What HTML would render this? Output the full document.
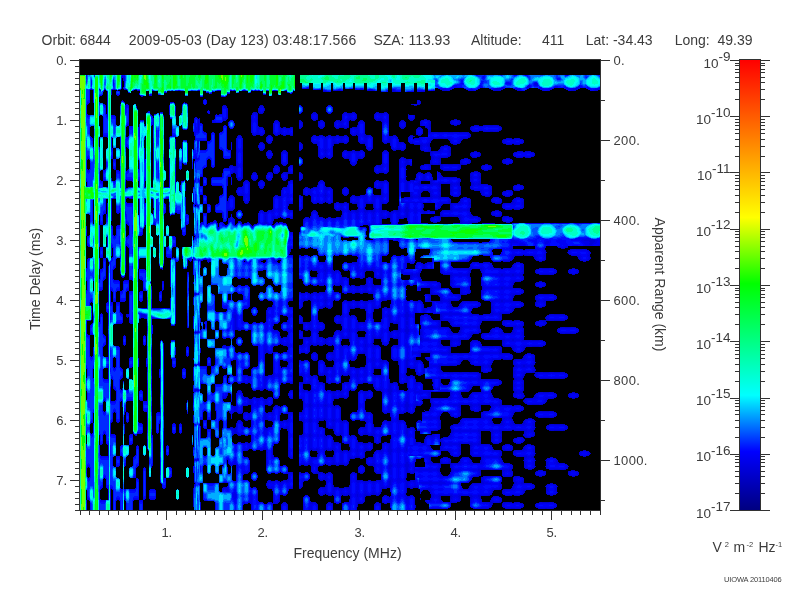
<!DOCTYPE html><html><head><meta charset="utf-8"><style>html,body{margin:0;padding:0;background:#fff;width:800px;height:600px;overflow:hidden}svg{display:block;will-change:transform}text{font-family:"Liberation Sans",sans-serif;fill:#3c3c3c}</style></head><body>
<svg width="800" height="600" viewBox="0 0 800 600">
<defs><linearGradient id="cb" x1="0" y1="0" x2="0" y2="1"><stop offset="0" stop-color="#ff0000"/><stop offset="0.35" stop-color="#ffff00"/><stop offset="0.497" stop-color="#00ff00"/><stop offset="0.745" stop-color="#00ffff"/><stop offset="0.87" stop-color="#0000ff"/><stop offset="1" stop-color="#000080"/></linearGradient></defs>
<text x="41.6" y="44.6" font-size="14" xml:space="preserve">Orbit: 6844</text>
<text x="128.7" y="44.6" font-size="14" xml:space="preserve" textLength="227.6" lengthAdjust="spacing">2009-05-03 (Day 123) 03:48:17.566</text>
<text x="373.4" y="44.6" font-size="14" xml:space="preserve">SZA: 113.93</text>
<text x="471.0" y="44.6" font-size="14" xml:space="preserve">Altitude:</text>
<text x="542.0" y="44.6" font-size="14" xml:space="preserve">411</text>
<text x="585.7" y="44.6" font-size="14" xml:space="preserve">Lat: -34.43</text>
<text x="674.7" y="44.6" font-size="14" xml:space="preserve">Long:  49.39</text>
<rect x="80" y="60" width="520" height="450" fill="#000"/>
<g id="data"><path fill="#0000c9" fill-rule="evenodd" d="M539 502v1h-3v1h-1v3h1v1h2v1h16v-1h2v-1h1v-3h-1v-1h-2v-1zM503 502v1h-1v4h1v1h2v1h16v-1h2v-1h1v-3h-1v-1h-3v-1h-6v1h-2v-1zM376 502v1h-1v1h-1v6h7v-7h-2v-1zM328 502v1h-1v1h-1v6h7v-7h-2v-1zM283 502v1h-1v1h-1v6h7v-6h-1v-1h-1v-1zM420 498v2h1v-2zM305 495v1h-1v1h-1v13h15v-6h-1v-1h-1v-1h-5v-1h-1v-4h-1v-1h-1v-1zM177 489v1h-1v9h1v1h1v-1h1v-9h-1v-1zM150 489v1h-1v9h1v1h5v-1h1v-9h-1v-1zM550 483v1h-3v1h-1v1h-1v1h1v7h1v1h3v1h3v-1h3v-1h1v-1h1v-1h-1v-5h1v-1h-1v-1h-1v-1h-3v-1zM514 476v1h-1v5h1v2h-1v2h-1v2h-1v1h-8v1h-1v4h1v1h2v1h7v-1h2v1h6v-1h3v-1h1v-1h1v-2h1v-1h6v-1h2v-1h1v-3h-1v-1h-2v-1h-8v-5h-1v-1h-3v-1zM299 472v17h2v-1h1v-1h1v-5h1v-1h4v-1h1v-1h1v-5h-1v-1h-1v-1h-3v1h-4v-1zM253 472v1h-1v1h-1v5h1v1h1v1h3v-1h1v-2h1v-3h-1v-2h-1v-1zM571 470v1h-3v4h1v1h3v1h3v-1h3v-1h1v-3h-1v-1h-3v-1zM538 470v1h-2v1h-1v3h1v1h3v1h3v-1h3v-1h1v-4h-3v-1zM187 467v1h-1v9h1v1h1v-1h1v-9h-1v-1zM360 465v1h-1v1h-1v6h2v1h3v-1h1v-1h1v-5h-1v-1h-1v-1zM550 457v1h-3v1h-1v1h-1v1h1v5h-1v1h1v2h3v1h17v-1h2v-2h1v-1h-1v-1h-1v-1h-2v-1h-6v-1h-1v-2h-1v-1h-1v-1h-3v-1zM583 450v1h-3v1h-1v3h1v1h3v1h3v-1h3v-1h1v-1h1v-1h-1v-1h-1v-1h-3v-1zM167 445v1h-1v9h1v1h1v-1h1v-9h-1v-1zM144 445v1h-1v9h1v1h1v-1h1v-9h-1v-1zM527 444v1h-2v1h-1v1h-1v2h-1v1h-8v1h-1v4h1v1h2v1h8v3h-1v1h1v7h1v1h3v1h4v-1h2v-1h1v-1h1v-1h-1v-5h1v-1h-1v-2h-1v-2h1v-2h1v-1h-1v-7h-1v-1h-3v-1zM505 444v1h-2v1h-1v4h1v1h9v-1h1v-4h-1v-1h-2v-1zM517 437v1h-3v1h-1v3h1v1h2v1h5v-1h2v-1h1v-1h1v-2h-1v-1h-1v-1zM192 435v10h1v-10zM549 424v1h-2v1h-1v3h1v1h2v1h16v-1h2v-1h1v-3h-1v-1h-2v-1zM180 423v1h-1v9h1v1h1v-1h1v-9h-1v-1zM173 423v1h-1v9h1v1h2v-1h1v-9h-1v-1zM538 411v1h-2v1h-1v3h1v1h2v1h16v-1h2v-1h1v-3h-1v-1h-2v-1zM187 400v3h-1v7h1v4h1v-14zM572 392v1h-3v1h-1v3h1v1h3v1h3v-1h3v-1h1v-3h-1v-1h-3v-1zM538 392v1h-2v1h-1v1h-1v2h-1v1h-8v1h-1v1h-1v2h1v1h1v1h2v1h16v-1h2v-1h1v-1h1v-2h1v-1h6v-1h2v-1h1v-3h-1v-1h-2v-1zM290 390v1h-1v2h-1v3h1v2h1v1h3v-9zM183 368v1h-1v9h1v1h2v-1h1v-9h-1v-1zM527 353v1h-2v1h-1v1h-1v2h-1v1h-8v1h-1v5h1v2h-1v11h1v2h-1v11h1v2h-1v4h1v1h3v1h6v-1h1v-1h1v-2h-1v-2h-1v-2h1v-11h-1v-2h1v-2h1v-2h1v-1h9v1h-1v2h1v1h1v1h3v1h26v-1h2v-1h1v-3h-1v-1h-2v-1h-30v-1h1v-2h-1v-2h-1v-2h1v-2h1v-1h-1v-7h-1v-1h-3v-1zM313 352v1h-1v1h-1v5h1v1h1v1h4v-1h1v-6h-1v-1h-1v-1zM187 346v1h-1v9h1v1h1v-1h1v-9h-1v-1zM171 340v3h-1v12h1v4h1v8h1v1h2v-1h1v-9h-1v-3h1v-8h-1v-7zM161 340v1h-1v28h-1v9h1v34h-3v1h-1v20h1v1h1v-1h1v-9h1v59h1v1h1v4h1v1h2v-1h1v-10h5v-1h1v-9h-1v-1h-4v1h-1v10h-2v-135h-1v-2h-1v-1zM238 337v1h-1v1h-1v5h1v1h1v1h3v-1h1v-2h1v-3h-1v-2h-1v-1zM144 335v1h-1v9h1v1h1v-1h1v-9h-1v-1zM124 335v1h-1v9h1v1h1v-1h1v-9h-1v-1zM560 327v1h-2v1h-1v3h1v1h2v1h16v-1h2v-1h1v-3h-1v-1h-2v-1zM503 320v1h-1v4h1v1h2v1h8v3h-1v2h-1v1h-7v-1h-1v-2h-1v-1h-1v-1h-2v-1h-4v1h-3v1h-1v1h-1v2h-1v1h-7v1h-1v4h1v1h2v1h18v6h1v1h8v1h1v2h1v1h1v1h2v1h5v-1h2v-1h1v-1h1v-2h1v-1h17v-1h2v-1h1v-3h-1v-1h-2v-1h-19v-3h1v-1h-1v-8h-1v-2h1v-4h-1v-1h-3v-1h-6v1h-2v-1zM549 314v1h-2v1h-1v1h-1v2h1v1h-7v1h-3v1h-1v3h1v1h3v1h3v-1h3v-1h1v-1h1v-2h-1v-1h19v-1h2v-1h1v-3h-1v-1h-2v-1zM253 307v1h-1v1h-1v4h1v2h1v1h3v-1h1v-2h1v-3h-1v-2h-1v-1zM538 294v1h-2v1h-1v4h1v2h-1v4h1v1h3v1h3v-1h3v-1h1v-5h8v-1h2v-1h1v-3h-1v-1h-2v-1zM539 281v1h-3v1h-1v3h1v1h3v1h3v-1h3v-1h1v-3h-1v-1h-3v-1zM162 281v10h-2v1h-1v9h1v1h1v-1h1v-10h1v-1h1v-9zM187 272v56h2v-56zM572 268v1h-3v1h-1v3h1v1h3v1h3v-1h3v-1h1v-3h-1v-1h-3v-1zM539 268v1h-3v1h-1v3h1v1h3v1h15v-1h2v-1h1v-3h-1v-1h-2v-1zM570 249v1h-2v2h-1v1h1v1h1v1h2v1h6v1h1v2h1v1h1v1h3v1h3v-1h3v-1h1v-1h1v-2h-1v-3h1v-2h-1v-1h-1v-1h-2v-1zM503 216v1h-1v4h1v1h3v1h4v-1h2v-1h1v-3h-1v-1h-3v-1zM495 210v1h-3v1h-1v3h1v1h3v1h6v-1h1v-4h-1v-1h-2v-1zM238 210v1h-1v1h-1v5h1v1h1v1h3v-1h1v-2h1v-3h-1v-2h-1v-1zM516 197v1h-2v1h-1v1h-1v2h-1v1h-8v1h-1v4h1v1h2v1h7v-1h2v1h6v-1h3v-1h1v-9h-1v-1h-3v-1zM493 197v1h-1v1h-1v3h1v1h3v1h6v-1h1v-4h-1v-1h-2v-1zM299 195v16h2v-1h1v-1h1v-13h-2v-1zM506 190v1h-3v1h-1v3h1v1h2v1h5v-1h2v-1h1v-4h-1v-1zM344 187v1h-1v1h-1v5h1v1h1v1h3v-1h1v-1h1v-5h-1v-1h-1v-1zM517 184v1h-3v1h-1v4h1v1h6v-1h3v-1h1v-3h-1v-1h-3v-1zM320 180v1h-1v1h-1v3h-1v2h-4v1h-2v1h-1v-1h-2v-1h-3v1h-1v1h-1v6h2v1h3v-1h2v1h1v6h1v1h1v1h4v-1h2v1h4v-1h2v-1h1v1h2v1h3v-1h2v-14h-1v-1h-1v-1h-5v-1h-1v-4h-1v-1h-1v-1zM260 180v1h-1v1h-1v4h1v2h1v1h3v-1h1v-2h1v-4h-1v-1h-1v-1zM245 180v1h-1v1h-1v4h-1v1h-4v1h-1v2h-1v3h1v2h1v1h5v5h1v2h1v1h3v-1h1v-2h1v-19h-1v-1h-1v-1zM299 172v9h2v-1h1v-1h1v-5h-1v-1h-1v-1zM253 172v1h-1v2h-1v4h1v1h1v1h3v-1h1v-1h1v-4h-1v-2h-1v-1zM474 171v1h-3v1h-1v9h1v4h-1v3h1v1h3v1h6v2h1v2h1v1h3v1h5v-1h1v-1h1v-9h-1v-1h-3v-1h-7v-11h-1v-1h-2v-1zM187 170v1h-1v9h1v1h1v-1h1v-9h-1v-1zM290 165v1h-1v1h-1v5h-5v1h-1v1h-1v4h1v2h1v1h3v-1h1v-1h1v-5h5v-9zM275 165v1h-1v2h-1v5h-1v-1h-4v1h-1v2h-1v4h1v1h1v1h3v-1h1v-2h1v-5h1v1h4v-1h1v-1h1v-5h-1v-1h-1v-1zM485 164v1h-3v1h-1v3h1v1h2v1h4v-1h3v-1h1v-3h-1v-1h-3v-1zM506 158v1h-3v1h-1v3h1v1h3v1h3v-1h3v-1h1v-3h-1v-1h-2v-1zM401 157v1h-1v1h-1v47h-1v4h-5v1h-2v1h-2v-1h-2v-1h-5v-6h5v-1h1v-1h1v-20h-1v-1h-1v-1h-3v1h-5v-1h-3v1h-1v1h-1v6h2v1h5v6h-7v-1h-1v-6h-2v-1h-3v1h-1v1h-1v5h-1v1h-5v1h-5v-1h-3v1h-1v1h-1v6h2v1h5v3h1v2h-1v1h-6v1h-1v-1h-1v-7h-2v-1h-3v1h-5v-1h-3v1h-2v6h1v1h1v1h4v-1h1v1h1v4h-1v2h-5v1h-5v-1h-3v1h-2v1h-1v-1h-2v-1h-4v-2h-1v-3h-1v-1h-1v-1h-3v1h-1v1h-1v4h-1v2h-1v-1h-4v1h-1v1h-1v7h-2v1h-1v5h-1v17h2v-1h4v1h3v-1h2v-1h1v1h2v1h4v2h1v4h1v1h5v-1h1v1h1v4h-1v2h-6v-2h-1v-4h-1v-1h-4v1h-2v1h-1v-1h-2v-1h-4v1h-3v-1h-2v24h3v2h1v3h1v1h1v1h3v-1h2v-1h1v1h2v1h4v-1h2v1h5v-1h1v1h1v4h-1v2h-6v1h-2v-1h-4v1h-2v1h-1v-1h-2v-1h-3v1h-4v-1h-2v17h2v-1h1v-1h1v-5h1v-1h4v-1h2v1h1v20h-1v1h-7v-5h-1v-1h-1v-1h-2v9h4v6h2v1h3v-1h2v1h1v5h-1v1h-7v-6h-2v-1h-2v9h4v5h-1v1h-3v9h2v-1h4v1h3v-1h1v-1h1v-6h1v-1h2v1h4v-1h2v1h4v-1h2v-1h1v1h2v1h4v-1h1v1h1v4h-1v2h-5v1h-1v1h-1v5h1v1h1v1h4v-1h1v1h1v4h-1v2h-7v-2h-1v-3h-1v-1h-1v-1h-4v1h-1v14h1v1h5v-1h1v1h1v7h2v1h3v-1h5v1h3v-1h2v-7h1v-1h1v1h5v-1h1v1h1v3h-1v3h-5v1h-2v7h-1v1h-1v-1h-4v1h-5v-1h-4v1h-1v-1h-1v-7h-2v-1h-4v-2h-1v-4h-1v-1h-4v1h-2v-1h-1v-13h-1v-1h-1v-1h-4v1h-3v-1h-2v16h3v1h1v5h-4v17h3v2h1v9h-1v2h-3v9h3v1h1v12h-1v1h-3v31h2v-1h3v1h4v-1h2v1h1v6h1v1h1v1h5v5h1v1h1v1h3v-1h2v1h1v4h-1v2h-5v1h-1v1h-1v5h1v1h1v1h3v-1h2v-1h1v1h2v1h4v-1h1v1h1v7h2v1h3v-1h2v-7h1v-1h1v1h5v-1h1v1h1v3h-1v3h-5v1h-2v7h15v-3h1v-3h5v-1h1v-1h1v-5h1v-1h5v-1h5v1h3v-1h1v-1h1v-2h1v-3h5v-1h3v4h1v4h-1v1h-1v-1h-2v-1h-3v1h-1v1h-1v6h2v1h3v-1h3v5h1v2h24v-2h1v-3h-1v-8h-1v-1h-1v-1h-3v1h-3v-1h-1v-2h1v-5h3v1h3v-1h5v1h2v5h1v-2h1v-1h1v-1h5v1h1v1h1v2h1v4h-1v2h-5v2h1v1h1v1h2v5h19v-1h2v-1h1v-4h6v-1h3v-1h1v-5h8v1h1v10h1v1h2v1h16v-1h2v-1h1v-2h1v-2h8v-1h1v-4h-1v-1h-2v-1h-6v1h-1v1h-1v2h-1v2h-8v-3h-1v-3h9v-1h2v-2h1v-2h1v-1h7v-1h1v-5h-1v-2h1v-5h-1v-1h-18v1h-2v6h-9v1h-1v1h-1v1h-1v2h-1v1h-5v-1h-1v-2h-1v-3h8v-1h1v-1h1v-1h1v-2h1v-1h6v-1h2v-6h21v6h1v1h9v-1h1v-5h-1v-2h1v-4h-1v-1h-2v-1h-6v-1h-1v-2h-1v-2h-1v-2h1v-5h-1v-1h-7v-1h-1v-2h-1v-2h-2v-1h-9v-13h9v1h1v10h1v1h1v1h6v-1h2v-1h1v-11h10v-1h2v1h10v3h-1v2h1v1h1v1h6v-1h3v-1h1v-4h-1v-2h1v-2h1v-1h-1v-5h1v-1h-1v-1h-1v-1h-2v-1h-4v1h-3v1h-1v1h-1v2h-1v1h-7v-1h-1v-2h-1v-2h-1v-2h1v-2h1v-2h1v-1h6v-1h2v-1h1v-3h-1v-1h-2v-1h-7v1h-2v-1h-10v-5h-1v-1h-2v-1h-5v-1h-1v-2h-1v-2h-1v-3h1v-1h1v-2h1v-1h5v-1h2v-1h1v-3h-1v-1h-2v-1h-18v-6h-2v-1h-36v-1h-1v-1h-1v-4h16v-1h3v-1h1v-2h1v-1h1v-1h5v1h1v1h1v2h1v1h3v1h7v6h2v1h5v-1h3v-1h1v-3h-1v-3h1v-2h1v-2h1v-1h7v-1h2v1h9v-1h1v-4h-1v-1h-2v-1h-8v-6h-1v-1h-19v-2h-1v-2h-1v-1h-2v-1h-6v1h-1v1h-1v10h-1v1h-18v-6h6v-1h3v-1h1v-5h8v-1h1v-1h1v-1h1v-2h1v-1h6v-1h2v-4h-1v-4h1v-2h1v-2h19v-1h1v-6h8v-1h2v-1h1v-1h1v-2h1v-1h6v-1h2v-1h1v-3h-1v-1h-2v-1h-8v-3h1v-2h1v-1h6v-1h2v-1h1v-3h-1v-1h-2v-1h-8v-3h1v-2h1v-1h6v-1h2v-1h1v-4h-1v-2h1v-10h-1v-1h-3v-1h-4v1h-2v1h-1v1h-1v2h-1v1h-8v1h-2v-1h-7v-1h-1v-2h-1v-2h-2v-1h-7v1h-4v-1h-7v1h-1v1h-1v3h-1v1h-16v-1h-1v-1h-1v-4h18v-1h1v-1h1v-1h1v-2h1v-1h6v-1h4v1h7v2h1v2h1v1h1v1h8v-1h2v1h7v-1h2v-1h1v-1h1v-2h1v-1h8v-1h1v1h9v1h1v2h1v1h1v1h3v1h3v-1h3v-1h1v-7h1v-1h-1v-2h-1v-2h1v-2h11v1h1v1h3v1h4v-1h3v-2h32v-23h-88v1h-17v-1h-13v1h-10v-1h6v-1h2v-1h1v-3h-1v-1h-2v-1h-5v-1h-1v-1h-1v-2h-1v-4h1v-9h-1v-1h-3v-1h-4v1h-2v1h-1v2h-1v1h-1v1h-7v-4h-1v-1h-1v-1h-8v-13h9v11h1v1h2v1h6v-1h1v-1h1v-9h-1v-4h1v-3h-1v-1h-3v-1h-14v-1h-1v-1h-1v-2h-1v-1h-2v-1h-1v9h-4v-3h-1v-3h-1v-1h-1v-1h-3v1h-2v1h-2v-1h-2v-1h-3v1h-1v1h-1v4h-1v2h-5v1h-3v-1h-1v-3h1v-1h-1v-6h1v-1h-1v-3h1v-1h3v1h2v-7h-6v-1h-2v-1zM441 496h9v6h-7v-1h-1v-1h-1zM407 473h3v1h4v-1h1v7h-5v1h-3v-1h-1v-2h1zM441 464h9v4h1v4h-1v2h-1v1h-1v1h-5v-1h-1v-1h-1v-2h-1v-4h1zM421 458h3v4h1v5h-10v-5h1v-3h5zM326 450h1v1h5v-1h1v1h1v4h-1v2h-7v-2h-1v-4h1zM311 450h1v1h5v2h1v1h-1v3h-6v-1h-1v-5h1zM461 444h8v1h1v10h1v1h1v1h9v3h-1v3h-7v-1h-1v-2h-1v-1h-1v-1h-1v-1h-7v1h-1v1h-1v2h-1v1h-1v1h-7v-4h-1v-1h-2v-1h-5v1h-2v1h-1v4h-7v-1h-1v-1h-1v-4h7v-1h2v-1h1v-4h7v1h1v1h1v2h1v1h2v1h6v-1h1v-1h1zM440 442h1v4h-1v4h-7v-1h-1v-1h-1v-2h-1v-1h10zM324 420h1v1h1v7h2v1h5v2h1v3h1v1h1v1h4v-1h1v1h1v7h2v1h5v3h1v3h-1v1h-1v-1h-5v1h-1v-1h-1v-7h-2v-1h-5v-2h-1v-3h-1v-1h-1v-1h-4v1h-1v-1h-1v-7h-2v-1h-4v-3h-1v-1h1v-2h5zM493 418h9v3h-1v2h-1v1h-6v-1h-1v-2h-1v-2h1zM423 399h7v4h1v4h-1v2h-1v2h-4v-1h-1v1h1v1h-3v9h-1v-1h-3v1h-1v1h-1v6h1v3h3v3h11v-3h7v-1h2v-1h1v-9h-1v-4h1v-2h1v-1h1v-1h5v1h1v1h1v2h1v1h3v1h4v-1h2v-1h1v-11h8v1h1v4h1v1h3v1h5v-1h2v-6h9v1h1v2h-1v2h-1v1h-6v1h-2v6h-19v1h-1v1h-1v2h-1v1h-1v1h-5v1h-2v1h-1v3h1v4h-1v2h-1v1h-1v1h-5v1h-2v1h-1v-5h-8v1h-5v1h-1v1h-1v2h-1v4h-3v-1h-5v-3h-1v-8h1v-1h-1v-2h-1v-1h-4v1h-3v-3h-1v-3h-1v-1h-1v-1h-5v-6h5v-1h2v-1h2v1h2v1h3v-1h1v-1h1v-4h1v-2h5v-1h1v-1h1v-3h-1v-1h1zM431 392h19v4h-1v1h-1v1h-17zM473 386h7v3h1v3h-9v1h-1v1h-1v1h-1v2h-1v1h-5v-1h-1v-2h-1v-3h8v-1h1v-1h1v-1h1v-2h1zM303 384h7v1h1v5h-1v1h-2v-1h-4v-1h-1zM363 383h5v1h5v3h1v2h1v1h1v1h5v1h1v20h1v1h1v1h3v-1h3v4h1v4h-4v-1h-3v1h-1v1h-1v3h-1v2h-7v-3h-1v-10h-1v-1h-1v-1h-5v-2h-1v-9h1v-2h5v-1h1v-1h1v-5h-1v-1h-1v-1h-3v1h-5v-1h-3v1h-1v1h-1v18h-1v2h-5v1h-1v1h-1v5h1v1h1v1h3v-1h5v1h5v1h1v2h-1v3h-5v1h-1v1h-1v5h1v1h1v1h3v-1h5v1h5v1h1v6h2v1h3v-1h2v-6h1v-1h5v-1h4v4h-1v4h-3v-1h-3v1h-2v6h-1v1h-5v1h-1v1h-1v2h-1v3h-5v1h-2v6h1v1h1v1h5v1h1v5h1v1h1v1h5v6h-5v1h-5v-1h-3v1h-5v-1h-6v-7h-2v-1h-3v1h-1v1h-1v11h-1v2h-5v1h-5v-1h-5v-2h-1v-11h-1v-1h-1v-1h-3v1h-2v1h-1v-1h-2v-1h-4v-1h-1v-4h1v-1h4v-1h2v-1h1v1h2v1h3v-1h5v1h3v-1h5v1h3v-1h1v-1h1v-3h1v-2h5v-1h5v1h3v-1h2v-6h1v-1h5v-1h1v-1h1v-6h-2v-1h-3v1h-5v-1h-5v-2h-1v-3h-1v-1h-1v-1h-4v1h-1v-1h-1v-13h-1v-1h-1v-1h-4v1h-1v-1h-1v-13h-1v-1h-1v-1h-4v1h-1v-1h-1v-4h1v-2h5v-1h5v1h3v-1h1v-1h1v-6h1v-1h1v1h4v-1h1v-1h1v-3h1v-2h5zM441 379h9v3h-1v2h-1v1h-5v-1h-1v-1h-1zM374 369h7v6h-7v-1h-1v-1h1zM407 368h3v1h5v3h1v3h2v1h3v-1h2v-1h2v5h7v3h1v2h-1v2h1v3h1v1h-11v-6h-1v-1h-1v-1h-5v-3h-1v-3h-2v-1h-3v1h-3v-1h-1v-2h1zM358 354h7v2h1v9h-1v2h-5v1h-5v-1h-5v-3h-1v-3h1v-1h1v1h4v-1h1v-1h1v-3h1zM421 353h9v4h-5v2h1v1h1v1h2v6h-2v1h-3v-4h-1v-2h-1v-1h-1v-1h-5v-3h5zM441 340h9v6h-7v-1h-1v-1h-1zM342 339h7v3h1v3h-1v1h-1v-1h-5v1h-1v-1h-1v-4h1zM390 338h3v1h5v6h-5v1h-1v1h-1v12h1v1h1v1h5v4h1v18h1v1h4v-1h3v5h1v2h-1v1h-3v-1h-5v-4h-1v-3h-1v-1h-4v1h-3v-4h-1v-17h-1v-1h-1v-1h-5v-1h-1v-12h-1v-1h-1v-1h-5v-1h-1v-1h1v-4h7v3h1v3h2v1h3v-1h1v-1h1v-3h1zM358 331h7v1h1v2h-1v3h-7v-3h-1v-2h1zM390 323h3v1h5v6h-5v1h-2v1h-1v-1h-1v-4h1zM441 321h7v1h1v1h1v2h1v1h1v1h8v3h-1v2h-1v1h-5v-1h-1v-1h-1v-2h-1v-1h-1v-1h-8zM415 313h18v1h7v6h-7v-1h-1v-1h-1v-2h-1v-1h-2v-1h-4v1h-3v1h-1v9h1v4h-1v6h-1v-11h-4zM355 308h5v1h5v2h1v9h-1v2h-7v-2h-1v-3h-1v-1h-1v-1h-4v1h-1v-1h-1v-3h1v-3h5zM387 300h4v4h-1v4h-3v-1h-3v1h-2v11h-1v3h-7v-3h-1v-7h1v-3h5v-1h2v-6h1v-1h5zM431 295h7v1h1v1h1v4h-9zM407 285h3v1h3v-1h4v6h4v-3h9v6h-5v1h-1v1h1v6h7v4h-1v1h-4v1h-3v-4h-1v-2h-1v-1h-1v-1h-3v1h-5v-1h-3v1h-3v-1h-1v-3h1v-1h-1v-6h1v-1h-1v-3h1zM334 285h1v1h5v-1h1v1h1v7h2v1h3v-1h5v1h3v-1h5v1h3v-1h5v1h5v4h1v1h-1v1h-5v1h-5v-1h-3v1h-5v-1h-3v1h-5v-1h-3v1h-1v1h-1v13h-1v1h-1v-1h-4v1h-1v1h-1v5h1v1h1v1h5v2h1v4h-1v1h-1v-1h-4v1h-1v1h-1v3h-1v2h-5v1h-2v1h-1v-1h-2v-1h-4v-3h-1v-1h1v-2h4v-1h1v-1h1v-5h-1v-1h-1v-1h-4v-2h-1v-9h1v-2h4v-1h2v-1h1v1h2v1h3v-1h1v-1h1v-6h1v-1h1v1h4v-1h1v-1h1v-6h-2v-1h-5v-2h-1v-4h1zM401 274h2v1h7v4h-1v1h-7v-1h-1zM311 270h1v1h5v2h1v1h-1v3h-6v-1h-1v-5h1zM472 269h8v2h1v2h1v4h-1v9h1v4h-1v9h1v1h2v1h6v1h1v11h-1v1h-7v1h-4v-1h-7v-1h-1v-2h1v-2h1v-1h5v-1h2v-1h1v-3h-1v-1h-2v-1h-16v1h-1v1h-1v1h-1v2h-1v1h-5v-1h-1v-2h-1v-3h8v-1h1v-1h1v-4h6v-1h3v-1h1v-3h-1v-4h1v-9h-1v-4h1v-3h1zM434 262h6v11h1v1h2v1h7v11h1v1h1v1h8v6h-7v-1h-1v-1h-1v-2h-1v-1h-1v-1h-8v-5h-1v-1h-3v-1h-15v-2h-1v-2h-1v-4h1v-2h1v-2h12zM334 255h1v1h4v-1h5v1h3v-1h5v1h5v1h1v2h-1v3h-5v1h-5v-1h-3v1h-1v1h-1v5h1v1h1v1h4v-1h1v1h1v7h2v1h3v-1h5v1h3v-1h2v-6h1v-1h7v1h1v6h2v1h5v6h-7v-1h-1v-6h-2v-1h-3v1h-2v6h-1v1h-5v1h-5v-1h-4v1h-1v-1h-1v-7h-2v-1h-5v-2h-1v-3h-1v-1h-1v-1h-4v1h-1v-1h-1v-14h1zM493 249h9v3h-1v2h-1v1h-7v-3h-1v-2h1zM416 249h14v4h-1v2h-6v1h-2v1h-1v1h12v4h-5v1h-2v1h-2v-1h-2v-1h-4v1h-1v2h-1v4h-9v-1h1v-5h3v1h4v-1h1v-2h1v-1h-1v-8h1zM513 246h22v3h-10v1h-2v-1h-10zM389 240h4v1h5v1h1v5h1v1h1v1h3v-1h3v5h1v2h-1v1h-3v-1h-3v1h-5v-1h-3v1h-1v1h-1v3h-1v3h-3v-1h-5v-6h5v-1h1v-1h1zM451 239h39v2h-1v1h-7v1h-3v-1h-26v-1h-1v-1h-1zM416 239h2v1h-2zM341 237h2v1h6v-1h5v1h4v2h-6v1h-5v-1h-4v1h-1v-1h-1zM363 225h5v1h1v12h1v1h3v1h-7v-1h-1v-1h1v-1h1v-2h-1v-4h1v-3h-1v-1h-6v-1h3zM404 218h3v3h1v3h-10v-2h1v-3h5zM387 218h3v4h1v2h-9v-5h5zM366 204h7v4h1v1h-1v1h-7v-1h-1v-2h1zM423 203h12v7h3v-1h2v-1h1v-2h1v-1h1v-1h7v6h-8v1h-1v1h-1v4h-6v1h-3v1h-1v3h1v1h2v1h4v-1h3v-1h1v-4h17v1h1v2h1v3h-7v1h-25v-1h-7v-9h14v-3h-5v-1h-3v1h-3v-1h-1v-2h1v-4h-1zM401 192h9v5h-6v1h-3zM423 191h5v1h1v1h1v4h-9v-4h1v-1h1zM421 181h9v3h-9zM299 157v9h2v-1h1v-1h1v-5h-1v-1h-1v-1zM517 151v1h-3v1h-1v3h1v1h2v1h7v-1h2v1h6v-1h3v-1h1v-3h-1v-1h-3v-1h-6v1h-2v-1zM474 151v1h-3v1h-1v3h1v1h1v1h5v-1h3v-1h1v-3h-1v-1h-3v-1zM384 150v1h-1v1h-1v12h-1v1h-5v1h-1v1h-1v5h1v1h1v1h3v-1h5v1h3v-1h1v-1h1v-20h-1v-1h-1v-1zM344 150v1h-1v1h-1v5h1v1h1v1h5v2h1v3h1v1h1v1h3v-1h1v-1h1v-3h1v-2h5v-1h1v-1h1v-5h-1v-1h-1v-1h-3v1h-5v-1h-3v1h-5v-1zM283 150v1h-1v1h-1v12h1v1h1v1h3v-1h1v-1h1v-12h-1v-1h-1v-1zM268 150v1h-1v1h-1v4h1v2h1v1h3v-1h1v-2h1v-3h-1v-2h-1v-1zM299 142v9h2v-1h1v-1h1v-5h-1v-1h-1v-1zM260 142v1h-1v2h-1v3h1v2h1v1h3v-1h1v-1h1v-5h-1v-1h-1v-1zM183 140v2h-1v7h-1v-1h-1v1h-1v20h1v1h1v-1h1v-6h1v1h1v1h3v-3h1v-19h-1v-3zM506 138v1h-3v1h-1v3h1v1h3v1h6v-1h2v1h6v-1h3v-1h1v-3h-1v-1h-3v-1h-6v1h-2v-1zM313 135v1h-1v1h-1v5h1v1h1v1h4v2h1v11h1v1h1v1h3v-1h2v-1h1v1h2v1h3v-1h1v-1h1v-11h1v-2h5v-1h5v1h3v-1h1v-1h1v-5h-1v-1h-1v-1h-3v1h-5v-1h-3v1h-5v-1h-3v1h-2v1h-1v-1h-2v-1h-4v1h-3v-1zM268 135v1h-1v1h-1v5h1v1h1v1h3v-1h1v-2h1v-4h-1v-1h-1v-1zM418 127v1h-1v1h-1v6h2v1h3v-1h1v-1h1v-5h-1v-1h-1v-1zM474 125v1h-3v1h-1v3h1v1h1v1h7v-1h4v1h16v-1h2v-1h1v-3h-1v-1h-2v-1h-16v1h-4v-1zM224 125v1h-1v5h-1v1h-2v1h-1v16h1v1h2v1h1v7h1v1h6v-1h1v-8h1v-8h-1v8h-3v-1h-1v-23h-1v-1zM401 120v1h-1v1h-1v5h1v1h1v1h3v-1h1v-1h1v-5h-1v-1h-1v-1zM360 120v1h-1v1h-1v3h-1v2h-5v1h-2v6h1v1h1v1h4v-1h1v1h1v6h1v1h1v1h5v2h1v3h1v1h1v1h3v-1h1v-1h1v-12h-1v-1h-1v-1h-5v-1h-1v-12h-1v-1h-1v-1zM320 120v1h-2v6h1v1h1v1h3v-1h1v-1h1v-5h-1v-1h-1v-1zM299 120v9h2v-1h1v-1h1v-5h-1v-1h-1v-1zM275 120v1h-1v2h-1v11h1v1h1v1h3v-1h2v-1h1v1h2v1h3v-1h4v1h3v-9h-3v1h-4v-1h-3v1h-2v-1h-1v-5h-1v-1h-1v-1zM230 120v1h-1v1h-1v4h1v2h1v1h3v-1h1v-2h1v-3h-1v-2h-1v-1zM454 119v1h-3v1h-1v3h1v1h3v1h3v-1h3v-1h1v-3h-1v-1h-3v-1zM424 119v1h-3v1h-1v5h5v2h2v1h1v8h-9v1h-5v1h-1v-2h2v-1h-2v-1h-3v1h-1v1h-1v5h1v1h1v1h4v1h6v5h1v1h3v1h6v4h1v4h-1v4h-6v1h-3v1h-1v3h1v1h10v-5h9v4h1v1h2v1h14v-1h3v-1h1v-4h6v-1h3v-1h1v-3h-1v-1h-2v-1h-4v1h-3v1h-1v4h-19v-6h7v-1h2v-1h1v-9h-1v-1h-2v-1h-4v1h-3v1h-1v2h-1v1h-1v1h-7v-4h-1v-4h1v-2h1v-1h1v-1h15v1h1v1h1v2h1v1h2v1h4v-1h3v-1h1v-2h1v-1h1v-1h5v-1h2v-1h1v-3h-1v-1h-1v-1h-38v-11h-1v-1h-3v-1zM195 117v1h-1v5h-1v9h1v4h1v4h-1v10h-1v-1h-1v20h1v-10h2v2h-1v26h-1v6h-1v9h1v1h1v1h-1v9h1v23h1v1h-1v3h-1v-4h-1v10h-1v1h-9v12h1v10h4v-3h1v-6h1v1h1v1h1v-1h1v-2h1v16h1v7h-1v2h1v13h-1v8h1v11h-1v13h1v29h-1v2h1v7h-1v14h1v4h-1v7h1v1h-1v18h1v4h-1v8h1v24h-1v9h1v10h-1v7h1v10h1v1h-1v4h-1v19h1v3h7v-8h-1v-19h3v17h1v1h10v1h1v8h28v-5h1v-1h4v-1h2v1h1v6h22v-6h5v-1h1v-1h1v-7h3v1h3v-1h1v-1h1v-3h1v-2h4v-17h-5v-5h-1v-1h-1v-1h-3v1h-3v-6h-1v-2h-1v-1h-4v-2h-1v-9h1v-2h4v-1h1v-2h1v-11h1v-2h2v1h4v2h1v26h1v1h1v1h3v-47h-5v-5h-1v-1h-1v-1h-3v1h-2v1h-1v-1h-2v-1h-3v1h-1v1h-1v3h-1v2h-4v1h-2v-1h-1v-7h3v1h3v-1h1v-1h1v-6h1v1h4v-1h1v-2h1v-11h1v-2h2v1h3v-1h4v1h3v-77h-4v-2h-1v-3h1v-1h4v-46h-4v-1h1v-2h1v-3h2v-17h-3v-1h-1v-2h-1v-3h-1v-2h-1v-1h-3v-1h-4v1h-1v-1h-2v1h-1v1h-1v1h-2v-1h1v-3h1v-2h4v-1h2v-1h1v1h2v1h3v-1h4v1h3v-9h-4v-1h-1v-3h1v-2h4v-24h-3v1h-2v4h-1v2h-4v1h-1v2h-1v6h-3v-1h-3v1h-1v1h-1v12h-1v1h-4v1h-1v1h-3v-1h-1v-1h-3v1h-1v2h-1v10h-1v1h-3v1h-1v1h-1v-1h-1v-1h-1v-1h-1v-1h-2v1h-3v1h-2v-2h-1v-1h-3v2h-1v1h-1v1h-1v-6h-1v-1h-1v-1h-1v-3h-1v3h-1v1h-2v-7h5v-1h1v-1h1v-12h-1v-1h-1v-1h-3v1h-1v2h-1v3h-1v-15h1v-9h3v8h1v-8h-1v-3h2v-1h2v1h1v4h1v2h1v1h3v-1h1v-1h1v-41h-1v-2h-1v-1h-3v1h-1v2h-1v28h-3v-1h-3v1h-1v2h-5v1h-1v4h-1v4h-10v1h-1v7h1v1h10v2h1v6h-1v1h-2v1h-1v7h-1v1h-2v1h-1v7h1v1h6v5h1v4h-3v1h-1v4h-1v-4h-1v-2h-1v-1h-2v1h-1v1h-3v1h-2v1h-1v-11h3v-1h1v-7h-1v-1h-3v-8h-1v-1h-3v-9h3v-1h1v-7h-1v-1h-3v-8h1v-1h2v-1h1v-7h1v-1h2v1h1v7h1v1h2v-1h1v-34h-1v-1h-2v1h-1v7h-1v1h-3v-8h-1v-1h-2v-1h-1v-7h-1v-1h-2v-5h-1v1h-1v-1h-1v-1zM219 483h9v3h-1v1h-4v1h-1v4h-2v-1h-1zM233 465h3v16h-3v-1h-1v-14h1zM220 465h3v1h-1v8h-3v-8h1zM204 465h2v1h1v7h1v1h2v-1h1v-7h1v-1h2v1h1v7h1v1h3v9h-16v-17h1zM227 460h1v4h1v1h1v1h1v7h-1v1h-2v-7h-1zM249 449h3v1h1v1h3v-1h4v1h3v-1h3v21h1v2h1v1h3v-1h4v1h3v-1h2v-1h1v1h2v1h5v5h-1v1h-4v1h-2v1h-1v-1h-2v-1h-3v1h-4v-1h-3v1h-1v2h-1v3h1v2h1v1h4v2h1v12h-1v-1h-4v1h-1v1h-3v-1h-1v-1h-4v-1h-1v-11h-1v-2h-1v-1h-3v1h-2v-1h-1v-5h-1v-1h-1v-1h-5v-5h1v-1h4v-1h1v-1h1v-12h-1v-2h-1v-1h-4v-1h-1v-5h5v-1h1zM204 447h2v1h1v7h-1v1h-2v-1h-1v-7h1zM234 434h3v1h1v1h3v-1h4v1h3v-1h3v7h-1v1h-2v-1h-3v1h-4v-1h-3v1h-1v1h-3v-1h-1v-1h-1v-6h1v-1h1zM211 429h3v1h1v7h1v1h3v8h-1v1h-2v1h-1v7h-1v1h-2v-1h-1zM265 420h3v1h4v1h1v3h-1v2h-4v1h-2v-1h-1zM220 420h2v1h1v7h-1v9h-1v1h-2v-17h1zM207 420h4v9h-4zM200 420h3v8h1v1h3v8h-1v1h-5v-12h-1zM281 413h2v1h5v5h-1v1h-4v1h-3v-6h1zM228 411h1v2h1v1h1v5h1v-5h1v-1h1v-1h3v1h1v1h4v-1h1v6h1v1h1v1h3v-1h3v7h-1v1h-2v-1h-4v-1h-1v-4h-1v-1h-1v-1h-3v1h-1v2h-1v4h-1v1h-2v-1h-3v1h-3v-16h1zM204 411h2v1h1v8h-4v-8h1zM248 405h3v7h-1v1h-2v-1h-4v1h-1v-7h5zM212 402h2v1h1v8h1v8h-1v1h-4v-17h1zM228 393h2v1h1v8h-7v-1h-1v-2h3v-1h1v-2h1zM212 384h3v8h-1v1h-2v-1h-1v-7h1zM201 384h5v1h1v16h-1v1h-2v-1h-1v-7h-1v-1h-2v-4h1zM228 383h2v1h-2zM234 382h3v1h1v1h3v-1h4v1h3v-1h2v1h1v4h1v2h1v1h3v-1h4v1h3v-1h1v-1h2v1h2v1h4v1h1v6h-1v-1h-4v1h-1v1h-3v-1h-1v-1h-3v1h-4v-1h-3v1h-1v1h-3v-1h-1v-1h-4v-1h-1v-3h-1v-2h-1v-1h-3v1h-1v2h-1v13h-3v-1h-2v-3h1v-18h1v-1h1zM227 375h3v1h-1v2h-1v5h-1zM220 366h2v2h1v1h3v-1h1v7h-3v1h-1v7h-1v1h-7v-8h1v-1h2v-1h1v-7h1zM207 366h4v8h-1v1h-2v-1h-1zM280 360h3v1h4v1h1v3h-1v2h-5v1h-1v-2h-1zM233 360h3v16h-3v-1h-1v-10h-1v-4h2zM266 353h2v1h4v-1h1v21h-1v1h-4v1h-3v-22h1zM280 344h1v1h2v1h4v1h1v3h-1v2h-4v1h-2v1h-1v-1h-2v-1h-5v-5h1v-1h4v-1h2zM200 339h7v8h1v1h7v17h-1v1h-3v-8h-1v-1h-2v1h-1v8h-7v-13h1v-5h-1zM235 330h3v1h3v-1h4v1h3v-1h3v13h1v2h1v1h5v20h-1v1h-4v1h-1v1h-1v7h-3v-1h-5v-5h1v-1h4v-1h1v-1h1v-12h-1v-2h-1v-1h-3v1h-4v-1h-3v1h-2v-1h-1v-5h-1v-1h-1v-1h-1v-6h1v-1h1v-1h1zM219 330h3v8h1v1h3v-1h4v1h1v6h-1v1h-4v-1h-3v1h-1v2h-7v-9h3v-1h1zM200 323h1v3h1v3h-1v1h-1zM216 321h2v1h1v8h-4v-8h1zM207 321h3v1h1v7h1v1h3v9h-8zM280 315h3v1h4v1h1v3h-1v2h-4v1h-1v1h-1v5h1v1h1v1h4v1h1v3h-1v2h-4v1h-2v-2h-1v-4h-1v-1h-1v-1h-4v-1h-1v-3h1v-2h4v-1h1v-1h1zM228 294h3v6h-3zM234 292h3v1h1v1h4v1h1v5h-5v1h-1v1h-3v-1h-1v-1h-1v-6h1v-1h1zM211 285h6v1h1v8h4v14h1v1h4v2h-1v1h-10v-1h-1v-16h-1v-1h-2v-1h-1zM263 270h3v7h1v1h1v1h4v2h1v3h1v1h1v1h3v-1h3v6h-1v2h-2v-1h-4v-2h-1v-3h-1v-1h-1v-1h-3v1h-1v1h-1v5h-1v1h-2v-1h-3v1h-1v2h-1v3h1v2h1v1h3v-1h1v-1h3v1h1v1h4v1h1v3h-1v2h-4v1h-1v2h-1v12h-1v1h-2v-1h-3v1h-4v-1h-3v1h-1v1h-3v-1h-1v-1h-4v-1h-1v-11h1v-1h4v-1h1v-1h1v-20h-1v-1h-1v-1h-3v1h-4v-1h-3v1h-1v1h-3v-1h-1v-1h-1v-6h1v-1h1v-1h3v1h1v1h3v-1h4v1h3v-1h2v1h1v5h1v1h1v1h3v-1h4v1h3v-1h1v-1h1v-5h-1v-1h-1v-1h-4v-2h-1v-4h5zM244 261h1v1h-1zM278 260h3v1h-1v2h-2v-1h-1v-1h1zM263 260h3v2h-1v1h-2v-1h-2v-1h2zM219 260h3v3h1v1h4v1h1v3h-1v7h-1v1h-6v-1h-1zM203 260h4v2h1v1h1v-1h2v23h-3v1h-1v35h-2v1h-1v2h1v5h-2v-7h-2v-4h-1v-10h1v-5h1v-1h1v-26h3v-1h1v-7h-1v-1h-2v1h-1v8h-2v-1h-1v-7h1v-7h2zM227 218h1v6h-1v1h-2v-1h-1v-1h-1v-1h3v-1h1zM200 213h3v9h-2v1h-1zM195 205h1v1h-1zM203 204h4v9h-4zM200 195h3v9h-3zM200 177h3v9h-3zM200 141h7v8h-1v1h-6zM408 114v5h1v1h1v1h3v-1h1v-1h1v-4h-6v-1zM376 112v1h-1v1h-1v5h1v1h1v1h5v1h1v20h1v1h1v1h3v-1h3v3h1v3h1v1h1v1h3v-1h5v1h3v-1h1v-1h1v-5h-1v-1h-1v-1h-5v-3h-1v-2h-1v-1h-1v-1h-3v1h-4v-22h-1v-1h-1v-1h-3v1h-5v-1zM344 112v1h-1v1h-1v6h-1v1h-1v-1h-4v1h-1v1h-1v5h1v1h1v1h3v-1h5v1h3v-1h2v-7h1v-1h1v1h4v-1h1v-1h1v-5h-1v-1h-1v-1h-3v1h-5v-1zM313 112v1h-1v1h-1v5h1v1h1v1h3v-1h2v-6h-1v-1h-1v-1zM208 110v1h-1v2h1v1h2v-3h-1v-1zM328 105v1h-1v1h-1v5h1v1h1v1h3v-1h1v-1h1v-5h-1v-1h-1v-1zM299 105v9h2v-1h1v-1h1v-5h-1v-1h-1v-1zM260 105v1h-1v2h-1v5h-1v-1h-4v1h-1v2h-1v18h1v2h1v1h3v-1h4v1h3v-1h1v-1h1v-4h-1v-2h-1v-1h-4v-1h-1v-13h1v1h4v-1h1v-2h1v-3h-1v-2h-1v-1zM223 105v1h-1v8h-3v1h-2v-1h-1v1h-1v4h-1v1h-2v3h10v-1h1v-1h3v-1h1v-1h1v-11h-1v-2h-1v-1zM417 100v4h-6v1h3v1h3v-1h3v-1h1v-3h-1v-1zM204 99v1h-1v4h1v1h2v-1h1v-4h-1v-1zM300 75v8h2v6h7v-6h4v7h8v-7h2v9h8v-9h2v8h10v-8h2v6h8v-6h2v7h9v-7h3v8h10v-8h4v9h7v-9h4v9h9v-9h4v9h9v-9h3v9h8v-9h3v8h7v-3h3v1h2v1h2v1h8v-1h2v-1h2v-1h10v1h2v1h2v1h8v-1h2v-1h2v-1h9v1h2v1h2v1h8v-1h2v-1h2v-1h8v1h2v1h2v1h8v-1h2v-1h2v-1h9v1h2v1h2v1h8v-1h2v-1h2v-1h10v1h2v1h2v1h8v-1h2v-1h2v-1h6v1h2v1h2v1h8v-1h2v-15zM80 75v435h7v-10h2v1h1v9h21v-21h1v1h1v20h3v-9h1v-1h2v1h1v9h4v-10h1v1h1v9h7v-9h1v-1h5v10h4v-10h2v-1h1v-31h-1v-1h-1v1h-1v32h-4v-21h-1v-1h-2v-10h1v-1h1v-1h1v-20h-1v-1h-1v1h-1v9h-1v1h-1v1h-1v9h-1v1h-2v1h-1v9h1v1h6v10h-1v1h-11v-22h1v-1h1v-9h1v-1h1v-1h1v-10h3v-1h1v-10h1v1h1v1h2v-2h5v-1h1v-9h-1v-1h-3v-1h-1v-55h1v-9h-1v-35h1v-4h2v-1h3v1h3v39h-1v9h1v34h-4v-10h-1v-1h-2v1h-1v9h1v1h3v10h1v1h3v37h1v2h1v26h2v-9h1v-2h1v-31h-1v-101h1v-9h-1v-6h18v4h1v3h4v-2h1v-62h2v-1h1v-13h-1v-1h-2v-10h-1v-1h-6v-10h-1v-1h-1v1h-1v10h-2v-22h1v-1h1v-9h-1v-1h-1v-4h5v14h1v3h1v-1h4v-2h2v1h3v5h1v11h1v5h1v1h2v-1h1v-10h2v-1h1v-9h-1v-1h-2v-17h-1v-6h1v-8h-1v-3h-1v1h-3v4h-1v6h-1v-9h-1v-1h-1v1h-1v-43h-1v-2h3v-1h1v-10h2v-1h1v4h1v1h4v-1h1v-25h-1v-1h-2v-1h-1v1h-1v1h-1v9h-1v2h-1v1h-1v10h-2v-1h-1v-19h-1v-3h-1v-1h-4v3h-1v10h1v4h2v17h-2v1h-1v50h-5v-6h1v-1h1v-9h-1v-1h-1v-55h-1v-3h-3v3h-1v-2h-2v1h-3v4h-1v-2h-1v-1h-1v-1h-1v-3h-2v1h-1v1h-1v13h-1v-2h-1v-4h-4v4h-1v3h-1v-18h-1v-3h-1v-2h-2v1h-1v21h-4v-21h-1v-1h-2v1h-1v-3h-1v-1h-1v-1h-1v1h-1v3h-1v21h-1v1h-2v-1h-1v-9h-1v-1h-4v-20h1v-5h5v1h-1v4h1v1h2v-1h1v-4h-2v-1h3v-1h1v-11h1v3h1v6h-1v2h1v1h3v1h1v2h3v-2h3v-1h3v1h3v2h-1v2h1v1h1v1h2v-1h3v-5h3v5h3v-5h6v4h6v-2h3v-2h18v5h3v-5h12v6h3v-6h3v2h3v1h3v-2h3v-1h6v6h5v-1h1v-2h3v-3h6v2h3v-2h9v2h3v-2h12v4h3v-4h3v5h3v-5h6v4h3v-4h6v2h3v1h2v-1h1v-2h2v-16zM86 490h1v10h-1zM104 478h1v1h1v9h1v1h1v11h-7v-1h-1v-9h1v-1h1v-1h1v-9h1zM88 467h1v1h1v9h-1v1h-1v-1h-1v-9h1zM120 456h2v1h1v32h-2v-1h-1v-9h-1v-1h-2v-1h-1v-10h3v-1h1zM114 456h2v11h-2v-1h-1v-9h1zM99 435h1v10h-1zM86 435h1v9h-1zM104 434h1v1h1v9h1v1h1v11h-7v-1h-1v-10h2v-1h1v-9h1zM91 423h2v10h-1v1h-1v-1h-1v-9h1zM93 413h1v10h-1zM127 401h6v33h-3v1h-1v10h-5v-11h1v-10h-1v-9h1v-3h1v10h1v1h1v-1h1v-9h-1v-1h-2v-10h1zM121 401h1v6h1v38h-2v1h-1v10h-4v-21h-1v-1h-4v-11h1v-1h1v-9h1v-1h1v1h1v9h1v1h2v-1h1v-20h1zM104 401h1v1h1v9h-1v1h-1v-1h-1v-9h1zM86 391h1v9h-1zM111 379h1v1h1v9h1v1h1v1h1v9h-1v1h-4zM93 369h1v9h-1zM86 369h1v9h-1zM104 368h4v11h-4v-1h-1v-9h1zM132 367h1v13h-1v-1h-3v-11h3zM114 357h1v1h1v9h-1v1h-1v-1h-1v-9h1zM90 335h4v12h-1v9h-1v1h-1v-1h-1zM113 302h3v10h-1v1h-1v-1h-1zM91 302h1v1h1v20h-1v1h-1v1h-1v10h-2v-1h-1v-13h4v-1h1v-14h-1v-1h-1v-2h1zM127 291h2v23h-3v3h1v1h1v-1h1v6h1v1h3v33h-3v1h-1v10h-2v1h-1v9h1v1h2v10h-1v1h-3v-1h-1v-8h-1v7h-1v2h-1v-1h-1v-9h1v-1h1v-1h1v-9h-1v-1h-1v-1h-1v-20h-1v-1h-5v-1h-1v-20h1v-1h8v-1h1v-9h-1v-1h-1v-1h-1v-10h5v-1h1v-9h1zM117 291h3v11h-4v-10h1zM111 291h1v1h1v10h-2zM93 281h1v10h-1zM86 281h1v9h-1zM129 280h3v1h1v10h-4zM138 269h1v10h1v1h2v1h1v10h-3v1h-1v9h1v1h2v-1h1v-10h4v17h-9zM99 269h1v10h-1zM140 258h6v12h-1v-1h-6v-10h1zM106 258h1v1h1v3h1v4h-1v36h-1v1h-1v9h1v1h1v44h-4v-1h-1v-9h1v-1h1v-1h1v-9h-1v-1h-1v-1h-1v-20h-1v-1h-1v1h-1v8h-1v-31h3v-1h1v-9h1v-1h1v-1h1zM100 258h3v10h-1v1h-2zM112 248h1v9h-1v1h-1v-2h1zM173 247h3v11h-2v-1h-1v1h-1v-10h1zM103 247h3v11h-3zM99 247h1v11h-1zM126 246h1v1h1v1h1v32h-5v1h-1v9h-1v1h-2v-10h-1v-1h-5v-1h-1v-9h1v-1h1v-1h1v-9h1v-1h3v16h1v3h1v1h2v-1h1v-4h1zM106 237h1v10h-1zM166 236h3v10h-1v1h-2zM86 236h1v10h1v1h4v1h1v9h-1v1h-4v1h-1v9h-1zM151 225h4v1h1v9h1v1h1v-1h1v31h1v3h2v1h1v-4h1v-19h2v10h1v1h4v2h-1v27h1v11h-1v10h-18v-22h-1v-39h2v10h1v1h1v-1h1v-9h-1v-1h-2v-10h-1v-1h-1zM145 225h1v22h-8v-11h4v-1h1v-6h1v-2h1zM100 225h3v22h-3zM126 224h1v1h1v1h1v9h-1v1h-1v1h-1zM99 215h1v10h-1zM104 214h2v10h-1v1h-2v-10h1zM86 214h3v1h1v20h-1v1h-2v-10h-1zM93 200h1v24h-1zM151 199h2v9h1v2h-1v4h-1v-1h-1zM145 199h1v4h-1zM138 199h1v16h-1zM112 199h4v14h1v1h2v-1h1v12h-3v1h-1v9h-1v1h-1v-1h-1v-9h-1v-1h-1v-4h1zM106 199h2v4h-1v11h-1zM127 198h2v1h4v4h-6v-1h-1v-3h1zM180 191h1v1h-1zM86 182h1v4h-1zM145 181h1v6h-1zM138 181h1v6h-1zM103 181h5v6h-5zM126 180h1v1h5v1h1v5h-5v1h-2zM101 170h2v11h-2v-1h-1v-9h1zM138 160h1v9h-1zM111 159h2v10h1v1h2v10h-1v1h-3v-3h-1zM88 159h1v1h1v9h-1v1h-1v-1h-1v-9h1zM119 158h1v13h-1v-1h-3v-11h3zM113 148h3v11h-3zM126 147h1v1h1v1h1v20h-1v1h-1v1h-1zM112 138h1v10h-1zM117 137h3v12h-1v-1h-3v-10h1zM103 137h4v1h1v10h-1v1h-1v20h-1v1h-2zM99 137h1v10h-1zM145 136h1v23h-1v-11h-1v-8h1zM127 126h2v10h-1v1h-2v-10h1zM91 126h3v21h-1v-9h-1v-1h-1v-1h-1v-9h1zM152 125h1v62h-2v-61h1zM100 115h2v1h1v21h-3v-11h-1v-10h1zM104 90h2v1h1v23h-1v-9h-1v-1h-2v-1h-3v-1h-1v-5h1v-1h2v-1h1v-3h1zM90 90h3v13h1v12h-6v-1h-1v-9h1v-1h1v-1h1z"/>
<path fill="#0000d8" fill-rule="evenodd" d="M282 503v2h-1v5h7v-5h-1v-2zM540 502v1h-3v1h-2v3h1v1h3v1h6v-1h2v1h6v-1h3v-1h1v-3h-1v-1h-4v-1h-3v1h-7v-1zM506 502v1h-3v1h-1v3h2v1h2v1h5v-1h4v1h5v-1h3v-1h1v-3h-2v-1h-3v-1h-2v1h-8v-1zM377 502v1h-2v2h-1v5h7v-6h-1v-1h-2v-1zM329 502v1h-2v2h-1v5h7v-6h-1v-1h-2v-1zM420 498v2h1v-2zM495 496v1h-3v1h-1v4h2v1h6v-1h2v-1h1v-3h-1v-1h-3v-1zM305 495v1h-1v1h-1v13h15v-5h-1v-2h-2v-1h-2v1h-1v-1h-1v-1h-1v-4h-1v-1h-1v-1zM177 489v1h-1v9h1v1h1v-1h1v-9h-1v-1zM150 489v1h-1v9h1v1h5v-1h1v-9h-1v-1zM547 484v1h-1v9h1v1h9v-1h1v-9h-1v-1zM517 476v1h-3v1h-1v3h1v1h1v2h-1v1h-1v3h-1v1h-7v1h-2v1h-1v3h1v1h3v1h3v-1h8v1h2v-1h3v-1h2v-3h1v-1h5v-1h3v-1h2v-3h-2v-1h-3v-1h-7v-2h1v-3h-2v-1h-3v-1zM299 472v16h3v-2h1v-4h1v-1h4v-1h1v-1h1v-5h-1v-1h-1v-1h-3v1h-4v-1zM253 472v1h-1v1h-1v5h1v1h1v1h3v-1h1v-2h1v-3h-1v-2h-1v-1zM569 471v1h-1v3h1v1h9v-1h1v-3h-1v-1zM539 470v1h-3v1h-1v3h2v1h7v-1h2v-3h-1v-1h-3v-1zM187 467v1h-1v9h1v1h1v-1h1v-9h-1v-1zM359 466v2h-1v4h1v1h5v-2h1v-4h-1v-1zM547 458v1h-1v9h1v1h3v1h4v-1h6v1h4v-1h3v-1h1v-3h-1v-1h-3v-1h-6v-2h-1v-2h-1v-1zM443 457v1h-2v1h-1v3h1v1h2v1h5v-1h2v-1h1v-3h-1v-1h-3v-1zM580 451v1h-1v3h1v1h9v-1h1v-3h-1v-1zM525 445v1h-1v3h-1v1h-7v1h-2v1h-1v3h2v1h3v1h7v1h-1v10h2v1h8v-1h1v-9h-1v-1h-1v-2h1v-1h1v-9h-2v-1zM167 445v1h-1v9h1v1h1v-1h1v-9h-1v-1zM144 445v1h-1v9h1v1h1v-1h1v-9h-1v-1zM507 444v1h-4v1h-1v3h1v1h3v1h3v-1h3v-1h1v-3h-1v-1h-4v-1zM518 437v1h-3v1h-2v3h1v1h4v1h1v-1h4v-1h1v-3h-1v-1h-3v-1zM192 435v10h1v-10zM551 424v1h-4v1h-1v3h1v1h4v1h3v-1h6v1h3v-1h4v-1h1v-3h-1v-1h-4v-1h-3v1h-6v-1zM180 423v1h-1v9h1v1h1v-1h1v-9h-1v-1zM173 423v1h-1v9h1v1h2v-1h1v-9h-1v-1zM540 411v1h-3v1h-2v3h1v1h3v1h4v-1h6v1h3v-1h4v-1h1v-3h-1v-1h-4v-1h-3v1h-7v-1zM187 400v3h-1v7h1v4h1v-14zM569 393v1h-1v3h1v1h9v-1h1v-3h-1v-1zM540 392v1h-4v1h-1v3h-1v1h-7v1h-2v1h-1v3h1v1h3v1h4v-1h7v1h2v-1h4v-1h1v-2h1v-2h5v-1h4v-1h1v-3h-1v-1h-4v-1h-3v1h-6v-1zM289 391v2h-1v3h1v2h4v-7zM538 372v1h-2v1h-1v3h2v1h3v1h2v-1h7v1h5v-1h6v1h3v-1h4v-1h1v-3h-1v-1h-4v-1h-3v1h-6v-1h-5v1h-6v-1zM183 368v1h-1v9h1v1h2v-1h1v-9h-1v-1zM525 354v1h-1v3h-1v1h-7v1h-2v1h-1v3h1v1h1v2h-1v1h-1v9h1v1h1v2h-1v1h-1v9h1v1h1v2h-1v1h-1v3h2v1h3v1h2v-1h3v-1h1v-3h-1v-1h-1v-2h1v-1h1v-9h-1v-1h-1v-2h1v-1h1v-3h1v-1h7v-1h2v-1h1v-3h-1v-1h-1v-2h1v-1h1v-9h-2v-1zM312 353v1h-1v5h1v1h2v1h1v-1h2v-1h1v-4h-1v-2zM187 346v1h-1v9h1v1h1v-1h1v-9h-1v-1zM171 340v3h-1v12h1v4h1v8h1v1h2v-1h1v-9h-1v-3h1v-8h-1v-7zM161 340v1h-1v28h-1v9h1v34h-3v1h-1v20h1v1h1v-1h1v-9h1v59h1v1h1v4h1v1h2v-1h1v-10h5v-1h1v-9h-1v-1h-4v1h-1v10h-2v-135h-1v-2h-1v-1zM238 337v1h-1v1h-1v5h1v1h1v1h3v-1h1v-2h1v-3h-1v-2h-1v-1zM144 335v1h-1v9h1v1h1v-1h1v-9h-1v-1zM124 335v1h-1v9h1v1h1v-1h1v-9h-1v-1zM562 327v1h-4v1h-1v3h1v1h4v1h3v-1h6v1h3v-1h4v-1h1v-3h-1v-1h-4v-1h-3v1h-6v-1zM540 320v1h-3v1h-2v3h2v1h7v-1h2v-4h-4v-1zM506 320v1h-3v1h-1v3h1v1h3v1h8v2h-1v3h-1v1h-9v-1h-1v-3h-1v-1h-8v1h-2v3h-1v1h-6v1h-2v1h-1v3h1v1h3v1h5v-1h3v1h10v2h-1v3h1v1h2v1h7v1h1v3h1v1h4v1h1v-1h4v-1h1v-3h1v-1h7v-1h7v1h2v-1h4v-1h1v-3h-1v-1h-4v-1h-2v1h-7v-1h-9v-1h1v-10h-1v-1h-1v-2h1v-1h1v-3h-2v-1h-3v-1h-2v1h-8v-1zM551 314v1h-4v1h-1v4h3v1h5v-1h6v1h3v-1h4v-1h1v-3h-1v-1h-4v-1h-3v1h-6v-1zM253 307v1h-1v1h-1v4h1v2h1v1h3v-1h1v-2h1v-3h-1v-2h-1v-1zM540 294v1h-3v1h-2v3h1v1h1v2h-1v1h-1v3h2v1h7v-1h2v-5h6v-1h4v-1h1v-3h-1v-1h-4v-1h-3v1h-6v-1zM537 282v1h-2v3h2v1h7v-1h2v-3h-2v-1zM162 281v10h-2v1h-1v9h1v1h1v-1h1v-10h1v-1h1v-9zM187 272v56h2v-56zM569 269v1h-1v3h1v1h9v-1h1v-3h-1v-1zM540 268v1h-3v1h-2v3h2v1h3v1h2v-1h7v1h3v-1h4v-1h1v-3h-1v-1h-4v-1h-3v1h-7v-1zM572 249v1h-3v1h-1v3h1v1h3v1h6v2h1v2h1v1h9v-1h1v-9h-1v-1h-4v-1h-3v1h-6v-1zM506 216v1h-3v1h-1v3h2v1h8v-1h1v-3h-2v-1h-3v-1zM435 216v1h-3v1h-1v1h-1v1h1v2h8v-1h1v-1h1v-2h-1v-1h-2v-1zM493 211v1h-1v1h-1v1h1v1h1v1h3v1h2v-1h3v-1h1v-3h-1v-1zM238 210v1h-1v1h-1v5h1v1h1v1h3v-1h1v-2h1v-3h-1v-2h-1v-1zM514 198v1h-1v3h-1v1h-7v1h-2v1h-1v3h1v1h3v1h3v-1h8v1h2v-1h3v-1h2v-9h-2v-1zM495 197v1h-3v1h-1v2h1v1h1v1h3v1h2v-1h3v-1h1v-3h-1v-1h-3v-1zM299 195v15h3v-2h1v-11h-1v-1h-2v-1zM507 190v1h-3v1h-1v1h-1v2h1v1h4v1h1v-1h4v-1h1v-3h-1v-1h-3v-1zM343 188v2h-1v3h1v2h5v-2h1v-3h-1v-2zM515 185v1h-2v3h1v1h3v1h2v-1h3v-1h2v-3h-2v-1zM319 181v2h-1v3h-1v1h-3v1h-2v1h-3v-1h-5v2h-1v4h1v1h2v1h1v-1h4v6h1v2h2v1h1v-1h6v1h1v-1h2v-1h3v1h2v1h1v-1h2v-1h1v-12h-1v-2h-2v-1h-1v1h-3v-1h-1v-4h-1v-2zM261 180v1h-2v2h-1v3h1v1h1v1h3v-1h1v-1h1v-3h-1v-2h-2v-1zM246 180v1h-2v2h-1v4h-4v1h-1v1h-1v2h-1v1h1v3h2v1h2v-1h1v1h1v5h1v1h1v1h3v-1h1v-1h1v-4h-1v-3h1v-11h-1v-2h-2v-1zM299 173v7h3v-2h1v-3h-1v-2zM253 173v1h-1v2h-1v2h1v2h5v-2h1v-3h-1v-1h-1v-1zM472 172v1h-1v1h-1v3h1v1h-1v4h1v1h1v2h-1v1h-1v2h1v1h1v1h3v1h5v1h1v3h2v1h3v1h2v-1h3v-1h1v-4h-1v-1h1v-4h-2v-1h-3v-1h-7v-2h1v-4h-1v-1h1v-4h-1v-1zM284 172v1h-2v2h-1v3h1v2h2v1h1v-1h2v-1h1v-5h-1v-1h-1v-1zM269 172v1h-1v1h-1v1h-1v3h1v2h5v-2h1v-4h-1v-1h-2v-1zM187 170v1h-1v9h1v1h1v-1h1v-9h-1v-1zM274 166v2h-1v4h1v1h2v1h1v-1h2v-2h1v-3h-1v-2zM483 165v1h-1v1h-1v2h1v1h8v-1h1v-1h1v-1h-1v-1h-1v-1zM291 165v1h-2v1h-1v5h1v1h1v1h2v-1h1v-7h-1v-1zM443 164v1h-2v1h-1v3h1v1h3v1h4v-1h5v1h3v-1h3v-1h1v-1h1v-3h-2v-1h-6v1h-5v-1zM425 164v1h-3v1h-1v1h-1v1h1v2h9v-1h1v-3h-1v-1h-2v-1zM504 159v1h-1v1h-1v1h1v1h1v1h7v-1h2v-3h-1v-1zM465 158v1h-3v1h-1v1h-1v2h1v1h2v1h3v-1h3v-1h1v-1h1v-2h-1v-1h-4v-1zM400 158v2h-1v50h-1v1h-2v-1h-2v1h-2v1h-1v1h-2v-1h-1v-1h-2v-1h-1v1h-3v-1h-1v-5h1v-2h2v1h2v-1h2v-2h1v-18h-1v-2h-6v1h-1v-1h-6v2h-1v5h2v1h3v-1h2v2h1v5h-1v1h-2v-1h-5v-1h-1v-6h-2v-1h-3v1h-1v1h-1v5h-1v1h-4v1h-3v1h-2v-1h-5v1h-1v5h1v1h2v1h2v-1h2v2h1v6h-3v-1h-3v1h-3v-7h-1v-1h-2v-1h-1v1h-2v1h-3v-1h-2v-1h-1v1h-2v1h-1v4h1v2h2v1h1v-1h4v6h-1v2h-2v-1h-2v1h-3v1h-1v-1h-3v-1h-1v1h-2v1h-3v-1h-2v-1h-3v-1h-1v-3h-1v-2h-5v2h-1v4h-1v1h-3v-1h-1v1h-2v2h-1v6h-2v1h-1v5h-1v17h2v-1h4v1h3v-1h2v-1h1v1h2v1h4v2h1v4h1v1h5v-1h1v1h1v4h-1v2h-6v-2h-1v-4h-1v-1h-4v1h-2v1h-1v-1h-2v-1h-4v1h-3v-1h-2v24h3v2h1v3h1v1h1v1h3v-1h2v-1h1v1h2v1h4v-1h2v1h5v-1h1v1h1v4h-1v2h-5v1h-5v-1h-1v1h-2v1h-3v-1h-2v-1h-2v1h-4v-1h-2v17h1v-1h2v-2h1v-5h4v-1h4v22h-1v1h-3v-1h-2v1h-2v-5h-1v-2h-2v-1h-1v9h2v-1h2v6h1v1h2v1h1v-1h4v7h-1v1h-3v-1h-2v1h-2v-6h-1v-1h-2v-1h-1v9h2v-1h2v7h-4v9h1v-1h6v1h1v-1h2v-1h1v-7h4v1h1v-1h6v1h1v-1h2v-1h3v1h2v1h2v-1h2v1h1v6h-1v1h-3v-1h-1v1h-2v2h-1v3h1v2h2v1h1v-1h4v7h-1v1h-2v-1h-3v1h-2v-1h-1v-5h-1v-1h-2v-1h-1v1h-2v1h-1v12h1v1h2v1h1v-1h4v7h1v1h2v1h1v-1h6v1h3v-1h2v-7h1v-1h2v1h3v-1h3v5h-1v2h-5v1h-2v8h-4v-1h-1v1h-2v1h-3v-1h-2v-1h-2v1h-2v-1h-1v-6h-1v-1h-2v-1h-3v-1h-1v-4h-1v-1h-2v-1h-1v1h-4v-14h-1v-1h-1v-1h-4v1h-3v-1h-2v16h4v7h-2v-1h-2v17h3v1h1v11h-1v1h-3v9h4v14h-4v31h1v-1h5v1h2v-1h4v7h1v1h2v1h2v-1h2v5h1v2h7v7h-1v1h-3v-1h-1v1h-2v2h-1v3h1v2h5v-1h3v1h2v1h2v-1h2v1h1v7h2v1h3v-1h2v-7h1v-1h2v1h2v-1h4v5h-1v2h-5v1h-2v7h15v-5h1v-2h2v1h2v-1h2v-2h1v-6h4v1h1v-1h3v-1h1v1h3v1h1v-1h2v-1h1v-4h1v-2h2v1h2v-1h4v4h1v4h-1v1h-1v-1h-3v-1h-1v1h-2v1h-1v5h1v1h2v1h1v-1h4v5h1v2h24v-13h-1v-1h-5v1h-2v-1h-1v-7h1v-2h1v1h3v1h1v-1h7v1h1v5h1v-3h2v-1h6v1h1v3h1v1h1v2h-1v1h-1v2h-5v2h1v1h3v6h19v-1h2v-1h1v-4h6v-1h2v-1h1v-1h1v-2h-1v-1h1v-1h9v1h1v1h-1v9h1v1h2v1h15v-1h2v-1h2v-4h-2v-1h-8v-1h-1v-3h-1v-2h8v-1h3v-1h1v-3h1v-1h6v-1h2v-1h1v-4h-1v-2h1v-5h-1v-1h-17v1h-2v1h-1v3h1v2h-9v1h-2v1h-1v3h-1v1h-6v-1h-1v-2h-1v-3h8v-1h1v-1h1v-1h1v-2h1v-1h5v-1h2v-1h1v-3h-1v-2h22v6h1v1h7v-1h2v-1h1v-3h-1v-1h-1v-2h1v-1h1v-3h-2v-1h-2v-1h-5v-1h-1v-1h-1v-2h-1v-1h-1v-2h1v-1h1v-3h-1v-1h-2v-1h-6v-1h-1v-3h-1v-1h-3v-1h-8v-2h1v-4h-1v-1h1v-4h-1v-2h11v6h1v1h-1v4h1v1h3v1h3v-1h3v-1h1v-4h-1v-1h1v-4h-1v-2h9v-1h6v1h9v1h-1v4h1v1h3v1h2v-1h3v-1h2v-3h-1v-1h-1v-2h1v-1h1v-9h-1v-1h-8v1h-2v3h-1v1h-9v-1h-1v-3h-1v-1h-1v-2h1v-1h1v-3h1v-1h5v-1h3v-1h2v-3h-1v-1h-3v-1h-3v1h-7v-1h-9v-2h1v-3h-2v-1h-2v-1h-5v-1h-1v-3h-1v-4h1v-1h1v-2h1v-1h4v-1h2v-1h1v-1h1v-1h-1v-1h-1v-1h-3v-1h-4v1h-3v-1h-10v-2h1v-3h-1v-1h-3v-1h-5v1h-3v-1h-7v1h-3v-1h-6v1h-4v-1h-7v-1h-1v-3h-1v-2h9v-1h4v1h3v-1h3v-1h1v-1h1v-2h1v-1h7v1h1v3h2v1h3v1h7v2h-1v3h1v1h3v1h2v-1h3v-1h1v-1h1v-2h-1v-1h-1v-2h1v-1h1v-3h1v-1h6v-1h7v1h3v-1h3v-1h1v-3h-1v-1h-3v-1h-8v-2h1v-3h-1v-1h-2v-1h-6v1h-3v-1h-8v-2h-1v-2h-1v-1h-3v-1h-3v1h-3v1h-1v10h-1v1h-7v1h-3v-1h-9v-2h1v-3h-1v-1h-1v-1h-7v-1h-1v-5h10v2h-1v3h1v1h2v1h3v-1h3v-1h1v-1h1v-2h-1v-1h1v-1h6v-1h3v-1h1v-3h1v-1h6v-1h2v-1h1v-3h-1v-1h-1v-2h1v-1h1v-3h1v-1h8v-1h3v1h6v-1h2v-1h1v-3h-1v-2h7v-1h3v-1h2v-3h1v-1h5v-1h3v-1h2v-3h-2v-1h-3v-1h-7v-2h1v-3h1v-1h5v-1h3v-1h2v-3h-2v-1h-3v-1h-7v-2h1v-3h1v-1h5v-1h3v-1h2v-3h-1v-1h-1v-2h1v-1h1v-9h-2v-1h-8v1h-1v3h-1v1h-7v1h-6v-1h-6v-3h-1v-2h-2v-1h-7v1h-4v-1h-7v1h-1v1h-1v4h-9v1h-1v-1h-7v-1h-1v-1h-1v-4h18v-1h1v-1h1v-1h1v-2h1v-1h6v-1h4v1h7v2h1v2h1v1h1v1h8v-1h2v1h7v-1h2v-1h1v-2h1v-2h7v-1h6v1h7v1h1v3h2v1h7v-1h2v-9h-1v-3h1v-2h11v1h1v1h9v-1h1v-1h32v-23h-88v1h-17v-1h-13v1h-11v-1h5v-1h3v-1h1v-1h1v-1h-1v-1h-1v-1h-2v-1h-5v-1h-1v-3h-1v-1h-1v-2h1v-1h1v-4h-1v-1h1v-3h-1v-1h-1v-1h-3v-1h-1v1h-4v1h-1v3h-1v1h-7v1h-1v1h-1v3h1v2h-7v1h-3v1h-1v3h1v1h2v1h5v-1h4v1h7v1h1v3h1v1h-1v1h-5v1h-28v-1h-6v-9h14v-3h-6v-1h-1v1h-3v1h-1v-1h-1v-8h12v7h1v-1h4v-1h1v-3h1v-1h7v-1h1v-1h1v-3h-1v-1h-3v-1h-7v-2h1v-3h-1v-3h1v-3h-1v-2h11v2h-1v3h1v3h-1v3h1v1h3v1h3v-1h3v-1h1v-3h-1v-2h1v-4h-1v-1h-1v-2h1v-1h1v-2h-1v-1h-1v-1h-3v-1h-3v1h-4v-1h-7v-1h-1v-3h-1v-1h-3v8h-2v1h-2v-1h-1v-6h-1v-1h-5v1h-4v-1h-5v1h-1v6h-1v1h-2v-1h-2v1h-2v1h-2v-1h-1v-16h1v-1h2v1h3v-6h-4v1h-2v-1h-1v-1zM440 496h11v2h-1v4h-7v-1h-1v-1h-1v-2h-1zM407 472h1v1h3v1h3v-1h1v7h-4v1h-2v1h-2v-1h-1v-7h1zM421 458h3v3h1v6h-10v-5h1v-3h5zM325 450h4v1h1v-1h4v7h-1v1h-2v-1h-3v1h-1v-1h-1v-2h-1zM311 450h2v1h5v4h-1v2h-6v-1h-1v-5h1zM461 444h9v1h1v1h-1v4h1v1h-1v4h1v1h3v1h8v2h-1v3h-1v1h-8v-1h-1v-3h-1v-1h-3v-1h-3v1h-3v1h-1v3h-1v1h-7v1h-1v1h-1v3h1v1h1v2h-1v1h-1v2h-1v1h-1v1h-6v-1h-1v-3h-1v-1h-1v-2h1v-1h1v-3h-1v-1h-2v-1h-6v-1h-1v-5h7v-1h2v-1h1v-4h8v1h1v3h1v1h3v1h3v-1h3v-1h1v-4h-1v-1h1v-4h-1v-1h1zM440 441h1v2h1v2h-1v1h-1v4h-7v-1h-1v-1h-1v-2h-1v-1h10zM323 420h3v7h1v1h2v1h1v-1h3v1h1v5h1v1h2v1h2v-1h2v1h1v7h2v1h5v2h1v5h-3v-1h-2v1h-4v-7h-1v-1h-2v-1h-2v1h-2v-1h-1v-5h-1v-1h-2v-1h-1v1h-4v-7h-1v-1h-2v-1h-3v-1h-1v-5h5zM493 418h9v5h-1v1h-8v-1h-1v-4h1zM431 392h19v5h-1v1h-7v1h-4v-1h-5v1h-2v1h-1v2h1v2h1v2h-1v1h-1v3h-1v1h-4v1h-3v9h-5v2h-1v4h1v4h3v3h11v-3h6v-1h2v-1h1v-1h1v-2h-1v-3h1v-3h-1v-1h-1v-2h1v-1h1v-2h1v-1h1v-1h5v1h1v1h1v1h1v1h1v1h3v1h1v-1h4v-1h1v-4h-1v-1h1v-4h-1v-1h1v-1h9v1h1v1h-1v2h1v1h1v1h3v1h2v-1h3v-1h1v-3h-1v-2h11v4h-1v1h-1v1h-5v1h-2v1h-1v3h1v2h-10v1h-3v-1h-5v1h-3v1h-1v3h-1v1h-5v1h-2v1h-1v1h-1v2h1v1h1v2h-1v1h-1v3h-1v1h-5v1h-2v1h-1v1h-1v-6h-7v1h-1v1h-2v-1h-2v1h-2v1h-1v4h-1v2h-4v-1h-4v-2h-1v-11h-1v-1h-2v-1h-1v1h-3v1h-1v-2h-1v-5h-1v-1h-2v-1h-2v1h-2v-1h-1v-3h1v-3h4v-1h2v-1h4v1h5v-1h1v-6h1v-1h2v1h2v-1h2v-1h1v-3h-1v-1h1v-1h5v-1h2v-1h1zM439 389h1v1h-1zM472 386h8v3h1v3h-7v1h-3v1h-1v3h-1v1h-7v-1h-1v-5h7v-1h2v-1h1v-3h1zM362 383h6v1h5v2h1v3h1v1h2v1h2v-1h2v1h1v20h1v2h7v3h1v6h-3v-1h-5v1h-1v3h-1v2h-5v1h-2v-2h-1v-11h-1v-2h-2v-1h-4v-2h-1v-10h1v-2h2v1h2v-1h2v-2h1v-4h-1v-1h-2v-1h-1v1h-3v1h-1v-1h-3v-1h-1v1h-2v1h-1v18h-1v2h-5v1h-1v1h-1v5h1v1h1v1h3v-1h5v1h5v1h1v4h-1v2h-2v-1h-2v1h-2v2h-1v4h1v1h2v1h1v-1h3v-1h1v1h3v1h2v-1h2v1h1v6h1v1h2v1h1v-1h2v-1h1v-5h1v-1h5v-1h4v7h-1v2h-2v-1h-2v-1h-1v1h-2v1h-1v6h-1v1h-2v-1h-2v1h-2v1h-1v4h-1v2h-2v-1h-2v1h-2v1h-1v5h1v1h2v1h1v-1h3v1h1v5h1v2h2v1h4v6h-4v1h-3v1h-1v-1h-3v-1h-1v1h-3v1h-1v-1h-3v-1h-1v1h-4v-7h-1v-1h-5v2h-1v11h-1v2h-3v-1h-1v1h-2v1h-3v-1h-2v-1h-1v1h-3v-1h-1v-12h-1v-2h-5v1h-3v-1h-2v-1h-2v1h-2v-6h1v-1h4v-1h2v-1h1v1h3v1h1v-1h2v-1h3v1h2v1h1v-1h2v-1h3v1h5v-2h1v-4h1v-1h2v1h2v-1h2v-1h3v1h2v1h1v-1h2v-1h1v-7h4v1h1v-1h2v-1h1v-5h-1v-1h-2v-1h-1v1h-3v1h-1v-1h-3v-1h-2v1h-2v-2h-1v-4h-1v-1h-2v-1h-2v1h-2v-1h-1v-13h-1v-1h-2v-1h-1v1h-4v-13h-1v-2h-2v-1h-1v1h-4v-7h1v-1h3v1h1v-1h2v-1h3v1h5v-2h1v-5h1v-1h1v1h4v-1h1v-1h1v-3h1v-2h4zM303 383h2v1h2v-1h3v1h1v7h-4v-1h-4zM440 379h10v3h-1v2h-1v1h-5v-1h-1v-1h-1v-2h-1zM374 368h2v1h5v6h-5v1h-1v-1h-1v-1h-1v-4h1zM407 367h1v1h3v1h4v2h1v3h1v1h2v1h1v-1h2v-1h3v5h8v10h1v1h-11v-6h-1v-1h-2v-1h-4v-2h-1v-3h-1v-1h-2v-1h-1v1h-2v1h-2v-1h-1v-7h1zM420 353h10v4h-5v2h1v1h2v1h1v6h-1v1h-4v-2h-1v-4h-1v-1h-2v-1h-2v1h-2v-1h-1v-3h6v-2h-1zM363 353h2v2h1v11h-1v2h-2v-1h-2v1h-2v1h-3v-1h-2v-1h-4v-3h-1v-3h1v-1h1v1h3v-1h2v-2h1v-2h1v-2h5zM420 338h1v2h-1zM347 338h2v2h1v5h-1v1h-2v-1h-3v1h-2v-1h-1v-4h1v-2h5zM390 337h2v1h2v1h2v-1h1v1h1v2h1v3h-1v1h-4v1h-2v1h-1v12h1v1h2v1h4v1h1v20h1v1h2v1h1v-1h3v-1h1v3h1v5h-1v1h-3v-1h-5v-1h-1v-5h-1v-1h-2v-1h-1v1h-2v1h-2v-2h-1v-20h-1v-1h-2v-1h-2v1h-2v-1h-1v-13h-1v-1h-2v-1h-2v1h-2v-1h-1v-5h1v-2h2v1h3v-1h2v2h1v4h1v1h5v-1h1v-5h1zM357 330h3v1h3v-1h1v1h1v1h1v4h-1v2h-2v-1h-3v1h-2v-2h-1zM390 322h1v1h3v1h2v-1h1v1h1v2h1v4h-1v1h-2v-1h-2v1h-2v1h-3v-8h1zM415 313h18v1h7v5h1v1h1v1h7v1h1v3h1v1h3v1h6v1h1v1h-1v3h-1v1h-7v-1h-1v-3h-1v-1h-3v-1h-7v-2h1v-3h-1v-1h-1v-1h-7v-1h-1v-3h-1v-1h-3v-1h-2v1h-3v1h-1v1h-1v8h1v4h-1v3h1v3h-2v-11h-4zM356 307h3v1h2v1h2v-1h2v2h1v10h-1v2h-5v1h-2v-2h-1v-3h-1v-2h-2v-1h-1v1h-4v-6h1v-2h2v1h2v-1h2zM386 300h5v5h-1v3h-4v-1h-1v1h-2v1h-1v11h-1v2h-7v-2h-1v-10h1v-2h2v1h2v-1h2v-1h1v-5h1v-1h4zM407 285h3v1h3v-1h4v6h4v-3h10v2h-1v3h1v1h2v1h5v1h1v1h1v2h1v2h-11v-2h1v-3h-1v-1h-2v-1h-3v1h-1v1h1v6h7v5h-4v1h-4v-2h-1v-4h-1v-1h-2v-1h-1v1h-6v-1h-3v1h-3v-1h-1v-3h1v-1h-1v-6h1v-1h-1v-3h1zM334 285h1v1h4v-1h2v1h1v7h2v1h3v-1h6v1h1v-1h2v-1h3v1h2v1h1v-1h3v-1h1v1h3v1h4v4h1v1h-1v1h-4v1h-3v1h-1v-1h-3v-1h-1v1h-2v1h-3v-1h-2v-1h-1v1h-2v1h-3v-1h-2v-1h-1v1h-2v1h-1v14h-7v2h-1v3h1v2h2v1h1v-1h3v1h1v7h-4v-1h-1v1h-2v2h-1v3h-1v1h-1v1h-1v-1h-2v1h-2v1h-3v-1h-2v-1h-3v-1h-1v-5h4v-1h2v-2h1v-3h-1v-2h-2v-1h-3v-1h-1v-10h1v-2h3v-1h2v-1h3v1h5v-2h1v-5h1v-1h1v1h4v-1h1v-1h1v-6h-2v-1h-5v-2h-1v-4h1zM401 274h2v1h8v2h-1v2h-1v1h-7v-1h-1zM311 270h2v1h5v4h-1v2h-6v-1h-1v-5h1zM470 268h1v1h-1zM434 262h6v10h1v1h1v1h3v1h6v2h-1v3h1v3h-1v3h1v1h1v1h8v6h3v1h3v-1h3v-1h1v-1h1v-2h-1v-4h1v-9h-1v-1h-1v-2h1v-1h1v-4h9v1h1v3h1v4h-1v9h1v1h1v2h-1v1h-1v9h1v1h2v1h6v1h1v5h1v1h-1v6h-7v1h-6v-1h-6v-1h-1v-2h1v-2h1v-1h4v-1h2v-1h1v-1h1v-2h-1v-1h-3v-1h-5v1h-3v-1h-5v1h-3v1h-1v2h-1v1h-1v1h-6v-1h-1v-3h-1v-2h7v-1h3v-1h1v-4h-2v-1h-6v-1h-1v-1h-1v-2h-1v-1h-1v-1h-8v-4h-1v-1h-1v-1h-3v-1h-3v1h-5v-1h-6v-1h-1v-3h-1v-1h-1v-2h1v-1h1v-2h1v-2h12zM334 255h1v1h4v-1h5v1h3v-1h5v1h5v1h1v2h-1v3h-5v1h-5v-1h-3v1h-1v1h-1v5h1v1h1v1h4v-1h1v1h1v7h2v1h3v-1h6v1h1v-1h2v-1h1v-6h1v-1h2v1h3v-1h2v1h1v6h1v1h2v1h4v6h-5v1h-2v-1h-1v-6h-1v-1h-2v-1h-1v1h-2v1h-1v7h-4v-1h-1v1h-2v1h-3v-1h-2v-1h-2v1h-2v-1h-1v-7h-2v-1h-3v1h-2v-1h-1v-5h-1v-1h-2v-1h-1v1h-4v-15h1zM493 249h9v3h-1v2h-1v1h-7v-3h-1v-2h1zM416 249h14v4h-1v2h-6v1h-2v1h-1v1h12v4h-5v1h-2v1h-2v-1h-2v-1h-4v1h-1v2h-1v4h-9v-1h1v-5h3v1h4v-1h1v-2h1v-1h-1v-8h1zM513 246h22v3h-8v1h-6v-1h-8zM389 240h4v1h5v1h1v5h1v1h1v1h3v-1h3v5h1v2h-1v1h-3v-1h-3v1h-5v-1h-3v1h-1v1h-1v3h-1v3h-3v-1h-5v-6h5v-1h1v-1h1zM451 239h39v2h-1v1h-7v1h-3v-1h-26v-1h-1v-1h-1zM416 239h2v1h-2zM341 237h2v1h6v-1h5v1h4v2h-6v1h-5v-1h-4v1h-1v-1h-1zM363 225h5v1h1v12h1v1h3v1h-7v-1h-1v-1h1v-1h1v-2h-1v-4h1v-3h-1v-1h-6v-1h3zM406 217h1v2h1v5h-10v-4h1v-1h1v-1h1v1h2v-1h3zM388 217h2v2h1v5h-10v-4h1v-2h2v1h2v-1h2zM366 203h2v1h3v-1h2v2h1v5h-1v1h-2v-1h-3v1h-2v-1h-1v-5h1zM401 202h1v1h-1zM401 192h9v3h1v2h-6v1h-3v1h-1zM422 191h7v1h1v3h1v2h-11v-2h1v-3h1zM421 181h9v1h1v2h-11v-2h1zM299 157v9h2v-1h1v-1h1v-5h-1v-1h-1v-1zM472 152v1h-1v1h-1v2h1v1h4v1h1v-1h3v-1h1v-1h1v-1h-1v-1h-1v-1zM518 151v1h-3v1h-2v3h1v1h3v1h3v-1h8v1h2v-1h3v-1h2v-3h-2v-1h-3v-1h-2v1h-8v-1zM383 151v2h-1v12h-1v1h-3v-1h-1v1h-2v2h-1v3h1v2h6v-1h1v1h6v-2h1v-19h-1v-1zM282 151v2h-1v10h1v2h2v1h1v-1h2v-1h1v-11h-1v-2zM267 151v2h-1v3h1v1h1v1h3v-1h1v-1h1v-3h-1v-1h-1v-1zM353 150v1h-2v1h-3v-1h-5v2h-1v3h1v2h2v1h1v-1h3v1h1v4h1v2h5v-2h1v-3h1v-2h3v1h1v-1h2v-2h1v-4h-1v-1h-2v-1h-1v1h-2v1h-3v-1h-2v-1zM445 145v1h-3v1h-1v1h-1v2h-1v1h-6v1h-2v1h-1v2h1v2h1v2h-1v2h-1v2h1v1h2v1h5v-1h2v-1h1v-3h-1v-2h6v-1h3v-1h1v-1h1v-2h-1v-3h1v-3h-1v-1h-4v-1zM299 143v7h3v-2h1v-3h-1v-2zM260 143v1h-1v2h-1v1h1v2h1v1h4v-2h1v-3h-1v-2zM183 140v2h-1v7h-1v-1h-1v1h-1v20h1v1h1v-1h1v-6h1v1h1v1h3v-3h1v-19h-1v-3zM507 138v1h-3v1h-1v1h-1v1h1v1h1v1h3v1h2v-1h8v1h2v-1h3v-1h2v-3h-2v-1h-3v-1h-2v1h-8v-1zM314 135v1h-2v2h-1v3h1v2h2v1h3v1h1v11h1v2h5v-1h3v1h5v-2h1v-12h1v-1h3v1h1v-1h2v-1h3v1h5v-2h1v-3h-1v-2h-2v-1h-1v1h-2v1h-3v-1h-2v-1h-1v1h-2v1h-3v-1h-2v-1h-1v1h-2v1h-3v-1h-2v-1h-1v1h-6v-1zM269 135v1h-2v2h-1v3h1v2h5v-2h1v-3h-1v-2h-2v-1zM417 128v2h-1v4h1v1h5v-1h1v-5h-1v-1zM475 125v1h-3v1h-1v1h-1v2h1v1h3v1h3v-1h8v1h5v-1h3v1h4v-1h3v-1h1v-1h1v-1h-1v-1h-1v-1h-3v-1h-4v1h-3v-1h-5v1h-8v-1zM224 125v1h-1v5h-1v1h-2v1h-1v16h1v1h2v1h1v7h1v1h6v-1h1v-8h1v-8h-1v8h-3v-1h-1v-23h-1v-1zM400 121v2h-1v3h1v2h5v-2h1v-4h-1v-1zM359 121v1h-1v4h-1v2h-2v-1h-2v1h-2v1h-1v5h1v1h2v1h1v-1h4v6h1v2h2v1h2v-1h2v2h1v4h1v1h5v-2h1v-10h-1v-2h-2v-1h-1v1h-4v-13h-1v-2zM299 121v7h3v-2h1v-3h-1v-2zM274 121v2h-1v10h1v2h2v1h1v-1h2v-1h3v1h2v1h1v-1h8v-7h-1v-1h-1v1h-6v-1h-1v1h-4v-5h-1v-2zM452 120v1h-1v1h-1v1h1v1h1v1h7v-1h1v-1h1v-1h-1v-1h-1v-1zM422 120v1h-1v1h-1v2h1v2h4v1h1v1h2v9h-9v1h-4v1h-2v-2h1v-1h-5v2h-1v4h1v1h2v1h1v-1h1v1h2v1h6v2h-1v2h1v1h1v1h3v1h3v-1h2v-1h1v-2h-1v-2h-1v-2h1v-1h1v-3h1v-1h6v-1h5v1h6v1h1v3h1v1h4v1h1v-1h3v-1h1v-1h1v-2h1v-1h5v-1h2v-1h1v-1h1v-2h-1v-1h-3v-1h-5v1h-3v-1h-6v1h-5v-1h-5v1h-5v-1h-8v-2h1v-3h-1v-3h1v-2h-1v-1h-1v-1zM321 120v1h-2v1h-1v4h1v2h5v-2h1v-3h-1v-2h-2v-1zM230 120v1h-1v1h-1v4h1v2h1v1h3v-1h1v-2h1v-3h-1v-2h-1v-1zM195 117v1h-1v5h-1v9h1v4h1v4h-1v10h-1v-1h-1v20h1v-10h2v2h-1v26h-1v6h-1v9h1v1h1v1h-1v9h1v23h1v1h-1v3h-1v-4h-1v10h-1v1h-9v12h1v10h4v-3h1v-6h1v1h1v1h1v-1h1v-2h1v16h1v7h-1v2h1v13h-1v8h1v11h-1v13h1v29h-1v2h1v7h-1v14h1v4h-1v7h1v1h-1v18h1v4h-1v8h1v24h-1v9h1v10h-1v7h1v10h1v1h-1v4h-1v19h1v3h7v-8h-1v-19h3v17h1v1h10v1h1v8h28v-5h1v-1h4v-1h2v1h1v6h22v-6h4v-1h2v-2h1v-6h3v1h3v-1h1v-1h1v-3h1v-2h3v-1h1v-15h-1v-1h-4v-5h-1v-1h-1v-1h-3v1h-3v-6h-1v-2h-1v-1h-4v-2h-1v-9h1v-2h4v-1h1v-2h1v-11h1v-2h2v1h4v1h1v5h1v1h-1v14h1v1h-1v5h1v2h4v-45h-1v-1h-4v-5h-1v-1h-1v-1h-3v1h-2v1h-1v-1h-3v-1h-1v1h-2v1h-1v4h-1v1h-4v1h-2v-1h-1v-7h4v1h1v-1h2v-2h1v-5h1v1h4v-1h1v-2h1v-11h1v-2h2v1h3v-1h4v1h2v-1h1v-76h-4v-2h-1v-3h1v-1h4v-46h-4v-1h1v-2h1v-3h2v-17h-3v-1h-1v-2h-1v-3h-1v-2h-1v-1h-3v-1h-4v1h-1v-1h-2v1h-1v1h-1v1h-2v-1h1v-4h1v-1h3v-1h3v-1h1v1h2v1h3v-1h4v1h2v-1h1v-7h-1v-1h-3v-1h-1v-4h1v-1h4v-23h-1v-1h-1v1h-2v1h-1v4h-1v1h-3v1h-2v2h-1v6h-1v1h-1v-1h-5v2h-1v12h-4v1h-2v1h-3v-1h-5v2h-1v10h-1v1h-3v1h-1v1h-1v-1h-1v-1h-1v-1h-1v-1h-2v1h-3v1h-2v-2h-1v-1h-3v2h-1v1h-1v1h-1v-6h-1v-1h-2v-4h-1v4h-2v1h-1v5h-1v1h-2v-1h-1v-1h-1v-1h3v-1h1v-4h1v-7h2v1h2v-1h2v-2h1v-10h-1v-2h-4v1h-1v1h-1v4h-1v-17h1v-3h-1v-3h1v-2h3v8h1v-8h-1v-3h1v-1h2v-1h1v1h1v5h1v1h1v1h1v1h1v-1h2v-2h1v-11h-1v-3h1v-12h-1v-3h1v-11h-1v-1h-1v-1h-3v1h-1v1h-1v11h1v3h-1v15h-2v-1h-4v1h-1v1h-5v1h-1v5h-1v3h-10v1h-1v7h1v1h10v2h1v6h-1v1h-2v1h-1v7h-1v1h-2v1h-1v7h1v1h6v5h1v4h-3v1h-1v4h-1v-4h-1v-2h-1v-1h-2v1h-1v1h-3v1h-2v1h-1v-11h3v-1h1v-7h-1v-1h-3v-8h-1v-1h-3v-9h3v-1h1v-7h-1v-1h-3v-8h1v-1h2v-1h1v-7h1v-1h2v1h1v7h1v1h2v-1h1v-34h-1v-1h-2v1h-1v7h-1v1h-3v-8h-1v-1h-2v-1h-1v-7h-1v-1h-2v-5h-1v1h-1v-1h-1v-1zM219 483h9v3h-1v1h-3v1h-2v4h-2v-1h-1zM232 465h4v16h-3v-1h-1zM220 465h3v1h-1v8h-3v-8h1zM204 465h2v1h1v7h1v1h2v-1h1v-7h1v-1h2v1h1v7h1v1h3v9h-16v-17h1zM227 460h1v4h1v1h1v1h1v7h-1v1h-2v-7h-1zM249 449h3v1h1v1h3v-1h4v1h2v-1h4v21h1v2h1v1h3v-1h4v1h3v-1h2v-1h1v1h2v1h5v6h-4v1h-2v1h-3v-1h-2v-1h-1v1h-6v-1h-1v1h-2v3h-1v2h1v2h2v1h3v2h1v12h-1v-1h-4v1h-1v1h-3v-1h-1v-1h-4v-1h-1v-11h-1v-2h-1v-1h-3v1h-2v-1h-1v-5h-1v-1h-1v-1h-5v-5h1v-1h3v-1h2v-1h1v-12h-1v-2h-1v-1h-4v-1h-1v-5h4v-1h2zM204 447h2v1h1v7h-1v1h-2v-1h-1v-7h1zM235 433h1v1h1v1h2v1h2v-1h4v1h3v-1h3v7h-1v1h-3v-1h-2v1h-4v-1h-3v1h-1v1h-3v-1h-1v-1h-1v-7h2v-1h1zM211 429h3v1h1v7h1v1h3v8h-1v1h-2v1h-1v7h-1v1h-2v-1h-1zM265 420h4v1h3v1h1v3h-1v2h-4v1h-2v-1h-1zM220 420h2v1h1v7h-1v9h-1v1h-2v-17h1zM207 420h4v9h-4zM200 420h3v8h1v1h3v8h-1v1h-5v-12h-1zM281 413h2v1h5v6h-5v1h-3v-6h1zM204 411h2v1h1v8h-4v-8h1zM249 404h2v8h-1v1h-3v-1h-1v1h-2v1h-1v4h1v2h2v1h1v-1h4v7h-1v1h-2v-1h-4v-1h-1v-3h-1v-2h-2v-1h-1v1h-1v1h-1v1h-1v5h-1v1h-1v-1h-2v-1h-1v1h-4v-16h1v-1h1v1h1v1h1v6h1v-6h2v-1h1v-1h1v1h1v1h2v1h1v-1h2v-1h1v-6h4v-1h2zM212 402h2v1h1v8h1v8h-1v1h-4v-17h1zM228 393h2v1h1v8h-7v-1h-1v-3h3v-1h1v-2h1zM212 384h3v8h-1v1h-2v-1h-1v-7h1zM201 384h5v1h1v16h-1v1h-2v-1h-1v-7h-1v-1h-2v-4h1zM228 383h2v1h-2zM234 382h3v1h1v1h3v-1h5v1h1v-1h3v1h1v4h1v2h1v1h3v-1h4v1h2v-1h2v-1h2v1h2v1h4v1h1v6h-1v-1h-3v1h-2v1h-3v-1h-2v-1h-1v1h-6v-1h-1v1h-2v1h-1v1h-1v-1h-1v-1h-2v-1h-3v-1h-1v-3h-1v-2h-5v2h-1v13h-1v1h-1v-1h-3v-4h1v-18h1v-1h1zM227 375h3v1h-1v2h-1v5h-1zM220 366h2v2h1v1h3v-1h1v7h-3v1h-1v7h-1v1h-7v-8h1v-1h2v-1h1v-7h1zM207 366h4v8h-1v1h-2v-1h-1zM280 360h3v1h4v1h1v3h-1v2h-5v1h-1v-2h-1zM233 360h3v16h-3v-1h-1v-10h-1v-4h2zM265 353h4v1h3v-1h1v22h-4v1h-4zM280 344h1v1h3v1h4v4h-1v2h-4v1h-2v1h-1v-1h-2v-1h-5v-5h1v-1h4v-1h2zM200 339h7v8h1v1h7v17h-1v1h-3v-8h-1v-1h-2v1h-1v8h-7v-13h1v-5h-1zM235 330h4v1h2v-1h4v1h3v-1h3v13h1v2h1v1h5v20h-1v1h-4v1h-1v1h-1v7h-4v-1h-4v-5h1v-1h4v-1h1v-1h1v-12h-1v-2h-1v-1h-3v1h-4v-1h-3v1h-2v-1h-1v-5h-1v-1h-1v-1h-1v-6h1v-1h1v-1h1zM219 330h3v8h1v1h3v-1h4v1h1v6h-1v1h-4v-1h-2v1h-2v2h-7v-9h3v-1h1zM200 323h1v3h1v3h-1v1h-1zM216 321h2v1h1v8h-4v-8h1zM207 321h3v1h1v7h1v1h3v9h-8zM280 315h3v1h4v1h1v3h-1v2h-4v1h-1v1h-1v5h1v1h1v1h4v1h1v4h-1v1h-4v1h-2v-2h-1v-4h-1v-1h-2v-1h-3v-1h-1v-3h1v-2h4v-1h1v-1h1zM228 294h3v6h-3zM234 292h3v1h1v1h4v1h1v5h-5v1h-1v1h-3v-1h-1v-1h-1v-6h1v-1h1zM211 285h6v1h1v8h4v14h1v1h4v2h-1v1h-10v-1h-1v-16h-1v-1h-2v-1h-1zM263 270h3v7h1v1h1v1h4v2h1v3h1v1h1v1h3v-1h3v6h-1v2h-2v-1h-4v-2h-1v-3h-1v-1h-1v-1h-3v1h-1v1h-1v5h-1v1h-2v-1h-3v1h-1v2h-1v3h1v2h1v1h3v-1h1v-1h3v1h1v1h4v1h1v3h-1v2h-4v1h-1v2h-1v5h1v1h-1v6h-1v1h-2v-1h-3v1h-4v-1h-3v1h-1v1h-3v-1h-1v-1h-4v-1h-1v-11h1v-1h4v-1h1v-1h1v-20h-1v-1h-1v-1h-3v1h-4v-1h-3v1h-1v1h-3v-1h-1v-1h-1v-6h1v-1h1v-1h3v1h1v1h3v-1h4v1h3v-1h2v1h1v5h1v1h1v1h3v-1h4v1h3v-1h1v-1h1v-5h-1v-1h-1v-1h-4v-2h-1v-4h5zM244 261h1v1h-1zM278 260h3v1h-1v2h-2v-1h-1v-1h1zM263 260h3v2h-1v1h-2v-1h-2v-1h2zM219 260h3v3h1v1h4v1h1v3h-1v7h-1v1h-6v-1h-1zM203 260h4v2h1v1h1v-1h2v23h-3v1h-1v35h-2v1h-1v2h1v5h-2v-7h-2v-4h-1v-10h1v-5h1v-1h1v-26h3v-1h1v-7h-1v-1h-2v1h-1v8h-2v-1h-1v-7h1v-7h2zM200 213h3v9h-2v1h-1zM195 205h1v1h-1zM203 204h4v9h-4zM200 195h3v9h-3zM200 177h3v9h-3zM200 141h7v8h-1v1h-6zM408 115v4h1v1h5v-2h1v-3zM375 113v2h-1v3h1v2h2v1h1v-1h3v1h1v20h1v2h5v-1h2v2h1v5h1v1h6v-1h1v1h6v-2h1v-4h-1v-1h-2v-1h-2v1h-1v-1h-1v-1h-1v-4h-1v-1h-6v1h-1v-1h-1v-21h-1v-2h-6v1h-1v-1zM343 113v2h-1v6h-7v2h-1v3h1v2h5v-1h3v1h2v1h1v-1h2v-1h1v-7h4v1h1v-1h2v-1h1v-4h-1v-2h-5v1h-3v-1zM312 113v2h-1v3h1v2h2v1h1v-1h2v-1h1v-4h-1v-2zM254 112v1h-1v1h-1v1h-1v4h1v3h-1v11h1v2h9v1h1v-1h2v-2h1v-3h-1v-2h-2v-1h-4v-5h-1v-3h1v-5h-1v-1h-2v-1zM208 110v1h-1v2h1v1h2v-3h-1v-1zM260 106v1h-1v1h-1v4h1v1h2v1h1v-1h1v-1h1v-2h1v-1h-1v-2h-1v-1zM223 106v1h-1v7h-3v1h-2v-1h-1v1h-1v4h-1v1h-2v3h10v-1h1v-2h1v1h2v-1h1v-1h1v-11h-1v-1h-1v-1zM328 105v1h-1v1h-1v5h1v1h1v1h3v-1h1v-1h1v-5h-1v-1h-1v-1zM299 105v9h2v-1h1v-1h1v-5h-1v-1h-1v-1zM417 100v4h-5v1h7v-1h1v-1h1v-1h-1v-1h-1v-1zM204 99v1h-1v4h1v1h2v-1h1v-4h-1v-1zM300 75v8h2v6h7v-6h4v7h8v-7h2v9h8v-9h2v8h10v-8h2v6h8v-6h2v7h9v-7h3v8h10v-8h4v9h7v-9h4v9h9v-9h4v9h9v-9h3v9h8v-9h3v8h7v-3h3v1h2v1h2v1h8v-1h2v-1h2v-1h10v1h2v1h2v1h8v-1h2v-1h2v-1h9v1h2v1h2v1h8v-1h2v-1h2v-1h8v1h2v1h2v1h8v-1h2v-1h2v-1h9v1h2v1h2v1h8v-1h2v-1h2v-1h10v1h2v1h2v1h8v-1h2v-1h2v-1h6v1h2v1h2v1h8v-1h2v-15zM80 75v435h7v-10h2v1h1v9h21v-21h1v1h1v20h3v-9h1v-1h2v1h1v9h4v-10h1v1h1v9h7v-9h1v-1h5v10h4v-10h2v-1h1v-31h-1v-1h-1v1h-1v32h-4v-21h-1v-1h-2v-10h1v-1h1v-1h1v-20h-1v-1h-1v1h-1v9h-1v1h-1v1h-1v9h-1v1h-2v1h-1v9h1v1h6v10h-1v1h-11v-22h1v-1h1v-9h1v-1h1v-1h1v-10h3v-1h1v-10h1v1h1v1h2v-2h5v-1h1v-9h-1v-1h-3v-1h-1v-55h1v-9h-1v-35h1v-4h2v-1h3v1h3v39h-1v9h1v34h-4v-10h-1v-1h-2v1h-1v9h1v1h3v10h1v1h3v37h1v2h1v26h2v-9h1v-2h1v-31h-1v-101h1v-9h-1v-6h18v4h1v3h4v-2h1v-62h2v-1h1v-13h-1v-1h-2v-10h-1v-1h-6v-10h-1v-1h-1v1h-1v10h-2v-22h1v-1h1v-9h-1v-1h-1v-4h5v14h1v3h1v-1h4v-2h2v1h3v5h1v11h1v5h1v1h2v-1h1v-10h2v-1h1v-9h-1v-1h-2v-17h-1v-6h1v-8h-1v-3h-1v1h-3v4h-1v6h-1v-9h-1v-1h-1v1h-1v-43h-1v-2h3v-1h1v-10h2v-1h1v4h1v1h4v-1h1v-25h-1v-1h-2v-1h-1v1h-1v1h-1v9h-1v2h-1v1h-1v10h-2v-1h-1v-19h-1v-3h-1v-1h-4v3h-1v10h1v4h2v17h-2v1h-1v50h-5v-6h1v-1h1v-9h-1v-1h-1v-55h-1v-3h-3v3h-1v-2h-2v1h-3v4h-1v-2h-1v-1h-1v-1h-1v-3h-2v1h-1v1h-1v13h-1v-2h-1v-4h-4v4h-1v3h-1v-18h-1v-3h-1v-2h-2v1h-1v21h-4v-21h-1v-1h-2v1h-1v-3h-1v-1h-1v-1h-1v1h-1v3h-1v21h-1v1h-2v-1h-1v-9h-1v-1h-4v-20h1v-5h5v1h-1v4h1v1h2v-1h1v-4h-2v-1h3v-1h1v-11h1v3h1v6h-1v2h1v1h3v1h1v2h3v-2h3v-1h3v1h3v2h-1v2h1v1h1v1h2v-1h3v-5h3v5h3v-5h6v4h6v-2h3v-2h18v5h3v-5h12v6h3v-6h3v2h3v1h3v-2h3v-1h6v6h5v-1h1v-2h3v-3h6v2h3v-2h9v2h3v-2h12v4h3v-4h3v5h3v-5h6v4h3v-4h6v2h3v1h2v-1h1v-2h2v-16zM86 490h1v10h-1zM104 478h1v1h1v9h1v1h1v11h-7v-1h-1v-9h1v-1h1v-1h1v-9h1zM88 467h1v1h1v9h-1v1h-1v-1h-1v-9h1zM120 456h2v1h1v32h-2v-1h-1v-9h-1v-1h-2v-1h-1v-10h3v-1h1zM114 456h2v11h-2v-1h-1v-9h1zM99 435h1v10h-1zM86 435h1v9h-1zM104 434h1v1h1v9h1v1h1v11h-7v-1h-1v-10h2v-1h1v-9h1zM91 423h2v10h-1v1h-1v-1h-1v-9h1zM93 413h1v10h-1zM127 401h6v33h-3v1h-1v10h-5v-11h1v-10h-1v-9h1v-3h1v10h1v1h1v-1h1v-9h-1v-1h-2v-10h1zM121 401h1v6h1v38h-2v1h-1v10h-4v-21h-1v-1h-4v-11h1v-1h1v-9h1v-1h1v1h1v9h1v1h2v-1h1v-20h1zM104 401h1v1h1v9h-1v1h-1v-1h-1v-9h1zM86 391h1v9h-1zM111 379h1v1h1v9h1v1h1v1h1v9h-1v1h-4zM93 369h1v9h-1zM86 369h1v9h-1zM104 368h4v11h-4v-1h-1v-9h1zM132 367h1v13h-1v-1h-3v-11h3zM114 357h1v1h1v9h-1v1h-1v-1h-1v-9h1zM90 335h4v12h-1v9h-1v1h-1v-1h-1zM113 302h3v10h-1v1h-1v-1h-1zM91 302h1v1h1v20h-1v1h-1v1h-1v10h-2v-1h-1v-13h4v-1h1v-14h-1v-1h-1v-2h1zM127 291h2v23h-3v3h1v1h1v-1h1v6h1v1h3v33h-3v1h-1v10h-2v1h-1v9h1v1h2v10h-1v1h-3v-1h-1v-8h-1v7h-1v2h-1v-1h-1v-9h1v-1h1v-1h1v-9h-1v-1h-1v-1h-1v-20h-1v-1h-5v-1h-1v-20h1v-1h8v-1h1v-9h-1v-1h-1v-1h-1v-10h5v-1h1v-9h1zM117 291h3v11h-4v-10h1zM111 291h1v1h1v10h-2zM93 281h1v10h-1zM86 281h1v9h-1zM129 280h3v1h1v10h-4zM138 269h1v10h1v1h2v1h1v10h-3v1h-1v9h1v1h2v-1h1v-10h4v17h-9zM99 269h1v10h-1zM140 258h6v12h-1v-1h-6v-10h1zM106 258h1v1h1v3h1v4h-1v36h-1v1h-1v9h1v1h1v44h-4v-1h-1v-9h1v-1h1v-1h1v-9h-1v-1h-1v-1h-1v-20h-1v-1h-1v1h-1v8h-1v-31h3v-1h1v-9h1v-1h1v-1h1zM100 258h3v10h-1v1h-2zM112 248h1v9h-1v1h-1v-2h1zM173 247h3v11h-2v-1h-1v1h-1v-10h1zM103 247h3v11h-3zM99 247h1v11h-1zM126 246h1v1h1v1h1v32h-5v1h-1v9h-1v1h-2v-10h-1v-1h-5v-1h-1v-9h1v-1h1v-1h1v-9h1v-1h3v16h1v3h1v1h2v-1h1v-4h1zM106 237h1v10h-1zM166 236h3v10h-1v1h-2zM86 236h1v10h1v1h4v1h1v9h-1v1h-4v1h-1v9h-1zM151 225h4v1h1v9h1v1h1v-1h1v31h1v3h2v1h1v-4h1v-19h2v10h1v1h4v2h-1v27h1v11h-1v10h-18v-22h-1v-39h2v10h1v1h1v-1h1v-9h-1v-1h-2v-10h-1v-1h-1zM145 225h1v22h-8v-11h4v-1h1v-6h1v-2h1zM100 225h3v22h-3zM126 224h1v1h1v1h1v9h-1v1h-1v1h-1zM99 215h1v10h-1zM104 214h2v10h-1v1h-2v-10h1zM86 214h3v1h1v20h-1v1h-2v-10h-1zM93 200h1v24h-1zM151 199h2v9h1v2h-1v4h-1v-1h-1zM145 199h1v4h-1zM138 199h1v16h-1zM112 199h4v14h1v1h2v-1h1v12h-3v1h-1v9h-1v1h-1v-1h-1v-9h-1v-1h-1v-4h1zM106 199h2v4h-1v11h-1zM127 198h2v1h4v4h-6v-1h-1v-3h1zM180 191h1v1h-1zM86 182h1v4h-1zM145 181h1v6h-1zM138 181h1v6h-1zM103 181h5v6h-5zM126 180h1v1h5v1h1v5h-5v1h-2zM101 170h2v11h-2v-1h-1v-9h1zM138 160h1v9h-1zM111 159h2v10h1v1h2v10h-1v1h-3v-3h-1zM88 159h1v1h1v9h-1v1h-1v-1h-1v-9h1zM119 158h1v13h-1v-1h-3v-11h3zM113 148h3v11h-3zM126 147h1v1h1v1h1v20h-1v1h-1v1h-1zM112 138h1v10h-1zM117 137h3v12h-1v-1h-3v-10h1zM103 137h4v1h1v10h-1v1h-1v20h-1v1h-2zM99 137h1v10h-1zM145 136h1v23h-1v-11h-1v-8h1zM127 126h2v10h-1v1h-2v-10h1zM91 126h3v21h-1v-9h-1v-1h-1v-1h-1v-9h1zM152 125h1v62h-2v-61h1zM100 115h2v1h1v21h-3v-11h-1v-10h1zM104 90h2v1h1v23h-1v-9h-1v-1h-2v-1h-3v-1h-1v-5h1v-1h2v-1h1v-3h1zM90 90h3v13h1v12h-6v-1h-1v-9h1v-1h1v-1h1z"/>
<path fill="#0000e7" fill-rule="evenodd" d="M539 503v1h-2v1h-1v1h1v1h1v1h16v-1h1v-1h1v-1h-1v-1h-1v-1zM505 503v1h-1v1h-1v1h1v1h1v1h16v-1h1v-1h1v-1h-1v-1h-2v-1h-6v1h-2v-1zM377 503v1h-1v1h-1v5h5v-6h-2v-1zM329 503v1h-1v1h-1v5h5v-6h-2v-1zM284 503v1h-1v1h-1v5h5v-5h-1v-1h-1v-1zM494 497v1h-1v1h-1v1h1v1h1v1h5v-1h1v-1h1v-1h-1v-1h-1v-1zM385 496v1h-2v5h2v1h1v-1h2v-1h1v-2h-1v-2h-2v-1zM305 495v1h-1v1h-1v9h1v4h13v-5h-1v-1h-1v-1h-2v1h-3v-7h-1v-1h-1v-1zM177 489v1h-1v9h1v1h1v-1h1v-9h-1v-1zM150 489v1h-1v9h1v1h5v-1h1v-9h-1v-1zM550 484v1h-2v1h-1v2h1v3h-1v2h1v1h2v1h3v-1h2v-1h1v-2h-1v-3h1v-2h-1v-1h-2v-1zM516 477v1h-1v1h-1v1h1v1h1v1h1v2h-2v2h-1v3h-1v1h-8v1h-1v1h-1v1h1v1h1v1h7v-1h2v1h7v-1h1v-1h1v-3h1v-1h8v-1h1v-1h1v-1h-1v-1h-2v-1h-10v-2h1v-2h1v-1h-1v-1h-2v-1zM290 473v1h-1v7h-1v1h-2v-1h-2v1h-2v1h-1v1h-1v-1h-1v-1h-2v-1h-2v1h-5v-1h-1v1h-1v1h-1v3h1v1h1v1h3v1h1v6h1v7h1v1h2v-1h1v-1h1v-4h1v-2h3v1h3v-1h1v-1h1v-5h1v-1h3v-1h1v-13h-1v-1zM305 472v1h-3v1h-1v-1h-2v15h1v-1h1v-1h1v-5h6v-1h1v-1h1v-5h-1v-1h-1v-1zM253 472v1h-1v1h-1v5h1v1h1v1h3v-1h1v-2h1v-3h-1v-2h-1v-1zM571 471v1h-1v1h-1v1h1v1h2v1h3v-1h2v-1h1v-1h-1v-1h-2v-1zM538 471v1h-1v1h-1v1h1v1h2v1h3v-1h2v-1h1v-1h-1v-1h-1v-1zM187 467v1h-1v9h1v1h1v-1h1v-9h-1v-1zM361 466v1h-1v1h-1v4h2v1h1v-1h1v-1h1v-3h-1v-1h-1v-1zM550 458v1h-2v1h-1v2h1v3h-1v2h1v1h1v1h16v-1h1v-1h1v-1h-1v-1h-1v-1h-8v-1h-1v-3h-1v-1h-2v-1zM443 458v1h-1v1h-1v1h1v1h1v1h5v-1h1v-1h1v-1h-1v-1h-1v-1zM583 451v1h-2v1h-1v1h1v1h2v1h3v-1h2v-1h1v-1h-1v-1h-2v-1zM527 445v1h-1v1h-1v3h-1v1h-8v1h-1v1h-1v1h1v1h2v1h10v2h-1v1h-1v3h1v3h-1v2h1v1h2v1h4v-1h1v-1h1v-2h-1v-3h1v-2h-1v-2h-2v-2h2v-2h1v-2h-1v-3h1v-2h-1v-1h-2v-1zM505 445v1h-1v1h-1v1h1v1h1v1h5v-1h1v-1h1v-1h-1v-1h-1v-1zM167 445v1h-1v9h1v1h1v-1h1v-9h-1v-1zM144 445v1h-1v9h1v1h1v-1h1v-9h-1v-1zM517 438v1h-2v1h-1v1h1v1h1v1h5v-1h1v-1h1v-1h-1v-1h-1v-1zM192 435v10h1v-10zM550 425v1h-2v1h-1v1h1v1h2v1h15v-1h1v-1h1v-1h-1v-1h-1v-1zM180 423v1h-1v9h1v1h1v-1h1v-9h-1v-1zM173 423v1h-1v9h1v1h2v-1h1v-9h-1v-1zM539 412v1h-2v1h-1v1h1v1h1v1h16v-1h1v-1h1v-1h-1v-1h-1v-1zM187 401v12h1v-12zM269 398v1h-2v2h-1v1h1v2h2v1h1v-1h1v-1h1v-4h-1v-1zM572 393v1h-2v1h-1v1h1v1h2v1h3v-1h2v-1h1v-1h-1v-1h-2v-1zM538 393v1h-1v1h-1v3h-1v1h-8v1h-1v1h-1v1h1v1h1v1h16v-1h1v-1h1v-3h1v-1h8v-1h1v-1h1v-1h-1v-1h-1v-1zM291 391v1h-1v1h-1v3h1v1h1v1h1v-1h1v-5h-1v-1zM239 391v1h-1v1h-1v3h-1v14h1v2h2v1h1v-1h1v-1h1v-4h1v-2h4v-1h2v-5h-2v-1h-4v-3h-1v-2h-1v-1h-1v-1zM538 373v1h-1v1h-1v1h1v1h2v1h26v-1h1v-1h1v-1h-1v-1h-1v-1zM183 368v1h-1v9h1v1h2v-1h1v-9h-1v-1zM527 354v1h-1v1h-1v3h-1v1h-8v1h-1v1h-1v1h1v2h2v2h-2v2h-1v2h1v3h-1v2h1v2h2v2h-2v2h-1v2h1v3h-1v2h1v2h2v2h-1v1h-1v1h-1v1h1v1h2v1h4v-1h1v-1h1v-1h-1v-1h-1v-1h-1v-2h2v-2h1v-2h-1v-3h1v-2h-1v-2h-2v-2h2v-2h1v-3h1v-1h8v-1h1v-1h1v-1h-1v-2h-2v-2h2v-2h1v-2h-1v-3h1v-2h-1v-1h-2v-1zM523 365h2v2h-2zM314 353v1h-1v1h-1v3h1v1h1v1h1v-1h1v-1h1v-3h-1v-1h-1v-1zM187 346v1h-1v9h1v1h1v-1h1v-9h-1v-1zM171 341v18h1v8h1v1h2v-1h1v-9h-1v-17zM161 340v2h-1v13h1v10h-1v4h-1v9h1v34h-3v1h-1v20h1v1h1v-1h1v-9h1v58h1v2h1v4h1v1h2v-1h1v-10h5v-1h1v-9h-1v-1h-4v1h-1v10h-2v-4h-1v-7h1v-119h-1v-7h-1v-1zM160 423h1v1h-1zM238 337v1h-1v1h-1v5h1v1h1v1h3v-1h1v-2h1v-3h-1v-2h-1v-1zM144 335v1h-1v9h1v1h1v-1h1v-9h-1v-1zM124 335v1h-1v9h1v1h1v-1h1v-9h-1v-1zM299 331v7h1v-1h2v-4h-1v-1h-1v-1zM560 328v1h-1v1h-1v1h1v1h1v1h16v-1h1v-1h1v-1h-1v-1h-1v-1zM539 321v1h-2v1h-1v1h1v1h2v1h3v-1h2v-1h1v-1h-1v-1h-1v-1zM505 321v1h-1v1h-1v1h1v1h1v1h11v2h-1v1h-1v4h-1v1h-12v-4h-1v-1h-1v-1h-4v1h-2v1h-1v3h-1v1h-7v1h-1v1h-1v1h1v1h1v1h21v2h-1v2h-1v1h1v1h1v1h8v1h1v3h1v1h1v1h5v-1h1v-1h1v-3h1v-1h18v-1h2v-1h1v-1h-1v-1h-2v-1h-20v-1h-1v-1h1v-1h1v-3h-1v-3h1v-2h-1v-2h-2v-2h2v-2h1v-1h-1v-1h-2v-1h-6v1h-2v-1zM512 339h2v2h-2zM299 316v7h1v-1h2v-4h-1v-1h-1v-1zM549 315v1h-1v1h-1v1h1v1h1v1h16v-1h1v-1h1v-1h-1v-1h-1v-1zM253 307v1h-1v1h-1v4h1v2h1v1h3v-1h1v-2h1v-3h-1v-2h-1v-1zM539 295v1h-2v1h-1v1h1v2h2v2h-2v2h-1v1h1v1h2v1h3v-1h2v-1h1v-2h-1v-1h-1v-1h1v-1h10v-1h1v-1h1v-1h-1v-1h-1v-1zM425 295v7h4v-1h-1v-1h1v-2h1v-1h-1v-1h-1v-1zM299 293v15h1v-1h1v-1h1v-6h1v-1h2v1h2v-1h2v-1h1v-3h-1v-1h-2v-1h-2v1h-4v-1zM539 282v1h-2v1h-1v1h1v1h2v1h3v-1h2v-1h1v-1h-1v-1h-2v-1zM162 281v10h-2v1h-1v9h1v1h1v-1h1v-10h1v-1h1v-9zM187 273v52h1v3h1v-55zM572 269v1h-2v1h-1v1h1v1h2v1h3v-1h2v-1h1v-1h-1v-1h-2v-1zM539 269v1h-2v1h-1v1h1v1h2v1h15v-1h1v-1h1v-1h-1v-1h-1v-1zM571 250v1h-1v1h-1v1h1v1h1v1h8v1h1v3h1v1h2v1h3v-1h2v-1h1v-3h-1v-1h1v-3h-1v-1h-1v-1zM505 217v1h-1v1h-1v1h1v1h2v1h3v-1h2v-1h1v-1h-1v-1h-2v-1zM434 217v1h-2v3h2v1h3v-1h2v-3h-1v-1zM495 211v1h-2v3h2v1h4v-1h1v-1h1v-1h-1v-1h-2v-1zM428 211v1h-2v1h-1v1h10v-2h-2v1h-1v-1h-3v-1zM238 210v1h-1v1h-1v5h1v1h1v1h3v-1h1v-2h1v-3h-1v-2h-1v-1zM516 198v1h-1v1h-1v3h-1v1h-8v1h-1v1h-1v1h1v1h1v1h7v-1h2v1h6v-1h2v-1h1v-2h-1v-3h1v-2h-1v-1h-2v-1zM494 198v1h-1v1h-1v1h1v1h2v1h4v-1h1v-1h1v-1h-1v-1h-1v-1zM299 196v14h1v-1h1v-1h1v-11h-2v-1zM506 191v1h-2v1h-1v1h1v1h1v1h5v-1h1v-1h1v-1h-1v-1h-1v-1zM344 189v1h-1v3h1v1h1v1h1v-1h1v-1h1v-3h-1v-1zM306 188v1h-1v1h-1v3h1v1h1v1h1v-1h2v-1h1v-3h-1v-1h-2v-1zM517 185v1h-2v1h-1v1h1v1h1v1h4v-1h2v-1h1v-1h-1v-1h-2v-1zM321 181v1h-1v1h-1v3h-1v2h-4v1h-2v1h-1v4h1v7h1v1h1v1h2v-1h4v1h2v-1h2v-1h1v-1h1v1h1v1h2v1h1v-1h2v-12h-1v-1h-1v-1h-1v1h-2v1h-2v-3h-1v-4h-1v-1h-1v-1zM325 193h1v2h1v1h-1v2h-1v-2h-1v-1h1zM261 181v1h-1v1h-1v3h1v1h3v-1h1v-3h-1v-1h-1v-1zM246 181v1h-1v1h-1v4h-1v2h-2v-1h-2v1h-1v1h-1v3h1v1h1v1h2v-1h3v7h1v1h3v-1h1v-18h-1v-1h-1v-1zM253 174v1h-1v3h1v1h1v1h1v-1h1v-1h1v-3h-1v-1zM428 173v1h-2v1h-1v4h1v2h5v-7h-2v-1zM299 173v6h2v-1h1v-3h-1v-1h-1v-1zM284 173v1h-1v1h-1v3h1v1h1v1h1v-1h1v-1h1v-4h-2v-1zM269 173v1h-1v1h-1v3h1v1h3v-1h1v-3h-1v-1h-1v-1zM474 172v1h-2v1h-1v2h1v3h-1v2h1v1h1v1h1v2h-1v1h-1v1h-1v1h1v1h2v1h8v4h1v1h2v1h4v-1h1v-1h1v-2h-1v-3h1v-2h-1v-1h-2v-1h-10v-2h1v-2h1v-2h-1v-3h1v-2h-1v-1h-2v-1zM187 170v1h-1v9h1v1h1v-1h1v-9h-1v-1zM275 167v1h-1v3h1v1h1v1h1v-1h1v-1h1v-3h-1v-1zM291 166v1h-1v1h-1v4h2v1h1v-1h1v-5h-1v-1zM485 165v1h-2v3h2v1h3v-1h2v-3h-2v-1zM443 165v1h-1v1h-1v1h1v1h1v1h14v-1h2v-1h1v-1h-1v-1h-1v-1zM424 165v1h-2v3h1v1h6v-2h1v-1h-1v-1h-1v-1zM506 159v1h-2v1h-1v1h1v1h2v1h3v-1h2v-1h1v-1h-1v-1h-2v-1zM464 159v1h-2v1h-1v1h1v1h1v1h4v-1h2v-3h-1v-1zM409 159v2h-1v1h1v2h2v1h1v-6zM402 158v1h-1v1h-1v30h-1v18h1v3h-1v1h-3v-1h-2v1h-2v1h-1v8h1v3h-8v1h-4v-3h1v-5h3v1h2v-1h2v-2h1v-1h-1v-2h-2v-1h-1v1h-3v1h-1v-2h-1v-4h1v-5h3v1h2v-1h1v-1h1v-18h-1v-1h-1v-1h-1v1h-2v1h-3v-1h-2v-1h-1v1h-1v1h-1v4h2v1h2v-1h3v5h1v5h-1v1h-1v-1h-2v-1h-3v1h-3v-9h-2v-1h-3v1h-1v1h-1v8h-3v-1h-2v1h-2v1h-3v-1h-2v-1h-1v1h-1v1h-1v4h2v1h1v-1h4v4h1v6h-1v1h-2v-1h-1v-1h-3v1h-1v1h-2v-1h-1v-8h-2v-1h-1v1h-2v1h-1v1h-1v-1h-1v-1h-2v-1h-1v1h-1v1h-1v3h1v1h1v1h1v-1h2v-1h2v1h1v7h-1v3h-3v-1h-3v1h-1v1h-3v-1h-2v-1h-1v1h-2v1h-3v-1h-1v-1h-5v-2h-1v-3h-1v-1h-1v-1h-1v1h-1v1h-1v4h-1v2h-3v-1h-2v1h-2v2h-1v5h-1v1h-2v3h1v2h-2v17h2v-1h4v1h3v-1h2v-1h1v1h2v1h4v2h1v4h1v1h5v-1h1v1h1v4h-1v2h-1v1h-2v-1h-3v-2h-1v-4h-1v-1h-4v1h-2v1h-1v-1h-2v-1h-4v1h-3v-1h-2v23h1v1h2v2h1v3h1v1h1v1h3v-1h2v-1h1v1h2v1h4v-1h8v1h1v4h-1v4h-2v-1h-3v1h-4v-1h-2v1h-2v1h-1v4h1v6h-1v12h1v5h-1v3h-2v-1h-2v-1h-1v1h-2v4h1v1h1v1h1v-1h2v-1h1v-1h1v2h1v9h-1v2h-2v-1h-2v-1h-1v1h-2v7h-1v1h-2v-1h-2v7h2v-1h4v1h2v-1h1v-1h1v-7h1v-2h1v1h1v1h2v1h2v-1h4v1h2v-1h2v-1h1v-3h-1v-1h-2v-1h-4v-3h-1v-5h1v-1h2v1h2v-1h1v-1h1v-3h-1v-1h-1v-1h-4v-3h-1v-3h1v-6h1v-3h3v-1h2v-1h1v-1h1v1h1v1h2v1h1v-1h1v-1h1v-6h4v1h3v-1h1v-1h1v-6h-2v-1h-5v-2h-1v-4h1v-1h5v-1h1v-1h2v10h2v1h3v-1h2v-1h4v1h1v-1h2v-1h1v-1h1v1h1v1h2v1h1v-1h2v-1h3v1h2v1h2v-1h2v6h1v4h-3v-1h-2v1h-2v1h-3v-1h-2v-1h-1v1h-2v1h-1v1h-1v-1h-1v-1h-2v-1h-1v1h-2v1h-3v-1h-2v-1h-1v1h-2v15h-1v1h-2v-1h-2v-1h-1v1h-1v1h-1v3h1v1h1v1h1v-1h2v-1h2v4h1v7h-1v1h-2v-1h-2v-1h-1v1h-1v1h-1v2h-1v3h-1v1h-2v-1h-2v1h-2v1h-1v3h1v1h2v1h2v-1h2v1h1v2h1v4h-1v4h-2v-1h-2v-1h-1v1h-1v1h-1v3h1v1h1v1h1v-1h2v-1h2v1h1v7h-1v4h-2v-1h-2v-1h-1v1h-2v1h-2v-3h-1v-4h-1v-1h-1v-1h-1v1h-2v12h2v1h1v-1h2v-1h2v1h1v8h2v1h1v-1h4v1h2v1h3v-1h2v-9h3v1h3v-1h1v-1h2v1h1v5h-1v4h-1v1h-2v-1h-2v1h-2v8h-1v1h-2v-1h-2v-1h-1v1h-2v1h-1v1h-1v-1h-1v-1h-2v-1h-2v1h-2v-1h-1v-2h-1v-5h-2v-1h-4v-2h-1v-4h-2v-1h-1v1h-2v1h-1v1h-1v-2h-1v-7h1v-8h-1v-1h-1v-1h-3v1h-6v14h2v-1h2v1h1v7h2v1h1v-1h2v-1h2v3h1v8h-1v1h-2v-1h-2v-1h-2v1h-2v-1h-1v-7h-2v-1h-1v15h4v2h1v11h-1v2h-4v7h2v-1h2v1h1v16h-1v1h-2v-1h-2v29h2v-1h4v1h3v-1h1v-1h2v1h1v8h2v1h1v-1h2v-5h1v-1h5v-1h2v-1h4v1h1v-1h2v-1h1v-1h1v1h1v1h2v1h1v-1h2v-1h3v1h2v1h1v-1h1v-1h1v-3h1v-3h3v1h2v-1h2v-1h3v1h2v1h1v-1h2v-8h1v-1h2v1h2v1h1v-1h1v-1h1v-4h-2v-1h-1v1h-2v1h-3v-1h-2v-1h-2v1h-3v-3h-1v-4h-2v-1h-2v1h-3v-2h-1v-13h-2v-1h-1v1h-2v1h-2v-1h-1v-14h-1v-1h-1v-1h-1v1h-2v1h-2v-1h-1v-8h1v-3h2v1h2v1h1v-1h2v-1h1v-1h1v1h1v1h2v1h1v-1h1v-1h1v-6h3v1h4v-1h1v-1h1v-3h1v-4h2v1h3v-1h3v1h2v1h4v-1h2v3h1v3h2v1h2v-1h3v1h1v4h-1v13h1v4h1v1h1v1h1v-1h2v-1h2v2h1v4h1v5h-1v3h-2v-2h-1v-1h-2v-1h-1v1h-2v2h-1v3h-1v1h-5v1h-3v-4h-1v-10h-1v-1h-1v-1h-2v1h-1v-1h-1v-1h-1v-3h-1v-8h1v-4h4v1h1v-1h1v-1h1v-3h-1v-1h-1v-1h-1v1h-2v1h-3v-1h-2v-1h-1v1h-2v17h-1v3h-6v1h-1v1h-1v5h1v1h1v1h3v-1h5v1h4v-1h2v1h1v3h-1v5h-4v-1h-1v1h-1v1h-1v3h1v1h1v1h1v-1h2v-1h3v1h2v1h2v-1h2v-1h1v1h1v8h2v1h1v-1h2v-6h1v-1h1v1h5v-1h3v-1h1v1h1v4h-1v10h1v3h-1v3h-1v-1h-1v-2h-1v-3h1v-4h-1v-1h-2v-1h-1v1h-2v7h-1v1h-3v-1h-2v1h-2v3h-1v4h-3v-1h-2v1h-2v4h1v1h1v1h1v-1h2v-1h2v1h1v7h1v1h1v1h4v7h1v1h-1v1h-2v-1h-2v1h-2v1h-3v-1h-2v-1h-1v1h-2v1h-3v-1h-2v-1h-2v1h-1v1h-2v-1h-1v-8h-2v-1h-1v1h-1v1h-1v11h-1v3h-1v1h-1v-1h-2v-1h-1v1h-2v1h-1v1h-1v-1h-1v-1h-2v-1h-1v1h-2v1h-2v-3h-1v-12h-1v-1h-1v-1h-1v1h-2v1h-1v1h-1v-1h-1v-1h-2v-1h-1v1h-2v4h1v1h1v1h1v-1h2v-1h1v-1h1v2h1v8h-1v3h-2v-1h-2v-1h-1v1h-1v1h-1v3h1v1h1v1h1v-1h2v-1h1v-1h1v1h1v1h2v1h2v-1h1v-1h2v9h1v1h1v1h3v-1h2v-10h2v1h2v1h1v-1h2v-1h2v1h1v6h-1v3h-2v-1h-4v1h-2v7h14v-3h1v-5h4v1h1v-1h1v-1h1v-7h1v-1h1v1h2v1h2v-1h2v-1h3v1h2v1h1v-1h2v-3h1v-4h3v1h2v-1h2v-1h1v-5h1v-1h1v5h-1v7h1v8h-1v8h1v2h23v-2h1v-3h-1v-8h-2v-1h-1v1h-2v1h-1v1h-2v-2h-1v-5h1v-10h-1v-5h1v-10h-1v-3h1v-2h2v2h1v3h-1v4h1v1h2v1h2v-1h1v-9h1v-3h1v-1h5v-1h4v9h-10v15h-2v-1h-2v1h-2v1h-1v3h1v1h2v1h1v-1h2v-1h2v1h3v2h1v2h1v-1h2v-1h7v1h1v3h1v1h1v1h1v2h-1v1h-1v1h-1v2h-1v1h-1v-2h-3v1h1v1h1v1h1v6h3v-1h8v1h8v-1h2v-1h1v-4h-1v-1h-9v-1h-1v-2h-1v-2h-1v-1h1v-1h13v1h1v1h-1v2h-1v2h1v1h5v-1h2v-1h1v-1h-1v-2h-1v-1h1v-1h13v1h1v1h-1v2h-1v4h-1v4h1v1h2v1h7v-1h9v-1h1v-1h1v-1h-1v-1h-1v-1h-7v-1h-1v-1h-1v-2h-1v-2h-1v-2h11v-1h1v-1h1v-3h1v-1h7v-1h1v-1h1v-2h-1v-2h1v-1h1v-5h-1v-1h-10v1h-7v1h-1v1h-1v1h1v2h1v2h-11v1h-1v1h-1v3h-1v1h-7v-1h-1v-3h-1v-3h8v-1h1v-1h1v-1h1v-3h2v-1h4v-1h1v-1h1v-1h-1v-2h-1v-2h13v1h14v1h-1v1h-1v3h2v1h5v-1h1v-1h1v-1h-1v-1h-1v-1h-1v-2h2v-2h1v-1h-1v-1h-1v-1h-6v-1h-2v-1h-1v-3h-1v-1h-1v-2h1v-2h1v-1h-1v-1h-1v-1h-7v-1h-1v-3h-1v-1h-1v-1h-11v-2h1v-2h1v-2h-1v-3h1v-2h-1v-2h-1v-2h15v1h1v1h-1v2h-1v2h1v3h-1v2h1v1h1v1h5v-1h1v-1h1v-2h-1v-3h1v-2h-1v-2h-1v-2h13v-1h2v1h13v2h-1v2h-1v1h1v1h1v1h4v-1h2v-1h1v-1h-1v-2h-2v-2h2v-2h1v-2h-1v-3h1v-2h-1v-1h-1v-1h-4v1h-2v1h-1v3h-1v1h-11v-1h-1v-3h-1v-2h-2v-2h2v-2h1v-3h1v-1h7v-1h2v-1h1v-1h-1v-1h-1v-1h-7v1h-2v-1h-13v-2h1v-2h1v-1h-1v-1h-1v-1h-7v-1h-1v-4h-1v-2h1v-2h1v-1h1v-3h1v-1h5v-1h1v-1h1v-1h-1v-1h-1v-1h-21v-2h1v-2h1v-1h-1v-1h-1v-1h-37v-1h-1v-3h-1v-2h-1v-1h1v-1h18v-1h2v-1h1v-3h1v-1h9v1h1v3h1v1h2v1h10v2h-1v2h-1v1h1v1h1v1h4v-1h2v-1h1v-1h-1v-1h-1v-1h-1v-2h2v-2h1v-3h1v-1h9v-1h2v1h7v-1h1v-1h1v-1h-1v-1h-1v-1h-11v-2h1v-2h1v-1h-1v-1h-1v-1h-17v-1h-1v-1h-1v-2h-1v-1h-1v-1h-5v1h-1v1h-1v3h-1v8h-21v-1h-1v-1h1v-2h1v-1h-1v-1h-1v-1h-7v-1h-1v-4h-1v-1h1v-1h2v-1h10v1h1v1h-1v2h-1v1h1v1h1v1h4v-1h2v-1h1v-1h-1v-2h-1v-1h1v-1h9v-1h1v-1h1v-3h1v-1h7v-1h1v-1h1v-1h-1v-1h-1v-1h-1v-2h2v-2h1v-4h19v-1h1v-1h1v-1h-1v-2h-1v-2h11v-1h1v-1h1v-3h1v-1h7v-1h2v-1h1v-1h-1v-1h-2v-1h-10v-2h1v-1h1v-4h1v-1h7v-1h2v-1h1v-1h-1v-1h-2v-1h-10v-2h1v-1h1v-4h1v-1h8v-1h1v-1h1v-1h-1v-2h-2v-2h2v-2h1v-2h-1v-3h1v-2h-1v-1h-2v-1h-4v1h-1v1h-1v3h-1v1h-10v1h-2v-1h-8v-1h-2v-4h-1v-1h-18v1h-1v3h2v1h9v5h1v2h-1v2h-1v5h1v3h1v2h1v2h-1v2h-1v3h-1v5h1v1h2v1h9v2h-1v3h1v3h-1v3h1v1h1v1h-1v1h-10v1h-4v-1h-8v-1h-1v-1h1v-2h1v-3h1v-1h5v-1h1v-1h1v-1h-1v-1h-1v-1h-15v1h-1v1h-1v2h-1v1h-2v1h-7v-1h-1v-3h-1v-2h-1v-1h1v-1h9v-1h1v-1h1v-1h-1v-1h-1v-1h-5v-1h-1v-2h-1v-2h-1v-1h-1v-1h-10v-3h1v-1h-1v-1h-2v-1h-14v-1h-2v-1h-1v-2h-1v-1h-1v-1h-1v-2h1v-1h1v-1h1v-1h1v-1h1v-1h1v-4h-1v-1h-1v-1h-4v3h-1v2h1v1h-11v-6h1v-1h2v1h5v-1h1v-10h1v-3h14v4h-1v2h-6v1h-2v1h-1v1h12v4h-1v1h-4v1h-1v1h-1v3h1v1h8v-7h6v7h1v3h1v1h1v1h9v1h1v1h-1v2h-1v2h1v3h-1v2h1v1h1v1h7v1h2v2h-1v2h1v1h1v1h4v-1h2v-1h1v-1h-1v-4h1v-1h1v-4h-1v-4h-1v-2h-2v-2h1v-1h1v-1h1v-1h-1v-1h-1v-1h-14v-1h-2v-2h-1v-4h16v-1h3v-1h1v-1h1v-2h1v-1h6v-1h4v1h7v2h1v2h1v1h1v1h8v-1h9v-1h2v-4h1v-1h10v-1h2v1h10v1h1v3h1v1h2v1h3v-1h2v-1h1v-2h-1v-3h1v-3h-1v-3h1v-1h1v-1h13v1h2v1h4v-1h1v-1h34v-23h-18v1h-6v-1h-64v1h-44v-1h1v-1h9v-1h1v-3h-1v-1h-7v-1h-1v-3h-1v-2h-2v-2h1v-1h1v-1h1v-2h-1v-3h1v-2h-1v-1h-2v-1h-4v1h-1v1h-1v3h-1v1h-7v1h-1v1h-1v1h1v2h1v1h-1v1h-9v1h-1v1h-1v1h1v1h1v1h17v1h1v3h1v2h1v1h-1v1h-40v-1h-1v-9h2v-2h-1v-5h1v-2h-1v-2h13v6h3v-1h1v-1h1v-3h1v-1h7v-1h1v-1h1v-1h-1v-1h-1v-1h-9v-1h-1v-1h1v-2h1v-2h-1v-3h1v-2h-1v-2h-1v-1h1v-1h13v1h1v1h-1v2h-1v2h1v3h-1v2h1v1h1v1h5v-1h1v-1h1v-2h-1v-3h1v-2h-1v-1h-1v-1h-1v-2h1v-1h1v-1h1v-1h-1v-1h-2v-1h-16v-1h-1v-3h-1v-1h-1v-1h-1v9h-5v2h1v1h-1v1h-13v-1h-1v-1h1v-2h3v-2h1v-4h-1v-1h-2v-1h-1v1h-1v1h-1v6h-3v1h-1v-1h-2v1h-2v1h-1v7h-2v-8h-1v-19h1v-2h-1v-2h-2v-1zM357 494h1v3h-1zM390 464h1v1h1v2h-1v2h-2v-4h1zM357 449h1v3h-1zM406 448h1v3h-1zM325 448h2v1h2v1h1v-1h2v-1h2v1h1v8h-1v3h-2v-1h-2v-1h-2v1h-2v-1h-1v-4h-1v-5h1zM310 448h2v1h1v1h3v-1h2v1h1v4h-1v3h-1v1h-4v1h-2v-3h-1zM310 433h1v2h1v1h-1v2h-1v-1h-1v-3h1zM333 419h1v1h1v1h-1v1h-1v-1h-1v-1h1zM324 418h2v1h1v8h2v1h1v-1h2v-1h2v3h1v5h2v1h2v-1h1v-1h2v9h1v1h1v1h3v-1h3v3h1v6h-1v1h-2v-1h-1v-1h-3v1h-1v1h-2v-1h-1v-8h-2v-1h-1v1h-2v1h-2v-3h-1v-5h-2v-1h-1v1h-2v1h-2v-1h-1v-8h-2v-1h-4v-3h-1v-5h1v-1h1v1h4v-1h1zM310 418h1v1h1v3h-1v1h-1v-1h-1v-3h1zM502 417h1v1h2v1h-1v1h-1v5h-11v-1h-1v-4h-1v-2h12zM325 404h1v1h1v1h-1v1h-1v-1h-1v-1h1zM310 403h1v2h1v1h-1v2h-1v-1h-1v-3h1zM440 391h8v1h3v1h1v1h-1v4h-1v1h-17v1h-1v1h-1v1h1v1h1v1h1v2h-1v1h-1v1h-1v3h-1v1h-6v1h-2v4h1v1h-1v4h-2v-1h-1v1h-1v1h-1v8h3v3h11v-4h6v-1h2v-1h1v-2h-1v-3h1v-2h-1v-1h-1v-1h-1v-2h1v-1h1v-1h1v-2h1v-1h9v1h1v2h1v1h2v1h4v-1h1v-1h1v-2h-1v-3h1v-2h-1v-2h-1v-1h1v-1h13v1h1v1h-1v2h-1v1h1v1h2v1h4v-1h1v-1h1v-1h-1v-2h-1v-2h15v1h1v1h-1v1h-1v3h-1v1h-2v1h-5v1h-1v1h-1v1h1v2h1v2h-21v1h-1v1h-1v3h-1v1h-6v1h-2v3h1v1h1v2h-1v1h-1v1h-1v3h-1v1h-6v1h-2v3h1v1h1v2h-1v1h-1v1h-1v2h1v1h8v1h1v3h1v1h1v1h5v-1h1v-1h1v-2h-1v-3h1v-2h-1v-2h-1v-1h1v-1h13v1h1v1h-1v2h-1v2h1v3h-1v2h1v1h1v1h11v2h-1v2h-1v4h-11v-1h-1v-3h-1v-1h-1v-1h-5v1h-1v1h-1v3h-1v1h-7v1h-1v1h-1v1h1v1h1v1h1v1h-1v1h-1v2h-1v2h-1v1h-2v1h-7v-1h-1v-3h-1v-1h-1v-1h-1v-2h1v-1h1v-1h1v-1h-1v-1h-1v-1h-7v-1h-1v-3h-1v-3h9v-1h2v-1h1v-4h-1v-1h-9v-1h-1v-2h-1v-1h-1v-1h12v-9h-1v-1h1v-1h-6v2h-1v1h-3v-1h-2v1h-2v3h-1v5h-3v-1h-2v-1h-2v1h-3v-5h-1v-10h-2v-1h-1v1h-2v1h-1v6h-1v-2h-1v-9h-1v-3h-2v-1h-2v1h-3v-1h-1v-3h1v-4h1v-1h4v-1h2v-1h1v-4h-1v-3h1v-2h2v2h1v3h-1v4h1v1h2v1h1v-1h1v-1h1v-6h1v-1h3v1h2v-1h2v-3h-1v-2h1v-1h6v-1h1v-1h1v-1h-1v-2h-1v-1h12zM439 388h1v2h-3v-1h2zM471 385h9v4h1v2h1v2h-9v1h-1v1h-1v3h-1v1h-9v-1h-1v-4h-1v-1h1v-1h3v-1h5v-1h1v-1h1v-3h1zM439 378h11v4h-1v2h-1v1h-2v1h-3v-1h-2v-1h-1v-5h-1zM357 374h1v3h-1zM373 367h3v1h3v-1h1v1h1v6h1v2h-1v1h-2v-1h-3v1h-2v-1h-1v-2h-1v-1h1zM373 360h1v1h-1zM359 352h1v1h3v-1h3v4h1v9h-1v4h-3v-1h-2v1h-2v1h-3v-1h-2v-1h-2v1h-2v-5h-1v-5h3v1h2v-1h2v-2h1v-3h1v-1h1zM365 344h1v3h-1zM342 337h2v1h3v-1h3v9h-1v1h-2v-1h-3v1h-2v1h-1v-9h1zM349 329h1v3h-1zM357 328h2v1h2v1h2v-1h2v1h1v2h1v2h-1v5h-3v-1h-3v1h-3v-4h-1v-6h1zM406 326h1v1h1v2h1v3h-1v2h-2v-2h-1v-3h1zM406 321h2v4h-2zM389 314h1v1h1v6h1v1h2v1h2v-1h3v5h1v4h-1v1h-3v-1h-2v1h-2v2h-1v1h1v2h2v1h2v-1h3v9h-1v1h-2v-1h-2v1h-2v12h2v1h2v-1h2v1h1v6h1v16h2v1h1v-1h2v-1h1v-4h-1v-5h1v-12h1v-1h1v1h1v1h-1v5h1v1h2v1h2v-1h3v5h1v2h2v1h1v-1h2v-1h1v-8h-1v-3h-2v-1h-2v1h-3v-1h-1v-4h6v-1h-1v-2h-1v-1h1v-1h12v2h-1v3h-4v2h2v1h1v8h-4v11h8v3h1v3h-1v1h1v3h2v1h-14v-6h-2v-1h-2v1h-3v-4h-1v-3h-2v-1h-1v1h-2v1h-1v9h1v5h-3v-1h-2v-1h-4v1h-2v-1h-1v-6h-2v-1h-1v1h-2v1h-1v4h1v3h-1v3h-1v-1h-1v-2h-1v-3h1v-25h-1v-2h-2v-1h-2v1h-4v-15h-2v-1h-2v1h-2v1h-1v-1h-1v-6h1v-4h3v1h3v-1h3v4h1v3h2v1h1v-1h2v-4h1v-7h-1v-7h1v-9h-1v-2h1zM406 312h2v2h1v3h-1v3h-2v-3h-1v-3h1zM357 305h1v1h1v1h2v1h2v-1h3v4h1v8h-1v4h-1v1h-2v-1h-3v1h-3v-3h-1v-3h-1v-1h-1v-1h-1v1h-2v1h-2v-1h-1v-7h1v-4h2v1h2v1h1v-1h2v-1h1zM501 300h2v2h-2zM325 299h1v1h1v1h-1v2h-1v-2h-1v-1h1zM388 298h2v1h1v9h-1v1h-1v1h-1v-1h-2v-1h-1v1h-2v10h-1v3h-9v-3h-1v-8h1v-4h3v1h2v-1h2v-4h1v-3h1v-1h2v1h3v-1h1zM501 287h2v2h-2zM406 284h2v1h2v1h3v-1h2v-1h2v7h3v-1h-1v-1h1v-1h2v-1h10v1h1v1h-1v2h-1v1h1v1h1v1h5v1h2v1h1v2h1v2h1v1h-1v1h-9v6h-1v1h-2v-1h-2v1h-2v1h-1v3h8v1h9v3h-1v1h1v1h1v1h7v1h1v3h1v1h1v1h9v1h1v1h-1v2h-1v3h-1v1h-9v-1h-1v-3h-1v-1h-1v-1h-9v-1h-1v-1h1v-2h1v-1h-1v-1h-1v-1h-6v-1h-1v-1h-1v-2h-1v-1h-1v-1h-4v1h-2v1h-1v4h-1v4h1v1h1v4h-1v1h1v4h-1v2h1v2h1v1h-1v1h-2v-6h-1v-11h-4v-6h-1v-3h1v-2h8v-8h-1v-3h-2v-1h-2v1h-3v-1h-2v-1h-3v1h-2v1h-2v-5h1v-1h-1v-6h1v-1h-1zM512 274h2v2h-2zM501 274h2v2h-2zM401 272h1v1h1v1h10v2h-1v2h-1v2h-9v-1h-1zM325 269h1v3h-1v-1h-1v-1h1zM310 269h3v1h6v4h-1v3h-7v-1h-1zM334 255h1v1h4v-1h5v1h3v-1h5v1h5v1h1v2h-1v4h-10v-1h-3v1h-1v1h-1v5h1v1h1v1h4v-1h1v1h1v7h2v1h3v-1h2v-1h3v1h2v-1h2v-8h4v1h3v-1h3v1h1v7h2v1h2v-1h2v9h-5v1h-2v1h-1v-1h-1v-8h-2v-1h-1v1h-2v8h-1v1h-2v-1h-2v-1h-1v1h-2v1h-1v1h-1v-1h-1v-1h-2v-1h-2v1h-3v-2h-1v-6h-2v-1h-2v1h-1v1h-2v-4h-1v-4h-2v-1h-1v1h-2v1h-2v-1h-1v-5h1v-11h1zM493 249h9v3h-1v2h-1v1h-7v-3h-1v-2h1zM512 246h23v2h1v2h-11v1h-2v-1h-11v-1h-1v-1h1zM584 240h11v2h-1v1h-1v1h-1v1h-3v-2h1v-1h-1v-1h-5zM389 240h4v1h5v1h1v5h1v1h1v1h3v-1h3v5h1v2h-1v1h-3v-1h-3v1h-5v-1h-3v1h-1v1h-1v3h-1v3h-3v-1h-5v-6h5v-1h1v-1h1zM451 239h39v2h-1v1h-7v1h-3v-1h-26v-1h-1v-1h-1zM416 239h2v1h-2zM341 237h17v3h-6v1h-5v-1h-4v1h-1v-1h-1zM363 225h7v1h-1v4h1v1h-1v7h2v1h2v1h-7v-1h-1v-2h1v-9h-1v-1h-2v1h-2v-1h-3v-1h5zM371 224h3v1h-3zM406 207h2v2h1v3h-1v9h1v3h-12v-2h1v-5h3v1h2v-1h2v-1h1v-4h-1v-3h1zM365 202h3v1h3v-1h3v4h1v6h-1v1h-1v-1h-2v-1h-3v1h-2v1h-1v-1h-1v-6h1zM401 192h11v1h-1v1h1v2h1v2h-9v1h-2v3h2v1h-3zM421 190h9v1h1v3h1v2h1v1h-1v1h-13v-1h-1v-1h1v-2h1v-3h1zM299 157v9h2v-1h1v-1h1v-5h-1v-1h-1v-1zM517 152v1h-2v1h-1v1h1v1h1v1h7v-1h2v1h6v-1h2v-1h1v-1h-1v-1h-2v-1h-6v1h-2v-1zM474 152v1h-2v3h1v1h4v-1h2v-3h-2v-1zM268 152v1h-1v3h1v1h3v-1h1v-3h-1v-1zM385 151v1h-1v1h-1v14h-1v1h-2v-1h-2v-1h-1v1h-1v1h-1v3h1v1h1v1h1v-1h2v-1h3v1h2v1h1v-1h1v-1h1v-19h-2v-1zM345 151v1h-1v1h-1v3h1v1h1v1h1v-1h2v-1h2v4h1v3h1v1h1v1h1v-1h1v-1h1v-3h1v-3h4v1h1v-1h1v-1h1v-3h-1v-1h-1v-1h-1v1h-2v1h-3v-1h-2v-1h-1v1h-2v1h-3v-1h-2v-1zM284 151v1h-1v1h-1v10h1v1h1v1h1v-1h1v-1h1v-10h-1v-1h-1v-1zM444 146v1h-2v1h-1v3h-1v1h-7v1h-1v1h-1v1h1v1h1v1h1v2h-1v1h-1v3h1v1h5v-1h1v-1h1v-1h-1v-2h-1v-1h1v-1h8v-1h2v-1h1v-2h-1v-3h1v-2h-1v-1h-1v-1zM299 144v5h2v-1h1v-3h-1v-1zM261 143v1h-1v1h-1v3h1v1h3v-1h1v-3h-1v-1h-1v-1zM183 141v3h-1v5h-1v-1h-1v1h-1v20h1v1h1v-1h1v-8h1v3h4v-4h1v-2h-1v-7h1v-5h-1v-5zM182 154h1v1h-1zM506 139v1h-2v1h-1v1h1v1h2v1h6v-1h2v1h6v-1h2v-1h1v-1h-1v-1h-2v-1h-6v1h-2v-1zM394 136v1h-2v1h-1v7h1v4h2v1h1v-1h2v-1h3v1h2v1h1v-1h1v-1h1v-4h-2v-1h-2v1h-3v-4h-1v-3h-2v-1zM314 136v1h-1v1h-1v3h1v1h1v1h4v3h1v10h1v1h1v1h1v-1h2v-1h1v-1h1v1h1v1h2v1h1v-1h1v-1h1v-12h1v-3h2v1h2v1h1v-1h2v-1h1v-1h1v1h1v1h2v1h1v-1h1v-1h1v-3h-1v-1h-1v-1h-1v1h-2v1h-1v1h-1v-1h-1v-1h-2v-1h-1v1h-2v1h-1v1h-1v-1h-1v-1h-2v-1h-1v1h-2v1h-1v1h-1v-1h-1v-1h-2v-1h-2v1h-4v-1zM325 149h1v1h1v1h-1v2h-1v-2h-1v-1h1zM269 136v1h-1v1h-1v3h1v1h1v1h1v-1h1v-1h1v-3h-1v-1h-1v-1zM239 136v1h-1v1h-1v30h-1v4h1v6h1v1h1v1h1v-1h1v-1h1v-40h-1v-1h-1v-1zM428 132v5h-7v1h-1v1h-6v1h-1v-3h-1v-1h-1v1h-1v1h-1v4h2v1h1v-1h1v1h1v1h8v1h1v1h-1v4h2v1h4v-1h1v-3h-1v-1h-1v-2h1v-1h1v-1h1v-3h1v-1h19v1h1v3h1v1h1v1h4v-1h2v-1h1v-3h1v-1h7v-1h1v-3h-1v-1h-39v-1zM418 129v1h-1v4h2v1h1v-1h1v-1h1v-4zM284 128v1h-2v1h-1v2h1v2h2v1h1v-1h6v1h1v-1h1v-5h-1v-1h-1v1h-6v-1zM474 126v1h-2v3h1v1h6v-1h4v1h16v-1h1v-1h1v-1h-1v-1h-1v-1h-16v1h-4v-1zM224 125v1h-1v5h-1v1h-2v1h-1v16h1v1h2v1h1v7h1v1h6v-1h1v-8h1v-8h-1v8h-3v-1h-1v-23h-1v-1zM401 122v1h-1v3h1v1h3v-1h1v-3h-1v-1zM299 122v6h1v-1h1v-1h1v-3h-1v-1zM361 121v1h-2v4h-1v3h-4v-1h-1v1h-2v4h1v1h1v1h1v-1h2v-1h2v1h1v7h1v1h1v1h2v-1h3v3h1v4h2v1h1v-1h1v-1h1v-10h-1v-1h-1v-1h-1v1h-2v1h-2v-1h-1v-14h-1v-1h-1v-1zM321 121v1h-1v1h-1v3h1v1h3v-1h1v-3h-1v-1h-1v-1zM276 121v1h-1v1h-1v10h1v1h1v1h1v-1h2v-2h1v-4h-1v-5h-1v-1h-1v-1zM454 120v1h-2v3h2v1h3v-1h2v-3h-2v-1zM424 120v1h-2v5h4v1h2v4h1v-2h1v-1h-1v-5h1v-1h-1v-1h-2v-1zM230 120v1h-1v1h-1v4h1v2h1v1h3v-1h1v-2h1v-3h-1v-2h-1v-1zM195 118v2h-1v3h-1v9h1v2h1v7h-1v9h-1v-1h-1v20h1v-10h2v3h-1v19h1v1h-1v5h-1v6h-1v9h1v-8h1v10h-1v9h1v22h1v2h-1v3h-1v-4h-1v10h-1v1h-9v10h1v11h1v1h3v-8h1v-2h1v2h1v1h1v-1h1v-2h1v16h1v18h2v2h-2v27h-1v7h1v56h-1v7h1v10h-1v9h1v13h1v1h-1v22h-1v9h1v4h1v1h-1v5h-1v7h1v9h1v3h-1v8h-1v7h1v10h6v-25h-1v-1h1v-1h3v17h1v1h10v1h1v8h28v-5h1v-1h4v-1h1v-1h2v1h1v7h21v-6h-1v-1h-1v-1h-3v1h-1v1h-3v-1h-1v-1h-5v-2h-1v-5h1v-5h-1v-2h-1v-1h-3v1h-2v-1h-1v-5h-1v-1h-1v-1h-5v-7h4v-1h1v-1h1v-6h1v-5h-1v-2h-1v-1h-4v-1h-1v-5h1v-1h3v-1h2v-1h1v1h2v1h1v1h3v-1h7v-1h1v-1h1v1h1v1h1v15h-1v6h1v2h1v1h3v-1h4v1h3v-1h2v-1h1v1h2v1h4v-1h1v-6h-1v-1h-1v-1h-3v1h-3v-6h-1v-2h-1v-1h-5v-2h-1v-5h1v-4h1v-2h4v-1h1v-2h1v-11h1v-3h2v1h3v-1h1v1h1v2h1v26h1v1h1v1h1v-1h1v-43h-1v-1h-2v1h-1v7h-1v1h-2v-1h-3v1h-2v-1h-1v-2h-1v-4h1v-2h3v1h5v-7h-1v-1h-1v-1h-3v1h-2v1h-4v-1h-1v1h-1v1h-1v4h-1v2h-2v-1h-2v1h-2v1h-1v2h1v2h2v1h4v5h-1v2h-1v1h-3v1h-1v1h-2v-29h-1v-2h-2v-1h-1v1h-2v1h-2v-1h-2v-1h-1v1h-2v2h-1v1h1v8h-1v3h-1v1h-3v-1h-1v1h-1v1h-1v3h1v1h1v1h1v-1h4v3h1v3h-1v3h-3v-1h-5v-1h-1v-3h-1v-1h-1v-1h-1v1h-1v1h-1v7h-1v2h1v2h2v1h2v-1h1v1h3v1h3v-1h3v1h1v4h-1v4h-4v-1h-2v1h-2v-1h-2v-1h-3v1h-1v1h-3v-1h-1v-1h-1v-8h1v-1h1v-4h-2v-1h-1v1h-3v-1h-1v-16h1v-1h2v1h1v7h1v-7h1v-1h1v-4h-2v-1h-1v-4h1v-18h1v-1h1v-1h3v1h1v1h3v-1h2v-1h2v1h2v-1h3v1h1v5h1v2h1v1h3v-1h2v-1h2v1h2v-1h2v-1h2v1h1v1h1v1h4v1h1v6h1v1h4v-1h1v-2h1v-11h1v-2h2v1h3v-1h6v-1h1v-74h-4v-1h-1v-6h2v-1h3v-44h-2v-1h-2v-6h1v-1h3v-15h-3v-1h-1v-3h-1v-2h-1v-2h-1v-1h-4v-1h-3v1h-1v-1h-1v1h-2v2h-3v-1h-1v-2h1v-4h1v-2h2v1h2v-1h2v-1h1v1h1v1h2v1h3v-1h6v-1h1v-5h-1v-1h-4v-2h-1v-4h1v-2h4v-1h1v-20h-1v-1h-1v1h-2v4h-1v2h-4v1h-1v1h-1v8h-1v1h-1v-1h-1v-1h-2v-1h-1v1h-1v1h-1v13h-1v1h-2v-1h-2v1h-2v2h-1v1h-1v-1h-1v-2h-2v-1h-1v1h-1v1h-1v10h-1v1h-2v1h-2v1h-1v1h-2v-2h-1v-1h-6v1h-2v-1h-1v-1h-1v-1h-2v2h-1v1h-1v1h-1v-1h-1v-5h-1v-1h-1v-5h-1v5h-1v1h-1v3h-1v2h-1v1h-2v-1h-2v-3h3v-1h1v-12h3v1h2v-1h1v-1h1v-10h-1v-1h-1v-1h-1v1h-1v1h-1v5h-1v1h-1v-26h1v-1h3v8h1v-8h-1v-4h1v-1h2v-5h-2v-1h-1v1h-1v1h-6v1h-1v6h-1v2h-10v1h-1v7h1v1h10v1h1v7h-1v1h-2v1h-1v7h-1v1h-2v1h-1v7h1v1h6v3h1v6h-3v1h-1v6h-1v-1h-1v-5h-1v-1h-3v1h-3v1h-1v1h-2v-12h3v-1h1v-7h-1v-1h-3v-8h-1v-1h-3v-9h3v-1h1v-7h-1v-1h-3v-8h1v-1h2v-1h1v-7h1v-1h2v1h1v7h1v1h2v-1h1v-34h-1v-1h-2v1h-1v7h-1v1h-3v-8h-1v-1h-2v-1h-1v-7h-1v-1h-2v-3h-1v11h-1v-12h-1v-1zM219 483h9v3h-1v2h-3v1h-2v3h-2v-1h-1zM220 465h3v1h-1v8h-3v-8h1zM204 465h2v1h1v7h1v1h2v-1h1v-7h1v-1h2v1h1v7h1v1h3v9h-16v-17h1zM196 460h1v1h-1zM227 459h1v2h1v3h2v1h1v-1h2v-1h2v2h1v7h-1v9h-3v-1h-1v-14h-1v7h-1v1h-2v-7h-1zM197 459h2v1h-2zM195 459h1v1h-1zM204 447h2v1h1v7h-1v1h-2v-1h-1v-7h1zM198 431h1v2h-1zM211 429h3v1h1v7h1v1h3v8h-1v1h-2v1h-1v7h-1v1h-2v-1h-1zM220 420h2v1h1v8h-1v8h-1v1h-2v-17h1zM207 420h4v9h-4zM200 420h3v8h1v1h3v8h-1v1h-6v-13h-1v-1h1zM204 411h2v1h1v8h-4v-8h1zM212 402h2v1h1v8h1v8h-1v1h-4v-17h1zM227 393h3v1h1v8h-7v-1h-1v-4h1v1h1v-1h1v-1h1zM195 389h3v1h1v1h-4zM212 384h3v8h-1v1h-2v-1h-1v-7h1zM200 384h6v1h1v16h-1v1h-2v-1h-1v-7h-1v-1h-2zM228 383h2v1h-2zM227 375h3v1h-1v2h-1v5h-1zM220 366h2v2h1v1h3v-1h1v7h-3v1h-1v7h-1v1h-7v-8h1v-1h2v-1h1v-7h1zM207 366h4v8h-1v1h-2v-1h-1zM195 365h2v1h-2zM280 360h3v1h6v4h-1v2h-6v1h-2v-2h-1v-4h1zM233 360h3v1h1v6h-1v9h-3v-1h-1v-10h-1v-4h2zM281 343h1v1h2v1h2v-1h2v1h1v5h-1v2h-5v1h-2v1h-1v-1h-2v-1h-4v1h-1v7h1v16h-1v1h-2v-1h-2v1h-2v1h-1v1h-1v-18h-1v-9h1v-3h1v2h1v1h2v1h2v-1h1v-4h1v-2h5v-1h1v-1h2zM200 339h7v8h1v1h7v17h-1v1h-3v-8h-1v-1h-2v1h-1v8h-7v-1h-2v-1h2zM198 331h1v2h-4v-1h3zM219 330h3v8h1v1h3v-1h4v1h1v6h-1v1h-2v1h-2v-1h-2v1h-2v1h-7v-9h3v-1h1zM216 321h2v1h1v8h-4v-8h1zM207 321h3v1h1v7h1v1h3v9h-8zM280 315h3v1h5v1h1v3h-1v2h-5v1h-1v1h-1v5h1v1h1v1h4v-1h1v1h1v5h-1v2h-5v1h-3v-4h-1v-3h-2v-1h-4v-2h-1v-3h1v-2h5v-1h1v-1h1zM234 315h2v12h1v2h2v1h2v-1h2v1h2v1h3v-1h3v13h1v2h1v1h5v1h1v14h-1v5h-1v1h-4v1h-1v1h-1v8h-1v1h-1v-1h-2v-1h-4v-6h1v-1h4v-1h1v-1h1v-12h-1v-2h-1v-1h-3v1h-4v-1h-3v1h-2v-1h-1v-5h-1v-1h-1v-1h-1v-6h1v-1h1v-1h1v-19h-1zM228 294h3v6h-3zM234 292h3v1h1v1h4v1h1v5h-5v1h-1v1h-3v-1h-1v-1h-1v-6h1v-1h1zM211 285h6v1h1v8h4v13h1v1h4v3h-1v1h-10v-1h-1v-16h-1v-1h-2v-1h-1zM263 270h3v7h1v1h1v1h4v2h1v3h1v1h1v1h3v-1h3v6h-1v2h-2v-1h-4v-2h-1v-3h-1v-1h-1v-1h-3v1h-1v1h-1v5h-1v1h-2v-1h-3v1h-1v2h-1v3h1v2h1v1h3v-1h1v-1h3v1h1v1h4v1h1v6h-5v1h-1v13h-1v1h-3v-1h-3v1h-4v-1h-3v1h-1v1h-3v-1h-1v-1h-5v-2h-1v-5h1v-5h1v-1h1v-1h3v-1h1v-2h1v-18h-1v-1h-1v-1h-3v1h-4v-1h-3v1h-1v1h-3v-1h-1v-1h-1v-6h1v-1h1v-1h3v1h1v1h3v-1h4v1h3v-1h2v1h1v5h1v1h1v1h3v-1h4v1h3v-1h1v-1h1v-5h-1v-1h-1v-1h-4v-2h-1v-4h5zM249 262h1v1h-1zM250 261h1v1h-1zM244 260h1v1h1v1h-2zM278 259h3v2h-1v2h-2v-1h-4v-2h1v1h2v-1h1zM273 259h1v1h-1zM264 259h2v3h-1v1h-2v-1h-4v-1h1v-1h4zM219 259h1v1h2v3h1v1h4v1h1v3h-1v7h-1v1h-6v-1h-1zM203 259h4v1h1v1h1v-1h2v25h-3v1h-1v35h-2v1h-1v2h1v5h-2v-7h-2v4h1v3h-1v1h-1v-27h2v-1h1v-26h3v-1h1v-7h-1v-1h-2v1h-1v8h-3v-15h1v-1h2zM265 221h1v1h1v2h-3v-2h1zM265 216h1v4h-1zM200 213h3v10h-1v1h-1v1h-1zM280 208h1v3h-1zM203 204h4v9h-4zM195 204h2v1h1v1h1v1h-2v-1h-1v1h-1zM200 195h3v9h-3zM200 177h3v9h-3v-4h-1v-2h1zM195 158h2v1h-2zM197 146h1v2h-1zM200 141h7v8h-1v1h-6zM409 115v3h1v1h3v-1h1v-3zM313 114v1h-1v3h1v1h1v1h1v-1h1v-1h1v-3h-1v-1zM377 113v1h-1v1h-1v3h1v1h1v1h1v-1h2v-1h2v1h1v5h-1v12h1v5h1v1h1v1h1v-1h2v-1h1v-17h-1v-9h-1v-1h-1v-1h-1v1h-2v1h-3v-1h-2v-1zM345 113v1h-1v1h-1v7h-1v1h-2v-1h-2v-1h-1v1h-1v1h-1v3h1v1h1v1h1v-1h2v-1h1v-1h1v1h1v1h2v1h1v-1h2v-8h1v-1h2v1h2v1h1v-1h1v-1h1v-3h-1v-1h-1v-1h-1v1h-2v1h-1v1h-1v-1h-1v-1h-2v-1zM254 113v1h-1v1h-1v18h1v1h1v1h1v-1h2v-1h2v1h2v1h1v-1h1v-1h1v-3h-1v-1h-1v-1h-2v1h-2v-2h-1v-12h-1v-1h-1v-1zM208 110v1h-1v2h1v1h2v-3h-1v-1zM260 107v1h-1v3h1v1h1v1h1v-1h1v-1h1v-3h-1v-1zM224 106v1h-1v1h-1v6h-3v1h-2v-1h-1v1h-1v4h-1v1h-2v3h10v-1h1v-3h1v1h1v-1h2v-11h-1v-1h-1v-1zM328 105v1h-1v1h-1v5h1v1h1v1h3v-1h1v-1h1v-5h-1v-1h-1v-1zM299 105v9h2v-1h1v-1h1v-5h-1v-1h-1v-1zM417 101v3h-3v1h3v-1h2v-3zM204 99v1h-1v4h1v1h2v-1h1v-4h-1v-1zM300 75v8h2v6h5v-1h2v-5h4v7h8v-7h2v8h3v1h5v-9h2v8h4v-1h3v1h3v-8h2v6h8v-6h2v6h3v1h1v-1h5v-6h3v7h6v1h4v-8h4v9h7v-9h4v7h2v1h2v1h5v-9h4v9h9v-9h3v9h4v-1h4v-8h3v8h7v-3h3v1h6v1h3v1h2v-1h3v-1h2v-1h10v1h2v1h2v1h8v-1h2v-1h2v-1h9v1h2v1h3v-1h2v-1h7v1h2v-1h8v1h5v1h2v1h5v-1h2v-1h2v-1h9v1h2v1h3v1h6v-1h3v-1h2v-1h10v1h2v1h2v1h3v-1h2v-1h2v-1h2v1h3v-1h6v1h2v1h2v1h5v-1h2v-1h2v-1h1v-13zM527 86h3v1h-3zM535 83h2v2h-2zM80 75v435h7v-10h2v1h1v9h20v-7h1v-7h-1v-7h2v1h1v20h3v-9h1v-1h2v1h1v9h4v-10h1v1h1v9h7v-9h1v-1h5v10h4v-10h2v-1h1v-31h-1v-1h-1v1h-1v32h-4v-21h-1v-1h-2v-10h1v-1h1v-1h1v-20h-1v-1h-1v1h-1v9h-1v1h-1v1h-1v9h-1v1h-2v1h-1v9h1v1h6v10h-1v1h-11v-22h1v-1h1v-9h1v-1h1v-1h1v-10h3v-1h1v-10h1v1h3v-1h5v-1h1v-9h-1v-1h-3v-1h-1v-55h1v-9h-1v-35h1v-5h2v-3h4v1h1v1h-1v1h2v40h-1v9h1v34h-4v-10h-1v-1h-2v1h-1v9h1v1h3v10h1v1h3v36h1v2h1v27h2v-9h1v-2h1v-31h-1v-101h1v-9h-1v-7h5v1h14v6h2v1h1v-1h1v-50h1v-4h-1v-9h3v-1h1v-13h-1v-1h-2v-10h-1v-1h-6v-10h-1v-1h-1v1h-1v10h-2v-22h1v-1h1v-9h-1v-1h-1v-4h3v-1h2v14h1v3h2v-1h1v1h1v-1h1v-2h1v1h1v1h4v15h1v6h1v1h2v-1h1v-10h2v-1h1v-9h-1v-1h-2v-10h-1v-24h-1v1h-2v1h-1v10h-1v-1h-1v-9h-1v-1h-1v1h-1v-41h-1v-4h3v-1h1v-10h2v-1h1v3h1v1h2v1h2v-1h1v-24h-1v-2h-4v2h-1v10h-2v1h-1v10h-2v-1h-1v-9h-1v-13h-1v-1h-2v1h-2v3h-1v6h1v6h2v18h-2v2h-1v10h1v1h-1v9h1v21h-1v8h-4v1h-1v-7h1v-1h1v-9h-1v-1h-1v-55h-1v-2h-3v3h-1v-3h-2v1h-3v10h-1v-8h-1v-1h-2v-3h-2v1h-2v13h-2v-5h-4v15h-1v-9h-1v-18h-1v-2h-1v-3h-2v1h-1v21h-4v-21h-1v-1h-2v2h-1v-3h-1v-1h-1v-1h-1v1h-1v2h-1v21h-1v1h-2v-1h-1v-9h-1v-1h-4v-25h3v-1h1v1h2v1h-1v4h1v1h2v-1h1v-4h-2v-1h3v-2h1v-1h-1v-7h1v-4h1v2h1v12h1v-1h1v1h2v3h3v-2h2v-1h7v3h-1v2h1v1h6v-5h3v4h3v-5h1v1h5v4h6v-3h2v1h1v-2h18v5h3v-5h12v6h3v-6h3v2h3v1h2v-1h1v-2h1v1h2v-1h6v6h4v-1h2v-3h2v1h1v-3h6v2h3v-2h4v-1h2v1h3v2h3v-3h1v1h3v-1h1v1h7v3h1v1h2v-4h3v5h3v-5h6v4h3v-4h6v2h3v1h1v-1h2v-2h2v-16zM86 490h1v10h-1zM104 478h1v1h1v9h1v1h1v10h1v1h-8v-1h-1v-9h1v-1h1v-1h1v-9h1zM88 467h1v1h1v9h-1v1h-1v-1h-1v-9h1zM120 456h2v1h1v32h-2v-1h-1v-9h-1v-1h-2v-1h-1v-10h3v-1h1zM114 456h2v11h-2v-1h-1v-9h1zM99 435h1v10h-1zM86 435h1v9h-1zM104 434h1v1h1v9h1v1h1v2h1v9h-8v-1h-1v-10h2v-1h1v-9h1zM91 423h2v10h-1v1h-1v-1h-1v-9h1zM93 413h1v10h-1zM127 401h6v33h-3v1h-1v10h-5v-33h2v10h1v1h1v-1h1v-9h-1v-1h-2v-10h1zM121 401h1v1h1v43h-2v1h-1v10h-4v-21h-1v-1h-4v-1h-1v-7h1v-3h1v-1h1v-9h1v-1h1v1h1v9h1v1h2v-1h1v-20h1zM104 401h1v1h1v9h-1v1h-1v-1h-1v-9h1zM86 391h1v9h-1zM111 379h1v1h1v9h1v1h1v1h1v9h-1v1h-4v-1h-1v-9h1zM93 369h1v9h-1zM86 369h1v9h-1zM104 368h5v4h-1v2h1v5h-5v-1h-1v-9h1zM132 367h1v13h-1v-1h-3v-11h3zM114 357h1v1h1v9h-1v1h-1v-1h-1v-9h1zM90 335h4v12h-1v9h-1v1h-1v-1h-1zM113 302h3v10h-1v1h-1v-1h-1zM91 302h1v1h1v20h-1v1h-1v1h-1v10h-2v-1h-1v-13h4v-2h1v-12h-1v-1h-1v-3h1zM127 291h2v32h1v1h3v33h-3v1h-1v10h-2v1h-1v9h1v1h2v10h-1v1h-4v-9h-1v9h-2v-1h-1v-9h1v-1h1v-1h1v-9h-1v-1h-1v-1h-1v-20h-1v-1h-5v-1h-1v-20h1v-1h8v-1h1v-9h-1v-1h-1v-1h-1v-10h5v-1h1v-9h1zM117 291h3v11h-4v-10h1zM111 291h1v1h1v10h-2zM93 281h1v10h-1zM86 281h1v9h-1zM129 280h3v1h1v10h-4zM138 269h1v10h1v1h2v1h1v10h-3v1h-1v9h1v1h2v-1h1v-10h4v17h-9zM99 269h1v10h-1zM140 258h6v12h-1v-1h-6v-10h1zM106 258h2v3h1v1h1v1h-1v39h-2v1h-1v9h1v1h1v42h1v2h-5v-1h-1v-9h1v-1h1v-1h1v-9h-1v-1h-1v-1h-1v-20h-1v-1h-1v1h-1v8h-1v-31h3v-1h1v-9h1v-1h1v-1h1zM100 258h3v10h-1v1h-2zM173 247h3v11h-4v-10h1zM111 247h1v1h1v9h-1v1h-1zM103 247h3v11h-3zM99 247h1v11h-1zM126 246h1v1h1v1h1v32h-5v1h-1v9h-1v1h-2v-10h-1v-1h-5v-1h-1v-9h1v-1h1v-1h1v-9h1v-1h3v15h1v3h1v1h2v-1h1v-4h1zM166 236h3v10h-1v1h-2zM107 236h1v11h-2v-10h1zM86 236h1v10h1v1h4v1h1v9h-1v1h-4v1h-1v9h-1zM151 225h4v1h1v9h1v1h1v-1h1v30h1v4h1v-1h1v1h1v-4h1v-18h2v10h1v1h4v9h-1v12h1v23h-1v7h-3v-1h-6v1h-9v-22h-1v-40h2v10h1v1h1v-1h1v-9h-1v-1h-2v-10h-1v-1h-1zM144 225h2v22h-8v-11h4v-1h1v-6h1zM100 225h3v22h-3zM126 224h1v1h1v1h1v9h-1v1h-1v1h-1zM185 222h1v3h-1zM99 215h1v10h-1zM104 214h2v10h-1v1h-2v-10h1zM86 214h3v1h1v20h-1v1h-2v-10h-1zM93 200h1v24h-1zM138 199h1v3h1v9h-1v4h-1zM111 199h5v14h1v1h2v-1h1v12h-3v1h-1v9h-1v1h-1v-1h-1v-9h-1v-1h-1v-11h1v-5h-1zM106 199h2v15h-2zM151 198h1v1h1v3h1v12h-2v-1h-1zM144 198h1v1h1v4h-2zM126 198h7v5h-6v-1h-1zM86 182h1v4h-1zM145 181h1v7h-2v-6h1zM138 181h1v6h-1zM103 181h5v6h-5zM126 180h1v1h5v1h1v5h-1v1h-6zM101 170h2v11h-2v-1h-1v-9h1zM138 160h1v9h-1zM111 159h2v10h1v1h2v10h-1v1h-4zM88 159h1v1h1v9h-1v1h-1v-1h-1v-9h1zM119 158h1v13h-1v-1h-3v-11h3zM113 148h3v11h-3zM126 147h1v1h1v1h1v20h-1v1h-1v1h-1zM112 138h1v10h-2v-3h1zM117 137h3v12h-1v-1h-3v-10h1zM103 137h5v11h-1v1h-1v20h-1v1h-2zM99 137h1v10h-1zM145 136h1v23h-2v-22h1zM127 126h2v10h-1v1h-2v-10h1zM91 126h3v21h-1v-9h-1v-1h-1v-1h-1v-9h1zM152 125h1v30h1v16h-1v16h-2v-61h1zM100 115h2v1h1v21h-3v-11h-1v-10h1zM100 90h1v1h-1zM104 89h1v1h1v1h2v24h-1v-1h-1v-9h-1v-1h-2v-1h-3v-1h-1v-5h1v-1h2v-1h1v-4h1zM99 89h1v1h-1zM90 89h2v1h1v13h1v12h-6v-1h-1v-9h1v-1h1v-1h1z"/>
<path fill="#0000f5" fill-rule="evenodd" d="M538 504v3h16v-3zM505 504v3h16v-3zM377 504v1h-1v1h-1v4h5v-4h-1v-1h-1v-1zM329 504v1h-1v2h-1v3h5v-4h-1v-1h-1v-1zM313 504v1h-1v5h4v-1h1v-2h-1v-2h-1v-1zM284 504v1h-1v2h-1v1h1v2h3v-2h1v-1h-1v-2h-1v-1zM139 501v9h4v-9zM494 498v3h5v-3zM475 497v1h-2v1h-1v4h-1v2h-1v1h1v1h1v1h3v1h1v-1h5v-1h8v-3h-7v-1h-2v-1h-1v-3h-1v-1h-2v-1zM455 497v1h-2v3h5v-3h-2v-1zM435 497v1h-2v1h-1v3h-3v-2h-2v1h1v1h1v6h13v1h6v-1h2v-1h1v-3h-1v-1h-2v-1h-9v-3h-1v-1h-2v-1zM385 497v1h-1v3h1v1h1v-1h1v-3h-1v-1zM305 496v1h-1v1h-1v4h1v8h5v-4h1v-8h-1v-1h-1v-1zM150 490v1h-1v7h1v1h5v-1h1v-7h-1v-1zM345 489v1h-1v1h-1v1h1v1h1v1h1v-1h1v-1h1v-1h-1v-1h-1v-1zM337 489v1h-2v8h-1v2h1v2h1v1h3v-1h1v-1h1v-3h-1v-7h-1v-1h-1v-1zM321 489v1h-1v3h1v1h1v-1h1v-1h1v-1h-1v-1h-1v-1zM177 489v1h-1v9h1v1h1v-1h1v-9h-1v-1zM549 485v1h-1v1h1v5h-1v1h1v1h5v-1h1v-1h-1v-5h1v-1h-1v-1zM518 484v1h-2v1h-1v2h1v2h-1v1h-10v3h16v-1h1v-2h-1v-2h2v-1h9v-3h-11v-1zM411 482v1h-1v1h-1v1h1v1h1v1h1v-1h2v-3h-1v-1zM376 482v1h-1v2h-1v2h1v2h-1v2h1v2h2v1h1v-1h1v-1h1v-9h-1v-1zM368 482v1h-1v2h-1v1h1v4h-1v1h1v2h1v1h3v-1h1v-2h1v-2h-1v-2h1v-2h-1v-2h-1v-1zM360 482v1h-1v7h-1v2h1v2h1v3h-1v4h2v1h1v-1h1v-7h1v-3h1v-1h-1v-7h-1v-1zM516 478v3h2v1h1v-1h2v-3zM353 474v1h-1v8h-1v11h1v4h-1v6h-3v-1h-5v2h-1v5h14v-13h-1v-3h1v-3h1v-1h-1v-4h1v-1h-1v-3h-1v-7h-1v-1zM329 474v1h-1v1h-1v2h1v5h-1v10h2v1h2v-1h1v-9h-1v-9h-1v-1zM321 474v1h-1v3h1v1h1v-1h1v-1h1v-1h-1v-1h-1v-1zM291 474v1h-1v7h-1v1h-3v-1h-3v1h-1v3h-1v1h-1v-1h-1v-3h-2v-1h-2v1h-1v1h-2v-1h-2v-1h-1v1h-1v3h1v1h2v-1h2v7h1v4h1v4h1v1h1v-1h1v-2h1v-4h1v-1h2v1h4v-1h1v-1h1v-7h2v1h2v-1h1v-11h-1v-1zM304 473v1h-5v13h1v-1h1v-6h1v-1h2v1h4v-1h1v-2h1v-1h-1v-2h-1v-1zM571 472v3h5v-3zM538 472v3h5v-3zM253 472v1h-1v2h-1v4h1v1h1v1h2v-1h2v-2h1v-3h-1v-2h-2v-1zM507 471v1h-2v3h5v-3h-2v-1zM144 468v1h-1v30h2v-1h1v-29h-1v-1zM361 467v1h-1v3h1v1h1v-1h1v-3h-1v-1zM187 467v1h-1v9h1v1h1v-1h1v-9h-1v-1zM549 459v1h-1v1h1v4h-1v2h1v1h16v-3h-9v-1h-2v-2h1v-2h-1v-1zM443 459v3h5v-3zM369 459v1h-1v3h1v1h1v-1h2v-3h-2v-1zM529 458v1h-2v1h-1v1h1v2h1v1h-1v4h5v-1h1v-1h-1v-2h-1v-1h1v-2h1v-1h-1v-1h-2v-1zM485 458v1h-1v1h-1v2h1v2h-1v1h-12v-1h-2v-1h-1v-1h1v-2h-1v-1h-5v2h-1v1h1v1h-1v1h-1v1h-8v3h1v1h7v1h-2v1h-5v1h-1v1h-1v2h-1v1h-1v1h-6v1h-4v-1h-2v-2h1v-2h-1v-1h-1v-1h-5v1h-3v-1h-7v1h-3v-1h-4v7h1v7h1v1h1v1h1v2h1v1h1v-1h5v-1h5v1h2v2h-1v2h1v1h2v1h3v-1h15v1h5v-1h14v1h6v-1h11v-1h1v-2h-1v-1h1v-1h2v-1h7v-1h1v-1h-1v-3h1v-1h1v-1h1v-3h-1v-1h-2v-1h-5v1h-7v1h-3v3h1v1h3v1h3v1h-7v1h-11v1h-1v2h1v1h-1v1h-2v1h-3v-1h-6v-5h-1v-1h1v-1h5v-1h3v-1h1v-1h1v-3h1v-1h4v-1h2v-3h-1v-1h-4v-1h-3v-1h8v-1h8v1h8v1h6v-1h9v-1h1v-3h-4v-1h-4v-1h-1v-1h-1v-2h-1v-1h-1v-1zM480 489h2v1h-2zM429 481h3v1h7v-1h3v1h3v1h1v1h-4v1h-3v-1h-7v1h-3v-1h-8v-1h-2v-1h10zM425 458v9h-10v2h4v-1h3v1h7v-1h3v1h4v-1h2v-3h-8v-1h-2v-2h1v-2h-1v-1h-1v-1zM116 457v9h3v-1h1v-8zM582 452v3h5v-3zM344 452v1h-1v10h2v1h1v-1h1v-1h1v-9h-1v-1zM527 446v1h-1v2h1v2h-2v1h-9v3h11v1h3v-1h2v-1h1v-2h-1v-4h1v-1h-1v-1zM505 446v3h5v-3zM167 446v1h-1v7h1v1h1v-1h1v-7h-1v-1zM137 446v1h-1v9h-1v1h-1v1h-1v8h-1v1h-2v1h-1v9h1v1h4v-1h2v-10h1v-1h1v-1h1v-18h-1v-1zM474 445v1h-1v1h-1v1h1v7h11v1h14v-1h1v-3h-7v-1h-2v-1h-1v-1h1v-2h-1v-1h-12v-1zM480 450h2v1h-2zM445 445v1h-2v3h8v1h2v2h-1v1h1v2h5v-7h1v-1h-1v-1h-1v-1h-5v1h-3v-1zM144 445v1h-1v9h1v1h1v-1h1v-9h-1v-1zM369 444v1h-1v1h-1v1h1v1h1v1h1v-1h1v-3h-1v-1zM361 444v1h-2v4h1v3h-1v4h2v1h1v-1h1v-7h1v-4h-2v-1zM337 444v1h-2v3h1v5h-1v10h2v1h1v-1h2v-11h-1v-7h-1v-1zM516 439v3h5v-3zM329 437v1h-2v10h2v1h1v-1h2v-9h-1v-1h-1v-1zM192 435v10h1v-10zM529 432v1h-2v3h5v-3h-2v-1zM496 432v1h-2v1h-1v1h1v2h1v1h-1v4h5v-4h-1v-1h1v-2h1v-1h-1v-1h-2v-1zM454 432v1h-1v1h-1v2h1v1h-1v1h-1v1h-8v3h2v1h4v-1h3v1h6v-1h15v1h4v-1h1v-1h1v-1h-1v-5h1v-1h-1v-1h-1v-1h-6v1h-1v-1h-9v1h-2v-1zM361 429v1h-1v3h1v1h1v-1h1v-1h1v-2h-2v-1zM549 426v3h16v-3zM180 424v1h-1v7h1v1h1v-1h1v-7h-1v-1zM173 424v1h-1v7h1v1h2v-1h1v-7h-1v-1zM345 422v1h-2v15h-1v2h1v2h1v1h4v-1h1v-1h1v1h1v6h1v4h-1v4h2v1h1v-1h2v-4h-1v-3h1v-10h-1v-1h-1v-1h-2v1h-1v1h-1v-1h-1v-1h-1v-13h-1v-1h-1v-1zM203 421v6h1v1h3v-7zM485 419v1h-22v1h-1v2h1v1h-1v1h-1v1h-8v3h1v1h5v-1h2v1h9v-1h1v1h7v-1h15v1h6v-1h28v1h3v-1h2v-1h1v-2h-1v-4h1v-1h-1v-1h-5v1h-1v2h1v2h-2v1h-14v-1h-1v-2h1v-2h-1v-1h-2v-1h-1v1h-2v1h-1v2h1v2h-1v1h-12v-1h-2v-1h-1v-1h1v-2h-1v-1h-1v-1zM480 424h2v1h-2zM422 419v4h-2v-1h-1v1h-2v7h5v2h-1v1h-1v1h11v-1h-1v-1h-1v-1h-1v-1h2v-1h8v-9h-1v-1h-5v1h-3v-1zM246 414v1h-1v3h1v1h1v-1h1v-1h1v-1h-1v-1h-1v-1zM538 413v3h16v-3zM126 413v8h1v1h1v-1h1v-7h-1v-1zM337 407v1h-2v11h1v3h-1v10h1v1h1v1h2v-1h1v-11h-1v-4h1v-8h-1v-2h-1v-1zM495 406v1h-1v1h-1v3h-2v1h-4v1h-3v3h1v1h24v-1h1v-1h1v-2h-1v-2h1v-1h10v-3h-22v-1zM475 406v1h-2v2h1v1h4v-3h-2v-1zM187 401v11h1v-11zM269 399v1h-1v3h1v1h1v-1h1v-3h-1v-1zM254 399v1h-1v8h-1v5h-1v2h-1v3h1v2h1v8h-1v1h-2v-1h-1v-1h-3v1h-3v-3h-1v-2h-1v-1h-1v1h-1v5h-1v4h1v1h1v1h5v1h1v1h3v-1h1v-1h2v1h1v8h-1v6h1v1h2v1h1v-1h2v-1h6v-1h1v-1h2v2h1v3h1v1h-1v4h1v2h-1v8h-1v4h1v2h1v1h3v-1h4v1h2v-1h2v-1h3v1h2v1h2v-1h1v-1h1v-4h-1v-2h-2v-1h-2v1h-3v-6h-1v-2h-1v-1h-3v1h-3v-5h-1v-2h1v-3h1v-4h4v-1h2v-2h1v-14h1v-2h1v1h1v1h3v-1h3v6h1v7h-1v3h1v2h-1v3h1v9h1v1h1v-1h1v-41h-1v-1h-1v1h-1v7h-1v1h-1v1h-1v-1h-1v-1h-2v1h-2v1h-1v-1h-1v-2h-1v-10h2v1h1v1h1v1h3v-1h1v-1h1v-4h-1v-2h-1v-1h-3v1h-1v1h-1v1h-1v1h-1v-1h-1v-1h-2v1h-1v2h-1v5h-1v1h-1v-1h-1v-1h-2v1h-1v3h1v1h2v-1h1v-1h1v2h1v2h-1v6h-1v2h-4v2h-1v4h-1v1h-1v-1h-1v-7h1v-5h-1v-10h1v-5h-1v-7h-1v-1h-1v-1h-2v1h-1v1h-1v1h-1v-2h-2v-1zM257 403h1v3h-1zM571 394v3h5v-3zM538 394v1h-1v2h1v2h-2v1h-9v3h16v-1h1v-2h-1v-2h2v-1h9v-3zM516 394v3h5v-3zM369 392v1h-1v1h-1v2h2v1h1v-1h1v-3h-1v-1zM361 392v1h-1v1h-1v9h1v5h-1v3h-1v2h-3v-1h-2v1h-2v2h-1v4h1v1h2v1h2v-1h2v-1h1v1h3v1h1v-1h2v-1h2v-1h1v1h1v4h-1v10h1v1h3v-1h1v-10h-1v-8h-1v-1h-2v1h-2v-1h-1v-2h-1v-4h-1v-5h1v-10h-2v-1zM337 392v1h-1v1h-1v1h1v1h1v1h1v-1h1v-1h1v-1h-1v-1h-1v-1zM291 392v1h-1v3h1v1h1v-1h1v-3h-1v-1zM239 392v1h-1v1h-1v5h-1v5h1v6h1v1h1v1h1v-1h1v-2h1v-4h1v-1h4v-1h1v-3h-1v-1h-4v-2h-1v-3h-1v-1h-1v-1zM140 391v1h-1v7h1v1h3v-8h-1v-1zM418 384v1h-1v1h-1v1h1v3h-1v1h3v-1h2v-5h-1v-1zM394 384v1h-1v1h-1v2h1v4h-1v8h-1v3h1v3h-1v3h-1v1h1v3h1v5h1v5h-1v7h-2v-2h-1v-3h-1v-2h-2v-1h-1v1h-1v1h-1v2h-1v2h-1v1h-5v1h-1v4h1v7h1v1h1v-1h1v-6h1v-1h2v1h2v1h3v-1h1v-1h1v-1h1v-1h2v2h1v4h-1v11h1v3h-1v8h-1v2h1v2h1v3h-1v8h-2v-2h-1v-3h-1v-5h1v-2h1v-4h-1v-4h-1v-3h-1v-4h1v-2h-1v-1h-1v-1h-1v1h-1v7h-1v2h-1v1h-1v-1h-1v-1h-1v-1h-2v1h-1v1h-1v10h1v7h1v1h2v-1h1v-7h1v1h1v16h1v5h1v1h2v-1h1v-1h1v-4h1v-2h1v-2h2v2h1v3h-1v4h-1v9h1v6h-1v9h23v-11h-1v-1h-1v-1h-1v1h-2v6h-1v1h-1v-2h-1v-3h-1v-3h-1v-4h1v-11h-1v-4h1v-11h-1v-3h1v-7h1v-1h1v2h1v3h1v3h1v4h-1v2h1v1h1v1h1v-1h1v-1h1v-1h-1v-6h1v-3h1v-1h6v-1h1v-1h2v-1h8v1h5v-1h3v-1h1v-3h-1v-1h-2v-1h-9v-3h-1v-1h-1v-1h13v-6h-1v-2h-1v-3h-3v3h-1v1h-1v1h-2v-1h-1v-1h-2v1h-1v1h-1v6h-3v1h-4v-1h1v-1h-2v1h-4v-7h-1v-8h-1v-1h-1v1h-1v1h-1v3h1v3h-1v1h-2v-1h-1v-2h-1v-11h-1v-1h-1v-1h-2v1h-1v1h-1v6h-1v-6h-1v-2h-1v-4h1v-4h1v-2h1v-1h2v1h2v-1h1v-1h1v-2h-1v-4h1v-3h1v-4h1v-3h-1v-2h-1v-1h-5v1h-3v-1h-1v-6h-1v-1zM398 495h2v3h-2zM419 455h3v1h-3zM408 455h5v1h-5zM398 447h1v1h1v2h1v1h-1v2h-1v10h1v2h1v1h-1v2h-1v10h1v2h1v1h-1v2h-1v1h-1v-1h-1v-2h-1v-1h1v-2h1v-10h-1v-2h-1v-1h1v-2h1v-10h-1v-2h-1v-1h1v-2h1zM407 441h1v1h1v3h4v1h-5v6h-1v1h-2v-1h-1v-3h1v-3h1v-3h1zM398 432h1v3h-1v1h-1v-3h1zM398 402h1v1h1v4h-2zM299 384v13h2v-1h2v1h1v5h1v7h-1v5h-1v1h-2v-1h-2v5h2v-1h1v-1h1v1h1v1h1v5h-1v3h1v2h-1v3h1v5h-1v1h-3v-1h-2v27h2v-1h4v1h3v-1h1v-3h1v-9h-1v-14h-1v-3h1v-12h-1v-3h1v-12h-1v-3h1v-11h-1v-1h-3v1h-3v-1h-1v-7h-1v-1zM516 381v1h-1v1h1v2h1v1h-1v2h-1v1h1v1h5v-1h1v-1h-1v-2h-1v-1h1v-2h1v-1h-1v-1zM434 379v8h1v1h1v1h1v-1h2v-9zM411 377v1h-1v1h-1v9h1v4h-1v3h-1v1h1v8h1v4h-1v2h1v1h1v1h1v-1h1v-7h1v-1h1v-2h1v1h1v1h1v1h2v-1h1v-1h1v-1h-2v-3h1v-1h7v-3h-1v-1h-4v1h-4v-1h-3v1h-1v-1h-1v-2h-1v-1h1v-2h1v-3h-1v-6h-1v-1h-1v-1zM415 397h1v3h-1zM314 377v1h-1v1h-1v9h1v4h-1v12h1v3h-1v12h1v3h-1v12h1v3h-1v11h1v1h3v-1h3v1h1v4h-1v4h-1v1h-1v1h-4v1h-1v3h1v8h1v1h1v-1h1v-5h1v-1h3v1h3v-1h1v-1h1v-1h1v-1h1v1h2v1h1v-1h1v-1h1v-1h-1v-1h-1v-1h-2v1h-2v-1h-1v-2h-1v-4h-1v-4h1v-12h-1v-7h-1v-1h-2v1h-2v-1h-1v-6h-1v-4h1v-1h3v1h3v-1h1v-11h-1v-3h1v-2h1v-4h1v1h1v5h1v3h-1v12h1v7h1v1h1v-1h2v-4h-1v-3h1v-12h-1v-4h1v-10h-2v-1h-2v1h-3v-2h-1v-4h-1v-2h-1v-1h-2v1h-2v-1h-1v-5h-1v-1h-1v-1zM317 434h2v3h-2zM317 404h2v3h-2zM538 374v3h27v-3zM352 369v1h-1v4h1v4h-1v4h-1v2h-1v1h-2v-1h-2v1h-1v8h-1v2h1v1h1v1h1v-1h1v-7h1v-1h2v1h1v1h5v-2h1v-9h-1v-2h-1v-3h1v-4h-2v-1zM183 369v1h-1v7h1v1h2v-1h1v-7h-1v-1zM484 368v3h5v-3zM518 367v1h-2v1h-1v1h1v5h-1v1h1v1h5v-1h1v-2h-1v-2h2v-1h9v-3h-2v-1h-3v1h-6v-1zM432 367v1h-7v10h13v-1h13v1h1v2h-1v1h-1v4h-1v1h-9v4h-18v1h12v1h2v-1h15v1h2v3h-1v2h1v1h-1v1h-1v1h-18v3h1v1h7v1h-2v1h-5v1h-1v1h-1v2h1v2h-2v1h-8v3h1v1h5v-1h3v1h5v-1h1v-1h1v-3h13v3h1v1h5v-7h1v-1h-1v-1h-1v-1h-4v-1h-3v-1h8v-1h14v1h6v-1h15v1h5v-1h1v-3h-7v-1h-2v-1h-1v-1h1v-2h-1v-3h1v-1h1v-1h1v-5h3v-1h4v-3h-21v-1h-7v1h-1v-1h-5v-1h-5v-1h10v-1h1v1h6v-1h1v-3h-38v-1h-1v-1h-1v-1h1v-2h-1v-1h-1v-1zM480 398h2v1h-2zM471 384h10v6h1v1h1v1h1v1h-1v1h-10v1h-1v2h1v1h-1v1h-2v1h-4v-1h-1v1h-5v-1h-1v-1h-1v-1h1v-2h-1v-3h2v-1h5v-1h3v-1h1v-4h2zM418 362v1h-1v1h-1v2h1v6h1v1h1v1h1v-1h1v-1h1v-8h-1v-1h-1v-1zM384 362v1h-1v1h-1v12h1v2h-1v9h1v2h1v4h-1v4h-1v8h1v5h1v1h1v1h1v-1h2v-5h1v-2h1v-5h-1v-4h-1v-3h-1v-3h1v-14h1v-8h-1v-3h-1v-1h-1v-1zM321 362v1h-1v2h-1v2h1v2h-1v2h1v2h1v1h1v-1h2v-9h-1v-1h-1v-1zM304 361v1h-5v12h2v-1h3v1h1v7h1v1h1v-1h1v-1h1v-2h-1v-5h1v-6h1v-3h-1v-2h-1v-1zM208 358v1h-1v6h4v-6h-1v-1zM427 357v1h1v1h1v-2zM527 355v1h-1v2h1v2h-2v1h-9v3h2v1h3v-1h6v1h3v-1h2v-1h1v-2h-1v-4h1v-1h-1v-1zM329 354v1h-1v3h1v1h1v-1h1v-1h1v-1h-1v-1h-1v-1zM314 354v1h-1v3h1v1h1v-1h1v-3h-1v-1zM376 347v1h-1v2h-1v2h1v2h-1v3h1v2h1v3h-1v4h1v1h3v-1h1v-4h-1v-4h1v-9h-1v-1h-1v-1zM187 347v1h-1v7h1v1h1v-1h1v-7h-1v-1zM506 341v1h-1v3h10v1h1v2h-1v2h1v1h5v-1h1v-2h-1v-2h2v-1h20v-3h-22v-1h-5v1h-6v-1zM455 341v1h-2v3h4v-1h1v-2h-2v-1zM171 341v18h1v7h1v1h2v-1h1v-7h-1v-18zM161 340v2h-1v12h1v13h-1v3h-1v7h1v3h1v10h-1v21h1v2h-4v1h-1v18h1v1h1v-1h1v-9h1v-1h1v3h-1v39h1v2h-1v16h1v2h1v3h1v1h2v-1h1v-9h4v-1h1v-1h1v-7h-1v-1h-1v-1h-3v1h-1v10h-1v1h-1v-3h-1v-11h1v-115h-1v-9h-1v-1zM306 339v1h-1v7h-1v1h-1v1h-1v-1h-1v-1h-2v5h2v-1h1v-1h2v1h1v1h2v-1h1v-8h1v-2h-1v-1h-1v-1zM239 337v1h-2v2h-1v3h1v2h2v1h1v-1h2v-2h1v-3h-1v-2h-2v-1zM144 336v1h-1v7h1v1h1v-1h1v-7h-1v-1zM124 336v1h-1v7h1v1h1v-1h1v-7h-1v-1zM394 332v1h-1v3h1v1h1v-1h2v-3h-2v-1zM299 332v5h1v-1h1v-3h-1v-1zM560 329v3h16v-3zM518 328v1h-2v1h-1v2h1v2h-1v1h-15v-1h-1v-2h1v-2h-1v-1h-5v1h-1v2h1v1h-1v1h-2v1h-7v3h21v1h5v-1h6v1h4v-1h1v-1h1v-1h-1v-5h1v-1h-1v-1h-2v-1zM306 324v1h-1v3h1v1h1v-1h1v-1h1v-1h-1v-1h-1v-1zM538 322v3h5v-3zM505 322v3h12v1h2v-1h2v-3zM353 317v1h-2v11h1v3h-1v14h-1v1h-1v1h-2v-1h-3v1h-1v8h-1v1h1v2h-1v2h-1v1h-1v-1h-1v-2h1v-15h1v-9h-1v-2h-1v-1h-2v1h-1v1h-1v4h-1v2h-1v1h-1v-1h-1v-1h-2v1h-1v1h-1v1h1v1h1v1h1v-1h2v-1h1v1h1v2h1v14h1v4h-1v13h-1v1h-1v1h-1v-1h-1v-3h1v-4h-2v-1h-1v1h-1v1h-1v2h1v8h1v1h1v-1h2v-1h1v1h1v1h1v1h5v-2h1v-4h-1v-5h1v-2h1v2h1v1h1v1h3v-1h1v-2h1v-10h-1v-4h1v-2h1v2h1v1h1v1h2v-1h1v-1h1v-3h1v-2h1v-1h2v1h3v-1h1v-4h-1v-3h1v-4h-1v-1h-3v1h-1v5h1v1h-1v1h-1v-1h-1v-2h-1v-2h1v-1h-1v-8h-1v-4h1v-10h-1v-1h-1v-1zM337 317v1h-1v3h1v1h1v-1h1v-1h1v-1h-1v-1h-1v-1zM299 317v5h1v-1h1v-3h-1v-1zM549 316v3h16v-3zM428 309v1h-1v1h-1v2h6v-2h-1v-1h-1v-1zM254 307v1h-2v2h-1v2h1v2h1v1h3v-1h1v-2h1v-2h-1v-2h-2v-1zM540 302v1h-2v3h5v-3h-2v-1zM495 302v1h-1v1h-1v1h1v5h-1v1h1v1h1v1h3v-1h12v-1h1v-2h-1v-2h1v-1h10v-3h-11v-1h-5v1h-6v-1zM501 307h2v1h-2zM434 302v7h-1v4h16v-1h3v1h8v1h2v1h-10v1h-3v-1h-5v1h-1v3h8v1h1v1h1v1h-1v2h1v1h9v1h8v-1h1v1h6v-1h1v-1h1v-2h-1v-2h1v-1h20v-3h-1v-1h-5v1h-11v1h-2v-1h-10v-1h-2v-1h1v-1h1v-2h1v-4h2v-1h5v-3h-15v1h-1v3h-2v1h-6v1h-4v-1h-1v-1h-1v-1h1v-2h-1v-1h-1v-1h-4v1h-7v-1zM368 302v1h-1v10h1v5h-1v4h-1v3h-3v-1h-2v1h-2v3h2v1h2v-1h1v-1h1v1h1v2h1v14h1v3h-1v11h1v5h-1v8h-1v1h1v4h-1v1h-1v1h-1v-2h-1v-2h1v-4h-1v-1h-2v1h-2v4h1v3h-1v4h1v1h3v-1h1v-1h1v1h1v1h1v1h5v-1h3v5h1v1h1v1h2v-1h1v-2h1v-2h-1v-1h1v-4h-1v-1h-1v-1h-3v1h-3v-2h-1v-14h-1v-3h1v-2h1v-3h-1v-2h1v-3h-1v-2h-1v-4h1v-8h1v-4h1v3h1v2h1v1h3v-1h1v-2h1v-4h1v-1h1v5h-1v2h1v6h1v1h1v1h1v-1h1v-1h1v-9h-1v-5h1v-11h-1v-3h1v-4h-2v-1h-1v1h-1v8h-1v5h-1v1h-1v-1h-2v-1h-3v1h-3v-1h-1v-4h-1v-5h1v-10h-1v-1zM361 302v1h-1v1h-1v1h1v1h1v1h1v-1h2v-2h-1v-1h-1v-1zM353 302v1h-1v1h-1v1h1v1h1v1h1v-1h1v-1h1v-1h-1v-1h-1v-1zM345 302v1h-1v1h-1v9h1v4h-1v11h1v4h-1v4h1v1h2v-1h2v-4h-1v-3h1v-12h-1v-4h1v-10h-2v-1zM538 296v3h2v1h3v-1h11v-3zM425 296v4h2v-1h1v-3zM314 294v1h-1v1h-1v2h1v5h-1v5h-1v7h1v13h1v6h-1v9h2v1h2v-1h1v-1h2v1h1v1h2v-1h1v-1h1v-1h-1v-1h-1v-1h-2v1h-2v-1h-1v-6h-1v-4h1v-1h3v1h2v-1h1v-3h-1v-1h-2v1h-2v-1h-1v-9h1v-7h1v-1h3v-1h1v-1h1v-3h-1v-3h1v-4h-1v-1h-3v1h-1v1h-2v-1h-1v-1zM317 299h2v3h-2zM299 294v13h1v-1h1v-7h1v-1h3v1h2v-1h1v-1h1v-1h-1v-1h-1v-1h-2v1h-1v1h-2v-1h-1v-1zM160 292v1h-1v7h1v1h1v-1h1v-8zM140 292v1h-1v7h1v1h2v-1h1v-8zM485 289v1h-1v1h-1v3h-1v2h-1v3h1v1h3v1h5v-1h9v-1h6v1h4v-1h1v-1h1v-2h-1v-2h1v-1h10v-3h-11v-1h-5v1h-6v-1zM501 294h2v1h-2zM442 288v1h-8v1h-1v3h3v1h4v1h1v1h1v2h1v1h1v1h4v-1h10v-3h-4v-1h-3v-5h-1v-1h-3v-1zM361 287v1h-1v1h-1v1h1v1h1v1h1v-1h1v-1h1v-1h-1v-1h-1v-1zM538 283v3h5v-3zM162 282v8h1v-1h1v-7zM124 281v1h-1v9h-1v1h-2v9h5v-1h1v-9h1v-1h2v-9zM369 279v1h-1v7h-1v4h2v1h2v-1h1v-4h-1v-7h-1v-1zM345 279v1h-2v8h-1v3h1v1h1v1h3v-1h2v-2h2v1h2v1h1v-1h1v-1h1v-1h-1v-1h-1v-1h-2v1h-1v1h-1v-1h-1v-1h-1v-6h-1v-1h-1v-1zM454 276v1h-1v1h-1v1h1v5h-1v1h1v1h3v1h6v1h2v2h-1v3h5v-3h-1v-2h1v-1h1v-1h1v-4h-1v-4h-1v-1h-1v-1h-5v1h-3v-1zM188 273v1h-1v45h1v8h1v-54zM571 270v3h5v-3zM538 270v3h16v-3zM475 263v1h-2v1h-1v1h1v1h10v1h1v2h-1v2h1v3h-1v1h-1v1h-1v3h1v2h1v3h1v1h1v1h14v-1h6v1h4v-1h1v-1h1v-2h-1v-2h1v-1h10v-3h-2v-1h-3v1h-6v-1h-5v1h-6v-1h-3v-1h-4v-1h7v-1h6v1h5v-1h6v1h3v-1h2v-1h1v-1h-1v-7h-5v1h-1v2h1v2h-1v1h-22v-1h-3v-4h-1v-1h-2v-1h-2v1h-8v-1zM501 281h2v1h-2zM571 251v3h9v1h1v1h1v1h-1v2h1v1h5v-1h1v-2h-1v-3h1v-2h-1v-1zM505 218v2h1v1h4v-2h-1v-1zM434 218v1h-1v1h1v1h3v-1h1v-2zM434 213v1h1v-1zM495 212v1h-1v1h1v1h4v-3zM428 212v1h-2v1h5v-1h-1v-1zM385 212v1h-2v3h2v1h1v-1h1v-3h-1v-1zM453 211v1h-10v3h18v1h1v1h1v1h-1v2h1v1h1v1h4v-1h10v-3h-7v-1h-2v-1h-1v-1h1v-2h-1v-1h-1v-1h-5v1h-3v-1zM238 210v1h-1v2h-1v3h1v2h1v1h3v-1h1v-2h1v-3h-1v-2h-1v-1zM207 205v7h3v-1h1v-5h-1v-1zM337 204v1h-1v3h1v1h1v-1h1v-1h1v-1h-1v-1h-1v-1zM516 199v1h-1v2h1v2h-1v1h-10v3h16v-1h1v-1h-1v-7zM494 199v2h1v1h4v-3zM463 199v2h-1v1h1v2h-2v1h-8v3h1v1h5v-1h3v1h5v-1h1v-1h1v-1h-1v-7zM413 198v1h-9v1h-1v1h1v1h27v1h4v5h3v-5h2v-1h8v-3h-10v-1h-5v1h-15v-1zM361 197v1h-2v10h1v4h-1v3h-1v1h1v3h-1v1h-1v-1h-1v-6h-1v-1h-3v1h-1v6h-1v1h-1v-1h-1v-7h-1v-7h-1v-1h-1v1h-1v1h-1v2h1v5h-1v7h-1v1h-2v-1h-1v-1h-3v1h-1v1h-1v1h-1v-1h-1v-1h-1v-1h-3v1h-1v1h-1v1h-1v-1h-1v-1h-1v-1h-6v-5h-1v-1h-1v-1h-1v1h-1v2h-1v5h-1v2h-1v-1h-1v-1h-1v-1h-2v1h-1v1h-1v4h-1v1h-1v1h-1v1h-1v2h1v2h-2v17h2v-1h4v1h3v-1h2v-1h1v1h2v1h4v2h1v4h1v1h5v-1h1v1h1v4h-1v3h1v4h1v2h1v3h-1v2h-1v3h-1v-2h-1v-3h-1v-3h1v-4h-1v-1h-2v-1h-2v-3h-1v-4h-1v-1h-4v1h-2v1h-1v-1h-2v-1h-3v1h-6v21h1v1h2v2h1v4h1v1h1v1h3v-1h2v-1h1v1h2v1h3v-1h2v-1h5v-1h2v2h1v12h1v2h1v3h-1v3h1v1h1v1h1v-1h1v-7h1v-1h2v1h1v1h5v-2h1v-3h-1v-2h-6v-1h-1v-7h1v-2h2v1h3v-1h1v-9h-1v-1h-1v-1h-1v1h-2v2h-1v1h-1v-2h-1v-2h-1v-4h1v-4h1v-8h1v-1h1v1h4v-1h5v1h3v-1h5v1h5v1h1v5h1v2h-1v3h1v3h1v1h-1v1h-2v-2h-1v-2h1v-2h-1v-1h-1v-1h-4v1h-1v-1h-1v-1h-2v-1h-3v1h-1v1h-1v5h1v1h2v1h2v-1h2v-1h1v8h1v1h2v1h1v-1h2v-1h1v-1h3v1h2v-1h1v-7h1v-2h1v-1h1v1h1v1h1v1h3v-1h1v-1h3v2h1v7h1v1h2v-1h1v-7h1v1h1v16h-1v1h-5v1h-1v1h-1v11h1v6h1v1h2v-1h1v-1h1v-5h1v-1h1v-1h2v1h3v-1h1v-1h1v-1h1v2h1v2h1v7h-1v3h-1v3h1v2h1v5h1v1h1v1h2v-1h1v-1h1v-5h2v3h-1v3h1v7h1v4h-1v2h-1v2h1v10h-1v1h-1v1h-2v-1h-2v1h-1v1h-1v8h1v1h1v1h2v-1h2v1h1v1h1v13h1v8h1v1h1v-1h1v-1h1v-2h-1v-5h1v-13h1v-2h1v-10h-1v-2h-1v-3h1v-1h1v2h1v2h1v2h-1v4h1v3h-1v2h1v2h1v3h-1v3h1v1h1v1h2v-1h1v-4h-1v-4h1v-1h5v-1h-1v-1h-1v-1h-4v1h-1v-4h1v1h5v-1h14v1h1v1h-1v1h-1v2h-1v2h1v2h-2v4h3v1h6v-1h20v-1h1v-2h-1v-1h1v-1h1v-1h5v1h1v-1h4v1h2v1h1v1h-1v2h1v1h12v1h2v-1h2v-1h1v-2h-1v-1h1v-1h2v-1h9v-1h2v1h7v-3h-11v-1h-15v1h-5v-2h1v-1h18v-1h1v-3h-15v-1h-3v-1h-2v-3h-1v-1h-5v1h-1v3h-1v2h-1v3h1v1h1v2h-1v1h-23v-1h-7v-1h-2v-1h8v-1h1v-3h-8v-1h-2v-2h1v-2h-1v-3h2v-1h6v-1h7v1h5v-1h10v-1h1v-2h-1v-1h1v-1h2v-1h7v-3h-1v-1h-6v1h-1v-1h-6v1h-1v1h-1v2h1v1h-1v1h-1v1h-11v-1h-1v-1h-1v-1h1v-2h-1v-1h-10v-1h-10v-1h2v-1h7v-1h1v-3h-3v-1h-5v-1h-1v-3h-1v-1h-5v2h-1v3h-1v4h1v1h1v1h1v2h-1v7h-1v1h1v1h1v1h5v1h2v1h-8v1h-3v-7h-1v-11h-4v-1h-1v-5h-1v-4h1v-1h1v-1h2v1h5v-9h-1v-1h-1v-1h-2v1h-3v-1h-1v-1h-5v1h-1v2h-1v2h1v4h1v4h1v3h-1v12h1v3h-1v3h-1v3h-1v3h-1v-2h-1v-7h-1v-3h1v-12h-1v-3h1v-9h1v-1h-1v-4h1v-14h-1v-3h1v-1h1v1h1v1h1v1h5v-1h1v-1h2v8h1v-3h1v-1h7v-1h7v1h4v-1h1v-3h-12v-1h-6v-1h-1v-3h-1v-1h-2v-1h-1v1h-2v1h-1v2h-11v-11h2v4h10v1h3v-1h2v-1h1v-2h1v-1h2v-4h-1v-1h-3v1h-1v3h1v1h-13v-7h1v-1h1v-1h1v1h1v1h5v-2h1v-8h1v-3h14v4h-1v2h-6v1h-2v1h-1v1h13v4h-1v2h-5v1h-1v2h1v1h1v1h2v-1h2v1h2v-7h6v5h1v2h1v3h1v1h10v1h6v-1h3v1h5v-1h1v-3h-12v-1h-5v-7h8v-1h9v-1h2v-1h1v-1h1v-1h1v-1h6v-1h4v1h7v2h1v2h1v1h2v1h5v-1h9v-1h2v-1h1v-4h1v-1h24v1h2v2h-1v2h1v1h5v-1h1v-1h-1v-4h1v-2h-1v-1h-1v-2h1v-1h1v-1h1v-1h15v1h5v-1h20v-2h-1v-1h-1v-1h-1v-1h-1v-1h1v-1h4v-1h3v1h5v1h4v1h-1v2h-1v1h-2v1h-1v1h5v-1h2v-22h-10v1h-1v-1h-5v1h-9v-1h-7v1h-10v-1h-6v1h-1v-1h-8v1h-14v-1h-17v1h-92v-1h1v-9h1v-2h-1v-4h1v-5h-6v1h-1v-1h-6v6h1v3h-1v10h1v1h1v1h-15v-1h1v-7h1v-1h-1v-2h-1v-1h-2v1h-1v1h-1v9h1v1h-7v1h-7v-2h1v-11h-1v-4h1v-10h-1v-1h-3v1h-1v10h1v4h-1v2h-1v3h1v2h-1v3h1v2h1v1h-6v1h-1v3h1v3h-1v6h2v1h2v1h-7v-1h-1v-2h1v-9h-6v-1h-2v-1h5v-1h1v-1h1v-1h2v1h4v-1h1v-2h1v-2h-1v-2h1v-2h-1v-2h-1v-1h-3v1h-1v2h-1v1h1v3h-1v2h-1v-3h-1v-1h1v-2h-1v-3h-1v-4h1v-10h-1v-1zM480 359h2v1h-2zM412 346h1v1h-1zM414 330h2v3h-1v-1h-1zM389 270h1v3h-1zM310 265h1v2h1v1h1v1h3v-1h3v1h1v4h-1v4h-1v1h-2v-1h-3v1h-2v-2h-1v-5h-1v-4h1zM493 249h9v3h-1v2h-1v1h-7v-3h-1v-2h1zM546 241h3v2h-1v1h-3v-2h1zM511 239h1v1h3v1h2v1h1v1h-6v3h7v-3h4v1h2v2h11v2h2v1h1v1h-2v1h-26v-1h-1v-1h-1v-1h1v-1h1v-4h-1v-1h1zM451 239h40v1h-1v1h-1v1h-7v1h-3v-1h-26v-1h-1v-1h-1zM416 239h2v1h-2zM390 239h1v1h2v1h5v1h1v5h1v1h1v1h3v-1h3v5h1v2h-1v1h-3v-1h-3v1h-5v-1h-3v1h-1v1h-1v5h-1v1h-3v-1h-4v1h-2v-6h1v-1h5v-1h1v-1h1v-14h1zM341 236h1v1h16v3h-6v1h-5v-1h-4v1h-1v-1h-1zM415 221h1v1h1v1h1v1h-5v-1h1v-1h1zM415 217h1v3h-1zM415 207h1v1h1v2h1v1h-1v2h-1v1h-1v-1h-1v-2h-1v-1h1v-2h1zM353 197v1h-1v3h1v1h1v-1h1v-1h1v-1h-1v-1h-1v-1zM299 197v12h1v-1h1v-2h1v-2h-1v-2h1v-2h-1v-2h-1v-1zM276 197v1h-1v6h-1v3h1v5h-1v2h-2v-1h-1v-1h-2v1h-1v1h-1v8h1v1h1v1h1v-1h1v-2h1v-5h1v-1h1v1h1v1h2v-1h2v-4h-1v-4h1v-9h-1v-1h-1v-1zM231 197v1h-1v2h-1v8h1v1h2v-1h1v-10h-1v-1zM506 192v1h-1v2h5v-3zM344 190v3h3v-3zM329 189v1h-1v1h-1v3h1v3h-1v3h1v1h1v1h1v-1h1v-11h-1v-1zM306 189v1h-1v3h1v1h1v-1h1v-3h-1v-1zM239 189v1h-1v3h1v1h1v-1h2v-3h-2v-1zM369 187v1h-2v1h-1v6h1v6h1v1h3v-1h1v-6h1v-6h-1v-1h-1v-1zM516 186v3h5v-2h-1v-1zM475 185v1h-2v3h10v1h1v5h5v-4h-1v-1h1v-4h-7v1h-1v-1h-4v-1zM455 185v1h-2v4h1v1h-1v4h5v-4h-1v-1h1v-4h-2v-1zM385 182v1h-2v10h1v4h-1v4h1v1h2v-1h1v-8h1v-9h-1v-1h-1v-1zM377 182v1h-1v3h1v1h1v-1h2v-3h-2v-1zM321 182v1h-1v1h-1v5h-1v1h-2v-1h-2v1h-1v1h-1v2h1v8h1v1h2v-1h1v-1h2v1h1v1h2v-1h1v-1h1v-3h-1v-3h1v-9h-1v-2h-1v-1zM317 194h2v3h-2zM291 182v1h-1v1h-1v6h-3v-1h-2v1h-1v8h-1v13h-1v2h-1v2h1v2h1v1h5v-1h5v-1h1v-3h-1v-1h-4v-1h-1v-10h3v1h2v-1h1v-18h-1v-1zM287 193h2v2h1v1h-1v2h-2v-2h-1v-1h1zM261 182v1h-1v3h3v-3h-1v-1zM246 182v1h-1v2h-1v6h-1v1h1v2h1v7h1v1h1v-1h1v-10h1v-1h-1v-7h-1v-1zM231 178v6h1v-6zM203 178v7h3v-1h1v-5h-1v-1zM253 175v3h1v1h1v-1h1v-3zM428 174v1h-1v1h-1v3h1v2h3v-3h1v-1h-1v-2h-1v-1zM419 174v1h-1v6h-4v2h-1v-1h-2v1h-2v9h4v3h2v1h1v-1h2v-5h2v-1h11v1h2v3h-1v1h1v1h2v1h1v-1h2v-4h-1v-1h1v-2h1v-1h-1v-1h-1v-1h-4v1h-15v-1h-4v-2h3v-1h1v-1h3v-3h1v-2h-1v-1h-1v-1zM299 174v4h2v-3h-1v-1zM284 174v1h-1v3h1v1h1v-1h1v-3h-1v-1zM269 174v1h-1v3h3v-3h-1v-1zM473 173v4h1v1h-1v4h2v1h1v-1h2v-1h1v-1h-1v-2h-1v-1h1v-4zM437 173v8h-4v1h1v1h4v-1h15v1h3v-1h2v-3h-18v-1h-2v-2h1v-1h-1v-2zM187 170v1h-1v9h1v1h1v-1h1v-9h-1v-1zM275 168v3h1v1h1v-1h1v-3zM377 167v1h-1v3h1v1h1v-1h1v-1h1v-2h-2v-1zM291 167v1h-1v3h1v1h1v-1h1v-3h-1v-1zM231 167v1h-1v1h-6v1h-1v7h-1v1h-10v1h-1v5h1v1h10v1h1v9h-1v1h-2v1h-1v7h-1v1h-2v1h-1v5h1v1h6v1h1v8h3v-1h1v-43h1v-1h3v-4h1v-1h1v-3h-1v-1zM485 166v1h-1v2h4v-1h1v-1h-1v-1zM443 166v3h15v-3zM424 166v1h-1v2h2v1h1v-1h2v-3zM506 160v1h-1v1h1v1h3v-1h1v-2zM464 160v1h-1v2h4v-1h1v-2zM435 159v1h-2v3h5v-3h-2v-1zM411 159v1h-1v1h-1v1h1v1h1v1h1v-5zM402 159v1h-1v8h-1v10h1v5h-1v13h-1v8h1v4h1v4h-1v4h1v1h2v-1h1v-1h1v-2h-1v-4h1v-3h1v-3h-5v-11h4v-9h-1v-5h1v-10h-1v-5h1v-2h-1v-1h-1v-1zM299 157v9h2v-1h1v-1h1v-5h-1v-1h-1v-1zM516 153v3h16v-3zM474 153v1h-1v2h4v-1h1v-1h-1v-1zM268 153v3h3v-3zM385 152v1h-1v1h-1v9h1v4h-1v4h2v1h1v-1h1v-8h1v-9h-1v-1h-1v-1zM361 152v1h-1v1h-1v2h2v1h1v-1h1v-3h-1v-1zM353 152v1h-2v9h1v1h1v1h1v-1h1v-1h1v-9h-2v-1zM345 152v1h-1v3h1v1h1v-1h1v-1h1v-1h-1v-1h-1v-1zM284 152v1h-1v2h-1v1h1v4h-1v1h1v2h1v1h1v-1h1v-2h1v-1h-1v-4h1v-1h-1v-2h-1v-1zM180 148v1h-1v19h1v1h1v-1h1v-19h-1v-1zM443 147v5h-2v1h-8v3h2v1h3v-1h10v-4h-1v-1h1v-4zM425 146v1h-2v2h1v1h4v-3h-2v-1zM299 145v3h2v-3zM260 145v3h3v-3zM402 144v1h-2v3h2v1h1v-1h1v-3h-1v-1zM231 143v6h1v-6zM183 141v23h4v-23zM505 140v3h16v-3zM394 137v1h-1v1h-1v8h1v1h1v1h2v-1h1v-9h-1v-1h-1v-1zM368 137v1h-1v9h1v1h1v1h1v-1h1v-1h1v-8h-1v-1h-1v-1zM345 137v1h-1v1h-1v1h1v1h1v1h1v-1h1v-3h-1v-1zM337 137v1h-1v1h-1v1h1v1h1v1h1v-1h1v-1h1v-1h-1v-1h-1v-1zM329 137v1h-2v11h1v3h-1v3h1v1h1v1h1v-1h1v-9h1v-9h-2v-1zM314 137v1h-1v3h1v1h2v-1h2v1h1v5h1v9h1v1h1v-1h1v-1h1v-3h-1v-3h1v-11h-2v-1h-2v1h-1v1h-2v-1h-1v-1zM269 137v1h-1v3h1v1h1v-1h1v-3h-1v-1zM239 137v1h-1v22h-1v1h1v7h-1v5h1v5h1v1h1v-1h1v-7h1v-1h-1v-9h1v-1h-1v-4h1v-1h-1v-9h1v-1h-1v-7h-1v-1zM428 134v3h-5v2h-2v1h-8v-2h-1v-1h-1v1h-1v3h1v1h1v-1h1v2h10v1h3v-1h2v-1h1v-2h-1v-2h2v-1h21v1h2v2h-1v1h1v2h5v-2h1v-1h-1v-1h1v-1h1v-1h8v-3zM418 130v3h1v1h1v-1h1v-3zM353 129v1h-1v3h1v1h1v-1h1v-1h1v-2h-2v-1zM291 129v1h-2v3h2v1h1v-1h1v-3h-1v-1zM284 129v1h-1v3h1v1h1v-1h2v-3h-2v-1zM260 129v1h-1v3h2v1h1v-1h1v-3h-1v-1zM473 127v3h7v-1h2v1h17v-3h-17v1h-2v-1zM224 126v1h-1v5h-1v1h-2v1h-1v14h1v1h2v1h1v7h1v1h6v-1h1v-6h-3v-1h-1v-23h-1v-1zM401 123v3h3v-3zM299 123v4h1v-1h1v-3zM361 122v1h-1v1h-1v10h1v7h1v1h1v-1h2v-4h-1v-4h1v-9h-1v-1h-1v-1zM337 122v1h-1v3h1v1h1v-1h1v-1h1v-1h-1v-1h-1v-1zM321 122v1h-1v3h3v-3h-1v-1zM276 122v1h-1v7h-1v1h1v2h1v1h1v-1h1v-1h1v-7h-1v-2h-1v-1zM454 121v1h-1v1h1v1h3v-1h1v-1h-1v-1zM423 121v4h1v1h3v-1h1v-4zM230 120v1h-1v1h-1v4h1v2h1v1h3v-1h1v-2h1v-3h-1v-2h-1v-1zM195 119v2h-1v2h-1v9h1v1h1v6h1v1h-1v1h-1v10h-1v-2h-1v19h1v-10h2v-1h2v2h1v1h-3v2h-1v18h1v3h-1v4h-1v6h-1v9h1v-8h1v10h-1v9h1v22h1v3h-1v2h-1v-4h-1v10h-1v1h-9v10h1v11h1v1h1v-1h2v-9h2v1h1v1h2v-2h1v16h1v18h2v1h1v1h-3v28h-1v5h1v4h4v-2h1v3h-5v53h-1v5h1v12h-1v7h1v14h1v1h-1v23h-1v7h1v4h5v1h-2v1h-3v6h-1v5h1v10h1v4h-1v8h-1v5h1v11h6v-25h-1v-1h1v-1h3v16h1v1h2v1h8v1h1v8h28v-6h1v-1h4v-1h1v-1h1v-6h2v14h1v1h20v-4h-1v-2h-1v-1h-3v1h-2v1h-1v-1h-1v-1h-2v-1h-2v1h-3v-5h-1v-2h1v-7h-1v-1h-4v1h-1v-1h-1v-6h-1v-1h-1v-1h-5v-9h2v1h2v-1h1v-4h1v-4h1v-2h-1v-2h-1v-1h-2v-1h-1v1h-1v-1h-1v-8h1v-1h1v1h2v-1h1v-1h1v-1h-1v-1h-1v-1h-2v1h-2v-1h-1v-1h-4v1h-2v1h-1v-1h-1v-1h-2v-10h1v-3h-1v-1h-4v-1h-1v-16h1v-1h3v7h1v-7h1v-3h-1v-1h-1v-5h1v-19h2v-1h1v-1h1v1h2v1h4v-1h1v-1h2v1h2v-1h1v-1h1v-1h-1v-1h-1v-1h-2v1h-1v-1h-1v-9h5v-1h1v-2h1v-2h-1v-4h1v-4h-1v-2h-2v-1h-1v1h-6v-1h-1v1h-2v1h-1v-1h-1v-6h-1v-1h-1v-1h-1v-6h1v-1h1v-1h1v-5h-1v-14h-1v-4h1v-2h2v2h1v13h1v1h1v1h2v-1h1v1h2v1h2v1h1v-1h2v-1h2v14h1v2h1v1h3v-1h2v1h1v5h1v4h-1v7h-1v5h-3v1h-3v2h-1v4h1v3h-1v10h1v2h1v1h4v-1h1v-1h2v1h2v-1h2v-14h1v-12h-1v-17h1v-1h1v2h1v4h1v1h1v1h1v-1h1v-1h1v-4h1v-1h6v-2h1v-5h-1v-4h-1v-1h-1v-1h-4v-1h-1v-8h7v-2h1v-4h-1v-3h3v1h1v1h3v-1h4v3h-1v5h-6v1h-1v5h1v1h4v-1h2v1h1v3h-1v7h-3v-1h-2v1h-2v2h1v1h1v1h2v-1h1v-1h1v1h1v1h1v4h-1v5h-3v-1h-2v1h-2v1h-3v-1h-2v-1h-1v1h-2v2h-1v4h1v8h1v2h-1v3h1v5h-1v1h-3v-1h-3v1h-1v4h-1v6h1v1h1v1h4v1h1v6h1v1h2v1h1v-1h2v-2h1v-14h2v1h2v1h1v-1h2v-1h5v-1h1v-71h-1v-1h-3v-1h-1v-2h-1v-5h1v-1h3v-1h2v-42h-1v-1h-3v-1h-1v-6h1v-1h1v-1h3v-13h-3v-2h-1v-2h-1v-3h-1v-2h-1v-1h-4v-1h-2v1h-4v1h-1v1h-1v1h-1v-1h-1v-1h-4v-1h-6v-1h1v-1h1v-8h-1v-1h-1v-1h-1v1h-1v10h-1v1h-2v1h-3v2h-1v1h-1v-1h-1v-2h-1v-1h-5v1h-4v-2h-1v-1h-1v1h-1v1h-1v2h-3v-1h-1v-5h-1v-5h-1v5h-1v2h-1v2h-1v1h-1v1h-3v-1h-1v-2h-3v1h-1v5h-2v-6h-1v-1h-2v1h-3v1h-2v1h-1v1h-1v-12h-3v-1h-1v-9h1v-1h3v-6h-1v-1h-3v8h-3v-10h3v-7h-3v-4h-1v-3h1v-4h3v-8h1v-1h2v-1h1v-7h1v-1h2v1h1v7h1v1h2v-1h1v-32h-1v-1h-2v1h-1v7h-1v1h-3v8h-1v1h-6v-11h7v-6h-1v-1h-2v-1h-1v-7h-1v-1h-2v1h-1v7h-1v-12h-1v-1zM234 492h1v1h1v6h-2v-2h-1v-3h1zM224 482h2v1h2v8h-1v-1h-1v-1h-2v1h-1v1h-1v1h-2v-1h-1v-8h5zM220 465h3v1h-1v8h-3v-8h1zM204 464h1v1h1v1h1v7h1v1h2v-1h1v-7h1v-1h2v1h1v7h1v1h3v9h-5v1h-6v-1h-5v-18h1zM227 458h1v1h1v3h1v1h1v1h2v-1h1v-2h2v3h1v3h1v1h-1v7h-1v6h-3v-1h-1v-14h-1v7h-1v1h-2v-6h-1zM204 447h2v1h1v7h-1v1h-2v-1h-1v-7h1zM211 429h3v1h1v7h1v1h3v8h-1v1h-2v1h-1v7h-1v1h-2v-1h-1zM198 428h1v8h-1zM220 419h2v1h1v9h-1v8h-1v1h-2v-18h1zM204 410h1v1h2v8h3v1h1v9h-1v1h-3v7h-1v1h-6v-13h-1v-1h1v-5h3v-8h1zM212 401h1v1h2v8h1v10h-5v-17h1zM226 393h4v1h1v8h-7v-1h-1v-5h1v1h1v-1h1zM195 389h3v1h1v1h-4zM212 384h3v9h-2v1h-1v-2h-1v-7h1zM200 383h2v1h4v1h1v17h-2v1h-1v-2h-1v-7h-1v-1h-2zM227 375h4v1h-2v2h-1v3h1v2h2v1h-3v-1h-1zM279 373h1v1h1v3h-1v1h-1v-1h-1v-3h1zM220 366h2v2h2v1h1v-1h2v7h-1v1h-2v1h-1v7h-1v1h-6v-1h-1v-8h1v-1h2v-1h1v-7h1zM195 365h2v1h-2zM280 359h2v1h2v1h2v-1h4v3h-1v5h-3v-1h-2v1h-2v1h-1v1h-2v-10h1zM235 358h1v1h1v11h-1v7h-2v-1h-2v-11h-1v-5h3v-1h1zM200 338h2v1h5v8h1v1h7v18h-1v1h-3v7h-1v1h-2v-1h-1v-7h-7v-2h-2v-2h1v1h1zM219 330h3v8h8v1h1v6h-1v1h-1v1h-2v1h-1v-1h-2v1h-9v-9h3v-1h1zM266 328h1v2h-2v-1h1zM216 321h2v1h1v8h-4v-8h1zM207 321h3v1h1v7h1v1h3v9h-8zM272 314h1v1h-1zM228 294h3v6h-3zM198 293h1v1h-1zM234 292h3v1h1v1h5v6h-5v1h-1v1h-3v-1h-1v-1h-1v-6h1v-1h1zM211 285h6v1h1v8h4v12h1v1h4v5h-11v-1h-1v-16h-1v-1h-2v-1h-1zM263 270h3v7h1v1h1v1h4v2h1v3h1v1h1v1h3v-1h3v6h-1v2h-2v-1h-4v-2h-1v-3h-1v-1h-1v-1h-3v1h-1v1h-1v5h-1v1h-2v-1h-3v1h-1v2h-1v3h1v2h1v1h3v-1h1v-1h3v1h1v1h5v2h1v6h-1v1h-1v-1h-4v10h-1v6h-2v-1h-1v-1h-2v-1h-1v1h-9v1h-1v1h-1v-1h-1v-1h-2v-1h-2v1h-3v-10h1v-4h1v-1h1v-1h3v-1h1v-9h1v-10h-1v-1h-1v-1h-3v1h-4v-1h-3v1h-1v1h-3v-1h-1v-1h-1v-6h1v-1h1v-1h3v1h1v1h3v-1h4v1h3v-1h2v1h1v5h1v1h1v1h3v-1h4v1h3v-1h1v-1h1v-5h-1v-1h-1v-1h-4v-2h-1v-4h5zM249 262h1v1h-1zM250 261h1v1h-1zM244 260h2v2h-2zM273 259h2v2h1v-1h2v-1h3v2h-1v2h-3v-1h-3v-1h-1zM261 259h5v3h-1v1h-3v-1h-3v-1h1v-1h1zM219 259h2v1h1v3h1v1h4v1h1v3h-1v7h-1v1h-6v-1h-1zM203 259h4v1h2v-1h1v1h1v25h-3v1h-1v35h-1v1h-1v7h-2v-7h-2v4h1v3h-1v2h-1v-28h2v-1h1v-26h3v-1h1v-7h-1v-1h-2v1h-1v8h-3v-16h3zM194 258h1v1h-1zM200 213h3v11h-2v2h-1zM195 204h2v1h2v2h-2v-1h-1v1h-1zM198 158h1v1h-1zM197 143h1v8h-1zM197 140h2v2h-1v-1h-1zM195 132h1v1h-1zM410 115v3h3v-3zM313 115v3h1v1h1v-1h1v-3zM385 114v1h-2v4h1v4h-1v5h-1v6h1v5h1v2h1v1h1v-1h1v-1h1v-6h1v-6h-1v-5h-1v-8h-1v-1zM377 114v1h-1v3h1v1h1v-1h2v-2h-1v-1h-1v-1zM353 114v1h-1v1h-1v1h1v1h1v1h1v-1h1v-3h-1v-1zM345 114v1h-1v8h-1v2h1v1h1v1h1v-1h1v-8h1v-2h-1v-1h-1v-1zM254 114v1h-1v10h-1v1h1v7h1v1h2v-1h1v-9h-1v-9h-1v-1zM208 111v2h1v-2zM260 108v3h1v1h1v-1h1v-3zM224 107v1h-1v6h-1v1h-6v1h-1v4h-1v2h8v-1h1v-3h1v1h1v-1h1v-10h-1v-1zM329 105v1h-2v1h-1v5h1v1h2v1h1v-1h2v-1h1v-5h-1v-1h-2v-1zM299 105v9h2v-1h1v-1h1v-5h-1v-1h-1v-1zM417 102v1h1v-1zM204 100v1h-1v2h1v1h2v-1h1v-2h-1v-1zM116 91v4h1v1h2v-1h1v-4zM300 75v8h2v5h1v1h3v-1h3v-5h4v7h6v-1h2v-6h2v8h4v1h4v-9h2v7h8v1h2v-8h2v6h8v-6h2v6h9v-6h3v7h7v1h3v-8h4v9h7v-9h4v6h2v1h1v1h3v1h3v-9h4v9h9v-9h3v8h8v-8h3v8h5v-1h2v-2h4v1h7v1h4v-1h1v1h1v-1h2v-1h6v-1h1v1h3v1h2v1h8v1h2v-1h2v-1h1v-1h1v-1h1v1h8v1h2v1h2v-1h2v-1h7v-1h1v1h11v1h6v1h1v1h4v-1h2v-1h1v-1h-1v-2h1v-1h2v3h8v1h1v-1h3v1h1v1h1v1h3v-1h2v-1h4v-1h1v-1h3v1h8v-1h2v1h3v1h2v-1h5v-1h1v-1h2v1h1v1h8v2h1v1h4v-1h1v-1h2v-1h3v-13h-32v1h-1v-1zM534 83h3v1h1v1h-1v1h-2v-1h-1zM123 75v2h1v1h1v4h-1v7h3v1h1v2h1v1h2v-2h2v-1h2v-1h2v1h3v3h-1v2h1v1h6v-5h3v4h1v-1h2v-4h1v1h5v4h6v-3h2v1h1v-2h18v5h3v-5h10v-1h2v7h3v-6h3v2h1v-1h1v1h1v1h1v-1h2v-2h1v1h2v-1h6v5h1v1h3v-1h2v-3h3v-3h2v1h2v-1h1v1h1v2h3v-2h4v-1h2v1h3v2h2v-1h1v-2h1v1h3v-1h1v1h2v-1h1v1h4v3h2v1h1v-4h3v5h3v-5h6v4h3v-4h5v-1h1v3h3v1h1v-1h1v-1h1v-1h2v-16zM80 75v435h7v-9h-1v-11h1v9h2v1h1v10h20v-22h2v1h1v21h3v-10h1v-1h2v1h1v10h4v-11h1v1h1v10h7v-10h1v-1h5v-19h-1v-1h-2v10h-1v1h-5v-1h-5v1h-1v-24h1v-1h1v-8h1v-1h1v-1h1v-10h1v-1h2v-1h1v-8h-3v1h-1v9h-5v-34h2v-9h1v-2h6v33h1v1h1v1h1v-1h1v-1h5v-1h1v-7h-1v-1h-3v-1h-1v-57h1v-7h-1v-36h1v-5h2v-4h3v1h2v3h1v41h-1v7h1v36h-4v8h1v1h3v9h1v7h-1v20h1v3h1v27h2v-9h1v-3h1v-29h-1v-103h1v-7h-1v-8h6v1h13v6h4v-65h1v2h2v-1h1v-13h-1v-1h-2v11h-5v12h-1v7h1v27h-1v5h-3v-1h-5v1h-10v-21h-1v-5h-1v-1h1v-35h2v10h1v1h1v-1h1v-9h-1v-1h-2v-10h-1v-1h-1v-11h3v-1h1v2h1v9h1v1h1v-1h1v30h1v3h3v-3h1v-18h2v9h1v1h5v-9h1v-2h3v-8h-1v-1h-2v-1h-4v-10h-1v-1h-1v1h-1v10h-2v-23h1v-1h1v-7h-1v-1h-1v-5h2v-1h3v14h1v3h2v-1h3v-2h2v1h4v16h1v5h1v1h2v-1h1v-8h-1v-6h1v4h2v-1h1v-7h-1v-1h-2v-10h-1v-25h-1v1h-1v1h-2v10h-1v-1h-1v-9h-1v-1h-1v1h-1v2h-1v-4h1v-3h-1v-10h1v-23h-1v-7h3v-1h1v-10h2v-1h1v3h1v1h2v1h2v-2h1v-23h-1v-2h-1v1h-1v-1h-2v2h-1v10h-2v1h-1v10h-2v-1h-1v-9h-1v-13h-1v-1h-1v1h-3v3h-1v4h1v8h2v17h1v1h-1v1h-2v1h-1v9h1v2h-1v9h1v24h-1v5h-3v1h-2v-7h1v-1h1v-9h-1v-1h-1v-54h-1v-3h-3v3h-1v-3h-2v1h-2v1h-1v11h-1v25h1v21h-1v16h-1v-1h-1v-62h1v-1h1v-7h-1v-1h-1v-1h-1v-3h-1v1h-3v13h-2v-5h-4v16h-1v-9h-1v-19h-1v-2h-1v-3h-2v1h-1v22h-4v10h-1v1h-2v-12h1v-1h2v-19h-1v-1h-1v1h-1v1h-1v-4h-1v-1h-1v-1h-1v1h-1v3h-1v20h-1v1h-2v-1h-1v-8h-1v-1h-4v-26h2v-1h2v1h5v-1h1v-11h1v-3h-35v1h-1v-1zM104 477h1v1h1v9h1v1h1v7h1v5h-4v1h-4v-1h-1v-11h1v-1h1v-1h1v-9h1zM88 466h1v1h1v11h-1v1h-1v-1h-1v-11h1zM86 435h1v9h-1zM104 433h1v1h1v9h1v1h1v1h1v12h-8v-1h-1v-10h-1v-12h1v10h2v-1h1v-9h1zM93 412h1v12h-1v10h-1v1h-1v-2h-1v-9h1v-2h2zM121 400h1v2h1v43h-1v1h-1v1h-1v8h2v1h1v34h-2v-2h-1v-9h-1v-1h-2v-1h-1v-10h-2v-1h-1v-9h1v-1h2v-20h-1v-1h-4v-1h-1v-9h1v-3h1v-1h1v-9h1v-1h1v1h1v9h1v1h2v-1h1v-20h1zM104 400h1v2h1v9h-1v2h-1v-1h-1v-10h1zM86 390h1v10h-1zM111 378h1v1h1v9h1v1h1v1h1v11h-1v1h-4v-1h-1v-11h1zM93 368h1v11h-1zM86 368h1v11h-1zM107 367h2v13h-5v-1h-1v-10h1v-1h3zM132 366h1v14h-1v-1h-3v-11h1v-1h2zM114 357h1v1h1v10h-1v1h-1v-1h-1v-10h1zM91 301h1v2h1v21h-1v1h-1v1h-1v8h2v1h2v13h-1v9h-1v1h-1v-1h-1v-21h-2v-1h-1v-14h3v-1h1v-1h1v-12h-1v-1h-1v-4h1zM93 281h1v10h-1zM86 280h1v11h-1zM140 258h6v13h-1v-1h-6v8h1v1h2v1h1v10h2v1h2v18h-3v-1h-6v-40h1v-9h1zM106 258h2v3h1v1h1v1h-1v40h-2v1h-1v7h1v1h1v4h1v6h-1v31h1v5h-2v-1h-3v-1h-1v-10h1v-1h1v-1h1v-7h-1v-1h-1v-1h-1v-20h-1v-1h-1v1h-1v9h-1v-34h3v-1h1v-9h1v-1h1v-1h1zM111 246h1v1h1v11h-1v1h-1zM126 245h1v1h1v1h1v32h3v1h1v12h-4v30h1v1h3v35h-3v1h-1v9h-2v1h-1v9h1v1h2v10h-1v2h-1v-1h-3v-8h-1v8h-1v1h-1v-1h-1v-11h1v-1h1v-1h1v-7h-1v-1h-1v-1h-1v-20h-1v-1h-2v-1h-3v-1h-1v-20h1v-1h3v-1h5v-1h1v-7h-1v-1h-1v-1h-1v-10h-4v9h-1v1h-1v-1h-1v-9h-2v-11h-1v-3h1v1h1v1h1v10h3v-10h1v-1h3v-8h-1v-1h-5v-1h-1v-11h1v-1h1v-1h1v-8h1v-1h3v15h1v3h1v1h2v-1h1v-4h1v-13h-1v-4h1zM166 236h3v10h-1v2h-1v-1h-1zM107 236h1v11h-2v-10h1zM144 224h2v23h-8v-11h2v-1h2v-1h1v-6h1zM126 223h1v1h1v1h1v11h-1v1h-1v1h-1zM139 222h1v2h-1zM99 215h1v9h2v1h1v22h-1v1h-2v9h3v-10h3v11h-1v1h-2v10h-1v1h-2v10h-1v-12h1v-9h-1v-13h1v-20h-1zM86 214h3v1h1v20h-1v2h-2v8h1v1h1v1h3v1h1v9h-1v1h-3v1h-1v1h-1v9h-1v-34h1v-8h-1zM93 200h1v24h-1zM138 199h1v2h1v13h-1v1h-1zM106 199h2v16h-2v9h-1v1h-2v-11h1v-1h2zM151 198h1v1h1v2h1v13h-2v-1h-1zM144 198h2v6h-2zM126 198h7v6h-6v-1h-1zM113 198h2v1h1v13h1v1h2v-1h1v14h-3v1h-1v9h-1v1h-1v-1h-1v-9h-1v-1h-1v-27h2zM86 181h1v6h-1zM144 180h1v1h1v7h-2zM138 180h2v3h-1v4h-1zM126 179h1v1h5v1h1v7h-7zM101 170h2v10h2v1h3v6h-5v-5h-2v-1h-1v-10h1zM138 159h1v11h-1zM88 158h1v1h1v11h-1v1h-1v-1h-1v-11h1zM126 146h1v1h1v2h1v21h-1v1h-1v1h-1zM117 137h3v12h-1v-1h-3v-10h1zM111 137h1v1h1v10h3v11h-1v1h-2v8h1v1h2v-10h3v-1h1v14h-1v-1h-3v10h-1v1h-1v-1h-3v-23h2v-9h-2zM99 137h1v10h-1zM145 136h1v23h-1v1h-1v-23h1zM104 136h4v12h-1v1h-1v21h-1v1h-1v-1h-1v-33h1zM91 126h3v22h-1v-9h-1v-1h-1v-1h-1v-10h1zM99 115h3v1h1v21h-3v-11h-1zM100 90h1v1h-1zM104 89h1v1h1v1h2v25h-1v-1h-1v-9h-1v-1h-1v-1h-1v-1h-4v-7h3v-1h1v-4h1zM99 89h1v1h-1zM90 89h2v1h1v12h1v13h-5v1h-1v-1h-1v-11h1v-1h1v-1h1z"/>
<path fill="#000aff" fill-rule="evenodd" d="M376 506v4h3v-4zM328 506v4h3v-4zM283 506v4h3v-4zM549 505v1h4v-1zM539 505v1h4v-1zM516 505v1h3v-1zM507 505v1h3v-1zM314 505v1h-1v4h3v-4h-1v-1zM344 503v1h-1v6h6v-5h-1v-1h-1v-1zM140 502v1h-1v7h4v-7h-1v-1zM496 499v1h1v-1zM474 499v3h-1v1h-1v1h-1v2h1v1h1v1h6v-1h3v-1h6v-1h-2v-1h-1v1h-2v-1h-3v-1h-1v-1h-1v-1h-1v-2zM455 499v1h1v-1zM434 499v2h1v2h-6v5h2v-1h10v1h8v-1h1v-3h-1v-1h-13v-2h1v-2zM385 499v1h1v-1zM411 498v1h-1v6h-1v3h1v2h3v-11h-1v-1zM361 497v1h-1v2h2v-3zM353 497v1h-1v7h-1v5h4v-12h-1v-1zM305 496v1h-1v7h1v6h3v-3h1v-10h-1v-1zM506 492v1h4v-1zM550 491v2h3v-2zM516 491v1h-1v1h5v-2zM345 491v1h1v-1zM321 491v1h1v-1zM150 491v2h-1v3h1v2h5v-2h1v-3h-1v-2zM485 490v1h-1v2h4v-2h-1v-1zM337 490v1h-1v6h-1v4h1v1h1v1h1v-1h2v-5h-1v-6h-1v-1zM177 489v1h-1v9h1v1h1v-1h1v-9h-1v-1zM550 486v2h3v-2zM527 486v1h3v-1zM474 486v2h1v1h2v-1h1v-2zM518 485v1h-1v2h4v-1h1v-1h-2v-1zM485 485v1h-2v1h1v1h1v1h3v-1h3v-1h3v1h2v-1h2v-2h-6v1h-1v-1zM411 484v1h1v-1zM269 484v1h1v-1zM377 483v1h-1v8h1v1h1v-1h1v-8h-1v-1zM369 483v1h-1v8h1v1h1v-1h1v-8h-1v-1zM361 483v1h-1v9h1v1h1v-1h1v-9h-1v-1zM275 483v2h-1v10h1v5h2v-1h1v-4h1v-1h1v-1h2v1h1v1h2v-1h2v-10h-1v-1h-2v1h-1v2h-1v2h-1v2h-1v-2h-1v-3h-1v-1h-1v-1zM394 482v1h-1v2h-1v4h-1v4h1v3h1v3h-1v5h-1v6h15v-1h1v-3h-1v-3h-1v-3h-1v-2h-1v-1h-2v2h-1v2h-1v1h-1v-1h-1v-6h1v-2h1v-1h1v1h1v1h2v-1h1v-10h-1v-1h-1v1h-1v1h-1v6h-1v-1h-1v-2h-1v-3h-1v-2zM353 482v1h-1v10h1v1h1v-1h1v-10h-1v-1zM329 482v1h-1v9h1v1h1v-1h1v-9h-1v-1zM299 482v3h1v-3zM291 482v1h-1v2h1v1h1v-1h1v-2h-1v-1zM518 479v1h1v-1zM491 477v1h-5v1h-1v2h4v1h4v1h6v-1h1v-1h1v-3h-1v-1zM353 476v2h1v-2zM328 476v2h1v1h1v-3zM321 476v1h1v-1zM291 476v3h1v-3zM507 473v1h1v-1zM305 473v1h-1v1h-1v1h-2v-1h-2v4h2v-1h3v1h1v1h2v-1h1v-1h1v-4h-2v-1zM253 473v1h-1v5h1v1h3v-1h1v-5h-1v-1zM462 470v1h-3v1h-5v1h-1v2h-1v1h-1v1h-2v1h-6v1h-4v-1h-2v-1h-4v1h-2v1h-1v-1h-2v-1h-1v-1h1v-1h2v-1h1v1h2v1h3v-1h1v-2h-1v-1h-3v1h-5v-1h-5v1h-5v-1h-3v6h1v1h1v3h1v3h1v4h2v-1h7v-1h2v-1h-2v-1h-6v-1h-3v-4h4v1h5v-1h5v1h5v-1h5v1h4v1h3v1h1v1h-2v1h-7v1h-4v-1h-5v1h-2v1h1v1h2v1h4v-1h5v1h1v1h-1v1h-5v-1h-3v1h-1v2h1v1h3v-1h6v1h4v-1h5v1h5v-1h5v1h5v-1h5v1h4v-1h2v-1h-1v-1h-1v-1h-3v1h-2v1h-4v-1h-6v1h-1v-1h-2v-2h1v-4h-1v-2h2v-1h7v-1h2v-4h1v-1h1v-1h4v-1h1v-2h-5v-1h-3v-1zM419 474h2v1h2v1h2v1h-2v1h-2v1h-1v-1h-2v-1h-2v-1h2v-1h1zM144 469v2h-1v26h1v1h1v-2h1v-25h-1v-2zM415 467v1h3v-1zM411 467v2h-1v1h2v-3zM402 467v1h-1v2h-1v1h1v4h-1v1h1v2h1v1h1v-1h1v-10h-1v-1zM394 467v1h-1v10h1v1h1v-1h1v-10h-1v-1zM377 467v3h2v-2h-1v-1zM314 467v3h1v-3zM187 467v1h-1v9h1v1h1v-1h1v-9h-1v-1zM167 467v1h-1v10h3v-1h1v-1h1v-2h1v-3h-1v-2h-1v-1h-1v-1zM559 466v1h5v-1zM431 466v1h2v1h3v-1h1v-1zM550 465v2h5v-2zM528 465v2h3v-2zM464 464v1h-2v1h-5v-1h-1v1h-2v1h1v1h3v-1h4v1h2v1h3v-1h3v-1h2v1h5v-1h1v-1h-1v-1h-4v1h-3v-1h-3v-1zM425 464v3h-2v1h5v-1h2v-1h-1v-1h-2v-1zM369 461v1h1v-1zM328 461v1h2v-1zM550 460v2h3v-2zM528 460v2h3v-2zM464 460v2h3v-2zM445 460v1h1v-1zM486 459v1h-1v2h1v2h-1v1h-1v1h-1v1h2v1h6v1h11v-1h6v-1h1v-1h-2v-1h-5v-1h-1v-1h-2v-3h-1v-1h-6v1h-2v-1zM425 459v4h1v-1h1v-2h-1v-1zM117 458v1h-1v5h1v1h2v-2h1v-4h-1v-1zM517 453v1h4v-1zM345 453v1h-1v8h1v1h1v-1h1v-8h-1v-1zM527 452v1h-1v1h2v1h2v-1h1v-2zM474 452v2h4v-2zM454 452v2h3v-2zM408 452v2h-1v2h1v3h1v3h1v1h1v1h1v-1h1v-2h1v-2h1v-1h7v-1h1v-1h-15v-2h2v-1h-1v-1zM401 452v3h-1v1h1v4h-1v1h1v2h1v1h1v-1h1v-10h-1v-1zM394 452v1h-1v10h1v1h1v-1h1v-10h-1v-1zM384 452v2h-1v3h-1v2h-1v1h-1v-2h-1v-4h-1v-1h-1v1h-1v9h1v1h2v-1h1v-1h1v1h1v2h1v2h1v1h-1v5h-1v6h1v3h1v3h1v1h1v-1h1v-4h1v-2h1v-6h-1v-4h-1v-3h1v-2h1v-6h-1v-3h-1v-2h-1v-1zM361 452v1h-1v2h2v-3zM353 452v1h-1v2h1v1h1v-1h1v-2h-1v-1zM337 452v1h-1v9h1v1h1v-1h1v-9h-1v-1zM321 452v1h-1v3h-1v2h-1v1h-1v1h-3v1h-1v2h1v1h5v1h4v-1h1v-1h1v-4h-1v-3h-1v-3h-1v-1zM291 452v3h1v-3zM485 451v1h-1v1h-1v1h2v1h5v-1h3v1h4v-1h1v-1h-2v-1h-2v1h-3v-1h-3v-1zM528 447v2h3v-2zM507 447v1h1v-1zM484 447v2h1v1h2v-1h1v-2zM408 447v2h1v-1h1v-1zM167 447v2h-1v3h1v2h1v-2h1v-3h-1v-2zM137 447v2h-1v9h-2v2h-1v6h-1v1h-2v1h-1v9h1v1h3v-1h1v-1h1v-1h1v-10h2v-2h1v-14h-1v-2zM475 446v1h-1v2h4v-1h1v-1h-2v-1zM445 446v1h-1v1h2v1h1v-1h5v1h2v1h1v-1h2v-2h-1v-1h-3v1h-5v-1zM413 446v1h-2v1h1v1h1v1h2v1h-2v1h-1v1h-1v1h2v1h5v-1h5v1h7v1h9v-1h1v-3h-1v-1h-13v-2h1v-2h-1v-1h-3v1h-5v-1zM419 448h3v1h1v1h2v1h-2v1h-2v1h-2v-1h-1v-1h-2v-1h2v-1h1zM385 446v3h1v-3zM369 446v1h1v-1zM336 446v2h1v1h1v-3zM361 445v1h-1v2h1v1h1v-1h1v-2h-1v-1zM246 445v1h-1v1h1v1h1v-3zM144 445v1h-1v9h1v1h1v-1h1v-9h-1v-1zM518 440v1h1v-1zM495 439v2h3v-2zM353 438v1h-1v9h1v1h1v-1h1v-9h-1v-1zM329 438v1h-1v8h1v1h1v-1h1v-8h-1v-1zM299 438v11h2v-2h1v-3h-1v-2h1v-2h-1v-2zM435 437v2h-1v2h-1v2h-1v1h-1v-4h-1v-1h-1v-1h-1v1h-1v6h13v-2h-1v-4h-1v-1h-1v-1zM411 437v1h-1v7h3v-7h-1v-1zM377 437v3h1v-3zM320 437v2h-1v8h1v2h2v-1h1v-10h-1v-1zM314 437v1h-1v9h1v1h2v-1h1v-8h-1v-2zM305 437v2h-1v12h-1v1h-3v-1h-1v12h2v-2h1v-2h1v2h1v1h1v1h3v-2h1v-4h1v-4h-1v-3h-1v-12h-1v-1zM291 437v1h-1v10h1v1h1v-1h1v-10h-1v-1zM130 436v2h-1v4h1v1h2v-2h1v-4h-1v-1zM192 435v10h1v-10zM529 434v1h1v-1zM495 434v2h3v-2zM455 433v1h-1v2h1v1h3v-1h5v1h1v1h-1v1h-5v-1h-4v1h-2v1h-8v1h1v1h3v-1h5v1h5v-1h5v1h5v-1h5v1h3v-1h1v-2h-1v-1h-3v1h-5v-1h-1v-1h1v-1h5v1h3v-1h1v-2h-1v-1h-4v1h-3v-1h-7v1h-4v-1zM423 431v1h-1v1h-1v1h9v-1h-1v-1h-1v-1zM410 431v2h1v1h1v-3zM361 431v1h1v-1zM377 430v1h-1v2h1v1h2v-2h1v-1h-1v-1zM321 430v1h-1v3h2v-4zM559 427v1h5v-1zM550 427v1h4v-1zM527 426v1h-1v1h2v1h2v-1h1v-2zM518 426v1h-2v1h5v-1h-2v-1zM507 425v1h-2v1h-1v1h3v1h1v-1h3v-1h-1v-1h-2v-1zM485 425v1h-1v1h-1v1h2v1h4v-1h4v1h5v-1h1v-1h-1v-1h-4v1h-3v-1h-3v-1zM180 425v2h-1v3h1v2h1v-2h1v-3h-1v-2zM173 425v2h-1v3h1v2h2v-2h1v-3h-1v-2zM402 423v1h-1v6h-1v6h-1v1h-1v1h-2v-1h-2v1h-1v10h1v1h1v-1h1v-1h1v-5h1v1h1v2h1v2h1v2h2v-1h1v-1h1v-3h1v-3h1v-2h-1v-3h-1v-2h-1v-10h-1v-1zM385 423v1h-1v1h-1v3h-1v2h-1v3h1v1h1v1h5v-1h1v-6h-1v-3h-1v-1h-1v-1zM345 423v1h-1v13h-1v4h1v1h1v1h1v-1h2v-2h1v-2h-1v-2h-1v-12h-1v-1zM284 423v3h1v-1h1v-1h-1v-1zM394 422v1h-1v10h1v1h2v-3h1v-1h-1v-7h-1v-1zM369 422v1h-1v9h1v1h1v-1h1v-9h-1v-1zM337 422v1h-1v9h1v1h1v-1h1v-9h-1v-1zM329 422v3h2v-2h-1v-1zM314 422v1h-1v10h1v1h2v-2h1v-2h-1v-7h-1v-1zM306 422v1h-1v10h1v1h1v-1h1v-10h-1v-1zM291 422v1h-1v10h1v1h1v-1h1v-10h-1v-1zM528 421v2h3v-2zM506 421v2h3v-2zM204 421v7h2v-7zM485 420v1h-2v1h1v1h1v1h2v-1h1v-2h-1v-1zM466 420v1h-2v2h1v2h-1v1h-2v1h-8v1h1v1h3v-1h4v1h7v-1h3v1h5v-1h2v-1h-1v-1h-1v-1h-1v-1h1v-1h1v-1h1v-1h-2v-1h-4v1h-6v-1zM468 423h5v1h1v1h-1v1h-5v-1h-1v-1h1zM422 420v3h-5v7h3v-1h4v1h2v-1h3v-1h8v-2h-1v-1h-2v1h-3v1h-1v-1h-2v-1h-1v-1h1v-1h2v-1h1v1h3v1h2v-1h1v-2h-1v-1h-3v1h-5v-1zM299 416v1h2v-1zM291 416v3h1v-3zM269 416v1h2v-1zM246 416v1h1v-1zM369 415v1h-1v2h1v1h1v-4zM549 414v1h4v-1zM539 414v1h4v-1zM424 414v1h1v1h3v-1h1v-1zM127 414v1h-1v4h1v2h1v-2h1v-3h-1v-2zM454 413v2h3v-2zM434 412v1h-2v1h-1v1h2v1h3v-1h1v-2h-1v-1zM516 408v1h3v-1zM475 408v1h1v-1zM337 408v1h-1v9h1v1h1v-1h1v-9h-1v-1zM507 407v1h-3v2h2v1h3v-1h1v-1h1v-1h-3v-1zM496 407v1h-1v1h-1v2h-1v1h-2v1h-5v1h-1v1h1v1h6v1h8v-1h8v-1h1v-2h-1v-1h-4v1h-1v-1h-2v-1h-1v-3h-2v-1zM411 407v3h1v-3zM401 407v3h1v1h1v-1h1v-2h-1v-1zM361 407v1h-1v3h-1v2h-1v1h-2v-1h-4v1h-1v2h-1v1h1v2h1v1h4v-1h4v1h3v-1h1v-1h1v-4h-1v-3h-1v-3h-1v-1zM329 407v1h-1v10h1v1h1v-1h1v-10h-1v-1zM320 407v2h-1v8h1v1h2v-1h1v-9h-1v-1zM314 407v1h-1v10h1v1h2v-2h1v-8h-1v-2zM306 407v1h-1v7h-1v2h1v2h2v-1h1v-10h-1v-1zM283 406v1h-1v1h-1v3h1v2h5v-3h1v-1h-1v-2h-1v-1zM528 401v1h4v-1zM434 401v1h1v1h3v-1h1v-1zM269 401v1h1v-1zM187 401v11h1v-11zM538 400v1h-1v1h5v-2zM261 400v1h-1v4h-1v2h-1v1h-2v-1h-2v1h-1v3h-1v3h-1v4h1v3h1v6h-1v2h-1v1h-1v-1h-2v-1h-4v1h-1v1h-1v-1h-1v-5h-3v8h1v1h2v-1h2v2h2v1h3v-1h1v-1h1v-1h1v1h1v2h1v6h-1v4h-1v3h1v1h1v1h3v-1h1v-1h6v-2h1v-2h1v-1h1v4h1v2h1v16h-1v3h-1v2h1v2h1v1h5v-1h1v1h4v-1h1v-1h2v1h2v1h3v-1h1v-5h-1v-1h-4v1h-1v1h-1v-2h-1v-2h1v-3h-1v-2h-1v-1h-4v1h-3v-10h1v-4h1v-2h5v-1h1v-9h1v-11h-1v-2h-1v-11h-1v-1h-1v1h-1v7h-1v2h1v2h-1v3h-1v6h-1v1h-3v1h-1v4h-1v2h-2v-1h-1v-2h-1v-3h1v-10h-1v-6h1v-9h-1v-5h-1v-1zM257 435h1v1h-1zM254 400v4h1v-1h1v-2h-1v-1zM485 399v1h-1v1h-1v1h2v1h4v-1h5v1h3v-1h1v-1h-2v-1h-2v1h-3v-1h-3v-1zM454 399v1h-2v1h-4v-1h-4v1h-3v1h1v1h2v1h1v1h-3v1h-3v1h-5v3h1v1h21v-1h1v-3h-5v-1h-3v-1h-3v-1h1v-1h2v-1h3v1h6v-1h6v1h4v-1h5v1h4v-1h2v-1h-1v-1h-1v-1h-3v1h-2v1h-4v-1h-5v1h-4v-1h-2v-1zM548 395v1h5v-1zM539 395v2h4v-1h1v-1zM518 395v1h1v-1zM474 395v2h1v1h2v-1h1v-2zM484 394v1h-1v1h1v1h1v1h2v-1h1v-3zM455 394v1h-1v2h3v-2h-1v-1zM423 394v1h-2v1h6v-1h-1v-1zM416 394v7h2v1h1v1h1v-1h1v-1h-1v-1h-1v-3h1v-2h-2v-1zM369 394v1h1v-1zM337 394v1h1v-1zM291 394v1h1v-1zM361 393v1h-1v9h1v1h1v-1h1v-9h-1v-1zM329 393v1h-1v9h1v1h1v-1h1v-9h-1v-1zM305 393v10h1v1h1v-1h1v-9h-1v-1zM239 393v1h-1v2h-1v9h1v5h3v-4h1v-2h1v-1h1v-1h2v1h1v-3h-1v1h-2v-1h-1v-1h-1v-3h-1v-2h-1v-1zM411 392v1h-1v10h1v1h1v-1h1v-2h1v-1h-1v-4h1v-2h-1v-2zM394 392v1h-1v13h-1v2h-1v3h1v4h1v3h1v1h1v-1h1v-3h1v-3h1v-2h1v-1h-1v-2h-1v-2h-1v-3h1v-3h-1v-1h1v-5h-1v-1zM385 392v1h-1v3h-1v3h-1v4h1v3h1v4h3v-4h1v-2h1v-6h-1v-3h-1v-2h-1v-1zM345 392v1h-1v2h2v-3zM299 392v4h1v-1h1v-2h-1v-1zM140 392v2h-1v3h1v2h2v-1h1v-4h-1v-2zM401 391v1h-1v1h-1v1h-1v2h1v3h1v3h1v2h2v-1h1v-2h1v-4h1v-4h-1v-1h-1v-1zM517 387v2h3v-2zM418 386v2h1v1h1v-3zM394 386v3h1v-3zM299 386v3h1v-3zM345 385v4h1v-1h1v-2h-1v-1zM320 385v2h-1v4h-1v1h-3v-1h-1v2h-1v10h1v1h2v-2h1v-2h1v1h1v2h1v1h3v-3h1v-3h1v-5h-1v-2h-1v-5h-1v-1zM517 382v2h3v-2zM485 381v1h-2v4h-1v4h1v1h1v1h4v-1h2v-1h1v-6h5v-1h2v-1h-9v-1zM453 379v1h-1v1h-1v1h-1v4h-2v1h-7v-1h-1v4h-9v1h9v-1h9v1h3v1h7v-1h3v-1h4v-1h1v-4h1v-1h2v-1h3v1h4v-1h1v-1h-1v-1h-5v1h-3v-1h-6v-1h-4v-1zM435 379v8h1v1h1v-1h1v-8zM411 378v1h-1v9h1v1h1v-1h1v-9h-1v-1zM402 378v2h1v-2zM376 378v2h-1v1h1v6h1v1h1v-1h1v-8h-1v-1zM314 378v1h-1v9h1v1h2v-2h1v-2h-1v-6h-1v-1zM246 378v1h-1v1h2v-2zM361 377v1h-1v2h1v1h1v-1h1v-2h-1v-1zM353 377v1h-1v3h-1v3h-1v4h1v1h1v1h3v-1h1v-2h1v-2h-1v-6h-1v-1h-1v-1zM329 377v3h2v-2h-1v-1zM306 377v3h2v-2h-1v-1zM275 377v2h-1v1h-1v1h-1v-2h-1v-1h-2v1h-1v2h-1v4h-1v2h1v2h1v1h5v1h1v6h1v1h3v-1h1v-9h1v-3h-1v-6h-1v-2zM230 376v1h-1v5h1v1h3v-1h1v-1h1v-3h-1v-1h-1v-1zM559 375v1h5v-1zM539 375v1h4v-1zM551 374v1h-3v1h3v1h1v-1h3v-1h-3v-1zM517 374v2h3v-2zM454 374v1h-3v1h1v1h3v1h2v-1h2v-1h3v1h6v-1h5v1h3v-1h1v-1h-10v-1h-3v1h-7v-1zM444 374v1h-3v1h3v1h3v-1h3v-1h-3v-1zM361 370v1h-1v2h1v1h1v-1h1v-2h-1v-1zM353 370v1h-1v2h1v1h1v-1h1v-2h-1v-1zM329 370v1h-1v2h1v1h1v-1h1v-2h-1v-1zM183 370v2h-1v3h1v2h2v-2h1v-3h-1v-2zM486 369v1h1v-1zM528 368v1h-2v1h5v-1h-1v-1zM518 368v1h-1v2h4v-1h1v-1h-2v-1zM425 368v10h5v-1h8v-1h2v-1h-1v-1h-2v-1h-1v-2h1v-2h-1v-1h-3v1h-5v-1zM430 371h2v1h1v1h-2v-1h-1zM320 364v8h1v1h1v-1h1v-8zM419 363v1h-1v8h1v1h1v-1h1v-8h-1v-1zM384 363v1h-1v4h-1v6h1v2h1v3h-1v2h1v7h1v1h1v-1h1v-12h1v-3h1v-4h-1v-3h-1v-2h-1v-1zM517 362v1h1v1h2v-1h1v-1zM411 362v1h-1v2h3v-2h-1v-1zM377 362v1h-1v2h1v1h1v-1h1v-2h-1v-1zM369 362v1h-1v13h-1v2h-1v2h1v2h2v1h1v-1h2v-1h1v-3h-1v-2h-1v-13h-1v-1zM337 362v1h-1v12h-1v2h-1v4h1v1h1v1h3v-1h1v-6h-1v-9h1v-3h-1v-2zM291 362v1h-1v6h-3v-1h-4v1h-1v1h-1v4h1v3h-1v4h1v1h1v1h3v-1h1v-1h2v-1h1v1h2v-4h-4v-3h3v1h1v-2h1v-10h-1v-1zM527 361v1h-1v1h2v1h2v-1h1v-2zM305 361v1h-1v1h-1v1h-2v-1h-2v10h2v-1h1v-4h1v2h1v2h1v2h2v-1h1v-4h1v-7h-2v-1zM485 360v1h-1v1h-1v1h2v1h2v-1h1v-2h-1v-1zM475 360v1h-1v2h4v-2h-2v-1zM208 358v7h2v-7zM528 356v2h3v-2zM505 356v1h3v-1zM329 356v1h1v-1zM314 356v1h1v-1zM484 355v1h-1v1h1v1h1v1h3v-1h3v-1h2v1h5v-1h1v-1h-1v-1h-5v1h-3v-1zM434 353v1h-2v1h-1v3h1v3h-1v1h-2v1h4v1h5v-1h5v1h4v-1h10v-2h-1v-1h-3v1h-5v-1h-1v-1h1v-1h5v1h4v-1h2v-1h4v1h5v-1h3v1h3v1h3v-1h1v-1h1v-1h-1v-1h-6v1h-4v-1h-4v1h-7v-1h-4v1h-5v-1h-7v-1h-3v-1zM238 353v1h-1v1h-1v3h1v2h1v7h-1v11h-1v2h1v2h2v1h1v-1h2v-1h1v-4h-1v-10h3v1h2v-1h1v-1h1v-12h-1v-1h-4v1h-3v-1zM242 361h1v1h-1zM299 349v1h2v-1zM517 348v2h3v-2zM394 348v1h-1v8h1v1h2v-1h1v-8h-1v-1zM377 348v1h-1v9h1v1h1v-1h1v-9h-1v-1zM345 348v1h-1v10h-1v2h-1v2h-1v4h1v2h1v2h1v2h3v-2h1v-3h1v-6h-1v-2h-1v-8h1v-3h-1v-1zM187 348v2h-1v3h1v2h1v-2h1v-3h-1v-2zM369 347v1h-1v10h1v1h1v-1h1v-10h-1v-1zM360 347v3h1v1h1v-1h1v-2h-1v-1zM306 347v1h-1v2h1v1h1v-4zM291 347v1h-1v6h-3v-1h-4v1h-1v1h-3v-1h-1v-1h-3v1h-1v6h1v13h1v1h1v-1h1v-13h1v-1h1v-1h2v1h1v1h3v-1h2v-1h2v1h2v-1h1v-10h-1v-1zM538 343v1h3v-1zM474 343v1h-1v2h-1v1h-1v4h1v1h1v1h5v-1h3v-1h9v-1h3v1h4v-1h1v-1h-2v-1h-1v1h-6v-1h-8v-1h-2v-1h-1v-2h-1v-1zM455 343v1h1v-1zM529 342v1h-2v1h2v1h1v-1h2v-1h-2v-1zM516 342v1h-1v1h1v1h1v1h3v-1h1v-1h1v-1h-1v-1zM507 342v1h-1v1h4v-1h-1v-1zM329 341v1h1v-1zM306 341v3h1v-1h1v-2zM171 341v18h2v2h-1v3h1v2h2v-2h1v-3h-1v-2h-2v-1h2v-17zM161 341v1h-1v10h1v16h-1v4h-1v3h1v2h1v15h-1v18h1v4h-4v2h-1v14h1v2h1v-2h1v-9h2v6h-1v18h1v3h-1v12h1v11h-1v10h1v2h1v2h1v2h2v-2h1v-4h-1v-1h-2v-17h1v-15h-1v-7h1v-41h-1v-3h1v-45h-1v-11zM361 340v1h-1v2h1v1h1v-1h1v-2h-1v-1zM321 340v1h-1v1h2v-2zM284 340v2h2v-1h-1v-1zM238 338v1h-1v5h1v1h3v-1h1v-5h-1v-1zM144 337v2h-1v3h1v2h1v-2h1v-3h-1v-2zM124 337v2h-1v3h1v2h1v-2h1v-3h-1v-2zM516 335v1h-1v1h2v1h2v-1h1v-2zM507 335v1h-2v1h1v1h3v-1h1v-1h-2v-1zM495 334v1h-3v1h-3v-1h-2v1h-2v1h9v1h4v-1h2v-1h-1v-1h-1v-1zM394 334v1h1v-1zM299 334v1h1v-1zM337 333v1h-1v2h-1v3h-1v4h1v2h1v13h1v1h1v-1h1v-13h1v-10h-1v-1h-1v-1zM402 332v1h-1v13h-1v1h-1v2h-1v8h1v2h1v1h1v13h1v1h1v-1h1v-13h1v-2h1v-10h-1v-2h-1v-13h-1v-1zM385 332v1h-1v9h3v-9h-1v-1zM353 332v1h-1v12h-1v2h-1v2h-1v2h1v3h1v2h1v2h2v-1h1v-2h1v-2h1v-3h1v-1h-1v-2h-1v-2h-1v-12h-1v-1zM345 332v1h-1v2h1v1h1v-1h1v-2h-1v-1zM314 332v1h-1v9h1v1h2v-10h-1v-1zM291 332v1h-1v10h1v1h1v-1h1v-10h-1v-1zM570 330v1h5v-1zM561 330v1h5v-1zM517 330v2h3v-2zM495 330v2h3v-2zM465 329v1h-1v2h1v1h2v-1h2v-1h5v1h1v-1h2v-1h-1v-1h-3v1h-4v-1zM425 329v1h-1v2h1v1h1v1h-1v1h-1v3h5v1h3v1h6v-1h3v-1h7v-1h5v1h5v-1h6v1h1v-1h2v-2h-1v-1h-2v1h-2v1h-4v-1h-5v1h-4v-1h-2v-1h-1v-2h1v-2h-2v-1h-1v1h-6v-1h-6v1h-3v-1zM361 326v1h2v-1zM320 326v1h2v-1zM306 326v1h1v-1zM516 323v1h1v1h1v-1h2v-1zM507 323v1h3v-1zM205 323v2h1v-2zM337 319v1h1v-1zM299 319v1h1v-1zM353 318v1h-1v9h1v1h1v-1h1v-9h-1v-1zM559 317v1h5v-1zM550 317v1h4v-1zM424 317v3h-1v1h-1v2h-1v1h1v1h1v1h2v1h2v-1h3v-1h6v-1h1v-1h-1v-1h-6v-1h-1v-1h-1v-1h-1v-2zM411 317v1h-1v10h1v1h2v-1h1v-1h1v1h1v1h1v6h-1v1h-1v-1h-1v-1h-1v-2h-2v1h-1v2h-1v3h-1v6h1v2h1v12h1v1h1v-1h1v-1h4v-1h-1v-1h-3v1h-1v-6h1v1h5v-1h6v1h3v-1h5v1h7v-1h4v1h3v-1h1v-1h-8v-1h-2v-1h-4v1h-2v1h-1v-1h-2v-1h-1v-1h1v-1h2v-1h1v1h2v1h3v-1h1v-3h-5v1h-4v-1h-5v1h-2v1h1v1h1v1h2v1h-2v1h-1v1h-3v-1h-1v-1h-4v1h-2v-2h3v-1h1v1h4v-11h-1v-11h-3v1h-1v1h-1v-2h-1v-6h-1v-1zM401 317v11h1v1h1v-1h1v-10h-1v-1zM369 317v1h-1v3h-1v3h-1v4h1v2h1v13h1v1h1v-1h1v-12h1v-1h1v-1h1v1h1v2h1v3h1v1h1v-1h1v-3h1v-2h1v-2h1v-1h1v1h1v1h2v-1h1v-10h-1v-1h-1v1h-1v6h-1v2h-1v-1h-1v-1h-1v-1h-5v1h-2v-1h-1v-2h-1v-3h-1v-1zM345 317v1h-1v10h1v1h1v-1h1v-10h-1v-1zM291 317v1h-1v6h-1v1h-2v-1h-1v-1h-2v1h-1v1h-1v3h1v1h1v1h2v-1h1v-1h3v1h2v-1h1v-10h-1v-1zM486 316v1h-2v1h2v1h2v-1h7v1h1v-1h2v-1h-1v-1h-3v1h-5v-1zM445 316v1h-1v1h8v1h2v1h4v-1h5v1h1v1h-1v1h-5v-1h-3v1h-1v2h2v1h1v-1h6v1h6v-1h3v1h4v-1h1v-2h-1v-1h-3v1h-5v-1h-1v-1h1v-1h5v1h4v-1h1v-2h-1v-1h-4v1h-4v-1h-7v1h-3v-1h-6v1h-5v-1zM385 311v3h1v-1h1v-2zM428 310v1h-1v2h3v-2h-1v-1zM269 310v1h-1v2h1v1h2v-4zM495 309v2h1v1h2v-1h2v-1h-1v-1zM506 308v1h-1v1h-1v1h5v-2h-1v-1zM253 308v1h-1v5h1v1h3v-1h1v-5h-1v-1zM540 304v1h1v-1zM516 304v1h3v-1zM361 304v1h1v-1zM353 304v1h1v-1zM505 303v1h-1v2h2v1h3v-1h1v-1h1v-1h-2v-1zM496 303v1h-1v2h4v-1h1v-1h-2v-1zM418 303v1h-1v7h1v1h1v1h1v-1h1v-8h-1v-1zM369 303v1h-1v9h1v1h1v-1h1v-9h-1v-1zM345 303v1h-1v9h1v1h1v-1h1v-9h-1v-1zM435 302v8h-1v2h1v1h5v-1h9v-1h4v1h7v1h3v1h4v-1h2v-1h1v-3h-1v-3h2v-1h2v1h2v-1h2v-1h-10v-1h-1v1h-2v1h-1v2h-1v1h-2v1h-7v1h-4v-1h-2v-1h-1v-2h1v-2h-1v-1h-3v1h-5v-1h-2v-1zM441 306h1v1h-1zM329 302v1h-1v2h2v-3zM320 302v4h2v-1h1v-2h-1v-1zM314 302v1h-1v3h-1v3h-1v4h1v3h1v12h1v1h2v-2h1v-2h-1v-9h1v-3h1v-7h-1v-3h-1v-1zM299 302v3h1v-3zM411 301v1h-2v2h-1v2h1v5h1v2h1v1h2v-2h1v-4h1v-2h1v-1h-1v-2h-1v-1h-2v-1zM549 297v1h4v-1zM539 297v1h1v1h2v-1h2v-1zM425 296v3h1v-1h1v-1h-1v-1zM506 295v1h-2v2h2v1h2v-1h1v-2h-1v-1zM321 295v1h-1v3h2v-1h1v-2h-1v-1zM314 295v1h-1v2h1v1h2v-3h-1v-1zM306 295v1h-1v1h1v1h1v-3zM299 295v5h1v-1h1v-4zM336 293v1h-1v1h-1v3h1v1h1v1h3v-1h1v-5h-1v-1zM160 293v2h-1v3h1v2h1v-2h1v-4h-1v-1zM140 293v2h-1v3h1v2h2v-2h1v-4h-1v-1zM516 291v1h3v-1zM465 291v1h1v-1zM505 290v1h-1v2h2v1h3v-1h1v-1h1v-1h-2v-1zM486 290v1h-2v3h-1v1h-1v4h1v1h11v-1h5v-1h1v-2h-1v-1h-1v-2h2v-2h-1v-1h-7v1h-1v-1zM440 289v1h-5v1h-1v1h1v1h5v1h2v1h1v3h2v1h3v-1h9v-1h-2v-1h-2v1h-2v-1h-2v-2h1v-4h-1v-1zM361 289v1h1v-1zM353 289v1h1v-1zM369 287v1h-1v2h1v1h1v-1h1v-2h-1v-1zM432 284v1h2v1h2v-1h1v-1zM162 284v4h1v-1h1v-3zM506 282v1h-2v2h2v1h2v-1h1v-2h-1v-1zM124 282v2h-1v9h-2v1h-1v5h1v1h4v-2h1v-9h2v-1h1v-5h-1v-1zM369 281v2h1v-2zM345 280v1h-1v5h-1v6h2v1h1v-1h2v-2h1v-2h-1v-2h-1v-5h-1v-1zM414 278v1h-1v1h-5v3h1v1h1v1h3v-1h1v-1h1v-1h2v6h1v-1h2v-1h7v-1h2v-1h-2v-1h-6v-1h-2v-1h-1v-2h-1v-1zM517 277v1h-1v1h4v-1h-1v-1zM505 277v1h-1v2h2v1h3v-1h1v-1h1v-1h-1v-1zM455 277v1h-1v2h1v1h1v1h-1v1h-1v2h1v1h6v1h4v1h1v-1h2v-1h1v-1h1v-2h-1v-1h-1v-3h-1v-1h-1v-1h-4v1h-4v-1zM484 275v1h-1v1h-1v4h1v1h1v3h2v1h5v-1h1v1h7v-1h1v-2h-2v-2h1v-1h1v-2h-1v-1h-4v-1h-5v-1zM188 274v5h-1v37h1v11h1v-53zM337 273v1h-1v5h-1v3h1v1h2v-1h1v-8h-1v-1zM377 272v3h2v-2h-1v-1zM361 272v1h-1v2h1v1h1v-4zM328 272v2h-1v3h-1v3h-1v3h1v10h1v4h1v2h3v-2h1v-3h1v-11h1v-4h-1v-2h-1v-3h-1v-1h-1v-1zM549 271v1h4v-1zM540 271v1h3v-1zM516 270v1h-1v1h2v1h2v-1h1v-2zM507 270v1h-2v1h1v1h3v-1h1v-1h-2v-1zM486 269v1h-1v3h13v-1h1v-1h-1v-1h-5v1h-2v-1h-3v-1zM517 265v2h3v-2zM428 265v1h-1v1h1v1h2v-1h1v-1h-1v-1zM419 265v1h-1v2h1v1h-14v1h-1v2h9v1h3v-1h2v-2h1v-1h1v-1h1v-2h-1v-1zM352 265v1h-1v7h-1v2h1v2h1v1h3v-1h1v-1h1v-4h-1v-2h-1v-5zM320 265v1h-1v1h1v2h2v-1h1v-3zM484 264v1h-1v1h1v1h1v1h2v-1h1v-1h1v-1h-1v-1zM475 264v1h-1v1h5v-1h-2v-1zM344 263v1h-1v2h-1v1h1v2h1v1h3v-1h2v-5h-1v-1zM583 257v2h3v-2zM539 257v2h3v-2zM313 255v1h-2v1h-3v-1h-3v1h-1v1h-2v-1h-3v19h2v1h1v1h1v5h1v1h1v1h4v-1h1v-1h1v1h2v1h4v-1h1v-1h5v-1h1v-3h-1v-6h-1v-1h-1v1h-1v5h-1v1h-2v-1h-5v1h-1v-1h-1v-6h-1v-3h-1v-2h1v-5h2v2h1v3h1v1h3v-1h1v-1h1v-10h-1v-1zM302 266h1v1h1v3h-1v1h-2v-3h1zM302 263h2v2h-2zM580 252v1h1v1h5v-2zM572 252v1h5v-1zM538 251v1h-1v2h5v-2h-1v-1zM529 251v1h-2v1h2v1h1v-1h3v-1h-3v-1zM518 251v1h-3v1h2v1h2v-1h2v-1h-2v-1zM101 249v1h-1v5h1v1h1v-1h1v-5h-1v-1zM176 247v14h2v-1h1v-12h-1v-1zM562 245v1h1v-1zM512 245v1h5v-1zM507 219v1h1v-1zM435 219v1h1v-1zM465 217v1h-1v2h1v1h3v-1h9v-1h-2v-1h-1v1h-5v-1h-2v-1zM385 214v1h1v-1zM496 213v1h1v-1zM444 213v1h5v-1zM428 213v1h1v-1zM369 213v1h-1v6h-1v2h1v1h3v-9h-1v-1zM269 213v1h-1v8h1v1h1v-1h1v-8h-1v-1zM261 213v1h-1v8h1v1h1v-1h1v-8h-1v-1zM453 212v1h-2v1h3v1h4v-1h4v1h2v1h2v-1h1v-2h-1v-1h-3v1h-5v-1zM418 212v2h-1v2h1v6h1v1h1v-1h1v-9h-1v-1zM411 212v1h-1v9h1v1h1v-1h1v-6h1v-2h-1v-2zM402 212v1h-1v2h3v-2h-1v-1zM377 212v1h-1v10h1v1h1v-1h1v-10h-1v-1zM361 212v1h-1v7h-1v3h1v1h1v1h1v-1h1v-1h1v-3h-1v-7h-1v-1zM345 212v1h-1v7h-1v4h-1v1h-1v-1h-1v-3h-1v-1h-3v2h-1v3h-3v-3h-1v-2h-3v2h-1v3h-1v1h-1v-1h-1v-3h-1v-2h-3v1h-3v-2h-1v-5h-3v6h-1v5h-1v1h-1v-1h-1v-3h-1v-2h-2v1h-1v3h-1v3h-3v1h-1v1h1v3h-1v1h-1v15h6v1h3v-1h2v-1h1v1h2v1h4v2h1v4h3v1h1v-1h3v1h1v8h1v3h1v2h2v-1h1v-2h1v-3h1v-7h1v-1h10v1h3v-1h11v2h1v6h1v1h-1v2h1v3h2v-1h1v-1h1v-4h2v2h1v2h1v1h3v-1h1v-2h1v-2h2v4h1v2h3v-1h1v-1h1v1h1v2h1v2h1v1h-1v7h-1v3h1v2h-1v3h-1v1h-2v-1h-3v2h-1v5h-1v2h1v3h1v5h1v1h1v-1h1v-5h1v-1h1v-2h3v1h3v-2h1v-2h1v-1h1v1h1v5h1v1h1v5h-1v4h-1v5h1v2h1v4h1v1h1v-1h1v-3h1v-2h1v-2h1v-1h1v1h1v1h2v-1h1v-12h1v-3h1v-10h-1v-3h-1v-2h1v-3h-4v-11h3v-6h1v-4h1v-1h-1v-1h-1v-1h-4v1h-1v1h-1v-1h-1v-1h-4v1h-1v5h-1v2h-1v1h-1v-1h-1v-1h-2v-1h-1v1h-2v1h-1v1h-2v-8h1v-2h7v-1h1v-13h-1v-2h5v1h3v-1h1v-1h2v9h1v1h1v1h3v-1h3v5h1v2h-1v2h1v2h1v2h2v1h1v-1h2v-3h1v-6h1v-3h14v4h-1v2h-6v1h-2v1h-1v1h14v3h-1v3h-1v4h1v1h1v-7h6v1h1v1h-1v2h1v2h1v1h1v2h1v1h1v1h2v-1h6v1h5v-1h5v1h3v-1h1v-1h-10v-1h-5v1h-1v-1h-1v-3h1v-3h-1v-2h6v-1h10v-1h3v-1h1v-1h1v-1h2v-1h6v-1h5v1h6v2h1v2h2v1h9v-1h7v-1h1v-2h-1v-2h1v-1h2v-2h-1v-1h-2v-1h-5v1h-1v4h-10v-3h-1v-2h1v-1h8v-1h4v1h1v-1h3v-1h1v-4h-1v-2h1v-2h4v1h5v1h2v1h3v1h1v1h1v2h8v-1h1v-1h-1v-2h-2v-1h-2v-1h5v-1h2v5h-1v2h1v1h1v1h5v-1h1v-1h3v-1h-2v-1h-1v-4h1v-1h3v1h3v3h-1v3h9v-1h1v-1h-1v-1h-2v-1h-1v-2h2v-1h4v1h4v3h1v1h1v2h4v-1h6v1h5v-2h-1v-1h-1v-1h-1v-1h-9v-2h2v1h1v-1h2v-1h15v1h9v-16h-9v1h-16v-1h-6v1h-13v-1h-2v1h-4v-1h-6v1h-17v-1h-15v1h-111v1h-2v-1h-4v-1h1v-9h-1v-1h-1v1h-1v9h1v1h-6v1h-18v1h-1v1h1v5h-1v6h2v1h4v1h-1v1h-3v-1h-5v-1h-1v-2h1v-9h-4v1h-1v-1h-1v-1h-3v-1h-1v-6h-1v-6h-1v-1h-1v1h-1v6h-1v4h-1v1h-1v-1h-1v-4h-1v-7h-1v-1zM397 300h3v2h1v1h-1v6h-2v-3h-1zM398 283h2v2h-1v1h-1zM389 282h2v5h-2zM389 268h1v1h1v5h-1v3h1v3h-1v1h-1v-3h-1v-5h-1v-1h1v-2h1zM451 239h41v1h-1v1h-1v1h-6v1h-6v-1h-6v1h-3v-1h-7v1h-3v-1h-6v-1h-1v-1h-1zM415 239h3v2h-2v-1h-1zM406 239h2v1h-2zM542 238h2v1h-2zM538 237h3v1h-2v1h-2v-1h1zM341 236h2v1h15v3h-6v1h-5v-1h-4v1h-1v-1h-1zM276 212v1h-1v2h1v1h1v-1h1v-2h-1v-1zM238 211v1h-1v5h1v1h3v-1h1v-5h-1v-1zM506 206v1h4v-1zM344 206v2h1v1h1v-3zM337 206v1h1v-1zM516 205v1h-1v1h5v-2zM435 205v2h2v-2zM208 205v7h2v-7zM464 204v1h-2v1h-5v-1h-1v1h-2v1h1v1h3v-1h5v1h3v-1h1v-2h-2v-1zM418 203v2h-1v2h1v2h2v-1h1v-5zM410 203v5h1v1h2v-2h1v-2h-1v-2zM517 200v2h3v-2zM496 200v1h1v-1zM464 200v2h3v-2zM441 200v1h6v-1zM405 200v1h3v-1zM433 199v1h-2v1h1v1h2v1h3v-1h2v-1h1v-1h-2v-1zM424 199v1h-2v1h2v1h3v-1h2v-1h-2v-1zM414 199v1h-2v1h3v1h2v-1h2v-1h-1v-1zM353 199v1h1v-1zM230 199v8h1v1h1v-1h1v-8zM377 198v1h-1v9h1v1h1v-1h1v-9h-1v-1zM361 198v1h-1v9h1v1h1v-1h1v-9h-1v-1zM299 198v9h2v-8h-1v-1zM276 198v1h-1v9h1v1h1v-1h1v-9h-1v-1zM246 198v2h1v-2zM385 197v1h-1v2h2v-3zM329 197v1h-1v2h2v-3zM320 197v3h1v1h1v-1h1v-2h-1v-1zM314 197v4h1v-1h1v-3zM291 197v1h-1v2h1v1h1v-1h1v-2h-1v-1zM284 197v1h-1v13h-1v2h-1v2h1v2h1v1h3v-1h1v-1h1v-1h2v1h2v-3h-2v1h-1v-1h-1v-1h-1v-2h-1v-13zM204 196v7h2v-7zM400 195v2h-1v5h1v4h1v2h1v1h1v-1h1v-1h1v-3h1v-1h-5v-8zM507 193v1h1v-1zM485 192v2h3v-2zM454 192v2h3v-2zM434 192v2h3v-2zM328 191v2h1v1h1v-3zM306 191v1h1v-1zM239 191v1h1v-1zM314 190v1h-1v2h1v1h2v-3h-1v-1zM284 190v4h1v-1h1v-2h-1v-1zM368 188v1h-1v2h-1v2h1v3h1v4h1v1h1v-1h1v-4h1v-3h1v-3h-1v-1h-1v-1zM484 187v2h4v-2zM474 187v1h4v-1zM454 187v2h3v-2zM433 186v1h-2v1h1v1h5v-2h-1v-1zM424 186v1h-2v1h2v1h3v-1h2v-1h-2v-1zM415 186v1h-1v2h5v-2h-1v-1zM377 184v1h1v-1zM320 184v6h-1v2h1v2h2v-1h1v-9zM290 184v10h2v-1h1v-9zM245 184v9h1v1h1v-1h1v-9zM411 183v1h-1v8h4v2h3v-2h-3v-2h-1v-6h-1v-1zM385 183v1h-1v9h1v1h1v-1h1v-9h-1v-1zM402 182v1h-1v9h3v-9h-1v-1zM414 181v1h2v-1zM452 180v1h1v1h3v-1h1v-1zM474 179v2h3v-2zM444 179v1h-3v1h3v1h3v-1h2v-1h-2v-1zM437 179v2h-2v1h3v-1h2v-1h-1v-1zM204 178v7h2v-7zM427 176v2h1v1h1v-3zM419 176v3h1v-3zM284 176v1h1v-1zM269 176v1h1v-1zM474 174v2h3v-2zM187 170v1h-1v9h1v1h1v-1h1v-9h-1v-1zM377 169v1h1v-1zM291 169v1h1v-1zM276 169v1h1v-1zM231 169v1h1v-1zM224 169v6h-1v3h-11v7h11v3h1v5h-1v3h-3v6h-1v3h-3v7h7v3h1v6h2v-42h1v-3h3v-7zM452 167v1h5v-1zM444 167v1h5v-1zM425 167v1h1v-1zM402 167v1h-1v10h1v1h1v-1h1v-10h-1v-1zM385 167v1h-1v2h2v-3zM239 167v1h-1v9h3v-9h-1v-1zM465 161v1h1v-1zM435 161v1h1v-1zM411 161v1h1v-1zM402 161v2h1v-2zM114 161v1h-1v4h1v2h1v-1h1v-5h-1v-1zM299 158v7h2v-1h1v-2h1v-1h-1v-2h-1v-1zM527 154v1h3v-1zM518 154v1h3v-1zM434 154v1h1v1h2v-1h3v-1zM384 154v9h1v1h1v-1h1v-9zM361 154v1h1v-1zM345 154v1h1v-1zM283 154v8h3v-8zM442 153v1h-1v1h6v-2zM353 153v1h-1v8h3v-8h-1v-1zM329 152v1h-1v2h2v-3zM321 152v3h2v-2h-1v-1zM239 152v1h-1v10h1v1h1v-1h1v-10h-1v-1zM444 148v2h3v-2zM425 148v1h1v-1zM180 148v1h-1v17h1v2h1v-2h1v-17h-1v-1zM402 146v1h1v-1zM516 141v1h3v-1zM507 141v1h3v-1zM415 141v1h4v-1zM183 141v23h4v-23zM454 140v2h3v-2zM425 139v1h-3v2h1v1h3v-1h1v-2h-1v-1zM411 139v1h1v-1zM345 139v1h1v-1zM337 139v1h1v-1zM314 139v1h2v-1zM269 139v1h1v-1zM238 139v9h1v1h1v-1h1v-9zM394 138v1h-1v8h1v1h1v-1h1v-8h-1v-1zM369 138v1h-1v8h3v-8h-1v-1zM329 138v1h-1v9h1v1h1v-1h1v-9h-1v-1zM320 138v2h-1v1h1v7h1v1h1v-1h1v-9h-1v-1zM425 137v1h2v-1zM361 137v3h2v-2h-1v-1zM428 135v2h1v-1h1v-1zM444 134v1h-2v1h2v1h3v-1h5v1h2v1h3v-1h2v-1h8v-1h-10v-1h-3v1h-7v-1zM434 134v1h-2v1h2v1h3v-1h2v-1h-2v-1zM353 131v1h1v-1zM291 131v1h1v-1zM284 131v1h1v-1zM261 131v1h1v-1zM475 128v1h3v-1zM486 127v1h-2v1h2v1h2v-1h10v-1h-10v-1zM224 126v4h-1v3h-3v16h3v3h1v6h6v-7h-3v-3h-1v-22zM360 124v9h1v1h1v-1h1v-9zM337 124v1h1v-1zM275 124v8h1v1h1v-1h1v-8zM200 124v6h-1v3h-3v7h-1v2h-1v9h-1v-2h-1v17h1v-8h1v-4h2v2h1v2h2v2h-3v8h-1v-6h-1v18h1v-1h1v3h-1v1h-1v4h-1v6h-1v9h1v-8h1v10h1v-6h1v5h1v2h2v2h-2v-1h-1v1h-2v-2h-1v7h1v22h1v1h1v3h-2v3h-1v-5h-1v11h-10v10h1v10h1v2h1v-1h2v-9h2v-1h1v2h2v-1h1v15h1v19h3v2h-3v37h1v-1h1v1h2v-5h1v6h-3v1h-1v-1h-1v31h2v1h1v1h-3v23h5v2h-3v1h-2v11h-1v7h1v14h2v1h-2v23h-1v7h1v4h3v-1h1v1h1v2h-5v20h1v2h1v3h-2v24h6v-25h-1v-1h1v-1h3v12h1v5h3v1h7v1h1v2h1v6h26v-3h1v-5h2v1h2v-1h1v-1h1v-7h1v-2h1v1h1v2h1v15h19v-5h-1v-1h-1v-1h-1v1h-2v1h-1v1h-1v-1h-1v-1h-1v-1h-4v1h-1v1h-1v-1h-1v-10h1v-4h-1v-1h-1v-1h-2v1h-1v1h-2v-6h-1v-2h-1v-1h-5v-1h-1v-11h-1v-3h1v-1h2v1h1v4h1v1h1v-1h1v-5h1v-6h-1v-1h-5v-4h-1v-5h1v-4h-1v-1h-2v-1h-1v1h-2v2h-1v3h1v2h-1v1h-1v-7h-1v-1h-1v-1h-1v-13h-1v-1h-4v-3h-1v-3h1v-11h1v-1h3v-1h1v-1h-1v-7h-8v-3h-1v-3h1v-3h1v2h1v-2h6v3h1v-12h-5v-3h-1v-5h-2v5h-1v3h-1v1h-6v5h-1v3h-1v1h-2v-1h-1v-8h1v-1h3v-8h1v-1h2v-1h1v-7h1v-1h2v1h1v1h3v-1h1v8h5v-10h-1v-2h-1v-3h3v-1h1v-1h1v-9h-1v-2h-1v-1h-1v-8h1v-1h1v-6h-1v-13h-1v-4h1v-2h1v-3h2v4h1v2h1v12h1v1h2v-1h2v1h1v1h1v1h3v-1h1v-1h1v-3h-1v-1h-1v-1h-4v1h-1v1h-1v-1h-1v-9h1v-4h1v-4h1v-1h4v-7h1v-12h-1v-1h-4v1h-2v-1h-4v1h-4v-1h-1v-1h-1v-6h1v-1h1v-1h4v1h4v-1h2v1h6v1h1v5h1v1h1v1h3v-1h4v1h3v-1h1v-1h1v-5h-1v-1h-1v-1h-4v-2h-1v-4h2v-1h4v-1h1v1h1v7h1v1h1v1h4v2h1v3h1v1h1v1h3v-1h3v6h-1v2h-2v-1h-4v-2h-1v-3h-1v-1h-1v-1h-3v1h-1v1h-1v5h-1v1h-2v-1h-3v1h-1v2h-1v3h1v2h1v1h3v-1h1v-1h3v1h2v1h5v4h1v4h-1v8h-1v1h-2v-1h-2v1h-1v13h-1v1h-1v1h-1v-8h-1v-1h-1v-1h-4v1h-3v-1h-2v1h-2v1h-1v4h1v3h-1v10h1v2h1v1h4v-1h2v1h1v16h-1v3h-1v4h-5v1h-1v10h-1v2h1v8h1v1h3v-1h1v-1h1v-1h2v1h2v-1h1v-12h1v-3h1v-3h-1v-3h1v-1h-1v-4h-1v-16h1v-2h2v1h1v2h1v4h1v1h1v-1h1v-4h1v-1h1v-1h1v1h4v-1h1v-2h1v-2h-1v-3h-1v-3h-1v-1h-4v-1h-1v-1h-1v-9h1v-1h1v1h2v1h3v-1h1v-6h-1v-3h1v-4h-1v-2h1v-6h1v-1h1v1h1v6h-1v6h1v2h5v-1h1v-1h2v1h2v-1h1v-2h-1v-1h-3v-1h-1v-1h-1v-8h1v-1h4v-1h1v-40h-1v-1h-4v-10h1v-1h4v-4h-1v-3h1v-3h-1v-1h-1v1h-1v-3h-1v-3h-1v-3h-1v-2h-4v-1h-7v1h-1v1h-1v1h-1v-1h-1v-1h-5v-1h-2v1h-2v-1h-3v-1h-1v1h-2v1h-2v1h-1v1h-1v1h-1v-1h-1v-1h-1v-1h-1v-1h-2v1h-4v1h-1v-1h-1v-2h-3v1h-1v2h-3v-1h-1v-1h-1v-3h-1v1h-2v2h-1v2h-2v1h-1v-1h-3v-3h-2v5h-1v2h-1v-1h-1v-5h-1v-2h-2v1h-2v1h-2v1h-2v1h-1v1h-1v-13h-2v10h-2v1h-1v1h-1v-13h3v-9h-3v-10h2v-7h-2v-4h-1v-1h-1v-3h1v1h1v-4h2v-6h1v-3h3v-6h1v-3h4v3h1v6h2v-34h-2v6h-1v3h-3v6h-1v3h-7v-11h6v-7h-3v-3h-1v-6zM234 489h2v5h1v4h-1v6h-1v-1h-1v-3h-1v-2h-1v-5h1v-1h1zM223 482h4v1h2v1h-1v3h1v5h-3v-1h-1v-1h-1v1h-1v1h-3v-1h-1v-8h4zM220 465h4v1h-1v1h-1v7h-3v-8h1zM204 464h2v1h1v8h1v1h2v-1h1v-7h1v-1h2v1h1v7h1v1h3v9h-4v1h-8v-1h-4v-12h-1v-3h1v-3h1zM235 457h1v5h1v2h1v9h-1v8h-1v2h-1v-1h-1v-1h-2v-15h-1v7h-1v1h-2v-1h-1v-2h1v-1h-1v-8h-1v-3h1v-1h2v2h1v2h1v1h1v-1h1v-1h1v-3h1zM204 447h2v1h1v8h-1v1h-2v-1h-1v-8h1zM198 428h1v10h-1zM219 419h3v1h1v3h1v3h-1v3h-1v8h-1v1h-2v-11h-1v-5h1zM212 401h2v1h1v3h1v8h1v5h-1v2h-5v9h3v1h1v7h1v1h3v8h-1v1h-2v1h-1v7h-1v1h-2v-1h-1v-19h-1v-6h-2v5h-1v2h-1v1h-6v-12h-1v-2h1v-5h2v-6h1v-3h3v1h1v3h1v5h2v-5h1v-12h1zM200 383h3v1h3v1h1v11h1v3h-1v3h-1v1h-2v-1h-1v-8h-1v-1h-2zM227 351h1v5h-1zM200 338h3v1h4v8h1v1h7v12h1v3h-1v3h-1v1h-2v5h-1v2h-1v1h-3v-3h-1v-5h-6v-1h-1v-1h-2v-1h1v-1h2zM219 330h4v1h-1v6h1v1h3v-1h3v1h2v8h-1v1h-1v1h-1v1h-2v-1h-11v-9h3v-1h1zM227 329h2v2h-2zM216 320h2v1h1v9h-4v-9h1zM228 294h3v6h-3zM198 293h1v2h-1zM234 292h4v1h5v1h1v7h-2v-1h-4v1h-1v1h-3v-1h-1v-1h-1v-6h1v-1h1zM211 285h6v1h1v8h4v11h1v1h4v6h-1v1h-3v-1h-4v1h-3v-1h-1v-17h-1v-1h-2v-1h-1zM249 262h1v2h-2v-1h1zM250 261h1v1h-1zM243 260h3v1h1v2h-4zM198 260h1v2h-1zM261 259h6v3h-1v2h-3v-1h-4v-3h2zM219 259h3v4h1v1h4v1h1v3h-1v7h-1v1h-6v-1h-1zM272 258h2v1h1v1h2v-1h2v-1h1v1h1v3h-1v2h-2v-1h-5v-2h-1zM205 258h1v1h5v26h-3v1h-1v35h3v1h1v7h1v1h3v9h-8v-11h-1v-1h-1v2h-2v-7h-2v4h1v4h-1v1h-1v-28h2v-1h1v-26h3v-1h1v-7h-1v-1h-2v1h-1v8h-3v-16h2v-1h3zM193 258h2v1h1v1h-2v-1h-1zM289 237h1v2h1v2h-1v1h-2v-1h1zM199 156h1v1h-1zM197 140h2v4h-1v8h-1zM424 122v1h1v1h1v-1h1v-1zM385 122v1h-1v3h-1v5h-1v1h1v3h1v5h3v-5h1v-3h1v-1h-1v-5h-1v-3h-1v-1zM345 122v1h-1v2h2v-3zM254 122v1h-1v9h1v1h1v-1h1v-9h-1v-1zM230 121v1h-1v5h1v1h3v-1h1v-5h-1v-1zM195 119v4h-1v1h-1v7h2v-8h1v4h1v-8zM384 116v2h1v1h1v-3zM377 116v1h1v-1zM353 116v1h1v-1zM345 116v3h1v-1h1v-2zM254 116v2h1v-2zM220 115v1h-4v2h-1v3h1v1h6v-7zM223 109v8h1v1h1v-1h1v-8zM328 106v1h-1v2h-1v1h1v2h1v1h3v-1h1v-2h1v-1h-1v-2h-1v-1zM299 106v7h2v-1h1v-2h1v-1h-1v-2h-1v-1zM204 100v4h2v-4zM116 91v4h4v-4zM300 75v8h2v5h7v-5h4v7h4v-1h4v-6h2v7h3v1h3v1h1v-1h1v-8h2v7h10v-7h2v6h7v-1h1v-5h2v6h9v-6h3v7h2v-1h3v1h3v1h2v-8h4v9h7v-9h4v6h3v1h1v1h5v-8h4v9h3v-1h6v-8h3v8h1v-1h7v-7h3v8h3v-1h4v-2h11v1h3v-1h2v-1h1v-1h2v-1h3v2h5v1h3v1h2v1h3v-1h3v1h4v-1h1v-1h1v-1h1v-2h1v1h1v1h1v1h7v1h3v-1h9v-1h2v1h16v1h1v1h2v1h2v-1h2v-2h-1v-1h1v-1h1v-1h3v3h8v-1h2v1h3v1h4v-1h6v-1h1v-1h3v2h6v-1h1v-1h1v1h1v1h9v-1h2v-1h1v-1h1v1h2v1h1v1h4v-1h2v1h2v1h1v1h1v-1h2v-1h4v-1h1v-12h-32v1h-2v-1h-39v1h-2v-1zM461 83h2v1h-2zM535 82h2v1h1v3h-4v-3h1zM506 82h3v1h1v1h-4zM483 76h1v2h-1zM123 75v1h2v9h-1v4h3v1h1v2h1v1h2v-2h2v-1h2v-1h2v1h3v5h1v1h5v-5h3v4h1v-1h2v-4h1v1h5v4h6v-3h2v1h1v-2h11v-1h2v1h5v5h3v-5h10v-1h2v6h1v1h1v-1h1v-5h3v2h1v-1h2v2h1v-1h2v-2h1v1h2v-1h3v-1h3v6h2v1h2v-1h2v-3h3v-3h2v1h2v-1h1v1h1v2h3v-2h3v-1h4v1h2v2h2v-1h1v-2h2v1h2v-1h1v1h2v-1h1v1h4v3h3v-3h3v5h3v-5h6v4h3v-4h5v-1h1v2h1v1h2v1h1v-1h1v-1h1v-2h1v1h1v-16zM80 75v435h7v-7h-1v-13h1v7h1v1h1v1h1v11h20v-23h3v23h3v-12h4v12h4v-12h1v1h1v11h7v-12h5v-1h1v-15h-1v-2h-1v1h-1v10h-6v-1h-1v-1h-3v1h-1v1h-1v-26h1v-2h1v-6h1v-1h1v-1h1v-10h-5v-35h1v-1h1v-8h1v-2h6v33h1v2h3v-2h5v-2h1v-3h-1v-2h-4v-61h1v-3h-1v-38h1v-5h1v-4h5v1h2v46h-1v3h1v2h1v3h-1v14h1v17h-1v3h-3v1h-1v4h1v2h3v4h1v16h-1v17h1v3h1v27h2v-11h1v-3h1v-25h-1v-2h-1v-1h1v-47h-1v-5h1v-12h-1v-3h1v-37h1v-3h-1v-11h1v1h5v1h11v-1h2v7h4v-66h-1v-1h-1v1h-1v-1h-1v51h-6v-1h-2v1h-11v-20h-1v-6h-1v-1h1v-35h2v10h1v1h1v-1h1v-9h-1v-1h-2v-10h-1v-1h-1v-11h2v-1h1v-1h1v1h1v11h1v1h1v-1h1v30h1v3h3v-3h1v-18h2v-11h3v12h-1v1h-1v1h-1v4h1v2h4v-1h1v-8h1v-2h2v-1h1v-4h-1v-2h-2v-1h-1v-1h-3v-10h-1v-1h-1v1h-1v10h-2v-24h1v-2h1v-3h-1v-2h-1v-6h1v-1h4v14h1v3h2v-1h3v-3h1v-1h1v2h4v17h1v3h1v2h2v-2h1v-4h-1v-10h1v4h1v1h1v-2h1v-3h-1v-2h-1v1h-1v-10h-1v-26h-2v1h-1v1h-1v9h-1v-1h-1v-9h-1v-1h-1v1h-1v6h-1v-24h1v-18h-1v-10h1v1h2v-1h1v-10h2v-1h1v3h1v1h4v-1h1v-23h-1v-1h-2v-1h-2v2h-1v10h-2v1h-1v10h-2v-1h-1v-9h-1v-12h-1v-1h-4v15h2v15h1v2h2v1h-1v1h-1v-1h-1v1h-2v2h-1v6h1v4h-1v9h1v29h-3v1h-3v-7h1v-1h1v-9h-1v-1h-1v-54h-1v-3h-3v3h-1v-3h-2v1h-1v1h-2v13h-1v15h1v31h-1v14h-2v-64h1v-2h1v-3h-1v-2h-1v-2h-1v-2h-4v13h-2v-5h-4v18h-1v-9h-1v-21h-1v-1h-1v-4h-2v1h-1v24h-1v-1h-2v1h-1v9h-1v1h-1v1h-1v-15h1v-1h1v-1h1v-15h-1v-2h-1v2h-1v1h-1v-6h-1v-1h-3v4h-1v19h-1v1h-2v-1h-1v-6h-1v-2h-4v-27h1v-1h3v1h5v-1h1v-12h1v-2h-35v2h-1v-2zM104 476h2v9h1v2h1v4h1v9h-3v1h-1v1h-5v-15h2v-2h1v-7h1zM87 465h3v15h-2v-2h-1zM86 433h1v13h-1zM99 432h1v10h1v1h1v-2h1v-9h3v9h1v2h2v15h-9v-10h-1zM93 410h1v16h-1v10h-2v-2h-1v-11h1v-2h1v-1h1zM120 399h2v2h1v45h-1v1h-1v2h-1v4h1v1h1v2h1v35h-2v-1h-1v-11h-1v-1h-2v-1h-1v-10h-2v-1h-1v-9h1v-1h2v-18h-1v-2h-5v-13h1v-2h1v-2h1v-9h3v9h1v2h2v-2h1zM104 399h1v1h1v13h-1v1h-2v-13h1zM86 389h1v11h-1zM111 377h2v9h1v2h2v15h-5v-1h-1v-14h1zM107 366h2v15h-6v-12h1v-1h2v-1h1zM93 366h1v15h-1zM86 366h1v14h-1zM114 357h1v1h1v12h-3v-12h1zM90 300h2v2h1v22h-1v2h-1v2h-1v4h1v1h1v1h1v1h1v15h-1v9h-3v-21h-1v-1h-2v-3h-1v-11h1v-3h1v1h2v-1h1v-1h1v-11h-1v-2h-1zM93 279h1v12h-1zM86 278h1v15h-1zM140 258h6v15h-1v-2h-5v1h-1v4h1v2h3v10h1v1h1v1h1v1h1v18h-4v-1h-5v-42h1v-7h1zM111 245h2v15h-2zM126 243h1v2h2v32h1v1h3v16h-1v-1h-2v1h-1v26h1v2h2v-1h1v39h-1v-1h-2v2h-1v4h1v1h2v-2h1v16h-1v-1h-3v-11h-2v1h-1v9h1v1h2v12h-1v1h-1v-1h-1v-1h-2v-8h-1v9h-1v1h-2v-15h2v-2h1v-3h-1v-2h-2v-20h-1v-2h-2v-1h-1v-1h-2v-1h-1v-20h1v-1h2v-1h1v-1h5v-2h1v-3h-1v-2h-2v-10h-1v-1h-2v1h-1v7h-1v1h-1v-1h-1v-7h-1v-1h-1v-7h-1v-10h1v2h2v10h1v1h1v-1h1v-10h3v-1h1v-4h-1v-2h-6v-15h2v-2h1v-6h1v-1h3v14h1v4h4v-5h1v-3h-1v-3h1v-4h-1v-10h1zM107 236h1v11h-2v-10h1zM182 228h1v1h-1zM145 222h1v25h-7v1h-1v-12h1v-1h1v-1h2v-2h1v-4h1v-5h1zM126 221h1v2h2v15h-2v2h-1zM86 214h3v1h1v21h-1v2h-1v1h-1v4h1v2h1v1h1v1h2v1h1v9h-1v1h-2v1h-1v1h-1v2h-1v9h-1v-38h1v-4h-1zM125 212h1v3h-1zM93 200h1v24h-1zM138 199h2v26h-1v-10h-1zM106 199h2v17h-1v1h-1v7h-1v1h-2v22h3v11h2v3h1v1h1v2h-1v40h-2v2h-1v3h1v2h2v13h-1v13h1v7h-1v6h1v9h-2v-1h-1v-1h-2v-1h-1v-12h2v-2h1v-3h-1v-2h-2v-20h-1v-2h-1v2h-1v8h-1v-36h3v-2h1v-9h2v-2h1v-15h-1v-1h-1v1h-1v10h-2v1h-1v10h-1v-16h1v-5h-1v-17h1v-16h-1v-13h1v7h1v1h1v-1h1v-10h2v-1h1zM151 198h2v2h1v15h-1v-1h-1v-1h-1zM144 198h2v8h-1v-1h-1zM112 198h4v12h1v2h2v-2h1v17h-3v2h-1v9h-3v-9h-1v-2h-1v-28h1zM132 197h1v9h-1v-1h-6v-7h6zM138 179h2v8h-2zM86 179h1v8h-1zM145 178h1v10h-2v-9h1zM126 177h1v2h6v9h-7v1h-1v-5h1zM138 159h1v13h-1zM87 157h2v2h1v13h-3zM126 144h1v2h1v2h1v23h-1v1h-1v2h-1zM117 137h3v9h1v5h-1v-2h-1v-1h-3v-10h1zM111 137h1v1h1v10h3v11h3v-1h1v16h-1v-2h-2v1h-1v8h-1v2h-1v-1h-1v-1h-2v-24h1v-1h1v-5h-1v-1h-1zM99 137h1v11h-1zM145 136h1v26h-1v-1h-1v-24h1zM91 126h3v22h-1v-7h-1v-2h-1v-1h-1v-11h1zM99 115h3v1h1v18h1v1h4v13h-1v1h-1v22h-1v1h-1v1h-1v5h1v1h1v1h1v1h2v7h-1v-1h-4v-3h-1v-1h-2v-12h1v-1h2v-33h-3v-11h-1zM100 90h1v1h-1zM104 89h2v2h2v26h-2v-9h-1v-2h-1v-1h-1v-2h-3v1h-1v-8h1v-1h3v-4h1zM99 89h1v1h-1zM90 89h2v1h1v10h1v15h-4v1h-1v1h-2v-15h2v-2h1zM113 82h1v3h-1zM91 81h1v4h-1z"/>
<path fill="#0029ff" fill-rule="evenodd" d="M411 505v3h1v-3zM353 505v3h1v-3zM254 505v4h1v-1h1v-3zM344 504v1h-1v5h5v-1h1v-2h-1v-2h-1v-1zM268 504v1h-1v5h5v-4h-1v-2zM140 504v6h2v-6zM429 503v4h3v-1h7v1h3v1h6v-1h1v-1h1v-1h-1v-1h-1v-1h-6v1h-12v-1zM261 503v1h-2v1h-1v5h7v-4h-1v-2h-2v-1zM475 502v1h-2v1h-1v2h1v1h2v1h2v-1h3v-1h1v-1h-1v-1h-1v-1h-2v-1zM254 499v1h1v-1zM305 497v1h-1v4h1v4h1v2h1v-1h1v-4h1v-5h-1v-1zM336 496v2h-1v2h1v2h3v-2h1v-2h-1v-2zM150 493v3h5v-3zM402 490v1h1v-1zM361 490v1h1v-1zM253 489v1h-1v4h1v1h1v1h1v-1h1v-2h1v-2h-1v-2zM177 489v1h-1v9h1v1h1v-1h1v-9h-1v-1zM419 485v4h1v-1h2v-1h3v-1h-3v-1zM394 484v1h-1v3h-1v6h1v2h1v3h-1v3h-1v4h-1v2h1v2h14v-6h-1v-2h-1v-2h-1v-1h-2v2h-1v2h-3v-2h-1v-2h-1v-3h1v-1h1v-2h1v-4h-1v-2h-1v-3zM284 484v1h-1v3h-1v5h1v1h3v-1h1v-5h-1v-3h-1v-1zM276 484v1h-1v3h-1v5h1v2h1v1h1v-1h1v-1h1v-2h1v-2h-1v-2h-1v-3h-1v-1zM417 478v2h1v2h1v-4zM493 477v1h-3v1h-3v1h2v1h3v1h7v-1h1v-1h1v-1h-1v-1h-1v-1zM305 474v1h-1v3h1v1h3v-2h1v-1h-1v-2zM254 473v1h-1v1h-1v4h2v1h1v-1h1v-1h1v-3h-1v-1h-1v-1zM461 471v1h-3v1h-3v1h-1v2h-2v1h-1v1h-3v1h-3v1h2v1h3v1h2v1h1v1h-2v1h-2v1h-5v1h1v1h6v1h2v1h1v3h3v-3h1v-1h1v-4h-1v-2h1v-1h8v-1h2v-4h1v-1h1v-1h2v-1h2v-1h-2v-1h-3v-1zM144 471v25h1v-25zM187 467v1h-1v9h1v1h1v-1h1v-9h-1v-1zM167 467v1h-1v10h3v-2h1v-2h1v-3h-1v-2h-1v-2zM464 466v1h3v-1zM284 466v1h-2v1h-1v2h1v2h2v1h1v-1h1v-1h1v-3h-1v-1h-1v-1zM495 460v1h-1v1h-1v1h-1v1h-3v1h-3v2h3v1h4v1h7v-1h2v-1h2v-1h-1v-1h-2v-1h-2v-1h-1v-1h-1v-1h-1v-1zM377 460v2h1v-2zM117 460v3h2v-3zM275 458v1h-1v1h-1v1h-1v2h1v2h-1v-1h-1v-4h-2v4h-1v2h-1v6h1v1h3v-1h4v1h2v-1h2v-2h1v-2h-1v-9h-2v-1zM408 456v1h1v2h1v3h2v-1h1v-2h1v-1h1v-1h3v1h3v-1h1v-1zM402 455v1h1v-1zM384 454v3h-1v2h-1v4h1v2h1v1h1v3h-1v2h-1v4h-1v2h1v3h1v2h1v1h1v-1h1v-2h1v-2h1v-4h-1v-2h-1v-3h-1v-3h1v-1h1v-3h1v-2h-1v-3h-1v-2h-1v-1zM321 454v1h-1v2h-1v2h-1v4h1v1h1v1h2v-1h2v-2h1v-2h-1v-2h-1v-3h-1v-1zM299 454v3h2v-3zM432 451v1h-7v1h-1v1h5v1h3v1h6v-1h1v-1h1v-1h-1v-1h-1v-1zM167 449v3h1v-3zM137 449v7h-1v3h-1v1h-1v6h-2v1h-2v1h-1v9h1v1h3v-2h1v-2h1v-7h1v-3h1v-1h1v-14zM321 445v2h1v-2zM299 445v2h1v-2zM144 445v1h-1v9h1v1h1v-1h1v-9h-1v-1zM306 444v2h-1v1h1v2h-1v2h-1v1h-1v2h-1v2h1v2h1v2h1v1h1v1h1v-1h1v-2h1v-7h-1v-2h-1v-6zM238 444v1h-1v8h-1v4h1v6h1v2h1v1h1v-1h1v-1h1v-1h2v2h1v1h2v-1h1v-2h1v-3h-1v-1h-5v-1h-1v-13h-1v-1zM455 440v1h1v-1zM394 440v1h1v-1zM435 439v2h-1v3h-1v1h6v-3h-1v-2h-1v-1zM321 439v3h1v-3zM314 439v2h1v-2zM306 439v2h1v-2zM130 438v3h2v-3zM344 436v2h-1v2h1v2h3v-1h1v-3h-1v-2zM192 435v10h1v-10zM465 434v1h2v-1zM423 432v1h-1v1h7v-1h-1v-1zM402 430v4h-1v2h-1v1h-1v2h-1v2h1v2h1v2h1v2h3v-3h1v-2h1v-4h-1v-2h-1v-2h-1v-4zM394 430v1h1v-1zM314 430v2h1v-2zM245 428v1h-1v1h-1v2h1v2h1v1h3v-1h1v-2h1v-1h-1v-2h-1v-1zM465 427v1h1v-1zM180 427v3h1v-3zM173 427v3h2v-3zM385 424v1h-1v2h-1v2h-1v4h1v1h1v1h3v-1h1v-1h1v-4h-1v-2h-1v-2h-1v-1zM417 423v6h3v-1h7v-1h-1v-1h-6v-3zM204 423v3h2v-3zM422 421v2h4v-2zM127 416v3h1v-3zM321 415v1h1v-1zM314 415v2h1v-2zM306 415v2h1v-2zM495 411v1h-2v1h-3v1h-2v1h2v1h4v1h4v-1h3v-1h1v-2h-2v-1h-1v-1zM361 409v1h-1v2h-1v2h-1v1h-2v-1h-2v-1h-1v1h-1v1h-1v3h1v1h1v1h1v-1h2v-1h3v1h2v1h1v-1h2v-2h1v-2h-1v-2h-1v-3h-1v-1zM321 409v3h1v-3zM314 409v2h1v-2zM283 406v1h-1v5h1v1h3v-1h1v-5h-2v-1zM444 405v1h-3v1h-3v1h-2v1h1v1h4v1h9v-1h5v-2h-2v-1h-3v-1h-3v-1zM394 405v1h-1v1h-1v6h1v2h1v2h1v-1h1v-3h1v-3h1v-1h-1v-2h-1v-2zM260 405v2h-1v1h-1v4h-1v-2h-1v-1h-2v1h-1v3h-1v7h1v1h1v4h-1v4h-1v5h1v1h1v5h-1v3h-1v5h1v1h1v1h1v-1h2v-2h1v-1h2v1h2v-1h1v-2h1v-2h1v-1h1v2h1v5h1v2h3v-2h1v-5h1v-1h2v1h2v-1h1v-1h1v-14h1v-3h-1v-3h-1v-1h-1v-5h-1v5h-1v1h-1v6h-1v9h-1v-1h-1v-2h-1v-1h-1v3h-1v1h-1v2h-1v1h-1v-2h-1v-1h-1v-2h-1v-2h1v-5h1v-5h-1v-1h-1v-4h1v-5h1v-4h-1v-2h-1v-1zM258 417h2v2h1v1h-1v1h-1v2h-1v4h1v4h1v4h-1v2h-1v2h-2v-1h-1v-2h1v-2h1v-2h1v-3h-1v-4h-1v-5h1v-1h1zM187 402v10h1v-10zM455 401v1h1v-1zM394 400v2h1v-2zM314 399v3h1v-3zM416 395v6h3v-1h-1v-1h-1v-4zM394 395v1h1v-1zM238 395v3h-1v6h1v2h1v1h1v-1h1v-1h1v-2h1v-3h-1v-2h-1v-3zM385 394v1h-1v3h-1v6h1v2h1v1h1v-1h1v-1h1v-3h1v-2h-1v-3h-1v-2h-1v-1zM314 394v3h2v-3zM140 394v3h2v-3zM401 392v1h-1v1h-1v2h1v3h1v2h1v1h1v-1h1v-3h1v-5h-1v-1zM433 390v1h5v-1zM321 389v1h-1v1h-1v2h-1v4h1v3h1v2h2v-1h1v-3h1v-6h-1v-2h-1v-1zM314 385v1h1v-1zM261 384v2h1v-2zM486 382v1h-1v2h-1v1h-1v1h-1v2h1v1h1v1h5v-1h1v-1h1v-2h-1v-1h-1v-3h-1v-1zM453 380v1h-1v1h-1v4h-1v1h-3v1h-6v-1h-1v3h1v-1h7v1h3v1h3v1h3v-1h3v-1h3v-1h3v-1h-1v-1h-1v-1h-2v-1h1v-1h3v-1h1v-1h-3v-1h-4v-1zM353 379v1h-1v3h-1v6h4v-1h1v-5h-1v-3h-1v-1zM269 379v1h-1v4h-1v4h1v1h6v7h1v1h3v-1h1v-14h-1v-3h-3v2h-1v2h-2v-1h-1v-2h-1v-1zM231 376v1h-1v1h-1v3h1v1h1v1h1v-1h1v-1h1v-4h-2v-1zM369 375v1h-1v1h-1v4h1v1h3v-1h1v-4h-1v-1h-1v-1zM337 374v1h-1v2h-1v4h1v1h3v-1h1v-4h-1v-2h-1v-1zM183 372v3h2v-3zM369 371v1h1v-1zM337 370v3h1v-3zM425 369v9h2v-1h4v-1h5v-1h-1v-1h-5v-1h-2v-1h-1v-3zM291 369v1h-1v2h2v-3zM284 368v1h-1v1h-1v12h2v1h1v-1h2v-2h1v-3h-1v-3h1v-4h-1v-1h-2v-1zM299 365v2h1v-2zM385 364v1h-1v2h-1v8h1v1h1v5h1v-5h1v-1h1v-7h-1v-3h-1v-1zM305 362v1h-1v1h-1v2h1v3h1v3h2v-2h1v-3h1v-3h-1v-2zM173 361v3h2v-3zM130 361v3h2v-3zM208 360v3h2v-3zM261 359v1h-1v2h-1v5h-1v2h-5v1h-1v4h1v3h-1v11h1v1h3v-1h1v-1h1v-8h-1v-4h1v-1h1v1h1v2h1v1h-1v3h1v1h1v-6h1v-2h1v-12h-1v-2h-1v-1zM345 355v4h-1v2h-1v2h-1v4h1v2h1v2h1v1h1v-1h1v-2h1v-8h-1v-2h-1v-4zM290 355v2h2v-2zM433 354v1h-1v3h1v2h1v3h3v-3h1v-1h2v-1h6v-1h1v-1h-5v-1h-3v-1zM284 353v1h-2v2h-1v1h1v2h2v1h1v-1h2v-1h1v-3h-1v-1h-2v-1zM276 353v1h-1v1h-1v4h1v2h1v1h1v-1h1v-2h1v-2h1v-1h-1v-2h-2v-1zM246 353v1h-2v1h-2v-1h-4v1h-1v4h1v2h1v4h-1v4h-1v5h1v3h-1v4h1v1h3v-1h1v-5h-1v-2h1v-6h-1v-5h-1v-2h1v-1h1v-1h1v1h1v6h1v1h3v-2h1v-3h-1v-2h1v-5h-1v-1h-1v-1zM187 350v3h1v-3zM435 349v1h1v-1zM337 349v1h1v-1zM475 345v1h-1v1h-2v2h-1v1h1v1h1v1h6v-1h2v-1h1v-1h-1v-1h-1v-1h-2v-1h-2v-1zM402 345v1h-1v1h-1v2h-1v8h1v2h1v1h1v1h1v-1h1v-1h1v-12h-1v-1h-1v-1zM353 341v4h-1v1h-1v2h-1v4h1v2h1v2h1v1h1v-1h1v-2h1v-3h1v-3h-1v-2h-1v-1h-1v-4zM171 341v17h4v-17zM161 341v2h-1v8h1v20h-1v4h1v19h-1v14h1v8h-4v14h1v-7h1v-3h1v-1h1v9h-1v14h1v10h-1v5h1v18h-1v5h1v3h1v1h1v1h2v-3h-2v-22h1v-9h-1v-20h1v-15h-1v-4h1v-8h-1v-62h-1v-1zM144 339v3h1v-3zM124 339v3h1v-3zM239 338v1h-1v1h-1v3h1v1h1v1h1v-1h1v-1h1v-3h-1v-1h-1v-1zM337 335v1h-1v2h-1v6h1v1h1v1h1v-1h1v-1h1v-6h-1v-3zM411 334v1h-1v2h-1v3h-1v3h1v2h1v1h1v5h1v-5h1v-1h1v-1h3v1h1v1h2v-11h-1v-1h-1v2h-1v2h-3v-2h-1v-2zM369 334v1h1v-1zM434 330v1h-1v2h-1v1h-2v1h-3v1h-1v1h3v1h2v1h8v-1h3v-1h5v-1h-1v-1h-5v-1h-2v-1h-1v-2h-1v-1zM269 330v1h-1v1h-1v2h-1v9h1v2h1v1h1v1h1v-1h1v-1h1v-1h6v-1h1v-4h-1v-3h-1v-2h-2v1h-1v1h-1v-2h-1v-2h-1v-1h-1v-1zM411 325v1h1v-1zM314 325v2h1v-2zM291 325v2h1v-2zM269 325v2h1v-2zM417 324v2h-1v2h1v2h1v1h1v-7zM283 324v5h3v-1h1v-3h-1v-1zM465 323v1h2v-1zM261 323v1h-2v1h-2v-1h-4v1h-1v19h2v1h2v-1h4v1h1v1h1v-1h1v-1h1v-3h1v-8h-1v-8h-1v-1h-1v-1zM246 323v1h-2v2h-1v1h1v2h2v1h1v-1h2v-5h-2v-1zM425 320v1h-2v1h-1v2h1v1h1v1h4v-1h3v-1h1v-1h-1v-1h-2v-1h-2v-1zM369 319v2h-1v2h-1v6h1v1h1v1h1v-1h1v-1h1v-1h2v1h1v1h1v2h1v1h1v-2h1v-1h1v-2h1v-3h-1v-1h-1v-1h-3v1h-1v1h-3v-2h-1v-2h-1v-2zM269 319v2h1v-2zM239 319v1h1v-1zM464 317v1h3v-1zM455 317v1h1v-1zM402 310v2h1v-2zM253 309v1h-1v3h1v1h3v-1h1v-3h-1v-1zM465 306v1h-1v1h-2v1h-3v1h-4v1h4v1h3v1h6v-1h1v-3h-1v-1h-1v-1h-1v-1zM436 305v8h1v-1h4v-1h6v-1h-1v-1h-6v-1h-2v-1h-1v-2zM314 304v1h-1v2h-1v8h1v1h1v4h1v-4h1v-1h1v-9h-1v-2zM402 303v3h1v-3zM410 302v1h-1v4h1v4h1v1h1v-1h1v-3h1v-5h-1v-1zM160 295v3h1v-3zM140 295v3h2v-3zM336 294v1h-1v3h1v1h3v-1h1v-3h-1v-1zM495 291v1h2v-1zM487 291v1h-1v1h-1v1h-1v1h-1v1h-1v2h1v1h1v1h6v-1h5v-1h3v-1h-1v-1h-4v-1h-2v-1h-2v-2h-1v-1zM442 289v1h-3v1h-2v1h2v1h2v1h2v1h1v1h1v1h2v-2h1v-1h1v-1h1v-2h-1v-1h-1v-1zM377 289v1h-1v3h-1v6h1v2h3v-2h1v-1h1v-4h-1v-3h-1v-2zM238 287v1h-1v3h1v1h3v-1h3v5h1v3h1v1h1v-1h1v-6h1v-4h-1v-2h-3v1h-2v1h-1v-1h-1v-1zM345 285v1h-1v2h-1v2h1v2h3v-1h1v-3h-1v-2h-1v-1zM495 284v1h2v-1zM124 284v7h-1v3h-1v1h-1v3h4v-7h1v-3h1v-1h1v-3zM463 281v1h-2v1h-4v1h-1v1h4v1h3v1h4v-1h2v-3h-1v-1h-1v-1zM417 281v6h2v-1h2v-1h3v-1h-3v-1h-1v-1h-2v-1zM408 280v1h1v2h1v1h3v-1h1v-1h1v-2zM464 279v1h1v-1zM321 279v1h-1v1h1v1h1v-3zM484 276v1h-1v1h-1v2h1v1h1v1h1v1h1v1h1v1h1v-1h1v-2h2v-1h2v-1h4v-1h1v-1h-3v-1h-4v-1zM188 275v7h-1v11h1v4h-1v16h1v14h1v-36h-1v-3h1v-13zM328 274v3h-1v2h-1v5h1v5h-1v1h1v4h1v3h3v-2h1v-4h1v-3h-1v-4h1v-5h-1v-2h-1v-3zM413 269v2h3v-1h1v-1zM353 267v3h-1v2h-1v4h1v1h1v1h1v-1h2v-2h1v-2h-1v-2h-1v-1h-1v-3zM433 264v4h1v-4zM384 263v1h-1v1h-1v3h1v2h1v1h1v3h-1v4h-1v9h-1v3h-1v1h1v2h1v2h1v2h2v-1h1v-1h1v-3h1v-5h-1v-5h1v-1h-1v-3h-1v-4h-1v-3h1v-1h1v-2h1v-3h-1v-1h-1v-1zM344 263v1h-1v4h1v1h1v1h1v-1h2v-2h1v-1h-1v-2h-1v-1zM299 258v10h1v-1h1v-9zM401 257v1h-1v3h1v8h2v-6h1v-6zM393 257v2h-1v5h-1v5h1v3h-1v10h1v6h-1v9h1v2h1v2h1v4h-1v3h-1v2h-1v2h1v3h1v1h1v1h1v-1h1v-1h1v-2h1v-4h-1v-3h-1v-2h-1v-3h1v-1h1v-1h1v-1h1v1h1v1h1v1h1v1h1v-1h1v-2h1v-12h-1v-2h-1v-3h1v-2h-3v-10h-1v1h-2v-4h1v-1h-1v-4h-1v-4h-1v-1zM398 279h2v2h1v2h1v2h-1v1h-1v1h-2v-1h-1v-3h1zM306 257v1h-1v1h-1v2h1v9h-1v2h-1v1h-1v1h-1v-1h-2v2h3v1h1v5h1v3h1v1h3v-1h1v-1h1v-1h1v1h1v1h2v1h1v-1h2v-1h1v-3h-1v-1h-1v-1h-3v1h-1v1h-2v-6h-1v-3h-1v-2h-1v-2h1v-2h-1v-1h1v-3h1v-3h-1v-1zM494 255v1h-2v4h2v1h6v-1h3v-1h5v-2h-1v-1h-8v-1zM313 255v1h-1v1h-1v1h-1v3h1v1h1v3h1v1h1v1h2v-2h1v-3h1v-5h-1v-2zM505 251v3h1v1h2v-1h1v-1h1v-1h-1v-1zM101 251v3h1v-3zM176 247v13h3v-12h-1v-1zM291 244v1h1v-1zM573 242v1h1v1h6v-1h-1v-1zM539 242v1h-1v1h-1v3h2v1h3v-1h2v-3h-1v-1h-1v-1zM540 240v1h1v-1zM183 229v3h2v-3zM369 220v1h1v-1zM361 219v2h-1v1h1v1h1v-1h1v-1h-1v-2zM314 219v2h-1v5h-1v1h-1v1h-1v-1h-1v-1h-1v-4h-2v1h-1v4h-4v6h-1v1h-1v13h4v1h7v-1h1v1h2v1h4v1h1v3h1v1h1v1h3v-1h1v1h1v1h1v6h1v3h1v2h3v-3h1v-2h1v-6h1v-1h1v-1h1v1h3v-1h3v1h2v1h3v-1h2v-1h3v1h3v-1h4v3h1v6h1v4h1v-2h1v-3h1v-1h1v1h1v1h1v2h1v1h1v1h1v-1h1v-1h1v-2h1v-1h1v-1h1v1h1v4h1v1h2v-8h1v-4h1v-1h3v1h2v-1h2v-2h1v-9h-1v-2h-1v-3h7v1h1v-1h5v1h1v1h-1v3h-1v3h1v1h1v1h6v5h1v4h1v2h1v1h1v1h1v-1h1v-1h1v-3h1v-4h1v-3h3v-1h1v1h10v1h1v2h-1v2h-1v1h-6v1h-2v2h13v4h4v-1h2v1h2v2h-1v3h1v1h1v1h1v1h1v1h2v-1h1v-1h1v-2h1v-3h-1v-2h1v-1h10v-1h7v-1h2v-2h2v-1h8v-1h11v-1h1v-5h4v-1h6v-1h7v-1h1v-2h-1v-1h-2v-1h1v-1h1v-2h4v-1h2v1h6v1h3v1h2v1h2v2h1v2h5v-3h-2v-1h-3v-1h-1v-1h1v-1h5v-1h3v-2h4v1h1v1h3v1h6v-1h3v1h4v-1h4v-1h3v-1h1v1h1v1h3v1h6v-1h3v-1h10v1h3v1h6v-1h3v-15h-9v1h-17v-1h-5v1h-19v-1h-6v1h-18v-1h-12v1h-112v1h-5v-1h-7v1h-20v7h-1v6h2v1h5v1h-1v2h-4v-1h-3v-1h-2v-1h-1v-2h1v-4h-1v-1h1v-3h-1v-1h-2v1h-1v1h-2v-2h-1v-1h-2v-1h-2v-6h-1v-1h-1v1h-1v5h-1v1h-3v-1h-1v-5h-1v-1h-1v1h-1v5h-1v2h-3v-2h-1v-3h-1v-1h-1v1h-1v3h-1v2h-3v-1h-1v-4h-1v-1h-1v1h-1v4h-1v1h-3v-1h-1v-4h-1v-1h-2v3h-1v1h-2v-2h-1v-3h-1v-1zM502 241h2v1h1v1h-3zM451 239h42v2h-1v1h-1v1h-37v-1h-2v-1h-1zM414 239h4v3h-2v-1h-1v-1h-1zM404 239h5v1h-1v2h-3v-2h-1zM381 238h2v3h-1v1h-1v-1h-1v-2h1zM341 236h2v1h15v3h-6v1h-5v-1h-4v1h-1v-1h-1zM187 218v3h1v-3zM377 215v1h1v-1zM361 215v1h1v-1zM239 211v1h-1v1h-1v4h2v1h1v-1h1v-1h1v-3h-1v-1h-1v-1zM284 209v1h-1v2h-1v4h1v1h4v-2h1v-1h-1v-2h-1v-2h-1v-1zM208 207v3h2v-3zM284 206v1h1v-1zM284 200v1h1v-1zM204 198v3h2v-3zM400 196v3h-1v2h1v3h1v2h1v1h1v-1h1v-2h1v-1h-4v-7zM402 191v1h1v-1zM321 190v2h1v-2zM200 189v3h2v-3zM369 188v1h-2v5h1v2h1v1h1v-1h1v-2h1v-5h-2v-1zM204 180v3h2v-3zM224 171v7h-1v1h-1v1h-10v3h10v1h1v1h1v11h-1v1h-1v1h-2v7h-1v1h-1v1h-2v3h6v1h1v1h1v7h2v-43h1v-1h1v-1h2v-3zM187 170v1h-1v9h1v1h1v-1h1v-9h-1v-1zM114 163v3h1v-3zM299 158v7h2v-1h1v-5h-1v-1zM192 149v13h1v-6h1v-3h-1v-4zM180 148v1h-1v13h1v4h1v-4h1v-13h-1v-1zM183 141v22h1v1h1v-1h1v1h1v-23zM196 140v1h-1v2h-1v6h1v1h1v3h1v-13zM212 135v7h-1v1h-1v1h-2v7h-1v1h-1v1h-6v-12h-1v7h-1v6h-1v4h1v-1h1v-2h1v5h-1v1h-1v1h-2v7h-1v-6h-1v17h1v-2h1v4h-1v2h-1v4h-1v5h-1v9h1v-9h1v11h1v-10h1v8h1v2h1v1h1v3h-1v-1h-4v-1h-1v5h1v23h1v1h1v4h-2v2h-1v-5h-1v11h-10v9h1v11h1v2h1v-1h2v-9h2v-1h2v1h2v-2h1v1h1v1h1v1h-2v1h-1v1h1v31h3v1h1v-1h1v2h-3v1h-2v36h1v-1h1v1h1v-1h1v-8h1v9h1v-29h2v-1h1v-26h3v-1h1v-7h-1v-1h-2v1h-1v8h-3v-15h-1v2h-1v-3h1v-1h1v1h2v-1h2v-1h2v1h5v26h-3v1h-1v19h1v6h-1v10h3v1h1v7h1v1h3v9h-8v-10h-1v-1h-1v2h-1v-1h-1v-7h-2v4h1v6h-1v1h-3v1h-1v-1h-1v1h-1v-1h-1v31h2v1h1v1h-3v23h5v1h1v-9h1v1h2v1h1v1h3v10h1v7h-1v2h-1v1h-1v1h-1v-1h-1v-10h-1v-1h-2v-2h-1v1h-2v-1h-1v1h-2v13h-1v3h1v16h2v2h-2v24h-1v3h1v6h3v-1h2v3h-2v1h-1v-1h-1v1h-1v5h1v1h-1v3h1v11h1v5h-2v23h6v-24h-1v-1h-1v-2h5v10h1v5h1v1h2v1h1v1h7v1h1v8h19v-5h-1v-3h-1v-2h-1v-8h1v-3h1v-2h1v-1h1v6h1v12h-1v6h6v-8h1v-1h2v1h3v-2h1v-3h-1v-2h1v-3h1v-2h-1v-8h-1v-1h-3v1h-2v-1h-1v-7h-1v-5h-1v-1h-1v3h-1v4h-1v8h-1v1h-1v-1h-1v-1h-1v-1h-1v-15h-1v8h-4v-10h-1v-7h3v2h1v2h1v1h1v-1h1v-2h1v-2h1v-4h-1v-8h-1v-1h-1v-13h-1v-1h-1v-1h-3v-1h-1v-8h1v-8h1v-1h3v-9h-9v-9h6v-1h1v1h2v2h1v-11h-5v-1h-1v-5h-2v5h-1v2h-1v1h-1v1h-5v4h-1v3h-1v1h-1v1h-1v-1h-1v-10h1v-1h3v-9h3v-1h1v-8h4v1h3v-1h1v9h5v-9h-1v-2h-1v-5h3v-1h1v-11h-2v-10h1v-1h1v-4h-1v-2h-1v-5h-1v4h-1v2h-1v1h-2v-1h-1v-1h1v-1h1v-1h1v-1h1v-5h1v-2h1v-8h1v-3h1v-1h1v-1h1v3h1v4h1v1h1v1h1v-1h1v-1h1v-6h1v-2h1v-1h3v-3h-2v1h-2v-1h-1v-1h-2v-1h-1v1h-2v1h-1v1h-1v-1h-1v-1h-2v-6h-1v6h-2v1h-1v1h-1v-5h1v-4h1v-1h1v1h3v-1h1v-1h1v-2h1v-2h-1v-1h-1v-1h-1v-1h-1v-6h1v-1h1v-1h1v-1h1v-1h1v1h1v1h4v-1h2v1h5v-1h1v3h1v5h1v1h1v1h3v-1h4v1h2v-1h2v-2h1v-4h-1v-1h-1v-1h-4v-2h-1v-5h1v-1h4v-1h1v-3h-1v-1h-4v-1h-1v-3h2v-1h8v1h-1v4h-1v2h-1v2h1v9h1v1h1v1h4v2h1v3h1v1h1v1h3v-1h3v7h-1v1h-2v-1h-4v-1h-1v-4h-1v-1h-1v-1h-3v1h-1v2h-1v5h-3v-1h-3v1h-1v2h-1v3h1v1h1v1h4v-1h1v-1h1v1h2v1h6v1h1v5h1v4h-1v2h1v3h-1v2h-1v1h-1v2h1v2h4v-1h1v-4h-1v-2h-1v-3h1v-1h-1v-4h1v-6h1v-1h1v-1h2v2h1v5h-1v4h-1v2h1v2h1v1h3v-1h1v-1h1v-4h-1v-2h-1v-7h1v-1h1v-1h4v-1h1v-9h-1v-5h1v-11h-1v-4h1v-9h-1v-1h-4v-1h-1v-1h1v-11h1v-1h-1v-4h1v-10h-1v-3h-1v-2h-4v-1h-6v1h-2v2h-3v-1h-1v-1h-4v-1h-1v1h-4v-1h-4v1h-3v1h-1v1h-1v1h-2v-2h-1v-1h-7v1h-1v-1h-1v-1h-1v-1h-2v2h-1v1h-3v-1h-1v-1h-1v-2h-2v1h-1v1h-1v2h-1v1h-2v-1h-3v-1h-2v4h-1v1h-2v-6h-1v-1h-3v1h-3v1h-1v1h-1v1h-2v-11h-2v9h-1v-1h-1v1h-1v2h-1v-14h3v-9h-3v-10h-1v-7h1v-3h-1v-2h-1v-4h1v2h1v-6h2v-7h1v-1h1v-1h2v-7h1v-1h1v-1h2v1h1v1h1v7h2v-30zM243 496h1v1h-1zM224 481h3v1h1v1h1v6h1v3h-10v-1h-1v-8h4v-1h1zM200 466h1v6h-1zM223 464h1v3h-2v7h-3v-8h1v-1h3zM204 463h2v1h1v9h1v1h2v-1h1v-7h1v-1h2v1h1v7h1v1h3v9h-4v1h-1v1h-1v1h-4v-1h-1v-1h-1v-1h-4v-10h-1v-7h1v-2h1zM203 447h4v10h-1v1h-2v-1h-1zM198 427h1v13h-1zM212 399h1v1h1v1h1v3h1v6h1v11h-2v-1h-4v9h4v7h1v1h3v-8h-1v-10h1v-1h1v-1h1v1h1v1h1v2h1v7h-1v2h-1v8h-2v1h-1v8h-3v1h-1v7h-1v1h-2v-1h-1v-17h-1v-6h-2v5h-1v1h-7v-12h-1v-2h1v-7h2v-7h1v-1h1v-1h1v1h1v1h1v2h1v5h2v-5h1v-12h1zM200 336h1v1h1v1h1v1h4v8h1v1h7v10h1v7h-1v2h-1v1h-1v1h-1v4h-1v2h-4v-1h-1v-5h-6v-3h-1v-1h-2v-1h1v-2h1v1h1zM216 319h2v1h1v9h1v1h4v1h-1v2h-1v3h1v1h4v-1h2v1h1v1h1v8h-1v1h-1v2h-1v3h1v6h-2v-9h-1v-1h-11v-9h3v-1h1v-8h-4v-10h1zM211 285h6v1h1v8h4v7h1v3h1v1h2v-1h1v1h1v6h-1v2h-1v1h-2v-1h-1v-1h-4v1h-1v1h-2v-1h-1v-3h-1v-9h1v-5h-1v-1h-2v-2h-1zM195 274h1v4h-1zM242 269h2v3h-2zM236 269h1v4h-1v-2h-1v-1h1zM249 268h1v1h1v2h-1v1h-1zM244 259h1v1h1v1h1v1h2v-1h1v-1h1v5h-1v1h-1v-1h-1v-1h-3v1h-2v-3h-1v-1h1v-1h1zM219 259h3v4h1v1h4v1h1v3h-1v7h-1v1h-6v-1h-1zM271 258h3v1h1v1h2v-1h1v-1h3v6h-1v1h-2v-1h-5v-1h-1v-3h-1zM198 236h1v1h-1zM197 223h1v3h-1zM224 128v5h-1v1h-1v1h-2v12h2v1h1v1h1v7h6v-3h-2v-1h-1v-1h-1v-23zM200 126v7h-1v1h-1v1h-2v3h10v-3h-2v-1h-1v-1h-1v-7zM385 124v1h-1v3h-1v6h1v1h1v1h1v-1h1v-1h1v-6h-1v-3h-1v-1zM193 124v7h1v-7zM230 121v1h-1v5h1v1h3v-1h1v-5h-1v-1zM196 120v3h1v-3zM216 117v3h6v-3zM329 106v1h-2v5h2v1h1v-1h2v-5h-2v-1zM299 106v7h2v-1h1v-5h-1v-1zM170 103v15h2v11h1v4h2v2h1v2h2v-1h1v-10h2v-1h1v3h1v1h4v-1h1v-22h-1v-2h-2v-1h-1v1h-1v1h-1v10h-2v1h-1v10h-2v-1h-1v-9h-1v-12h-1v-1zM117 91v1h-1v2h4v-2h-1v-1zM300 75v8h2v5h5v-1h2v-4h4v6h8v-6h2v7h4v1h4v-8h2v7h5v-1h3v1h2v-7h2v6h5v-1h3v-5h2v5h2v1h3v-1h3v1h1v-6h3v7h1v-1h5v1h2v1h2v-8h4v8h1v1h4v-1h1v-1h1v-7h4v6h4v1h5v-7h4v9h2v-1h7v-8h3v7h8v-7h3v7h7v-2h16v-1h1v-1h1v-1h4v-1h3v-1h1v-3h2v3h1v2h-2v2h1v1h3v1h5v-1h1v1h5v-1h1v-1h1v-2h1v-2h1v-2h3v1h-1v2h-1v2h1v2h18v-1h4v1h16v1h1v1h4v-3h1v-1h1v-1h1v-1h1v1h2v2h-1v1h8v-2h1v1h2v1h11v-1h1v-1h7v1h2v-1h3v1h2v1h8v-1h2v-1h1v-1h3v1h1v1h4v-1h1v1h1v1h10v-1h1v-12h-32v1h-3v-1h-37v2h-1v-1h-2v-1h-8v1h-3v-1h-29v4h-1v1h-1v-1h-1v-3h2v-1h-6v1h-2v-1zM534 82h3v1h1v2h1v1h-1v1h-4v-1h-1v-3h1zM506 82h5v3h-5v-1h-1v-1h1zM557 78h3v2h-3zM586 77h1v1h-1zM125 75v12h-1v2h3v1h1v2h1v1h2v-2h2v-1h2v-1h2v1h3v5h2v1h4v-5h3v4h1v-1h2v-4h1v1h5v3h1v1h5v-3h1v-1h1v1h1v-1h11v-1h2v1h5v5h3v-5h10v-1h2v6h3v-5h3v1h3v2h1v-1h1v-1h1v-1h2v1h1v-1h2v-1h4v6h3v1h1v-1h1v-1h1v-3h1v1h2v-3h2v1h1v-1h2v1h1v2h3v-2h3v-1h4v1h2v2h2v-1h1v-2h2v1h1v-1h3v1h1v-1h2v1h3v3h3v-3h3v5h3v-5h1v-1h3v1h2v4h3v-4h4v-1h2v2h1v1h4v-1h1v-2h1v1h1v-16zM80 75v435h6v-20h1v1h1v5h1v2h1v5h1v7h19v-25h2v1h1v3h1v21h1v-10h1v-3h1v-1h2v1h1v3h1v10h1v-10h1v10h1v-14h1v2h1v5h1v7h5v-10h1v-3h1v-1h4v-14h-1v7h-1v3h-1v1h-5v-2h-1v-2h-3v2h-1v2h-1v-30h1v-3h1v-3h1v-1h1v-1h1v-10h-5v-37h1v-3h1v-5h1v-3h6v35h1v2h3v-2h1v-2h4v-3h-3v-1h-1v-103h1v-5h1v-3h-1v-2h3v1h4v1h1v11h1v5h-1v33h1v8h-1v8h1v25h-4v3h4v25h-1v6h1v11h1v10h1v4h-1v13h2v-13h1v-26h-1v-6h1v-20h-1v-6h1v-15h-1v-12h1v-3h-1v-12h1v-7h-1v-8h1v-32h2v1h5v1h9v-1h3v7h4v-66h-1v-1h-1v1h-2v50h-20v-10h1v-9h-1v-7h-1v-1h1v-35h2v10h1v1h1v-1h1v-9h-1v-1h-2v-10h-1v-1h-1v-11h2v-2h1v-2h1v1h1v13h1v1h1v-1h1v30h1v3h3v-4h1v-17h2v-11h3v14h-1v1h-1v3h4v-3h1v-5h1v-3h2v-3h-2v-3h-1v-1h-3v-10h-1v-1h-1v1h-1v10h-2v-26h1v-3h-1v-8h1v-1h1v-1h3v14h1v4h1v-1h4v-4h1v-3h1v3h4v19h1v-1h3v-12h1v-5h-1v-30h-1v1h-2v1h-1v9h-1v-1h-1v-9h-1v-1h-1v1h-1v7h-1v-28h1v-12h-1v-12h-5v2h-1v5h1v5h-1v9h1v30h-6v-7h1v-1h1v-9h-1v-1h-1v-54h-1v-3h-3v3h-1v-3h-2v1h-1v1h-2v15h-1v8h1v39h-1v11h-2v-66h1v-3h-1v-4h-1v-2h-4v13h-2v-5h-4v19h-1v-3h-1v-27h-1v-2h-1v-4h-2v1h-1v28h-1v-3h-2v4h-1v5h-1v2h-1v3h1v3h1v26h-1v1h-1v3h5v1h1v10h-6v1h-2v-7h1v-57h1v-3h1v-14h-1v5h-1v1h-1v-11h-1v-1h-3v4h-1v19h-1v1h-2v-1h-1v-1h-1v-5h-4v-29h1v-1h4v1h3v-1h2v-13h1v-1h-35v4h-1v-4zM104 474h1v1h1v3h1v7h2v15h-3v2h-1v2h-4v-1h-1v-3h-1v-11h1v-3h1v-1h1v-3h1v-5h1zM88 463h1v1h1v3h1v11h-1v3h-1v1h-1v-3h-1v-5h-1v-7h1v-3h1zM110 445h1v11h-1zM86 431h1v17h-1zM104 430h1v1h1v3h1v7h2v19h-8v-1h-1v-3h-1v-25h1v3h1v7h1v-7h1v-3h1zM93 409h1v25h-1v3h-1v1h-1v-3h-1v-5h-1v-3h1v-5h1v-3h1v-7h1zM121 397h1v3h1v47h-1v2h-1v3h1v3h1v38h-2v-1h-1v-13h-1v-1h-2v-1h-1v-10h-2v-1h-2v-9h2v-1h2v-14h-1v-4h-4v-1h-1v-15h1v-3h1v-7h1v-3h1v-1h1v1h1v3h1v7h2v-18h1v-3h1zM104 397h1v1h1v17h-1v1h-1v-1h-1v-3h-1v-7h1v-5h1zM86 388h1v5h1v6h-1v1h-1zM111 375h1v1h1v3h1v7h1v1h1v3h1v11h-1v3h-1v1h-4v-2h-1v-16h1zM110 368h1v4h-1zM93 365h1v17h-1v-3h-1v-11h1zM86 365h1v3h1v8h-1v5h-1zM107 364h2v19h-5v-1h-1v-3h-1v-10h2v-1h2v-2h1zM114 357h1v1h2v10h-1v3h-1v1h-1v-1h-1v-3h-1v-10h2zM110 350h1v7h-1zM110 313h1v7h-1zM91 298h1v3h1v15h1v4h-1v5h-1v3h-1v3h1v2h1v2h1v22h-1v3h-1v1h-1v-1h-1v-3h-1v-18h-1v-1h-1v-1h-1v-17h5v-3h1v-4h-1v-3h1v-2h-1v-2h-2v-4h1v-3h1zM93 277h1v14h-1zM86 277h1v3h1v11h-1v3h-1zM132 266h1v3h-1zM140 258h6v20h-1v-5h-5v3h2v1h1v3h1v7h1v2h1v2h1v18h-5v-1h-4v-49h2zM132 249h1v5h-1zM119 236h1v8h-1zM107 236h1v11h-2v-10h1zM140 228h2v1h-2zM132 225h1v9h-1zM86 214h3v1h2v7h-1v15h-1v3h-1v3h1v2h1v2h2v1h1v9h-1v1h-2v2h-1v2h-1v7h-1v3h-1zM158 205h1v16h-1zM156 199h1v15h-1zM138 199h2v27h-1v-11h-1zM105 199h3v19h-1v4h-1v2h-1v1h-2v22h3v11h2v3h1v1h1v-1h1v-18h1v1h1v3h1v11h-1v3h-1v1h-1v25h1v1h1v3h1v7h1v-7h1v-3h1v-1h2v-3h-5v-1h-1v-3h-1v-11h1v-3h1v-1h1v-6h1v-1h4v-2h1v3h-1v13h1v3h1v1h3v-29h1v-30h-1v-6h1v3h1v7h1v1h1v3h1v11h-1v3h-1v1h-1v3h1v1h1v3h1v7h-1v12h1v10h2v1h1v33h-1v-15h-2v25h2v-8h1v68h-1v-1h-3v-11h-2v1h-1v9h1v1h2v14h-1v1h-1v-3h-1v-1h-2v-8h-1v9h-1v3h-1v-1h-1v-3h-1v-11h1v-3h1v-1h1v-3h-1v-1h-1v-3h-1v-18h-2v-2h-1v-2h-2v-1h-1v-20h1v-1h2v-2h1v-2h5v-3h-1v-1h-1v-3h-1v-7h-2v5h-1v1h-1v1h-1v-1h-1v-1h-1v-5h-2v-42h-1v42h-2v3h2v17h-1v8h1v27h-2v-2h-1v-2h-2v-1h-2v-10h1v-3h1v-1h1v-3h-1v-1h-1v-3h-1v-18h-1v7h-1v3h-1v-40h3v-7h1v-3h1v-1h1v-14h-1v7h-1v3h-1v1h-1v7h-1v3h-1v-68h1v1h1v5h1v-7h1v-3h1v-1h1zM93 199h1v25h-1v-3h-1v-21h1zM151 198h2v1h1v17h-1v-2h-1v-1h-1zM144 198h2v49h-7v2h-1v-13h1v-2h1v-2h2v-3h1v-1h1v-7h1v-14h-1zM112 198h4v8h1v4h2v-4h1v7h1v7h-1v9h-3v7h-1v3h-1v1h-1v-1h-1v-3h-1v-7h-1v-30h1zM132 196h1v18h-1v-7h-5v-1h-1v-3h-1v-1h1v-5h3v1h2v-1h1zM86 178h1v3h1v6h-2zM138 177h2v10h-2zM158 162h1v16h-1zM156 162h1v8h-1zM138 158h1v5h1v7h-1v3h-1zM88 155h1v3h1v5h1v7h-1v3h-1v1h-1v-1h-1v-3h-1v-11h1v-3h1zM117 137h4v17h-1v-5h-1v-1h-3v-10h1zM111 137h1v1h1v10h3v11h3v-1h1v20h-1v-4h-2v3h-1v5h-1v3h-1v-2h-1v-2h-2v-26h1v-3h-1zM99 137h1v12h-1zM145 136h1v52h-2v-11h1v-14h-1v-26h1zM158 130h1v7h-1zM156 130h1v7h-1zM91 126h3v23h-1v-5h-1v-3h-1v-2h-1v-5h-1v-7h2zM99 114h1v1h2v1h1v1h1v16h4v15h-1v1h-1v13h1v5h-1v5h-1v2h-1v3h1v2h1v2h2v7h-1v-1h-5v-2h-1v-1h-1v-3h-1v-9h1v-1h1v-1h2v-33h-3v-11h-1zM100 90h1v1h-1zM104 89h2v2h2v28h-1v-1h-1v-3h-1v-7h-1v-2h-1v-3h-3v2h-1v-10h3v-1h1v-3h1zM99 89h1v1h-1zM91 88h1v1h1v1h1v25h-4v2h-1v2h-1v-1h-1v-3h-1v-11h1v-3h1v-1h1v-10h1v-1h1zM113 80h1v7h-1zM91 80h1v6h-1z"/>
<path fill="#0052ff" fill-rule="evenodd" d="M268 505v2h-1v2h1v1h3v-5zM441 504v1h-1v1h1v1h7v-1h1v-1h-1v-1zM429 504v3h1v-1h1v-1h-1v-1zM345 504v1h-1v2h-1v1h1v2h4v-4h-1v-1h-1v-1zM260 504v1h-1v5h5v-5h-1v-1zM475 503v1h-2v2h1v1h4v-1h1v-2h-2v-1zM394 501v1h-1v2h-1v6h13v-6h-1v-2h-1v-1h-1v1h-1v1h-1v1h-1v1h-1v-1h-1v-1h-1v-1h-1v-1zM337 497v1h-1v3h3v-3h-1v-1zM306 497v1h-1v5h1v1h1v-1h1v-5h-1v-1zM253 490v4h3v-4zM177 489v1h-1v9h1v1h1v-1h1v-9h-1v-1zM126 489v4h-1v3h1v6h1v1h2v-4h1v-6h-1v-4zM393 487v3h-1v3h1v1h1v1h2v-1h1v-5h-1v-2zM284 487v1h-1v2h-1v2h1v1h1v1h1v-1h1v-5h-1v-1zM276 487v1h-1v6h1v1h1v-1h1v-1h1v-3h-1v-2h-1v-1zM419 485v3h1v-1h1v-1h-1v-1zM198 485v1h-2v2h-1v6h-1v16h6v-24h-1v-1zM197 498h1v3h-1zM453 484v1h-2v3h2v1h4v-1h1v-3h-1v-1zM203 483v9h1v2h2v4h1v2h7v1h1v1h1v1h2v7h6v-7h1v-1h1v1h4v1h-1v6h5v-6h-1v-2h-1v-1h-1v-3h1v-4h-1v-1h-8v-1h-4v-8h-4v2h-1v4h-6v-5h-1v-1h-1v-1zM230 501h1v1h-1zM417 478v1h1v1h1v-2zM496 477v1h-4v1h-1v1h1v1h2v1h4v-1h2v-2h-1v-1h-2v-1zM305 475v3h3v-3zM253 474v2h-1v1h1v2h3v-2h1v-1h-1v-2zM239 472v2h-1v8h-1v12h1v5h-1v11h5v-13h-1v-2h1v-1h1v-1h1v2h1v3h-1v2h1v1h3v-8h1v-10h-1v-1h-4v1h-2v-2h-1v-8h-1v-1zM463 471v1h-2v1h-2v2h1v1h-6v1h-2v1h-2v1h-1v1h1v1h2v1h2v1h3v-1h3v-1h8v-1h1v-2h-1v-2h1v-1h1v-1h1v-1h-1v-1h-2v-1zM385 471v1h-1v1h-1v6h1v1h1v1h1v-1h1v-1h1v-6h-1v-1h-1v-1zM283 467v1h-1v3h1v1h3v-2h1v-1h-1v-2zM187 467v1h-1v9h1v1h1v-1h1v-9h-1v-1zM167 467v1h-1v10h3v-3h1v-5h-1v-3zM130 467v1h-1v9h1v1h3v-4h1v-5h-1v-2zM113 467v2h-1v8h1v4h2v8h1v3h4v-13h-1v-1h-2v-1h-1v-10zM150 464v1h-1v12h2v-13zM495 463v1h-3v1h-1v1h-1v1h2v1h3v1h3v-1h3v-1h1v-1h-1v-1h-1v-1h-3v-1zM225 463v1h-1v3h-1v1h-1v6h-2v1h-1v7h1v1h2v-1h1v-1h1v-2h2v1h1v2h3v1h-1v4h1v2h1v1h1v-1h1v-1h1v-5h-1v-1h-2v-1h1v-15h-1v9h-4v-10h-1v-2zM275 459v1h-1v7h-2v-1h-1v-1h-2v1h-1v2h-1v3h1v1h4v-1h3v1h3v-1h1v-4h-1v-3h1v-4h-1v-1zM245 459v1h-1v3h1v1h1v1h1v-1h1v-4h-1v-1zM417 456v1h4v-1zM409 456v2h1v1h1v1h1v-1h1v-1h1v-1h1v-1zM385 456v1h-1v2h-1v5h1v1h3v-2h1v-4h-1v-2h-1v-1zM321 456v1h-1v2h-1v4h1v1h3v-1h1v-4h-1v-2h-1v-1zM434 451v1h-3v1h-1v1h1v1h3v1h2v-1h2v-1h1v-1h-1v-1h-2v-1zM305 451v1h-1v2h-1v1h1v3h1v1h1v1h1v-1h1v-2h1v-4h-1v-2zM238 445v7h-1v9h1v3h3v-1h1v-10h-1v-8zM144 445v1h-1v9h1v1h1v-1h1v-9h-1v-1zM435 442v2h-1v1h5v-1h-1v-2zM113 442v4h-1v8h1v2h3v-13h-1v-1zM254 441v1h-1v3h-1v2h1v2h3v-1h1v-5h-1v-2zM345 437v1h-1v3h3v-3h-1v-1zM402 435v1h-1v1h-1v1h-1v3h1v2h1v2h2v-1h1v-1h1v-6h-1v-1h-1v-1zM261 435v1h-1v1h-1v2h-1v2h1v3h1v1h2v-1h1v-1h1v-6h-1v-1h-1v-1zM192 435v9h1v-9zM424 432v1h-1v1h5v-1h-1v-1zM88 430v1h-1v17h1v1h2v-3h1v-10h-1v-4h-1v-2zM245 429v1h-1v3h1v1h3v-1h1v-3h-1v-1zM254 427v1h-1v3h-1v1h1v2h1v1h1v-1h1v-1h1v-3h-1v-2h-1v-1zM385 426v1h-1v1h-1v6h4v-1h1v-5h-1v-1h-1v-1zM197 425v1h-2v1h-1v19h1v4h-1v8h3v-5h-1v-15h1v14h1v6h1v3h-2v1h-1v-1h-1v2h-1v1h1v18h1v-16h1v16h1v1h4v-1h1v-8h-1v-2h-1v1h-1v-8h1v1h1v-1h1v-4h1v-1h-1v-13h1v-1h2v1h1v12h-1v3h1v11h1v1h2v-1h1v-8h4v7h1v1h3v-8h3v-1h1v-1h1v-5h1v-1h1v-1h3v2h1v1h1v1h1v-1h1v-2h1v-6h-1v-3h1v-2h-1v-1h-1v-12h-1v-3h-4v-1h-1v-1h-2v1h-1v1h-1v8h-1v1h-1v1h-1v7h-3v1h-1v8h-4v-17h-1v-2h-2v1h-2v1h-6v-11h-1v14h-1v-17zM198 469h1v4h-1zM221 448h1v6h-2v-5h1zM226 437h1v1h-1zM123 424v24h-1v5h1v57h1v-51h1v-1h1v-1h1v-1h1v-1h1v-10h-5v-21zM417 423v6h1v-1h1v-2h-1v-2h1v-1zM275 421v2h-1v14h-1v1h-1v-1h-1v-1h-3v2h-1v8h1v3h2v-1h1v-3h1v-3h1v-1h2v1h3v-9h1v-10h-1v-2zM261 421v1h-1v1h-1v4h1v2h1v1h1v-2h1v-6h-1v-1zM212 420v1h-1v7h1v1h3v6h1v2h2v-2h1v-4h-1v-3h-2v-6h-1v-1h-1v-1zM352 414v2h-1v1h1v2h3v-1h1v-3h-1v-1zM494 412v1h-1v1h-1v1h1v1h6v-1h1v-2h-2v-1zM360 412v2h-1v4h1v1h3v-1h1v-4h-1v-2zM254 411v1h-1v2h-1v4h1v2h1v1h1v-1h1v-1h1v-2h1v-1h-1v-3h-1v-2zM393 407v2h-1v2h1v2h1v1h1v-1h1v-2h1v-3h-1v-1zM283 407v1h-1v3h1v1h3v-1h1v-3h-1v-1zM443 406v1h-2v1h-1v1h1v1h3v1h3v-1h3v-1h1v-1h-1v-1h-2v-1zM261 406v1h-1v1h-1v4h1v2h1v1h1v-2h1v-6h-1v-1zM227 402v1h-4v1h-1v13h1v3h1v1h2v-2h1v-8h3v-1h1v-7h-1v-1zM187 402v9h1v-9zM208 400v1h-1v3h-1v5h1v3h1v1h2v-2h1v-10h-1v-1zM416 399v2h2v-1h-1v-1zM385 396v1h-1v2h-1v4h1v2h3v-2h1v-4h-1v-2h-1v-1zM239 396v1h-1v3h-1v3h1v2h3v-1h1v-5h-1v-2h-1v-1zM402 392v1h-1v1h-1v2h1v2h1v1h1v-1h1v-2h1v-2h-1v-1h-1v-1zM320 391v2h-1v4h1v2h1v1h1v-1h1v-3h1v-3h-1v-1h-1v-1zM216 391v1h-1v3h-1v5h1v3h1v1h3v-2h1v-9h-1v-2zM199 391v1h-4v1h-1v30h1v1h2v-2h1v2h1v-1h1v-19h2v-1h1v-9h-1v-1h-2v-2zM484 386v1h-1v2h1v1h1v1h3v-1h1v-1h1v-2h-1v-1zM224 383v1h-1v3h-1v4h1v1h8v2h1v-10h-1v1h-4v-1h-1v-1zM353 382v1h-1v2h-1v2h1v1h1v1h1v-1h1v-1h1v-2h-1v-2h-1v-1zM123 382v11h-1v6h1v18h1v-12h1v-1h1v-5h1v-6h-1v-3h-2v-8zM276 381v1h-1v1h-1v1h-1v1h-1v-1h-1v-1h-1v-1h-1v1h-1v5h1v1h1v-1h2v-1h1v1h1v2h1v3h-1v2h1v2h2v-1h1v-8h1v-4h-1v-2h-1v-1zM454 380v1h-2v5h-1v1h-1v1h-1v1h1v1h2v1h7v-1h2v-1h1v-2h-1v-1h-1v-2h1v-1h1v-1h-2v-1h-2v-1zM368 377v4h3v-4zM230 377v5h3v-2h1v-1h-1v-2zM337 376v1h-1v1h-1v2h1v1h1v1h1v-1h1v-4h-1v-1zM425 373v4h4v-1h1v-1h-1v-1h-1v-1zM283 369v2h-1v2h1v5h-1v2h1v2h3v-1h1v-4h-1v-2h1v-5h-1v-1zM239 367v1h-1v13h3v-13h-1v-1zM385 366v1h-1v2h-1v4h1v2h3v-2h1v-4h-1v-2h-1v-1zM197 365v1h-3v22h4v1h1v1h1v-24h-2v-1zM228 364v1h-1v9h1v1h4v-9h-1v-1h-1v-1zM305 363v1h-1v2h1v2h1v1h1v-1h1v-5zM261 361v1h-1v2h-1v5h-1v1h-2v-1h-2v1h-1v18h1v1h1v-1h1v-1h1v-9h-1v-4h1v-1h2v1h1v1h3v-2h1v-9h-1v-2h-1v-1zM345 360v1h-1v1h-1v6h1v1h1v1h1v-1h1v-2h1v-5h-1v-1h-1v-1zM103 357v2h-1v7h1v2h3v-4h1v-3h-1v-4zM433 355v3h1v1h4v-1h2v-2h-1v-1zM283 354v2h-1v1h1v2h3v-1h1v-3h-1v-1zM275 354v5h1v1h1v-1h1v-1h1v-2h-1v-2zM245 354v1h-1v1h-1v2h1v1h1v7h3v-12zM239 354v1h-1v1h-1v1h1v2h1v1h2v-1h1v-4h-1v-1zM217 348v1h-2v8h1v2h2v5h-1v1h-1v1h-1v3h-1v4h-2v1h-1v1h-1v1h-3v-1h-1v-1h-3v3h-1v3h1v3h3v1h1v9h1v2h2v-1h1v-10h3v-1h1v-9h3v-1h1v-8h4v1h1v1h1v-1h1v-3h-1v-1h-1v-3h2v-1h1v-8h-1v-1h-3v-1zM473 347v1h-1v3h2v1h3v-1h3v-3h-2v-1zM401 347v2h-1v9h1v1h3v-2h1v-8h-1v-2zM352 346v1h-1v5h1v2h1v1h1v-1h1v-2h1v-5h-1v-1zM173 341v1h-2v16h3v-1h1v-15h-1v-1zM161 341v2h-1v6h1v48h-1v8h1v26h-1v8h1v44h1v1h1v-56h1v-8h-1v-78h-1v-1zM238 339v5h3v-5zM231 339v8h-1v1h-1v8h1v2h1v1h1v-1h1v-1h1v-9h-1v-1h-1v-8zM207 339v8h1v1h6v-1h1v-7h-1v-1zM337 337v1h-1v2h-1v2h1v2h3v-6h-1v-1zM411 336v1h-1v2h-1v4h1v2h3v-1h1v-1h3v1h1v1h2v-9h-1v1h-1v1h-1v1h-1v1h-1v-1h-1v-1h-1v-1h-1v-1zM434 333v1h-2v1h-1v1h-1v1h1v1h2v1h5v-1h2v-1h1v-2h-2v-1h-2v-1zM199 333v1h-5v5h1v5h-1v20h4v-3h1v1h1v-29zM268 332v1h-1v11h1v1h3v-1h1v-1h3v1h2v-1h1v-5h-1v-1h-2v1h-1v1h-1v-1h-1v-5h-1v-1zM230 331v1h-1v2h-1v1h1v1h1v1h3v-2h1v-1h-1v-3zM224 331v1h-1v4h1v1h2v-1h1v-3h-1v-1h-1v-1zM216 330v1h-1v7h1v1h2v-1h1v-7h-1v-1zM205 329v1h-3v7h1v1h1v1h2v-1h1v-8h-1v-1zM417 325v3h1v1h1v-4zM283 325v3h3v-3zM376 324v1h-1v1h-1v1h1v2h1v1h3v-1h1v-4h-1v-1zM260 324v1h-1v1h-1v2h1v4h-2v-7h-4v7h-1v11h1v1h4v-1h1v-1h1v1h1v1h3v-2h1v-10h-1v-3h1v-3h-1v-2zM245 324v1h-1v3h1v1h3v-2h1v-1h-1v-2zM368 323v3h-1v1h1v2h3v-1h1v-3h-1v-2zM201 322v3h1v2h1v-5zM425 321v1h-2v2h1v1h5v-3h-2v-1zM276 316v1h-1v1h-1v2h1v2h2v-1h1v-4h-1v-1zM254 309v1h-1v3h1v1h1v-1h1v-3h-1v-1zM212 309v1h-4v2h-1v8h1v1h3v7h1v1h3v-10h1v-5h-1v-3h-1v-1h-1v-1zM463 308v1h-1v1h-1v1h1v1h6v-3h-1v-1zM436 308v4h3v-1h1v-2h-2v-1zM394 306v1h-1v2h-1v4h1v2h3v-1h1v-6h-1v-1h-1v-1zM314 306v1h-1v2h-1v5h1v1h1v1h1v-1h1v-1h1v-6h-1v-2zM284 305v1h-1v3h-1v4h1v1h3v-1h1v-5h-1v-2h-1v-1zM410 303v5h3v-2h1v-1h-1v-2zM238 301v1h-1v2h-1v3h1v5h1v2h1v1h1v-1h1v-2h1v-6h1v-3h-1v-1h-1v-1zM230 301v1h-1v2h-1v1h1v3h1v1h1v1h-3v2h-1v3h-1v4h-2v-5h-1v-1h-1v-1h-2v1h-1v1h-1v5h1v9h1v1h3v1h3v-1h1v-1h1v-5h1v-1h1v-1h1v-3h1v-6h-1v-2h2v-2h1v-3h1v-1h-1v-2h-1v-1zM484 295v1h-1v2h1v1h2v1h2v-1h3v-1h2v-1h-1v-1h-2v-1zM337 294v1h-1v3h3v-3h-1v-1zM188 294v6h-1v10h1v16h1v-32zM377 292v1h-1v2h-1v2h1v2h1v1h1v-1h1v-1h1v-4h-1v-2zM445 289v1h-4v1h-1v1h1v1h1v1h6v-1h1v-2h-1v-1h-2v-1zM245 288v8h1v2h1v-2h1v-7h-1v-1zM239 288v1h-1v1h1v1h1v-1h1v-1h-1v-1zM345 287v1h-1v3h3v-3h-1v-1zM208 285v1h-1v18h1v2h4v-1h1v-1h1v-8h-2v-2h-1v-9zM463 282v1h-1v1h-1v1h1v1h5v-1h1v-2h-2v-1zM417 282v4h2v-1h1v-2h-2v-1zM409 280v2h1v1h1v1h1v-1h2v-3zM313 279v1h-1v3h1v1h3v-1h1v-3h-1v-1zM385 277v1h-1v3h-1v1h1v4h-1v3h-1v2h1v2h1v2h2v-1h1v-1h1v-3h1v-1h-1v-3h-1v-3h1v-3h-1v-2h-1v-1zM188 277v5h1v-5zM485 276v1h-2v3h1v1h6v-1h2v-1h1v-1h-1v-1h-3v-1zM329 276v1h-1v1h-1v14h1v2h1v1h2v-2h1v-15h-1v-1h-1v-1zM352 271v2h-1v2h1v2h3v-1h1v-3h-1v-2zM305 270v1h-1v2h-1v4h1v6h1v1h3v-1h1v-1h1v-3h-1v-7h-1v-1h-1v-1zM246 265v1h-1v3h1v3h-1v4h3v-4h-1v-3h1v-3h-1v-1zM384 264v1h-1v4h1v1h3v-1h1v-4h-1v-1zM344 264v2h-1v1h1v2h3v-1h1v-3h-1v-1zM109 264v65h-1v1h1v68h-3v17h3v22h-1v1h1v62h-3v3h-1v7h5v-90h1v-16h-1v-18h1v-12h-1v-26h1v2h1v5h1v2h3v-2h1v-5h-1v-4h-2v-1h-1v-20h1v-1h2v-3h1v-7h-1v-2h-1v1h-1v-1h-1v2h-1v6h-1v2h-1v-58zM402 259v1h1v-1zM394 259v1h-1v3h-1v20h1v4h-1v11h1v1h1v1h2v-1h1v-1h1v-1h1v1h1v1h1v1h2v-1h1v-1h1v-10h-1v-1h-1v-1h-2v1h-1v1h-1v1h-1v-1h-1v-2h-1v-3h1v-5h1v-1h2v1h1v-6h-1v1h-2v-1h-1v-5h1v-2h-1v-3h-1v-3zM398 292h1v2h-1zM306 259v1h1v-1zM494 256v1h-1v3h8v-1h1v-2h-2v-1zM312 256v2h-1v3h1v2h1v2h3v-2h1v-7zM176 247v12h1v1h1v-1h1v-11h-1v-1zM538 244v2h1v1h3v-1h1v-2zM401 241v2h-1v3h1v1h3v-1h1v-1h1v-1h-1v-1h-1v-2zM306 226v1h-5v7h-1v1h-1v11h1v1h1v-1h2v1h3v1h2v-1h5v1h5v2h1v3h1v1h3v-1h2v1h1v6h1v3h1v2h3v-2h1v-3h1v-6h1v-1h2v1h3v-1h3v1h1v1h5v-1h1v-1h3v1h3v-1h1v-1h2v1h1v1h1v1h1v6h1v-1h1v-5h2v1h1v5h1v2h1v2h3v-2h1v-1h1v-3h1v-1h-1v-2h1v-1h2v5h1v1h1v-6h1v-1h1v-1h1v-1h2v1h1v1h2v-1h1v-1h1v-9h-1v-2h-3v1h-1v1h-1v1h-1v-1h-1v-1h-1v-1h-3v1h-1v2h-2v-1h-2v-1h-2v-1h-3v-2h-1v-3h1v-1h-1v-6h-2v1h-4v-3h-3v-1h-7v1h-2v-1h-3v2h-5v-2h-3v1h-5v-1h-3v1h-5v-1h-3v1h-1v1h-2v-1h-1v-1h-3v2h-1v1h-3v-1h-1v-1h-1v-1zM341 235h1v1h2v1h14v3h-6v1h-5v-1h-4v1h-1v-1h-1zM518 223v1h-115v1h-33v8h-1v5h3v1h7v-1h23v1h8v1h-1v2h-1v1h-1v9h1v3h1v2h1v2h2v-1h1v-2h1v-1h1v-3h1v-4h1v-1h3v1h2v1h11v2h-1v3h-1v1h-5v1h-4v1h-1v1h13v3h9v1h1v1h-1v1h-1v3h1v1h2v1h2v-1h1v-1h1v-3h-1v-1h-1v-1h1v-1h10v-1h4v-1h5v-1h1v-1h1v-1h8v-1h4v-1h8v-1h1v-2h-1v-1h-1v-1h1v-1h8v-1h3v-1h2v-1h-1v-1h-1v-1h-1v-4h13v-1h1v-1h1v1h5v1h7v-1h4v-1h4v-1h1v-1h4v1h1v1h2v1h3v1h4v-1h4v-1h7v-1h2v-1h2v1h1v1h1v1h3v1h6v-1h3v-1h6v-1h3v1h2v1h2v1h6v-1h3v-14h-2v-1h-6v1h-13v1h-2v-1h-4v-1h-3v1h-45v-1zM481 248h3v1h-3zM450 239h45v3h-1v1h-4v1h-1v-1h-2v1h-30v-1h-5v-1h-2zM413 239h5v4h-2v-1h-2v-2h-1zM427 238h1v1h-1zM558 226h2v1h-2zM513 226h1v2h-1zM238 212v2h-1v1h1v2h3v-2h1v-1h-1v-2zM284 211v1h-1v2h-1v1h1v1h1v1h2v-1h1v-3h-1v-1h-1v-1zM401 203v1h1v1h1v-1h1v-1zM400 197v5h1v-5zM192 193v9h1v-9zM368 189v2h-1v2h1v2h3v-2h1v-3h-1v-1zM195 183v6h-2v3h1v11h1v-12h1v3h1v10h1v1h1v3h-2v-1h-1v1h-1v-1h-2v3h1v23h1v2h1v-2h1v-13h1v14h1v4h-2v1h-1v1h-2v3h-1v-7h-1v12h-1v-1h-9v9h1v11h1v1h3v-9h1v-1h3v-1h1v2h1v-2h1v1h1v1h1v1h-1v1h-1v31h2v1h3v2h-3v1h-2v36h1v-2h1v1h2v-11h1v11h1v-28h2v-1h1v-9h-1v-6h1v-11h3v-1h1v-7h-1v-1h-2v1h-1v8h-3v-15h-1v11h-1v-13h6v-1h3v1h2v-1h1v1h1v23h1v2h5v1h1v9h1v-1h3v6h1v3h1v1h3v-9h1v-1h5v-1h1v-1h1v-3h-1v-1h-1v-1h-1v-8h1v-1h1v-1h1v-16h-1v-2h2v1h1v8h1v2h1v3h-1v4h3v-4h-1v-3h1v-2h1v-6h1v-1h1v-1h2v2h1v1h2v-1h1v-1h2v2h-1v7h1v2h-1v12h1v2h5v-1h3v1h3v-1h1v-5h-1v-1h-4v-1h-1v-5h-1v-2h1v-2h1v-1h1v1h2v-1h1v-1h-1v-1h-2v1h-1v-1h-1v-5h1v-1h9v4h-1v3h-1v2h1v4h-1v4h1v2h2v1h4v4h1v1h1v1h3v-1h3v1h1v2h-1v8h-1v-1h-1v-1h-6v-4h-1v-2h-1v-1h-3v1h-1v3h-1v5h-1v-1h-1v-1h-4v1h-1v5h2v1h2v-1h1v-1h1v-1h1v1h1v1h2v1h2v-1h3v1h1v1h1v1h1v-1h1v-1h1v-2h1v-1h1v1h1v1h1v2h2v-1h1v-1h1v-1h1v-3h1v-3h2v-1h1v-2h-3v-1h-1v-5h1v-1h1v1h1v-1h1v-8h-1v-1h-2v-1h-1v-4h1v-1h1v1h1v-1h1v-3h-3v-4h-1v-2h-1v-2h1v-6h-1v-4h1v-7h1v-9h-1v-2h-1v-2h-1v-1h-4v-1h-2v1h-4v1h-1v1h-1v1h-1v-1h-1v-1h-1v-1h-10v-1h-2v1h-3v1h-2v2h-1v1h-1v-1h-1v-1h-1v-2h-6v1h-3v-1h-1v-2h-1v1h-1v1h-1v2h-2v-1h-2v-1h-1v-2h-1v-1h-1v1h-1v2h-1v1h-1v1h-5v1h-2v1h-1v1h-2v-5h-1v-2h-2v1h-3v1h-2v1h-1v1h-3v-1h-1v-1h-2v1h-1v1h-1v-14h2v-1h1v-7h-1v-1h-2v-7h-1v-14zM199 292h1v1h-1zM195 272h1v9h-1zM219 259h3v3h1v1h5v7h-1v5h-1v1h-4v1h-2v-1h-1zM270 258h5v1h3v-1h3v1h1v3h-1v9h-2v-2h-1v-3h-1v-1h-2v1h-2v-2h-1v-2h-1v-3h-1zM268 258h1v1h-1zM193 246h1v1h-1zM199 204h1v1h-1zM187 170v1h-1v9h1v1h1v-1h1v-9h-1v-1zM194 163v17h1v-3h2v2h1v-1h1v1h1v-9h-3v3h-1v-1h-1v-9zM299 159v5h2v-1h1v-3h-1v-1zM192 149v11h1v-11zM180 148v1h-1v12h1v1h1v-1h1v-12h-1v-1zM199 141v11h-1v3h1v-3h1v-11zM195 141v7h1v2h1v-9zM183 141v22h3v1h1v-22h-2v-1zM385 127v1h-1v3h-1v1h1v2h1v1h1v-1h1v-2h1v-1h-1v-3h-1v-1zM193 126v3h1v-3zM230 122v2h-1v1h1v2h3v-2h1v-1h-1v-2zM328 107v2h-1v1h1v2h3v-2h1v-1h-1v-2zM299 107v5h2v-1h1v-3h-1v-1zM170 103v14h1v1h1v9h1v2h2v5h1v3h2v-1h1v-10h2v-1h1v2h1v2h4v-1h1v-22h-1v-2h-2v-1h-1v1h-1v2h-1v9h-2v1h-1v10h-2v-1h-1v-9h-1v-12h-1v-1zM117 92v1h2v-1zM532 87v1h2v-1zM486 75v3h-1v2h1v1h1v2h-3v1h-1v3h2v1h16v-1h2v-1h3v1h4v1h5v-1h2v1h8v-1h2v-1h1v-1h1v-1h3v-1h1v-1h4v1h1v2h1v1h1v1h2v1h9v-1h2v-1h2v-1h10v1h1v1h2v1h8v-1h2v-1h1v-1h1v-2h1v2h2v1h2v-1h2v1h1v1h2v1h8v-1h2v-10h-1v-1h-1v-1h-11v1h1v1h-1v1h-2v-3h-16v1h-3v1h-1v-2h-7v2h2v1h1v2h-4v-1h-1v-4h-27v1h1v4h-1v-2h-1v-1h-1v-1h-3v-1h-7v1h-2v1h-1v-1h-1v-1h-11v1h-1v-1zM511 79h2v1h-1v5h-1v1h-4v-1h-2v-3h1v-1h4v-1h1zM300 75v8h2v5h4v-1h3v-4h4v6h8v-6h2v6h2v1h6v-7h2v6h1v1h2v-1h7v-6h2v5h1v1h3v-1h4v-5h2v5h9v-5h3v6h8v1h2v-7h4v8h5v-1h2v-7h4v5h5v1h4v-6h4v9h1v-1h5v-1h3v-7h3v6h6v1h2v-7h3v7h5v-1h1v1h1v-2h3v-1h-2v-1h-1v-1h3v1h1v1h3v1h8v-1h2v-1h1v-1h2v-1h4v-1h1v-2h-1v-1h1v-1h4v1h-1v3h1v2h1v1h1v1h-2v1h13v-1h1v-1h1v-1h1v-2h1v-3h1v-1h-1v-2h-3v-1h-2v-1zM436 80h1v1h-1zM125 75v1h1v5h-1v7h1v1h1v1h1v2h2v1h1v-2h1v-1h3v-1h2v1h3v5h3v1h3v-5h3v3h3v-4h2v1h4v3h2v1h4v-3h1v-1h1v1h1v-1h5v-1h1v1h2v-1h6v1h4v5h3v-5h3v-1h2v1h4v-1h3v6h3v-5h3v1h3v1h2v-1h1v-1h5v-1h4v6h5v-1h1v-3h1v1h2v-3h5v1h1v2h2v-1h1v-1h3v-1h4v1h2v2h2v-1h1v-2h2v1h1v-1h6v1h2v-1h1v4h3v-4h2v1h1v5h3v-5h1v-1h4v1h1v4h3v-4h4v-1h2v2h2v1h2v-1h2v-2h1v1h1v-16zM80 75v435h6v-20h1v-2h1v-7h-1v-5h-1v-52h1v3h2v-2h1v-4h1v-10h-1v-3h-2v-6h-1v-2h-1v-14h1v6h1v1h2v-4h1v-9h-1v-4h-2v1h-1v6h-1v-63h5v-14h-5v-92h4v-2h1v-12h2v-1h1v26h-1v-2h-1v-1h-1v1h-1v15h-1v6h1v3h2v1h1v9h-1v1h-2v3h-1v8h1v3h1v1h1v-1h1v-3h1v22h-1v-14h-1v-1h-2v3h-1v13h1v2h1v1h1v3h1v17h1v7h-1v5h-1v5h1v3h1v154h-1v-3h-3v3h-1v8h1v5h1v1h1v7h7v-31h1v2h1v1h1v-2h1v-5h1v-9h-1v-2h-1v-1h-1v1h-1v2h-1v-61h3v-1h1v-5h1v-10h-1v-3h-4v-15h1v-3h1v-11h-1v-3h-1v-139h1v-2h1v-6h1v-1h1v-3h1v-4h4v23h-1v1h-1v1h-1v1h-2v22h3v11h2v2h1v2h1v-1h1v-63h3v-2h2v1h-1v1h1v7h1v1h2v-1h1v3h1v15h-1v22h-1v-1h-3v4h-1v8h1v2h4v-4h1v8h-1v9h1v4h1v1h2v-1h1v-31h1v-25h-1v-22h6v-1h2v41h-1v9h1v10h-1v-2h-2v2h-1v8h1v2h2v-2h1v116h-1v-1h-3v-11h-2v1h-1v9h1v1h2v14h1v1h2v-1h1v39h1v2h3v-2h1v-109h1v-9h-1v-1h5v1h4v9h1v11h-1v25h1v91h1v8h1v1h1v-2h1v-14h-1v-14h1v-13h-1v-15h1v-4h-1v-50h1v-13h-1v-18h1v1h3v1h5v1h7v-1h4v6h1v1h2v-1h1v-65h-4v51h-1v-1h-10v1h-7v-1h-2v-26h-1v-1h1v-35h2v10h1v1h1v-1h1v-9h-1v-1h-2v-10h-1v-1h-1v-11h2v-3h1v-3h2v-20h2v3h1v21h-1v-2h-1v1h-1v13h1v1h1v-1h1v29h1v4h3v-4h1v-17h2v-11h3v14h1v1h1v-1h1v-5h1v-6h-1v-3h-3v-10h-1v-1h-1v1h-1v10h-2v-38h2v-1h3v5h1v3h-1v2h1v8h1v-1h1v-1h1v1h2v-6h1v-3h1v1h3v1h1v22h1v-1h2v-1h1v-46h-1v1h-2v2h-1v8h-1v-1h-1v-9h-1v-1h-1v1h-1v9h-1v-33h1v-9h-1v-12h-5v3h-1v2h1v7h-1v9h1v30h-6v-7h1v-1h1v-9h-1v-1h-1v-54h-1v-2h-2v-1h-1v4h-1v-4h-2v1h-1v1h-2v64h-1v9h-2v-72h-1v-3h-4v13h-2v-5h-1v1h-1v-1h-1v1h-1v23h-1v3h-1v-38h-1v-2h-1v-4h-2v1h-1v30h-1v-1h-2v1h-1v5h-1v5h1v28h4v15h-5v1h-2v1h-1v-11h1v-30h-1v-10h1v-16h1v-7h-1v-1h-1v-12h-1v-1h-3v4h-1v19h-1v1h-2v-1h-1v2h-1v7h-1v-8h-1v-3h-1v-1h-1v-33h2v-10h1v4h1v6h2v1h1v-1h3v-14h-26v2h-1v-2h-7v8h-1v-8zM138 256h1v2h7v24h-1v6h1v3h1v9h1v9h-7v-1h-3zM120 249h1v2h-1zM107 236h1v11h-2v-10h1zM138 199h2v29h-1v-13h-1zM151 198h2v1h1v18h-1v-3h-1v-1h-1zM144 198h2v49h-7v4h-1v-15h1v-4h1v-4h2v1h1v-1h1zM156 161h1v2h1v-2h1v18h-1v-1h-2zM138 156h1v5h1v27h-1v-1h-1zM86 148h1v3h2v5h1v5h1v1h2v-3h1v18h-1v3h-1v6h-2v1h-4zM117 137h4v19h-1v-7h-1v-1h-3v-10h1zM111 137h1v1h1v10h3v11h3v-1h1v21h-1v-1h-2v1h-1v5h-1v3h-1v-2h-1v-4h-2zM99 137h1v15h-1zM145 136h1v52h-2v-51h1zM156 128h1v2h1v-2h1v17h-1v-1h-1v2h-1zM99 89h1v1h1v2h-1v-1h-1zM104 88h1v1h1v1h1v1h1v57h-1v1h-1v12h1v1h1v5h-1v1h-1v5h-1v4h1v4h2v7h-1v-1h-5v1h-3v-19h1v2h1v-1h2v-33h-3v-11h-1v-14h1v3h2v1h1v-2h1v-7h-1v-4h-3v3h-1v-12h3v-1h1v-1h-1v-1h1v-1h1zM91 88h1v1h2v26h-4v4h-1v5h1v2h4v25h-1v-5h-1v-1h-1v-5h-1v-5h-1v-1h-1v-8h-1v-3h-1v-34h2v1h1v-1h2zM91 79h1v8h-1z"/>
<path fill="#007aff" fill-rule="evenodd" d="M269 506v1h-1v2h1v1h1v-4zM345 505v1h-1v4h3v-4h-1v-1zM260 505v2h-1v2h1v1h3v-5zM475 504v1h-1v1h3v-1h-1v-1zM443 504v1h-1v1h1v1h4v-1h1v-1h-1v-1zM401 503v1h-1v2h-1v3h1v1h5v-5h-1v-1h-1v-1zM394 503v1h-1v2h-1v3h1v1h4v-2h1v-2h-1v-2h-1v-1zM231 503v1h-1v6h3v-1h1v-3h-1v-2h-1v-1zM306 498v1h-1v2h1v1h1v-1h1v-2h-1v-1zM246 498v2h1v-2zM254 491v2h1v-2zM126 490v11h3v-11zM123 490v20h1v-20zM284 489v1h-1v2h1v1h1v-1h1v-2h-1v-1zM276 489v1h-1v3h3v-4zM177 489v1h-1v9h1v1h1v-1h1v-9h-1v-1zM394 488v1h-1v4h1v1h1v-1h1v-4h-1v-1zM196 486v12h-2v12h1v-1h1v1h1v-16h1v6h1v10h1v-10h-1v-14h-1v1h-1v-1zM453 485v3h4v-3zM203 484v7h1v2h3v6h4v1h4v1h3v2h1v7h4v-8h1v-1h6v-1h1v-7h-5v1h-2v-1h-4v-1h-1v-5h-1v-3h-2v1h-1v6h-1v1h-6v-1h-1v-7zM231 482v1h-1v5h3v-2h1v-2h-1v-1h-1v-1zM494 478v1h-1v2h5v-1h1v-1h-1v-1zM418 478v1h1v-1zM306 476v1h1v-1zM227 476v5h4v-5zM253 475v3h3v-3zM239 474v2h-1v1h1v4h-1v2h-1v9h1v2h1v4h-1v12h3v-13h-1v-2h1v-2h1v-6h1v-1h1v7h1v1h1v1h1v-1h1v-11h-1v-1h-1v1h-2v2h-1v-1h-1v-1h-1v-2h-1v-3h1v-2h-1v-2zM384 473v2h-1v2h1v2h3v-1h1v-3h-1v-2zM463 472v1h-1v3h1v1h-10v1h-1v1h-1v1h1v1h2v1h4v-1h8v-1h1v-4h1v-1h1v-2h-1v-1zM283 468v3h3v-3zM231 468v5h1v-5zM113 468v11h2v1h1v11h3v-1h1v-11h-1v-1h-3v-10zM187 467v1h-1v9h1v1h1v-1h1v-9h-1v-1zM167 467v1h-1v10h3v-11zM130 467v1h-1v9h1v1h2v-1h1v-9h-1v-1zM269 466v1h-1v4h1v1h2v-1h1v-4h-2v-1zM149 466v11h2v-11zM100 465v15h2v-1h1v-14zM494 464v1h-1v1h-1v1h1v1h6v-1h1v-2h-2v-1zM225 464v1h-1v3h-1v7h-4v7h4v-4h3v-4h1v-8h-1v-2zM195 462v19h1v-19zM246 460v1h-1v2h2v-3zM276 459v1h-1v1h-1v2h1v4h-1v3h1v1h3v-11h-1v-1zM385 458v1h-1v5h2v-1h1v-4h-1v-1zM321 458v1h-1v1h-1v2h1v1h3v-4h-1v-1zM410 456v2h3v-1h1v-1zM433 452v1h-1v1h1v1h4v-1h1v-1h-1v-1zM305 452v1h-1v3h1v2h2v-1h1v-5zM239 451v1h-1v10h1v1h2v-11h-1v-1zM239 446v3h1v-3zM144 445v1h-1v9h1v1h1v-1h1v-9h-1v-1zM435 444v1h3v-1zM254 443v1h-1v4h3v-4h-1v-1zM114 443v1h-1v11h1v1h1v-1h1v-10h-1v-2zM221 439v1h-1v7h2v-8zM268 437v3h-1v1h1v6h1v1h1v-1h1v-5h1v-4h-1v-1zM402 436v1h-1v1h-1v4h1v1h3v-2h1v-3h-1v-1h-1v-1zM261 436v1h-1v1h-1v4h1v1h1v1h1v-1h1v-2h1v-3h-1v-1h-1v-1zM192 436v7h1v-7zM424 433v1h3v-1zM87 432v15h3v-15zM216 430v6h2v-6zM254 429v1h-1v2h1v1h2v-3h-1v-1zM246 429v1h-1v3h1v1h1v-1h1v-3h-1v-1zM384 428v2h-1v2h1v1h1v1h1v-1h1v-1h1v-2h-1v-2zM123 426v58h1v-26h2v-2h2v-1h1v-9h-1v-1h-4v-19zM197 425v2h-2v27h-1v4h1v-1h1v-26h1v18h1v1h1v5h1v8h-1v-1h-1v-1h-1v11h1v-7h1v12h-1v2h-1v3h5v-1h1v-5h-1v-2h-2v-10h2v-1h1v-17h4v26h1v1h2v-1h1v-7h1v-1h2v1h1v6h1v2h2v-2h1v-6h1v-1h3v-8h4v-1h2v1h1v2h3v-2h1v-2h-1v-3h-1v-2h1v-3h-1v-9h-1v-6h-4v-1h-1v-1h-2v1h-1v18h1v1h-1v6h-3v-1h-1v-6h-3v1h-1v7h-1v1h-2v-1h-1v-9h-1v-9h-2v1h-7v1h-1v7h-1v-1h-1v-21zM226 447h1v1h-1zM226 437h1v2h1v6h-2zM224 436h2v1h-2zM275 422v6h-1v5h1v5h-1v2h1v1h2v-1h1v-3h-1v-3h1v-7h1v-3h-1v-2zM261 422v1h-1v4h2v-1h1v-3h-1v-1zM212 421v1h-1v5h1v1h3v-7zM352 415v3h3v-3zM495 413v1h-1v1h5v-1h-1v-1zM361 413v1h-1v4h3v-4h-1v-1zM253 413v6h3v-1h1v-3h-1v-2zM394 408v1h-1v2h1v1h1v-1h1v-3zM260 408v4h2v-1h1v-3zM442 407v2h1v1h5v-1h1v-2zM284 407v1h-1v3h1v1h1v-1h1v-3h-1v-1zM223 403v16h1v1h2v-8h1v-2h3v-1h1v-5h-1v-1zM187 402v7h1v-7zM208 401v1h-1v9h1v1h2v-2h1v-7h-1v-2zM385 398v1h-1v4h1v1h2v-5h-1v-1zM239 398v1h-1v5h3v-5h-1v-1zM402 393v1h-1v2h1v1h1v-1h1v-2h-1v-1zM321 392v1h-1v4h1v1h1v-1h1v-4h-1v-1zM216 392v1h-1v9h1v1h2v-1h1v-9h-1v-1zM199 391v2h-2v-1h-1v1h-1v1h-1v29h3v-2h1v2h2v-6h-1v-9h1v-5h2v-2h1v-6h-1v-1h-2v-3zM484 387v2h1v1h3v-1h1v-2zM352 384v3h1v1h1v-1h1v-2h-1v-1zM269 384v1h-1v2h1v1h1v-1h1v-3zM224 384v1h-1v6h1v1h3v-1h3v1h1v1h1v-8h-2v1h-3v-1h-1v-1zM275 383v2h-1v3h1v2h1v2h-1v3h1v1h1v-1h1v-3h-1v-3h1v-5h-1v-1zM123 383v32h1v-12h2v-13h-2v-7zM453 381v5h-1v1h-1v2h1v1h3v1h1v-1h3v-1h1v-2h-1v-3h1v-2h-1v-1zM369 379v1h1v-1zM336 378v2h1v1h1v-1h1v-2zM230 378v3h3v-3zM88 378v1h-1v11h1v1h2v-13zM254 377v2h-1v8h1v1h1v-1h1v-9h-1v-1zM239 377v3h1v-3zM425 374v2h3v-1h-1v-1zM212 374v1h-1v1h-5v-1h-2v1h-1v5h1v1h2v1h1v8h1v2h1v1h1v-2h1v-8h1v-1h2v-1h1v-7h-1v-1zM283 370v4h1v3h-1v4h3v-5h-1v-1h1v-5zM254 370v1h-1v2h1v1h2v-4zM239 369v1h-1v3h1v1h1v-1h1v-3h-1v-1zM385 368v1h-1v5h3v-5h-1v-1zM216 366v1h-1v6h3v-7zM228 365v2h-1v6h1v1h4v-7h-1v-1h-1v-1zM197 365v2h-2v-1h-1v22h3v-1h1v1h1v1h1v-22h-1v-1h-1v-1zM305 364v2h1v1h1v-3zM344 362v1h-1v3h1v2h3v-6zM261 362v1h-1v6h-1v4h1v1h2v-1h1v-10h-1v-1zM246 362v1h-1v1h1v1h1v-3zM103 357v11h2v-1h1v-9h-1v-1zM435 355v1h-1v2h4v-2h-1v-1zM283 355v3h3v-3zM276 355v1h-1v2h1v1h1v-1h1v-3zM245 355v4h1v1h1v-1h1v-4zM239 355v1h-1v2h1v1h1v-1h1v-3zM216 349v2h-1v4h1v2h1v1h2v6h1v1h2v-1h1v1h1v1h1v-1h1v-1h-1v-1h-1v1h-1v-6h1v-1h2v-3h1v-1h-1v-4zM473 348v2h1v1h4v-1h1v-1h-1v-1zM402 348v1h-1v9h2v-1h1v-8h-1v-1zM352 347v2h-1v1h1v2h1v1h1v-1h1v-2h1v-1h-1v-2zM171 342v16h2v-1h2v-15zM231 341v7h-1v1h-1v2h1v6h1v1h1v-1h1v-9h-1v-7zM161 341v3h-1v2h1v137h2v-141h-1v-1zM238 340v3h3v-3zM207 340v6h1v1h6v-1h1v-5h-1v-1zM337 339v1h-1v2h1v1h1v-1h1v-2h-1v-1zM275 339v4h2v-1h1v-2h-1v-1zM418 338v2h-1v3h1v1h2v-6zM411 338v1h-1v5h3v-1h1v-3h-1v-1h-1v-1zM434 334v1h-2v2h1v1h5v-1h1v-2h-2v-1zM268 333v6h-1v3h1v2h3v-1h1v-6h-1v-4zM224 333v1h-1v1h1v1h2v-3zM199 333v2h-2v-1h-1v1h-2v1h1v11h-1v17h4v-9h1v6h1v-28zM198 339h1v12h-1zM230 332v2h-1v1h1v1h3v-3h-1v-1zM216 331v1h-1v5h1v1h2v-1h1v-5h-1v-1zM204 330v1h-1v7h3v-1h1v-6h-1v-1zM199 327v4h1v-4zM418 326v2h1v-2zM376 325v1h-1v1h1v2h3v-4zM254 325v1h-1v2h1v3h-1v3h-1v3h1v6h1v1h1v-1h2v-5h1v-1h1v4h1v2h2v-1h1v-6h1v-2h-1v-3h-1v-1h1v-5h-3v1h-1v2h1v4h-1v2h-1v-1h-1v-1h-1v-2h-1v-1h1v-3h-1v-1zM245 325v3h3v-3zM369 324v2h-1v1h1v1h1v-1h1v-2h-1v-1zM202 324v1h1v-1zM425 322v1h-1v1h3v-1h-1v-1zM275 318v2h1v1h1v-1h1v-1h-1v-1zM228 312v1h-1v7h-3v-1h-1v-6h-4v9h1v6h2v1h5v-8h3v-1h1v-7h-1v-1zM208 311v2h-1v6h1v1h2v1h1v3h1v5h2v-6h1v-11h-1v-1zM254 310v3h1v-3zM464 309v1h-1v1h1v1h2v-1h1v-2zM436 309v2h2v-1h-1v-1zM394 308v1h-1v5h3v-2h1v-2h-1v-1h-1v-1zM313 308v6h3v-2h1v-1h-1v-3zM283 308v5h1v1h1v-1h1v-1h1v-2h-1v-2zM411 304v2h1v-2zM238 302v1h-1v5h1v5h1v1h1v-1h1v-5h1v-5h-1v-1zM230 302v1h-1v3h1v2h1v1h1v-1h1v-2h1v-3h-1v-1zM337 296v1h1v-1zM188 296v14h1v-14zM486 295v1h-2v2h1v1h4v-1h2v-1h-1v-1h-2v-1zM376 294v4h3v-4zM260 294v1h-1v2h1v2h3v-1h1v-3h-1v-1zM200 292v3h-3v1h-1v1h-2v14h1v3h-1v17h1v-2h1v2h1v-1h1v-12h1v-3h1v-2h-1v-7h1v-4h2v-1h1v-7h-1v-2zM443 290v1h-1v2h3v1h1v-1h2v-2h-1v-1zM402 287v1h-1v1h-1v8h1v1h1v1h1v-1h1v-10h-1v-1zM268 287v1h-1v10h1v1h3v-1h3v1h1v1h3v-1h1v-4h-1v-1h-1v-1h-2v1h-2v-1h-1v-5h-1v-1zM394 286v1h-1v2h-1v3h1v6h1v1h2v-2h1v-9h-1v-1h-1v-1zM208 285v1h-1v16h1v2h3v-2h1v-7h-1v-9h-1v-1zM464 283v1h-1v1h4v-1h-1v-1zM417 283v3h1v-1h1v-1h-1v-1zM410 280v2h1v1h1v-1h1v-2zM313 280v3h3v-3zM385 279v1h-1v3h1v3h-1v2h-1v4h1v1h3v-2h1v-3h-1v-2h-1v-2h1v-4h-1v-1zM485 277v1h-1v2h2v1h2v-1h2v-1h1v-1h-1v-1zM329 277v1h-1v2h-1v3h1v5h-1v3h1v2h3v-2h1v-3h-1v-4h1v-4h-1v-2h-1v-1zM400 273v4h1v-4zM353 272v1h-1v3h3v-3h-1v-1zM306 271v1h-1v1h-1v9h1v1h1v1h1v-1h1v-1h1v-8h-1v-2h-1v-1zM204 268v1h-1v6h3v-1h1v-5h-1v-1zM344 265v3h3v-3zM109 265v134h-2v1h-1v13h1v1h2v86h-3v10h4v-126h1v-8h-1v-29h1v1h1v1h1v8h3v-10h-1v-1h-2v-22h3v-11h-3v7h-1v2h-1v1h-1v-58zM385 264v1h-1v4h3v-4h-1v-1zM444 263v1h-1v1h-1v1h1v1h1v1h3v-1h1v-1h1v-1h-1v-1h-1v-1zM394 262v1h-1v2h-1v3h1v5h-1v4h1v6h1v1h1v-1h1v-4h1v-3h1v-2h-1v-2h-1v-4h1v-3h-1v-2h-1v-1zM194 261v8h1v1h1v13h-1v-7h-1v15h1v1h1v1h2v-1h1v-7h1v2h2v-2h1v-8h-3v-15h-1v13h-1v-14zM494 257v2h1v1h4v-1h1v-2zM314 256v1h-1v1h-1v4h1v1h1v1h1v-1h1v-2h1v-3h-1v-1h-1v-1zM176 248v10h1v1h1v-1h1v-10zM116 246v11h4v-10h-1v-1zM540 245v1h1v-1zM486 244v1h-2v2h7v-1h2v1h4v-1h2v-1h-1v-1h-5v1h-4v-1zM402 243v2h2v-1h-1v-1zM384 243v2h-1v2h1v1h-1v3h1v1h1v1h1v-1h1v-8h-1v-1zM411 240v1h-1v1h-1v1h-1v10h1v2h1v1h1v1h1v-1h1v-1h1v-2h1v-6h1v-3h-1v-1h-1v-1h-1v-1h-1v-1zM351 226v1h-6v1h-8v-1h-16v1h-1v1h-1v1h-1v1h-1v-2h-1v-1h-3v2h-3v1h-1v1h-1v-3h-1v-1h-1v-1h-5v4h1v2h-1v3h-1v1h-1v1h1v1h1v-1h1v-1h-1v-1h2v3h1v1h-1v2h-1v-1h-2v1h-1v3h5v1h1v1h3v-1h1v-1h3v1h1v1h5v1h1v2h1v2h1v1h1v-1h2v-2h1v2h1v2h1v8h1v1h1v1h1v-1h1v-1h1v-8h1v-2h1v-1h1v1h1v1h2v-1h2v-1h1v1h1v1h1v1h1v1h3v-1h1v-1h1v-1h3v1h3v-1h1v-2h1v-1h2v3h1v1h1v1h1v-1h2v-1h1v1h1v3h1v6h1v1h1v1h1v-1h1v-1h1v-3h1v-1h-1v-2h1v-3h1v-1h1v1h2v1h1v-1h1v-2h1v-6h-1v-2h-3v2h-1v4h-1v-1h-1v-2h-1v-2h-1v-1h-5v-1h-1v-10h-1v-1h-4v-1h-1v-1h-1v-2h-2v-1zM333 237h1v4h-1zM309 237h3v3h-1v2h-1v-1h-1zM334 236h1v1h-1zM339 234h2v1h2v1h2v1h13v3h-6v1h-8v1h-3v-1h-1v-6h-1zM332 232h1v1h-1zM303 231h2v2h-2zM519 223v1h-115v1h-33v1h-1v4h1v1h-1v2h-1v4h1v1h4v1h2v-1h27v1h19v-1h8v1h9v1h-4v1h4v1h-1v1h-7v-1h-2v-1h-1v-1h-5v1h-1v1h-1v1h-3v4h2v1h5v1h1v-1h14v2h-3v1h-3v1h-1v3h-2v1h-7v1h-2v1h12v3h5v-1h4v1h5v-1h11v-1h3v-1h3v-1h2v-1h2v-1h10v-1h3v-1h6v-1h-1v-1h-6v-1h-2v-1h-2v-2h1v-1h1v-1h-3v-1h-2v1h-7v-1h-3v1h-6v-1h-6v-1h-2v-1h-1v-3h63v-2h1v-1h1v1h2v1h3v1h6v-1h3v-1h1v-1h4v-4h-1v-3h1v-1h2v-1h3v3h-1v3h1v1h1v1h1v1h1v1h1v1h10v-1h2v-1h4v-1h2v-2h3v1h1v2h1v1h2v1h3v1h3v-1h4v-1h2v-1h6v-1h1v1h1v1h2v1h4v1h3v-1h3v-1h1v-13h-3v-1h-4v1h-11v1h-1v1h-3v-1h-2v-1h-14v1h1v1h-1v1h-1v1h-1v1h-4v-1h-1v-2h1v-1h3v-1h-34v-1zM468 247h5v2h-6v-1h1zM458 247h5v1h1v1h-7v-1h1zM582 229h2v2h-2zM513 225h1v1h1v1h-1v2h-1zM238 213v3h3v-3zM284 212v1h-1v2h1v1h2v-3h-1v-1zM200 205v1h-1v3h-1v-1h-1v-1h-1v14h-1v-14h-1v24h1v3h1v-5h1v-11h1v15h1v6h-1v-1h-1v4h-1v-1h-1v2h-1v4h-1v-10h-1v11h-1v-1h-8v1h-1v8h1v10h1v2h1v-1h2v-9h3v-1h2v2h1v-2h2v1h1v1h7v-1h8v19h1v5h1v1h5v10h1v-1h1v-1h3v4h-1v3h1v4h1v1h2v-1h1v-11h3v1h3v-1h1v-3h-1v-1h-1v-1h-1v-1h1v-8h1v-1h1v-9h1v-2h-1v-6h-1v-1h3v1h1v2h1v4h1v2h1v-2h1v-4h1v-1h1v-1h3v1h1v1h2v-1h2v-1h1v25h1v1h3v-1h2v-1h1v1h4v-2h1v-1h-1v-2h-5v-2h-1v-10h1v-2h-1v-6h4v-1h14v1h2v-1h5v8h-1v1h1v5h-1v2h-1v-1h-1v-1h-1v-2h-1v-1h-1v1h-1v1h-3v-7h-1v-2h-2v1h-1v2h-1v12h1v1h5v1h1v4h1v1h4v-2h1v-5h1v6h1v15h1v1h1v1h1v-1h1v-1h1v-6h1v-4h-1v-6h1v-10h-1v-4h1v-5h-1v-7h1v-1h-1v-12h1v-4h1v-9h-1v-2h-1v-2h-1v-1h-2v1h-1v-1h-2v-1h-1v1h-4v1h-1v2h-2v-1h-1v-1h-1v-1h-2v1h-2v-1h-10v1h-2v1h-1v2h-3v-2h-1v-1h-1v-1h-2v1h-4v1h-2v-2h-1v-1h-2v2h-1v1h-4v-1h-1v-2h-1v-1h-1v1h-1v1h-1v2h-1v1h-2v-1h-2v1h-2v1h-1v1h-1v1h-2v-3h-1v-4h-3v1h-3v1h-1v1h-1v1h-2v-1h-1v-1h-1v-1h-2v2h-1v1h-1v-16h2v-1h1v-5h-1v-1zM230 286h1v1h-1zM219 259h3v2h1v1h1v1h2v-1h2v1h1v7h-1v5h-1v1h-4v1h-1v1h-3v-1h-1v-10h1zM201 235h2v2h-2zM400 199v2h1v-2zM192 193v9h1v-9zM368 190v3h1v1h1v-1h1v-3zM195 183v5h1v4h1v11h1v1h2v-4h-1v-17h-2v1h-1v-1zM197 173v5h1v-2h1v2h1v-4h-1v-1zM187 170v1h-1v9h1v1h1v-1h1v-9h-1v-1zM194 164v15h1v-15zM299 159v5h1v-1h1v-3h-1v-1zM192 149v10h1v-10zM180 148v1h-1v11h1v1h1v-1h1v-11h-1v-1zM116 148v10h1v1h2v-1h1v-9h-1v-1zM199 142v6h1v-6zM183 142v21h4v-21zM196 141v1h-1v2h1v3h1v-6zM385 129v1h-1v3h3v-3h-1v-1zM231 122v1h-1v3h1v1h1v-1h1v-3h-1v-1zM328 108v3h3v-3zM299 107v5h1v-1h1v-3h-1v-1zM172 103v1h-2v13h2v9h1v2h3v9h2v-1h1v-10h2v-1h1v2h1v2h4v-2h1v-20h-1v-3h-4v3h-1v8h-2v1h-1v10h-3v-10h-1v-12h-1v-1zM101 103v1h-1v11h3v-11h-1v-1zM484 84v2h1v1h2v-1h1v-2zM487 75v2h-1v3h3v5h1v1h1v1h2v1h6v-1h4v-1h1v-1h1v-5h4v-1h2v-1h2v7h1v1h-1v1h4v1h8v-1h1v-1h1v-1h2v-2h3v-1h1v-1h4v1h1v2h1v2h1v1h2v1h8v-1h2v-1h2v-1h3v-1h7v1h1v1h1v1h3v1h6v-1h2v-1h2v-1h1v-4h2v3h1v1h2v-1h1v1h1v1h1v1h2v1h8v-1h2v-10h-1v-1h-2v-1h-8v2h-1v1h-1v1h-2v-1h-1v-3h-15v1h-2v1h-2v-1h-1v-1h-4v2h1v2h1v1h-1v1h-4v-1h-1v-1h-1v-2h-1v-2h-11v1h-3v-1h-10v1h1v4h-1v1h-1v-2h-1v-1h-1v-1h-1v-1h-3v-1h-5v1h-2v1h-2v1h-1v-1h-1v-2h-9v1h-3v-1zM300 75v8h2v4h6v-1h1v-3h4v5h1v1h5v-1h2v-5h2v6h4v1h4v-7h2v6h6v-1h3v1h1v-6h2v5h8v-5h2v5h9v-5h3v6h2v-1h2v1h5v1h1v-7h4v8h4v-1h1v-1h2v-6h4v5h2v-1h6v1h1v-5h4v8h1v-1h6v-1h2v-6h3v6h1v-1h3v1h4v-6h3v7h3v-1h4v-1h1v-1h-1v-8h2v1h1v2h-1v2h1v1h1v1h1v1h2v1h8v-1h2v-1h1v-1h1v-1h3v-1h2v-2h-1v-2h3v-1h3v7h1v1h1v1h2v1h8v-1h2v-1h1v-1h1v-7h-1v-1h-2v-1h-2v-1zM126 75v8h-1v5h1v1h2v3h2v1h1v-2h1v-1h2v-1h6v6h4v1h2v-5h3v3h3v-5h1v1h1v1h4v3h2v1h4v-4h2v1h1v-1h4v-1h2v1h2v-1h8v1h2v5h3v-5h3v-1h5v1h1v-1h3v5h1v1h1v-1h1v-5h1v1h2v1h1v-1h1v1h1v1h1v-1h2v-2h1v1h3v-1h5v5h1v1h4v-1h1v-3h3v-2h6v3h2v-1h1v-1h3v-1h2v-1h1v1h2v1h1v2h1v-1h2v-2h9v1h2v-1h1v3h1v1h2v-4h3v6h3v-6h6v5h3v-4h4v-1h2v2h2v1h2v-1h2v-2h1v1h1v-16zM80 75v435h6v-21h1v-12h-1v-60h1v8h3v-15h-2v-3h-1v-6h-1v-81h5v-14h-5v-92h2v-1h2v-13h1v-1h1v1h1v-1h1v26h-1v-1h-1v-1h-1v1h-1v23h2v1h1v10h-3v13h3v-10h1v31h-1v-14h-3v15h2v1h1v20h1v9h-1v12h1v162h-1v-10h-3v14h1v1h1v2h1v6h6v-25h-1v-10h1v-17h-1v-5h1v-50h4v-15h-4v-18h1v-15h-1v-141h1v-7h1v-2h2v-6h5v25h-2v1h-3v22h3v11h2v2h1v2h1v-1h1v-63h2v-2h-1v-1h-1v-1h3v-1h2v1h-1v1h1v9h1v1h2v-1h2v21h-1v21h1v21h-1v3h1v5h1v1h2v-1h1v-34h1v-10h-1v-34h5v-1h3v61h-1v-1h-2v1h-1v6h1v1h2v-1h1v117h-1v-1h-3v-11h-2v1h-1v9h1v1h2v13h4v40h1v2h3v-3h1v-108h1v-9h-1v-2h3v1h4v1h2v7h1v15h-1v10h1v104h1v7h1v1h1v-113h1v-7h-1v-22h2v1h3v1h5v1h6v-1h3v-1h1v7h2v1h1v-1h1v-64h-1v-1h-1v1h-1v-1h-1v51h-2v-1h-8v1h-10v-27h-1v-1h1v-35h2v10h1v1h1v-1h1v-9h-1v-1h-2v-10h-1v-1h-1v-11h2v-11h-1v-1h-1v-16h1v1h2v20h1v1h1v-20h2v-1h1v26h-1v-1h-2v12h1v1h1v-1h1v29h1v4h1v-1h1v1h1v-5h1v-16h2v-11h3v13h3v-13h-3v-10h-1v-1h-1v1h-1v10h-2v-23h-1v-5h1v-10h1v-1h1v-1h3v6h1v12h2v-1h1v1h1v-1h1v-8h1v-1h1v1h4v23h2v-1h2v-46h-1v1h-1v1h-1v10h-1v-1h-1v-1h-1v-9h-1v-1h-1v1h-1v10h-1v-34h1v-9h-1v-12h-5v12h-1v9h1v30h-6v-7h1v-1h1v-9h-1v-1h-1v-10h-1v-3h1v-40h-1v-3h-3v3h-1v-4h-2v1h-1v1h-2v65h-1v8h-2v-72h-1v-3h-4v13h-2v-4h-4v24h-1v14h1v28h-2v-78h-1v-2h-1v-4h-2v1h-1v31h-1v-1h-2v1h-1v35h1v1h3v16h-4v1h-2v1h-1v1h-1v-18h1v-21h-1v-17h1v-20h-1v-12h-2v-1h-1v1h-1v11h-1v11h-1v1h-3v7h-1v2h-1v-1h-1v-10h-2v-35h2v-11h1v2h1v9h2v1h1v-1h3v-14h-26v2h-1v-2h-6v5h-1v4h-1v-9zM172 288h1v4h-1zM93 240h1v3h-1zM107 235h1v12h-2v-11h1zM182 199h1v8h-1zM138 198h1v1h1v28h1v1h2v-1h1v-29h2v49h-6v1h-1v10h7v33h1v6h1v12h-8v-1h-2v-73h1v-20h-1zM157 194h1v1h-1zM151 192h1v1h-1zM138 191h1v1h-1zM156 160h1v1h1v-1h1v20h-1v-1h-2zM111 137h2v10h1v1h1v-1h1v-9h1v-1h4v22h-1v7h1v22h-1v-8h-1v-1h-2v1h-1v7h-1v1h-2v-6h-1v-1h-1zM145 136h1v52h-2v-51h1zM156 127h1v1h1v-1h1v19h-2v1h-1zM104 88h1v1h1v1h1v1h1v57h-1v1h-1v11h1v1h1v7h-1v1h-1v11h1v1h1v7h-2v-1h-3v1h-4v-51h1v33h3v-33h-3v-11h-1v-37h2v3h1v-1h1v-1h1zM105 79h1v6h-2v-3h1zM91 78h1v11h2v27h-1v-1h-2v1h-1v9h1v1h2v-1h1v35h1v4h-1v15h-1v8h-1v-1h-1v1h-5v-47h1v10h2v1h1v9h1v1h2v-14h-1v-1h-1v-1h-1v-9h-1v-1h-1v-1h-1v-9h-1v-36h4v-1h1z"/>
<path fill="#00adff" fill-rule="evenodd" d="M260 506v4h3v-3h-1v-1zM444 505v1h2v-1zM402 504v1h-1v2h-1v1h1v2h3v-5h-1v-1zM394 504v1h-1v5h3v-5h-1v-1zM231 504v1h-1v5h3v-5h-1v-1zM239 503v2h-1v3h1v2h1v-3h1v-1h-1v-3zM199 502v8h1v-8zM239 499v3h1v-3zM123 492v18h1v-18zM394 490v2h1v-2zM127 490v1h-1v8h1v1h2v-9h-1v-1zM177 489v1h-1v9h1v1h1v-1h1v-9h-1v-1zM196 487v23h1v-19h1v4h1v-8h-1v1h-1v-1zM216 485v2h-1v6h-4v1h-3v4h4v1h3v1h3v1h1v9h4v-10h1v-1h3v1h3v-2h1v-3h-1v-1h-3v1h-3v-1h-2v-1h-3v-1h-1v-7zM204 484v8h3v-7h-1v-1zM245 483v9h1v1h1v-1h1v-8h-1v-1zM231 483v1h-1v2h1v1h1v-1h1v-2h-1v-1zM239 482v1h-1v10h1v1h1v-1h1v-7h1v-1h-1v-2h-1v-1zM495 479v1h2v-1zM116 479v11h3v-1h1v-10zM464 478v1h-1v1h2v-2zM453 478v3h6v-1h2v-1h-2v-1zM228 477v3h2v-3zM254 476v1h1v-1zM220 475v7h2v-1h1v-5h-1v-1zM199 475v6h3v-6zM385 474v1h-1v3h3v-3h-1v-1zM463 473v1h1v1h3v-1h1v-1zM284 469v1h1v-1zM130 468v1h-1v7h1v1h2v-1h1v-8zM113 468v10h3v-9h-1v-1zM276 467v1h-1v2h2v-3zM269 467v1h-1v2h1v1h2v-3h-1v-1zM187 467v1h-1v9h1v1h1v-1h1v-9h-1v-1zM167 467v1h-1v9h1v1h1v-1h1v-9h-1v-1zM149 467v10h2v-10zM100 466v13h3v-13zM494 465v2h2v1h1v-1h2v-1h-1v-1zM225 465v3h-1v1h-1v4h1v4h1v-3h1v-9zM195 463v4h1v-4zM197 462v7h1v-7zM123 462v20h1v-20zM385 460v3h1v-3zM320 460v2h2v-2zM276 460v1h-1v2h1v1h1v-2h1v-1h-1v-1zM410 456v1h3v-1zM434 453v1h2v-1zM305 453v3h1v1h1v-2h1v-1h-1v-1zM239 453v1h-1v2h1v2h1v-5zM254 445v2h1v-2zM144 445v1h-1v9h1v1h1v-1h1v-9h-1v-1zM113 445v10h2v-1h1v-8h-1v-1zM220 442v2h2v-2zM203 440v1h-3v17h2v-11h1v-2h4v2h1v26h2v-5h1v-4h4v2h1v6h2v-6h1v-2h1v-1h3v-6h-3v-1h-1v-7h-3v5h-1v3h-4v-2h-1v-13h-1v-1h-1v-1zM195 440v8h1v-8zM276 438v2h1v-2zM269 438v1h-1v2h1v2h1v-1h1v-3h-1v-1zM223 438v5h1v4h1v-1h1v-2h-1v-1h1v-4h-1v-1zM402 437v1h-1v4h3v-4h-1v-1zM261 437v1h-1v4h3v-4h-1v-1zM192 437v5h1v-5zM227 433v2h1v12h-1v2h-1v1h-2v5h1v-1h2v1h3v1h1v1h1v-1h1v-3h-1v-14h-1v-1h-1v-5zM87 433v13h3v-13zM223 432v2h1v-2zM246 431v1h1v-1zM123 430v27h3v-2h2v-1h1v-8h-3v-1h-2v-15zM385 429v1h-1v3h2v-1h1v-2h-1v-1zM197 425v20h1v-20zM276 423v1h-1v9h1v1h1v-2h1v-8h-1v-1zM212 422v5h3v-5zM361 415v2h1v-2zM254 414v1h-1v3h3v-3h-1v-1zM284 408v3h1v-3zM445 407v1h-2v1h5v-1h-2v-1zM228 403v1h-4v2h-1v4h1v7h2v-6h1v-1h2v-1h1v-5h-1v-1zM187 403v4h1v-4zM208 402v2h-1v5h1v2h1v-1h1v-8zM385 400v3h1v-1h1v-1h-1v-1zM239 399v2h-1v1h1v1h1v-1h1v-2h-1v-1zM321 394v1h1v-1zM216 393v1h-1v7h1v1h2v-1h1v-7h-1v-1zM199 392v3h-1v2h-1v-4h-1v2h-1v1h-1v21h1v5h2v-4h1v5h1v-26h1v4h1v1h1v-7h-2v-3zM486 388v1h1v-1zM454 386v1h-1v1h-1v1h1v1h5v-1h1v-1h-1v-1h-1v-1zM231 386v1h-1v3h1v2h1v-6zM275 385v3h1v1h1v-2h1v-1h-1v-1zM254 385v1h1v-1zM224 385v6h2v-1h1v-4h-1v-1zM123 384v30h1v-11h1v-1h1v-12h-2v-6zM454 382v2h1v1h2v-1h1v-2zM88 379v1h-1v9h1v1h2v-11zM284 378v2h1v-2zM212 375v1h-1v1h-1v1h-3v5h1v9h2v-8h1v-1h3v-8zM284 371v2h1v-2zM385 369v1h-1v2h1v1h1v-1h1v-2h-1v-1zM126 369v9h3v-9zM216 368v4h1v-1h1v-2h-1v-1zM228 366v8h4v-7h-2v-1zM197 366v1h-3v13h1v6h1v1h1v-5h1v5h1v2h1v-22h-1v-1zM261 364v1h-1v8h2v-1h1v-3h-1v-5zM344 363v3h1v1h1v-1h1v-3zM103 358v9h3v-9zM246 356v2h1v-2zM216 350v6h2v1h1v2h1v4h2v-4h1v-3h3v-6zM474 349v1h3v-1zM353 348v1h-1v2h3v-2h-1v-1zM231 348v1h-1v3h1v4h1v-4h1v-3h-1v-1zM171 342v15h3v-6h1v-9zM161 341v141h1v1h1v-140h-1v-2zM418 340v2h1v1h1v-3zM411 340v3h1v-1h1v-2zM208 340v7h3v-1h3v-5h-3v-1zM434 335v1h-1v1h2v1h1v-1h2v-1h-1v-1zM269 335v3h-1v5h3v-5h-1v-3zM196 335v3h-1v14h-1v11h2v1h1v-1h1v-19h-1v-9zM199 334v21h1v-21zM231 333v2h1v-2zM260 332v6h1v2h1v-3h1v-4h-1v-1zM254 332v1h-1v9h1v1h1v-1h1v-5h1v-3h-1v-2zM216 332v5h2v-5zM204 331v1h-1v5h1v1h2v-7zM376 326v1h1v1h1v-2zM261 326v2h1v-2zM228 314v5h2v-5zM220 313v1h-1v6h1v6h1v1h1v1h2v1h2v-1h1v-6h-1v-1h-3v-7h-1v-1zM208 312v8h3v1h1v6h2v-6h1v-8h-1v-1zM394 310v1h-1v1h1v1h1v-1h1v-2zM196 310v1h-1v6h-1v14h1v-5h1v4h1v-20zM314 309v1h-1v3h3v-3h-1v-1zM284 309v1h-1v2h1v1h1v-1h1v-2h-1v-1zM230 303v4h3v-4zM239 302v1h-1v8h1v1h1v-2h1v-7h-1v-1zM188 300v6h1v-6zM194 298v8h1v-8zM486 296v1h-1v1h4v-1h-1v-1zM197 296v1h-1v3h1v9h1v6h1v-19zM275 294v1h-1v3h1v1h3v-4h-1v-1zM261 294v1h-1v3h3v-3h-1v-1zM200 294v7h2v-7zM224 293v1h-1v7h1v1h2v-1h1v-7h-1v-1zM444 291v1h1v1h1v-1h1v-1zM402 289v1h-1v2h1v2h-1v3h2v-8zM394 288v1h-1v3h1v2h-1v2h1v1h2v-8h-1v-1zM268 288v10h3v-1h1v-4h-1v-5zM385 287v1h-1v4h2v-1h1v-3h-1v-1zM231 287v1h-1v3h1v1h1v-1h1v-3h-1v-1zM208 286v1h-1v14h1v2h3v-16h-1v-1zM218 285v7h1v-3h1v-2h-1v-2zM314 281v1h1v-1zM411 280v1h1v-1zM260 280v1h-1v1h1v1h2v-1h1v-1h-1v-1zM328 279v5h1v3h-1v4h1v1h1v-1h1v-4h-1v-3h1v-5zM90 279v13h3v-13zM485 278v1h1v1h2v-1h1v-1zM353 274v1h1v-1zM394 272v1h-1v5h1v3h1v-3h1v-2h1v-2h-1v-2zM306 272v1h-1v2h-1v1h1v6h1v1h1v-1h1v-9h-1v-1zM205 268v1h-1v6h2v-7zM385 266v2h1v-2zM109 265v135h-2v1h-1v11h1v1h2v87h-3v10h4v-164h1v1h2v9h3v-9h-3v-23h2v-1h1v-9h-1v-1h-1v1h-1v8h-2v1h-1v-58zM444 264v3h3v-1h1v-1h-1v-1zM394 264v1h-1v3h1v1h1v-1h1v-3h-1v-1zM269 264v1h-1v8h-1v2h1v2h4v-1h1v1h1v5h1v1h1v1h1v-1h1v-1h1v-9h-1v-1h-1v-1h-1v1h-2v1h-2v-2h-1v-7zM195 261v7h1v18h-1v-7h-1v11h2v2h1v1h1v-2h1v-7h1v1h2v-8h-2v-12h-1v12h1v1h-2v-17zM495 258v1h3v-1zM314 257v1h-1v4h3v-4h-1v-1zM177 248v1h-1v8h1v1h1v-1h1v-8h-1v-1zM116 247v9h1v1h2v-1h1v-8h-1v-1zM368 244v1h-1v3h-1v5h1v7h1v2h3v-2h1v-7h1v-4h-1v-2h-1v-2h-1v-1zM410 242v1h-1v11h1v1h3v-1h1v-7h1v-2h-1v-2h-1v-1zM169 236v12h1v1h1v-1h1v-12zM337 235v1h-1v3h1v1h-1v2h-1v4h1v2h1v2h1v-2h1v-2h1v-4h-1v-2h-1v-5zM195 231v2h1v-2zM321 227v1h-1v2h-1v1h-5v-1h-3v1h-1v1h-1v1h-1v1h-5v-1h-1v3h3v2h1v3h-1v4h1v1h1v-1h1v-4h-1v-3h1v-1h5v2h1v1h-1v3h-1v1h1v2h4v-1h2v2h1v1h1v2h1v-2h1v-2h1v-8h1v-2h3v6h-1v13h1v3h-1v2h1v2h1v1h1v-1h1v-2h1v-2h-1v-3h1v-4h1v-1h-1v-8h-1v-2h-1v-1h1v-2h3v-1h1v-2h-4v-1h-1v-2h4v1h1v1h6v1h1v1h2v1h3v1h1v-1h10v1h1v4h-1v1h-1v-1h-2v-1h-2v1h-2v1h-2v1h-2v-1h-3v1h-1v10h1v1h3v-1h1v-2h1v-3h1v1h1v1h1v1h3v-1h1v-2h1v-1h1v-1h1v1h1v2h1v2h1v-2h1v-2h1v-11h1v-1h-1v-2h-2v-1h-2v-1h-1v-1h-1v-3h-12v1h-14v-1zM317 239h1v3h-1zM301 227v3h1v1h2v-1h2v-2h-1v-1zM166 226v9h3v-9zM590 224v1h-2v1h-1v1h-1v1h-1v7h1v1h2v1h2v1h9v-1h1v-13zM568 224v1h-2v1h-2v1h-1v1h-1v4h1v2h1v1h1v1h1v1h2v1h8v-1h3v-1h1v-1h4v-2h-2v-1h-1v-4h-1v-1h-1v-1h-2v-1h-3v-1zM543 224v1h-2v1h-1v1h-1v2h-1v5h1v1h1v1h2v1h1v1h8v-1h2v-1h2v-1h1v-3h1v-2h-1v-2h-1v-1h-1v-1h-1v-1h-2v-1zM519 223v1h-5v1h2v1h-1v2h-1v2h-1v-5h-1v-1h-107v1h-34v1h-1v1h1v5h-1v2h-1v3h1v1h35v1h14v-1h12v1h11v4h-1v1h-2v1h-7v-1h-2v-1h-2v-1h-5v1h-2v1h-2v1h-1v1h2v1h2v1h7v-1h3v-1h7v1h2v1h2v2h-2v1h-2v1h-2v2h2v1h-5v1h-3v1h-7v1h10v2h14v-1h5v1h4v-1h2v-4h18v-1h3v-1h1v-1h-1v-1h-1v-1h-30v-2h1v-1h2v-1h2v-1h-3v-1h-1v-1h-2v-3h-1v-1h65v-2h1v-2h1v1h1v1h2v1h3v1h4v-1h3v-1h2v-1h1v-1h1v-10h-2v-1h-5v-1zM239 214v1h1v-1zM194 208v20h1v-20zM200 205v4h-1v1h-1v-1h-1v-1h-1v13h1v-6h1v16h1v12h-1v-4h-1v6h-2v2h-1v2h-1v-11h-1v10h-1v-1h-8v2h-1v6h1v10h1v3h1v-2h1v1h1v-9h3v-1h2v1h1v-1h2v1h1v1h2v-1h1v1h3v-1h9v1h1v1h-1v16h1v2h2v-1h1v-2h1v-7h2v-7h1v-3h2v1h2v3h3v-1h1v-1h1v-1h1v-1h2v1h-1v1h-1v9h1v6h-2v1h-2v1h-3v2h-1v5h1v2h7v-1h1v-1h1v-8h1v-7h1v-6h-1v-4h-1v-1h5v1h1v2h1v1h1v-2h3v-1h4v2h2v-1h1v-1h3v6h-1v2h1v6h-1v10h1v1h3v-1h1v-1h1v-3h-1v-6h-1v-5h1v-5h-1v-4h4v-1h11v-1h3v1h9v5h-1v6h1v2h-1v12h1v5h-1v4h1v6h1v1h1v-1h1v-2h1v-8h-1v-5h1v-11h-1v-3h1v-10h-1v-2h1v-15h1v-4h1v-7h-1v-3h-1v-2h-5v-1h-4v1h-2v1h-1v1h-3v-2h-10v-1h-3v1h-4v1h-1v2h-1v1h-1v-1h-1v-1h-1v-2h-7v1h-2v-1h-1v-1h-2v2h-1v1h-4v1h-2v-5h-1v1h-1v1h-1v1h-1v1h-5v1h-2v1h-1v1h-2v-2h-1v-5h-2v1h-3v1h-1v1h-2v1h-3v-1h-1v-1h-2v2h-1v1h-1v-17h2v-7zM201 233h1v1h1v1h2v1h1v1h1v2h-2v-1h-1v-1h-1v1h-2zM199 229h1v1h-1zM192 193v9h1v-9zM369 191v1h1v-1zM197 184v17h1v3h1v-10h-1v-10zM194 176v2h1v-2zM187 170v1h-1v9h1v1h1v-1h1v-9h-1v-1zM299 160v3h1v-3zM192 150v8h1v-8zM180 149v1h-1v8h1v2h1v-2h1v-8h-1v-1zM116 149v8h1v1h2v-1h1v-7h-1v-1zM183 142v20h1v1h1v-1h1v1h1v-21zM100 138v32h2v-1h1v-31zM176 127v9h3v-9zM231 123v3h1v-3zM329 109v1h1v-1zM299 108v3h1v-3zM183 104v7h-1v4h-2v1h-1v10h2v-1h1v1h1v2h2v1h2v-3h1v-13h-1v-9h-1v1h-1v-1zM100 104v10h1v1h2v-11zM172 103v1h-2v13h2v8h1v1h3v-9h-1v-12h-1v-2zM545 75v1h-4v1h-7v1h-1v1h-1v2h6v2h1v2h1v1h1v1h2v1h6v-1h3v-1h1v-1h1v-1h4v-1h6v2h2v1h1v1h3v1h3v-1h3v-1h2v-1h1v-1h1v-4h3v4h3v1h1v1h2v1h2v1h6v-1h2v-1h1v-8h-1v-1h-1v-1h-2v-1h-5v1h-2v1h-1v1h-1v1h-1v1h-1v-1h-1v-1h-1v-3h-2v1h-1v2h-1v-1h-2v-1h-2v-1h-5v1h-2v1h-2v1h-1v-1h-1v-1h-3v2h1v1h1v2h-2v1h-4v-1h-2v-1h-1v-1h-1v-2h-2v-1h-3v-1zM519 75v1h-2v1h-2v1h-1v2h-1v5h1v1h1v1h3v1h6v-1h1v-1h1v-1h2v-1h1v-4h-1v-2h-1v-1h-2v-1h-3v-1zM494 75v1h-7v4h2v5h1v1h1v1h3v1h3v-1h5v-1h2v-3h1v-4h4v-1h2v-2h-1v-1h-5v1h-2v1h-1v-1h-4v-1zM465 75v1h-1v1h2v1h-1v1h-1v5h1v1h1v1h1v1h1v1h8v-1h1v-1h1v-1h1v-1h1v-5h-1v-1h-1v-1h-2v-1h-2v-1zM300 75v8h2v3h1v1h2v-1h4v-3h4v5h8v-5h2v5h2v1h6v-6h2v5h1v1h2v-1h5v-1h1v1h1v-5h2v4h1v1h3v-1h4v-4h2v4h9v-4h3v5h8v1h2v-6h4v7h4v-1h2v-1h1v-5h4v4h9v-4h4v6h6v-1h3v-5h3v5h2v-1h1v1h3v1h2v-6h3v6h7v-9h-1v-2h3v1h1v5h1v2h1v1h3v1h6v-1h2v-1h1v-1h2v-1h1v-1h3v-2h-2v-1h-2v-1h4v-1h3v-1h2v-1h-1v-1h-18v1h-3v-1h-6v1h-1v-1zM453 78h1v1h-1zM440 76h1v1h-1zM126 75v12h-1v1h1v1h2v3h2v1h1v-2h1v-1h1v-1h7v6h4v1h2v-5h3v3h1v-1h2v-4h1v1h2v1h2v-1h1v3h2v1h1v1h3v-4h2v1h1v-1h1v-1h2v1h1v-1h2v1h2v-1h9v1h1v4h3v-4h2v-1h10v5h3v-5h1v1h5v1h3v-2h1v1h2v-1h6v5h3v1h1v-1h2v-3h3v-3h1v1h5v3h1v-1h2v-2h1v1h2v-1h1v-1h2v1h3v2h3v-2h4v-1h1v1h4v1h2v-1h1v3h2v1h1v-4h3v6h2v-1h1v-5h6v4h1v1h2v-4h3v-1h3v2h3v1h1v-1h2v-2h1v1h1v-16zM80 75v435h6v-21h1v-12h-1v-63h1v10h3v-13h-1v-1h-2v-9h-1v-81h5v-14h-5v-92h1v-1h3v-14h4v27h-1v-1h-1v-1h-1v1h-1v22h3v11h-2v1h-1v11h3v-11h1v34h-1v20h1v10h-1v11h1v20h1v6h-1v138h-1v-9h-1v-1h-1v1h-1v11h1v1h2v9h6v-18h-1v-23h1v-7h-1v-17h1v-29h-1v-6h1v-7h3v-1h1v-13h-1v-1h-3v-19h1v-13h-2v-1h1v-8h-1v-5h1v-15h-1v-5h1v-108h1v-9h1v-1h2v-6h5v27h-4v1h-1v21h3v11h2v2h1v1h1v-1h1v-62h2v-2h-2v-2h2v-1h3v10h1v1h2v-1h1v-7h1v33h-1v13h1v33h1v1h2v-1h1v-79h8v61h-4v6h4v117h-1v-1h-3v12h4v41h1v1h1v1h1v-1h1v-2h1v-108h1v-9h-1v-2h1v-1h1v1h2v1h5v1h1v135h1v8h2v-142h1v1h2v1h3v1h5v1h3v-1h4v-1h2v7h4v-63h-1v-1h-3v51h-1v-1h-3v-1h-5v1h-1v1h-8v-1h-2v-26h-1v-3h1v-34h2v10h1v1h1v-1h1v-9h-1v-1h-2v-10h-1v-1h-1v-11h1v-1h1v-9h-1v-1h-1v-17h2v1h1v20h1v1h1v-20h2v-1h1v4h1v3h-1v19h-3v11h1v1h1v-1h1v28h1v4h3v-7h1v-13h2v-11h-2v-20h-1v-18h2v-1h1v-1h3v6h1v12h2v-1h3v-11h1v1h1v1h4v24h1v-1h2v-1h1v-45h-1v2h-2v10h-1v-1h-2v-10h-3v11h-1v-35h1v-9h-1v-12h-3v1h-2v11h-1v9h1v30h-7v-5h1v-2h1v-1h1v-9h-1v-1h-1v-7h-1v-9h1v-37h-1v-3h-3v17h-1v16h-2v1h-1v-22h1v1h1v-1h1v-12h-3v1h-1v1h-1v64h-1v8h-2v-72h-1v-3h-4v14h-2v-5h-1v1h-1v-1h-2v25h-1v12h1v29h-2v-78h-1v-2h-1v-4h-2v1h-1v32h-1v-1h-2v1h-1v32h1v1h3v18h-2v1h-3v1h-1v1h-1v1h-1v-24h1v-12h-1v-30h1v-10h-1v-12h-1v-1h-1v-1h-1v1h-1v12h-1v11h-4v10h-1v1h-2v-12h-2v-36h2v-12h2v3h1v9h1v1h1v-1h3v-14h-26v2h-1v-2h-4v1h-1v-1h-1v7h-1v3h-1v-10zM172 285h1v10h-1zM93 238h1v8h-1zM106 235h2v12h-2zM86 199h1v2h-1zM138 198h2v29h2v1h1v-1h1v-29h2v50h-7v9h7v33h2v19h-9v-1h-1v-73h1v-19h-1zM99 198h1v3h-1zM182 196h1v16h-1zM139 195h1v1h-1zM163 193h1v1h-1zM156 193h3v3h-2v-1h-1zM169 192h1v1h-1zM151 192h1v1h-1zM138 191h2v1h-2zM156 159h1v1h1v-1h1v14h1v9h-1v-1h-2v-1h-1zM141 141h1v6h-1zM144 136h2v53h-2zM120 136h1v52h-1v-7h-1v-1h-3v8h-3v-6h-2v-45h2v9h1v1h2v-10h4zM105 77h1v9h-1v2h1v2h1v1h1v57h-1v1h-1v10h1v1h1v9h-1v1h-1v10h2v8h-2v-1h-3v1h-4v-19h-1v-1h1v-22h-1v-8h1v-1h1v-11h-1v-38h1v1h1v3h1v-1h1v-1h1v-11h1zM90 77h2v12h2v27h-4v9h4v4h1v7h-1v19h1v13h-1v12h-1v7h-7v-49h1v10h1v1h2v10h1v1h2v-12h-1v-1h-2v-10h-1v-1h-2v-10h-1v-37h4v-1h1v-1h-1z"/>
<path fill="#00e0ff" fill-rule="evenodd" d="M402 506v2h1v-2zM199 505v5h1v-5zM220 494v1h-1v7h1v8h2v-8h1v-7h-2v-1zM123 494v16h1v-16zM196 493v11h1v-11zM127 491v1h-1v6h1v1h1v-1h1v-6h-1v-1zM176 490v9h3v-9zM239 489v3h1v-3zM246 485v1h1v-1zM204 485v6h2v-6zM239 484v4h1v-4zM454 479v1h3v-1zM116 479v10h3v-1h1v-8h-1v-1zM200 477v3h1v-1h1v-2zM220 476v5h2v-5zM130 469v2h-1v3h1v2h2v-1h1v-6zM114 469v1h-1v6h1v1h1v-2h1v-4h-1v-2zM186 468v9h3v-9zM166 468v9h3v-9zM149 468v8h2v-8zM225 467v5h1v-5zM100 467v11h3v-11zM208 465v7h2v-7zM123 465v15h1v-15zM231 454v1h1v-1zM216 450v7h-1v1h-4v5h4v1h1v2h2v-2h1v-2h3v-4h-3v-2h-1v-6zM208 448v8h2v-8zM228 447v2h-1v4h4v-5h-1v-1zM144 446v1h-1v7h1v1h1v-1h1v-7h-1v-1zM123 446v10h3v-1h2v-2h1v-6h-1v-1zM113 446v8h2v-1h1v-5h-1v-2zM224 440v1h1v-1zM402 439v1h1v-1zM261 439v2h1v-2zM123 436v8h1v-8zM88 433v1h-1v11h1v1h1v-1h1v-11h-1v-1zM197 426v4h1v-4zM276 425v1h1v-1zM213 423v1h-1v1h1v1h1v-3zM198 417v5h1v-5zM227 405v3h3v-3zM208 404v5h2v-5zM195 398v1h-1v8h1v5h1v-2h2v-3h1v-9h-1v2h-1v4h-1v-6zM200 396v4h2v-4zM216 394v7h2v-7zM455 387v1h-1v1h3v-1h-1v-1zM231 387v4h1v-4zM208 386v4h2v-4zM123 385v26h1v-9h1v-1h1v-10h-1v-1h-1v-5zM88 380v1h-1v7h1v1h1v-1h1v-7h-1v-1zM199 378v11h1v-11zM212 376v1h-1v5h3v-5h-1v-1zM127 369v1h-1v7h1v1h1v-1h1v-7h-1v-1zM228 368v4h2v1h2v-5zM197 366v3h-2v-1h-1v8h1v-1h1v9h1v-7h1v-5h2v-3h-1v-2h-1v-1zM103 359v7h3v-7zM219 351v1h-2v2h2v2h3v-1h1v-4zM113 348v7h3v-7zM196 342v2h-1v15h-1v2h1v1h1v1h1v-1h1v-11h-1v-9zM173 342v1h-2v14h2v-2h1v-8h1v-4h-1v-1zM161 342v140h1v1h1v-139h-1v-2zM208 341v5h3v-1h1v-1h1v-1h-1v-1h-1v-1zM269 340v2h1v-2zM261 334v2h1v-2zM199 334v15h1v-15zM254 333v8h1v-4h1v-3h-1v-1zM216 333v3h2v-3zM204 332v5h2v-5zM223 323v4h1v1h2v-5zM220 315v5h2v-5zM209 313v1h-1v4h1v1h2v1h1v1h2v-8zM196 313v2h-1v4h-1v11h1v-7h1v2h1v-12zM231 304v1h1v-1zM239 303v1h-1v2h1v2h1v-2h1v-2h-1v-1zM197 297v8h1v6h1v-8h-1v-6zM261 296v1h1v-1zM200 296v4h2v-4zM276 295v1h-1v1h1v1h1v-3zM224 294v7h2v-7zM385 289v1h1v-1zM269 289v6h-1v1h1v1h2v-3h-1v-5zM329 288v2h1v-2zM231 288v3h1v-3zM284 287v1h-1v8h1v1h1v-1h1v-8h-1v-1zM208 287v15h2v-1h1v-7h-1v-7zM329 280v3h1v-3zM200 279v4h2v-4zM91 279v1h-1v11h1v1h1v-1h1v-11h-1v-1zM224 277v1h-1v7h4v-1h4v-1h1v-5h-1v-1zM394 274v2h1v-2zM305 274v3h1v5h1v-8zM275 273v9h1v1h1v-1h1v-8h-1v-1zM109 273v128h-2v1h-1v9h1v1h2v89h-3v9h4v-164h3v-23h3v-9h-3v9h-2v1h-1v-51zM254 272v1h-1v10h3v-1h1v-3h-1v-6h-1v-1zM269 271v1h-1v4h3v-1h1v-2h-1v-1h-1v-1zM196 271v19h1v2h1v-18h-1v-3zM204 270v3h2v-3zM195 263v2h1v-2zM186 261v3h1v-3zM231 260v2h-1v7h1v4h-1v2h1v1h1v-1h1v-2h-1v-4h1v-7h-1v-2zM171 260v30h1v-7h1v5h1v-2h1v-20h-1v2h-1v4h-1v-7h1v-3h-1v-2zM90 259v10h3v-10zM314 258v3h1v-3zM454 257v2h2v-2zM434 256v1h-2v1h2v2h3v-1h3v-2h-3v-1zM444 250v1h-2v1h-1v2h2v1h1v2h-1v2h4v-1h1v-1h-1v-2h3v-1h3v1h5v-1h20v-1h1v-1h-1v-1h-2v-1h-2v1h-26v-1zM177 249v1h-1v6h1v1h1v-2h1v-4h-1v-2zM117 248v1h-1v6h1v1h2v-1h1v-6h-1v-1zM368 247v2h-1v4h1v2h1v2h-1v3h1v1h1v-1h1v-3h-1v-2h1v-2h1v-4h-1v-2zM154 247v1h-1v9h1v1h1v-1h1v-9h-1v-1zM345 244v1h-1v5h-1v1h1v2h3v-2h1v-2h-1v-5zM337 244v1h1v-1zM443 243v1h-1v1h-1v1h1v1h2v1h4v-1h1v-1h1v-1h-1v-1h-1v-1zM424 243v1h-2v1h-1v1h1v1h7v-1h1v-1h-1v-1h-1v-1zM410 243v5h-1v4h1v2h3v-2h1v-7h-1v-2zM329 243v1h-1v6h-1v2h1v3h1v2h-1v4h3v-4h-1v-2h1v-3h1v-2h-1v-6h-1v-1zM352 241v1h-1v1h-1v4h1v1h1v1h1v1h1v-1h1v-1h1v-2h1v-3h-1v-1h-1v-1zM164 237v9h2v-9zM170 236v1h-1v10h1v1h1v-1h1v-10h-1v-1zM323 227v1h-2v2h-1v2h2v1h-1v1h-2v-1h-1v-1h-3v-1h-4v1h-1v1h-1v1h-2v2h2v1h10v2h1v2h1v2h-1v2h2v-5h1v-2h1v-2h1v-1h5v1h3v-1h-1v-1h-3v-1h-1v-1h1v-1h1v-1h4v1h2v1h4v1h2v1h1v1h2v1h15v1h-1v1h1v3h1v1h-1v3h2v-4h1v-6h-1v-2h-2v-1h-1v-1h-1v-1h-1v-3h-10v1h-2v1h-5v-1h-12v-1zM322 233h1v1h-1zM302 227v1h-1v2h4v-2h-1v-1zM167 226v1h-1v7h1v1h1v-1h1v-7h-1v-1zM567 225v1h-2v1h-1v1h-1v5h1v1h1v1h1v1h1v1h2v1h6v-1h3v-1h1v-1h1v-1h1v-3h-1v-3h-1v-1h-1v-1h-3v-1zM542 225v1h-1v1h-1v1h-1v3h-1v1h1v2h1v1h1v1h2v1h9v-1h2v-1h1v-2h1v-3h-1v-2h-1v-1h-1v-1h-1v-1zM214 225v1h-4v1h-1v1h-1v1h-2v-1h-1v-1h-3v3h-2v1h-1v2h4v1h2v1h1v1h1v4h-2v-1h-1v-1h-1v1h-2v-1h-2v9h-5v6h-1v-12h-1v8h-1v-2h-8v2h-1v5h1v8h1v5h1v-9h4v-1h2v-1h1v1h1v-1h1v1h1v1h10v-1h1v1h2v-1h2v1h2v1h2v1h-2v5h-1v9h1v2h3v-9h1v-1h2v-8h4v1h1v1h1v1h2v-1h2v-1h1v-1h8v1h3v1h2v-1h2v-1h2v1h1v1h2v-1h4v8h1v2h1v-1h1v-9h-3v-1h17v-1h4v1h5v-1h1v1h4v2h-1v9h1v2h-1v3h-1v2h1v7h1v1h1v-1h1v-7h1v-2h-1v-2h-1v-3h1v-10h-1v-1h1v-1h1v-16h1v-4h1v-6h-1v-2h-1v-2h-1v-1h-2v1h-1v-1h-1v-1h-2v1h-4v1h-1v2h-2v-1h-1v-1h-1v-1h-3v1h-1v-1h-11v1h-1v1h-1v2h-3v-2h-1v-1h-1v-1h-5v1h-1v1h-2v-1h-1v-1h-2v2h-1v1h-1v-1h-2v1h-1v1h-2v-1h-1v-3h-1v1h-1v1h-1v1h-6v1h-1v1h-3v-1h-1v-5zM237 241h1v5h-1v1h-1v-4h1zM238 236h1v1h-1zM282 234h1v3h-1zM592 224v1h-3v1h-2v1h-1v8h1v1h2v1h2v1h6v-1h3v-13zM406 224v1h-34v1h-1v4h1v1h-1v2h-1v5h36v1h8v-1h19v1h78v-1h1v-2h1v-1h1v1h2v1h2v1h9v-1h1v-1h1v-1h1v-1h1v-5h-1v-2h-1v-1h-1v-1h-2v-1h-9v1h-1v3h-1v1h-1v1h-1v-5h-1v-1h-64v1h-5v-1zM181 221v6h1v-6zM194 218v7h1v-7zM196 209v4h1v-4zM200 207v3h-1v2h-1v8h1v5h1v-15h2v-3zM192 194v7h1v-7zM197 188v7h1v-7zM184 182v1h-1v2h-1v8h1v32h1v-3h1v-16h-1v-9h1v-15zM187 170v1h-1v9h1v1h1v-1h1v-9h-1v-1zM192 152v4h1v-4zM180 150v1h-1v6h1v2h1v-2h1v-6h-1v-1zM117 150v1h-1v5h1v1h2v-1h1v-5h-1v-1zM183 142v20h4v-19h-3v-1zM114 138v1h-1v6h1v1h1v-1h1v-7zM101 138v1h-1v30h3v-30h-1v-1zM87 137v10h1v1h2v11h3v-11h-3v-10h-1v-1zM177 127v1h-1v7h1v1h1v-1h1v-7h-1v-1zM100 105v9h3v-9zM184 104v1h-1v10h-1v1h-1v-1h-1v1h-1v9h1v1h1v-1h1v-3h1v6h4v-5h1v-6h-1v-12h-2v-1zM170 104v13h3v2h-1v4h1v2h2v-1h1v-5h-1v-14h-1v-1zM555 82v1h1v-1zM543 76v1h-3v1h-2v-1h-1v1h-2v1h-1v1h4v2h1v2h1v2h2v1h9v-1h1v-1h1v-1h1v-4h-1v-2h-1v-1h-2v-1zM519 76v1h-2v1h-2v1h-1v6h1v1h1v1h4v1h3v-1h2v-2h2v-1h1v-5h-1v-1h-1v-1h-3v-1zM489 76v1h-1v2h2v6h1v1h1v1h9v-1h2v-1h1v-7h-1v-1h-2v-1h-8v1h-3v-1zM457 76v1h-1v1h2v-1h1v-1zM436 76v2h2v-1h1v-1zM592 75v1h-2v1h-1v1h-1v1h-1v1h-1v4h1v1h1v1h2v1h8v-1h2v-7h-1v-1h-1v-1h-1v-1h-3v-1zM572 75v1h-2v1h-2v1h-3v2h-1v4h1v1h1v1h2v1h7v-1h2v-1h1v-1h1v-6h-1v-1h-2v-1h-3v-1zM507 75v1h-1v2h3v-2h-1v-1zM468 75v1h-1v1h-1v1h-1v3h-1v1h1v2h1v2h1v1h2v1h6v-1h2v-1h1v-1h1v-6h-1v-1h-1v-1h-2v-1h-3v-1zM446 75v1h-4v1h-1v1h-2v4h-1v2h1v1h1v1h1v1h5v1h2v-1h2v-1h2v-1h1v-1h1v-1h2v-2h-2v-1h-1v-2h-1v-1h-1v-1h-3v-1zM300 75v8h2v2h3v1h2v-1h2v-2h4v4h2v1h5v-1h1v-4h2v4h4v-1h2v-1h2v-2h2v2h1v2h1v1h1v-1h4v-1h2v-1h1v-2h2v4h6v-1h2v-3h2v3h9v-3h3v4h3v1h3v-1h2v-1h2v-3h4v6h4v-1h3v-5h4v4h1v-1h8v-3h4v4h4v-1h4v1h1v-4h3v4h7v1h1v-5h3v6h3v-1h4v-8h-2v-2h1v-2h-1v-1zM390 80h1v2h-1zM127 75v6h-1v7h1v1h1v2h1v1h1v1h1v-2h1v-1h1v-1h7v6h5v1h1v-5h2v-1h1v4h1v-1h2v-4h1v1h5v3h3v2h3v-4h3v-1h17v1h1v4h3v-5h10v-1h2v6h3v-5h3v1h3v1h3v-2h9v5h3v1h1v-1h2v-3h3v-3h2v1h2v-1h1v1h1v2h3v-2h1v1h1v-1h2v-1h3v1h2v2h2v-1h1v-2h1v1h3v-1h1v1h2v-1h1v1h2v1h1v-1h1v3h3v-3h3v6h2v-1h1v-5h6v4h1v1h2v-4h3v-1h2v-1h1v2h1v1h4v-1h1v-2h1v1h1v-15zM115 75v1h1v13h1v1h1v-1h2v-1h1v-13zM80 75v435h6v-22h1v-10h-1v-65h1v10h1v1h1v-1h1v-11h-1v-1h-2v-9h-1v-82h5v-14h-5v-93h1v-1h3v-13h4v21h1v6h-3v-1h-1v2h-1v19h3v-10h1v11h-1v11h1v6h1v14h-1v22h-1v12h1v-1h1v7h-1v6h-1v10h1v17h1v11h-1v22h1v12h-1v39h1v3h-1v44h1v16h-1v1h-1v-9h-1v-1h-1v1h-1v9h1v1h2v10h6v-10h-1v-59h1v-21h-1v-18h4v-1h1v-11h-1v-1h-3v-21h1v-11h-2v-20h1v-5h-1v-13h1v-15h-1v-10h1v-11h-1v-8h1v-32h-1v-22h1v-8h1v-10h3v-5h5v28h-5v20h1v1h1v-1h1v-12h2v14h-2v9h2v2h1v2h1v-1h1v-62h1v-2h-1v-3h4v-1h1v10h1v1h2v-1h1v-6h1v79h4v-79h7v-1h1v63h-1v-1h-2v1h-1v4h1v1h2v-1h1v118h-4v10h4v41h1v2h3v-3h1v-108h1v-7h-1v-4h4v1h2v1h4v136h1v7h2v-141h2v1h2v1h3v1h10v-1h2v-1h1v-1h1v4h-1v4h1v1h2v-1h1v-19h-1v-7h-3v15h-1v-1h-1v-1h-4v-1h-1v1h-1v2h-6v-1h-6v-27h-1v-3h1v-34h1v-1h1v-9h-1v-1h-1v-12h2v-9h-2v-18h2v1h1v19h1v1h1v-19h1v-1h2v4h1v9h-1v14h-1v-1h-1v1h-1v10h3v1h1v2h-1v6h1v9h-1v5h1v9h3v-31h1v-17h-1v-21h1v-1h1v-1h4v5h1v13h1v-1h1v-1h1v1h1v-1h1v-11h1v2h6v-9h-1v-1h-2v-10h-1v-1h-1v1h-1v10h-1v-36h1v-7h-1v-12h-5v11h-1v9h1v30h-6v1h-1v-9h2v-1h1v-7h-1v-1h-1v-5h-1v-16h1v-11h-1v-4h1v-16h-1v-5h-3v24h-1v10h-2v1h-1v-23h3v-11h-1v-1h-1v1h-1v1h-2v65h-1v7h-2v-28h-1v-8h1v-35h-1v-3h-2v-1h-1v1h-1v14h-1v-1h-1v-4h-4v25h-1v10h1v30h-2v-78h-1v-1h-1v-4h-3v32h-3v1h-1v29h1v2h3v20h-1v1h-4v1h-1v1h-2v-67h1v-9h-1v-12h-1v-1h-3v13h-1v10h-3v1h-1v9h1v1h2v-1h2v52h-1v-6h-1v-1h-3v7h-3v-5h-2v-47h2v-10h-2v-37h1v-1h1v-2h-1v-6h1v-4h1v-1h-19v3h-1v-3h-3v1h1v4h1v5h-1v3h1v1h1v28h-4v7h4v1h1v13h-1v13h1v21h-1v9h-1v6h-7v-51h1v-9h-1v-39h1v1h3v-12h-2v7h-1v2h-1v-11zM173 308h1v4h-1zM86 199h1v3h-1zM98 198h2v4h-2zM139 194h1v2h-2v-1h1zM156 193h3v3h-3zM168 192h2v2h-7v-1h5zM151 192h2v2h-2zM120 191h1v1h-1zM101 191h5v1h-5zM138 190h1v1h1v2h-2zM98 190h2v1h-2zM142 162h1v10h-1zM155 151h1v7h1v1h1v-1h1v12h1v13h-1v-1h-2v-1h-1v-20h-1zM145 135h1v54h-2v1h1v2h-1v1h1v3h1v53h-7v7h7v24h1v2h-1v7h1v1h1v20h-1v-1h-9v-27h-1v-10h1v-38h1v-17h-1v-19h2v28h2v1h1v-1h1v-22h-1v5h-1v-11h1v-1h-1v-7h1v-6h1v-38h-1v-8h1v-2h1zM142 135h1v3h-1v10h-1v-11h1zM105 76h1v14h2v59h-1v1h-1v8h1v1h1v11h-1v1h-1v8h2v10h-1v-1h-8v1h-1v-3h1v-12h-1v-11h1v-13h-1v-13h1v-1h1v-9h-1v-39h1v1h1v2h2v-1h1v-13h1z"/>
<path fill="#00fff0" fill-rule="evenodd" d="M199 508v2h1v-2zM123 504v6h1v-6zM127 493v4h1v-4zM177 490v1h-1v7h1v1h1v-1h1v-7h-1v-1zM91 490v1h-1v7h1v1h1v-1h1v-7h-1v-1zM116 480v7h1v1h2v-2h1v-4h-1v-2zM149 471v2h2v-2zM114 471v4h1v-4zM130 470v5h2v-5zM187 468v1h-1v7h1v1h1v-1h1v-7h-1v-1zM167 468v1h-1v7h1v1h1v-1h1v-7h-1v-1zM123 468v11h1v-11zM109 467v34h-2v1h-1v8h4v-43zM101 467v1h-1v9h1v1h1v-1h1v-9h-1v-1zM144 447v1h-1v5h1v1h1v-1h1v-5h-1v-1zM114 447v3h-1v1h1v2h1v-6zM124 446v1h-1v8h1v1h1v-1h1v-1h2v-7h-3v-1zM88 434v1h-1v9h1v1h1v-1h1v-9h-1v-1zM195 401v7h1v-7zM123 388v15h1v-2h1v-1h1v-9h-2v-3zM88 383v3h1v-3zM199 382v6h1v-6zM162 381v1h-1v25h1v2h-1v26h1v10h-1v13h1v4h-1v17h1v3h1v-50h-1v-11h1v-40zM127 370v2h-1v3h1v2h1v-1h1v-4h-1v-2zM197 367v7h-1v5h1v-5h1v-7zM104 360v1h-1v3h1v1h1v-1h1v-3h-1v-1zM197 356v3h1v-3zM113 349v5h3v-4h-1v-1zM196 347v3h1v-3zM173 343v1h-2v12h1v-2h1v-5h1v-6zM161 342v35h1v-3h1v-25h-1v-7zM194 322v6h1v-6zM113 315v7h3v-7zM93 304v6h1v-6zM172 298v3h-1v9h1v13h1v1h1v-2h1v-7h-1v1h-1v-18zM224 296v4h2v-4zM209 288v1h-1v7h1v2h1v-10zM109 285v117h-2v4h-1v1h1v4h2v44h1v-111h1v2h1v-1h1v-21h-2v1h-1v-40zM91 280v1h-1v9h1v1h1v-1h1v-9h-1v-1zM197 279v12h1v-12zM224 278v6h2v-1h1v-4h-1v-1zM254 274v6h-1v1h1v1h2v-3h-1v-5zM284 273v1h-1v2h1v2h1v-2h1v-2h-1v-1zM269 273v2h1v-2zM174 269v5h-1v8h1v-1h1v-12zM284 264v4h1v-4zM231 264v2h-1v1h1v1h1v-1h1v-2h-1v-1zM171 263v20h1v-20zM212 261v14h2v-1h1v-13zM91 259v1h-1v8h1v1h1v-1h1v-8h-1v-1zM434 258v1h3v-1zM130 258v4h2v-4zM464 252v1h3v-1zM454 252v1h3v-1zM474 251v1h-2v1h5v-1h-1v-1zM444 251v1h-1v1h1v1h4v-1h1v-1h-1v-1zM117 251v3h2v-3zM177 250v6h1v-6zM368 249v4h1v1h1v-1h1v-4zM345 249v3h1v-3zM329 249v1h-1v2h1v1h1v-1h1v-2h-1v-1zM153 248v8h1v1h1v-1h1v-7h-1v-1zM192 246v4h-1v-2h-1v-1h-6v1h-1v8h1v11h1v-10h1v1h2v-1h3v-1h1v1h1v-11zM411 245v4h-1v3h1v1h1v-1h1v-4h-1v-3zM444 244v1h-1v1h1v1h3v-1h1v-1h-1v-1zM424 244v1h-1v1h1v1h3v-1h1v-1h-1v-1zM352 242v1h-1v3h1v2h3v-2h1v-3h-1v-1zM169 237v9h1v1h1v-1h1v-9zM164 237v9h2v-9zM361 236v3h1v-3zM321 235v1h-1v1h1v1h1v-3zM311 232v1h-1v1h-1v1h-1v1h4v1h1v-1h6v-1h-1v-1h-1v-1h-1v-1zM334 228v2h2v1h6v-1h-1v-1h-3v-1zM323 228v1h-1v2h2v1h3v-1h1v-1h2v-1h2v-1zM302 228v2h1v-1h1v-1zM349 227v1h-2v1h-1v1h-2v1h-1v2h1v2h2v1h13v-1h2v-1h-1v-1h-1v-1h-1v-1h-1v-1h-1v-3zM167 227v1h-1v5h1v1h1v-1h1v-5h-1v-1zM212 226v1h-2v1h-1v1h-2v1h-1v-1h-1v-1h-1v-1h-1v1h-1v4h1v1h1v1h2v1h1v2h1v3h-1v1h-2v-1h-1v-1h-2v1h-1v-1h-1v1h-1v7h-4v6h-1v4h2v1h8v-1h7v1h1v1h3v-1h8v1h2v1h2v-1h2v-1h5v-1h2v1h2v1h5v-1h3v1h4v-1h18v-1h7v1h3v-1h3v1h5v-1h1v-17h1v-4h1v-4h-1v-3h-1v-2h-1v-1h-1v1h-3v-1h-4v1h-2v1h-1v2h-1v-1h-1v-1h-1v-1h-1v-1h-2v1h-14v2h-1v2h-2v-1h-1v-1h-1v-1h-1v-1h-6v1h-1v1h-2v-1h-1v1h-1v1h-2v-1h-2v1h-1v1h-2v-1h-1v-2h-2v1h-3v1h-5v1h-1v1h-2v-1h-1v-3h-1v-2zM282 233h1v1h1v2h-1v2h-1v-1h-1v-3h1zM238 233h1v1h1v4h-1v5h-1v4h-3v-2h1v-4h1v-7h1zM570 225v1h-4v1h-1v1h-1v1h-1v2h1v2h1v1h2v1h1v1h1v1h7v-1h2v-1h1v-1h1v-3h-1v-3h-1v-1h-2v-1h-4v-1zM546 225v1h-4v1h-1v1h-1v3h-1v1h1v2h1v1h2v1h7v-1h3v-1h1v-1h1v-3h-1v-1h-1v-1h-1v-1h-1v-1h-4v-1zM157 225v1h-1v8h1v1h1v-1h1v-8h-1v-1zM594 224v1h-3v1h-2v1h-1v1h-1v5h1v2h1v1h2v1h8v-1h1v-11h-2v-1zM519 224v1h-2v3h-1v1h-1v1h-1v5h1v1h2v1h3v1h5v-1h2v-1h2v-2h1v-6h-1v-2h-2v-1h-2v-1zM408 224v1h-26v1h-11v2h1v1h4v-1h8v1h-3v1h-7v1h-2v1h-1v1h-1v4h1v1h13v-1h5v1h19v1h4v-1h23v1h14v-1h4v1h16v-1h28v1h13v-1h2v-3h1v-2h-1v-1h1v-4h-1v-3h-1v-1h-1v1h-8v-1h-24v1h-3v-1h-6v1h-2v-1h-16v1h-12v-1h-5v1h-8v-1zM181 224v2h1v-2zM199 215v5h1v-5zM183 214v4h1v-4zM192 195v5h1v-5zM184 182v3h-1v22h1v-13h1v-12zM187 171v1h-1v7h1v1h1v-1h1v-7h-1v-1zM141 170v18h1v-2h1v-10h-1v-6zM180 151v6h1v-6zM117 151v5h2v-5zM90 149v9h3v-9zM183 143v17h1v-12h1v9h1v4h1v-17h-1v-1zM114 139v6h1v-6zM101 139v1h-1v28h1v1h1v-1h1v-10h-1v-10h1v-8h-1v-1zM87 139v7h3v-6h-1v-1zM177 128v1h-1v5h1v1h1v-3h1v-2h-1v-2zM141 123v1h-1v26h-1v7h1v6h1v-1h1v-3h1v5h1v-13h-1v-9h-1v7h-1v-16h1v-10zM141 158h1v1h-1zM173 118v6h2v-6zM180 116v1h-1v8h2v-1h1v-8zM146 114v16h-1v-2h-1v-4h-1v4h1v3h-1v2h1v2h1v-2h1v21h1v5h-1v33h-1v2h1v56h-6v1h-1v3h1v1h6v24h1v4h-1v5h1v1h1v21h-6v1h1v1h5v137h1v6h2v-141h1v1h3v1h1v1h3v1h8v-1h2v-1h1v-1h1v-2h-1v-1h-1v-1h-4v1h-1v1h-5v-1h-8v-28h-1v-1h-1v2h-1v-3h2v-1h1v-17h-1v-6h1v-8h-1v-4h3v-8h-1v-1h-1v-14h2v-7h-1v-1h-1v-15h-1v-4h2v1h2v2h1v14h-1v2h1v3h1v-20h2v-2h-2v-3h2v-1h1v8h1v67h3v-38h1v-7h-1v-25h1v-1h1v-1h-2v-3h1v1h3v-1h2v-1h1v3h-1v5h1v14h2v-2h1v1h2v-12h1v2h5v-1h1v-6h-1v-1h-1v-1h-1v-9h-1v-1h-1v1h-1v11h-1v-39h1v-5h-1v-13h-3v1h-2v11h-1v7h1v32h-1v-1h-4v1h-2v-9h2v-2h1v-5h-1v-2h-1v-1h-1v-56h-1v1h-1v-1h-1v43h-1v-8h-1v-1h-1v2h-1v7h1v2h1v-2h1v10h1v18h-1v-1h-1v-1h-2v-6h-1v-30h1v-23h1v2h1v-2h1v-8h-1v-1h-1v1h-3v66h-1v6h-2v-25h-1v-15h1v-31h-1v-3zM151 191h1v1h2v2h-3zM101 105v1h-1v7h1v1h1v-1h1v-7h-1v-1zM184 104v1h-1v23h4v-23h-2v-1zM170 104v12h2v1h2v-1h1v-11h-1v-1zM543 77v1h-2v1h-2v2h1v4h1v1h3v1h5v-1h3v-1h1v-6h-1v-1h-2v-1zM519 77v1h-2v1h-1v1h-1v2h-1v2h1v2h3v1h5v-1h1v-1h1v-1h2v-5h-1v-1h-1v-1zM494 77v1h-3v7h1v1h3v1h1v-1h6v-1h1v-1h-1v-3h1v-3h-2v-1zM592 76v1h-1v1h-1v1h-1v1h-2v4h1v1h2v1h8v-1h1v-1h1v-4h-1v-1h-1v-1h-2v-1h-1v-1zM572 76v1h-1v1h-2v1h-3v1h-1v4h1v1h2v1h2v1h3v-1h2v-1h1v-2h1v-1h1v-3h-1v-1h-1v-1h-2v-1zM469 76v1h-2v1h-1v2h-1v3h1v1h1v1h1v1h1v1h6v-1h2v-2h1v-1h-1v-5h-2v-1h-2v-1zM445 76v1h-2v1h-2v1h-1v2h-1v3h1v1h1v1h4v1h4v-1h2v-1h1v-1h1v-1h1v-1h-1v-2h-1v-1h-1v-2h-2v-1zM300 75v8h2v1h2v1h5v-2h4v2h1v-1h6v1h1v-2h2v3h2v-1h3v-1h2v-1h4v1h1v1h1v1h4v-1h2v-1h1v-1h2v2h1v1h5v-1h2v-2h2v2h9v-2h3v3h2v1h4v-2h1v-1h3v-1h4v5h3v-1h4v-4h1v-1h-1v-2h1v-1h3v3h-1v1h1v3h1v-1h8v-2h4v3h4v-1h4v1h1v-3h3v3h5v1h2v-1h1v-3h2v-2h1v3h3v2h-3v2h4v-1h1v-1h1v-1h1v-5h-7v-1h4v-3h-1v-1zM127 75v9h-1v4h1v1h1v2h2v1h1v-1h1v-1h1v-1h2v-1h2v1h3v5h1v1h5v-5h1v1h1v-1h1v3h3v-4h2v1h4v3h3v1h3v-3h1v-1h1v1h1v-1h11v-1h2v1h5v5h1v-1h2v-4h3v-1h1v1h6v-1h2v6h3v-5h3v1h3v1h2v-1h1v-1h5v-1h4v6h5v-1h1v-2h3v-3h2v1h1v-1h2v1h1v2h3v-2h3v-1h4v1h2v2h2v-1h1v-2h2v1h1v-1h6v1h3v3h3v-4h2v1h1v5h2v-1h1v-4h2v-1h2v1h2v4h1v1h2v-4h2v-1h2v-1h2v2h1v1h4v-1h1v-2h1v1h1v-15h-38v4h-1v-4h-115v2h-1v-2h-10v8h-1v-8zM116 75v14h4v-1h1v-13zM80 75v435h6v-23h1v-8h-1v-67h1v11h2v-1h1v-10h-3v-10h-1v-82h5v-14h-5v-93h1v-2h2v-3h1v-9h4v5h1v24h-2v-1h-2v5h-1v13h1v1h2v-11h1v-1h1v6h-1v9h-1v7h1v2h1v65h-1v2h-1v8h1v1h1v31h-1v14h1v66h-1v31h1v24h-2v10h5v-72h1v-15h-1v-22h4v-1h1v-10h-5v-1h1v-18h-1v-4h1v-1h1v-7h-1v-1h-1v-42h1v-10h-1v-16h1v-2h-1v-20h1v-9h-1v-46h2v-10h-2v-5h2v4h3v-4h5v30h-2v-1h-3v18h1v1h2v-13h1v-1h1v16h-1v1h-1v7h1v1h1v1h1v3h1v-1h1v-62h1v-1h-1v-4h3v-1h2v7h1v3h2v-3h1v-4h1v79h1v1h2v-1h1v-78h5v-1h3v133h1v10h-1v43h-1v-1h-2v1h-1v8h1v1h2v-1h2v8h-1v34h1v2h3v-13h1v-110h2v-1h-2v-22h-1v-20h1v-35h1v-7h-1v-27h3v15h-1v10h1v-1h1v5h1v-4h1v-7h-1v-3h-1v-17h-1v1h-1v-1h-1v1h-1v-3h1v-1h-1v-3h3v-1h-1v-1h-2v-77h-1v-2h-1v-3h-1v-1h-1v1h-1v32h-2v1h-1v1h-1v20h1v7h2v1h1v23h-5v1h-1v1h-2v-69h1v-6h-1v-14h-1v-1h-3v14h-1v10h-4v9h4v-1h1v54h-1v-6h-1v-1h-3v6h-4v-1h1v-1h-1v-2h-1v-21h-1v-7h1v-21h2v-8h-2v-39h1v-9h1v-4h-7v4h1v4h-1v6h1v1h1v60h-1v1h-1v5h1v2h1v14h-1v1h-1v4h1v1h1v12h-1v-1h-1v-1h-5v1h-1v1h1v1h7v1h-1v1h-5v-1h-4v-56h2v-9h-1v-1h-1v-1h1v-9h-1v-10h1v-19h1v2h1v2h1v-1h1v-6h1v-9h-5v3h-1v-3h-3v4h-1v-2h-1v-2h-1v2h1v10h-1v1h1v1h1v-2h1v6h-1v9h1v10h-1v7h-1v-1h-2v5h2v-1h2v19h-1v6h1v34h-2v6h-7v-53h1v-5h-1v-41h2v1h2v-10h-2v7h-1v1h-1v-12zM86 199h1v4h-1zM103 195h1v1h-1zM132 192h1v1h-1zM94 192h1v2h-1zM120 191h1v1h-1z"/>
<path fill="#00ffc6" fill-rule="evenodd" d="M107 502v1h-1v7h4v-6h-1v-2zM91 493v3h1v-3zM177 491v3h-1v1h1v3h1v-3h1v-1h-1v-3zM117 482v4h2v-4zM109 472v26h1v-26zM123 471v5h1v-5zM187 469v7h1v-7zM167 469v7h1v-1h1v-5h-1v-1zM100 469v7h2v-1h1v-6zM144 448v5h1v-5zM124 447v2h-1v4h1v1h2v-3h1v-1h-1v-2h-1v-1zM162 445v35h1v-35zM88 435v2h-1v5h1v2h1v-1h1v-7h-1v-1zM87 413v8h1v1h1v-1h1v-7h-1v-1zM109 398v8h-2v1h2v33h1v-42zM123 392v7h1v1h1v-1h1v-7zM161 390v9h1v18h1v-27zM130 381v2h-1v3h1v3h2v-3h1v-2h-1v-3zM127 372v3h1v-3zM162 356v13h1v-13zM161 343v6h1v-6zM173 320v2h1v-2zM114 316v5h1v-5zM167 312v1h-2v1h-5v-1h-7v1h1v1h2v1h2v1h3v1h4v-1h2v-1h2v-1h1v-2h-2v-1zM172 301v12h1v-12zM109 294v98h1v-50h1v2h1v-2h1v-16h-1v-1h-1v1h-1v-32zM149 284v1h-1v163h1v5h1v1h1v-170zM91 281v1h-1v7h1v1h1v-2h1v-5h-1v-2zM91 260v1h-1v5h1v1h1v-1h1v-5h-1v-1zM192 249v6h1v-6zM154 249v1h-1v5h1v1h1v-1h1v-5h-1v-1zM184 247v2h-1v6h1v1h1v1h-1v8h1v-8h5v-1h1v-7h-1v-2zM353 243v1h-1v2h3v-2h-1v-1zM169 238v7h1v1h1v-1h1v-7zM164 238v7h1v-1h1v-5h-1v-1zM311 233v1h-1v2h5v-1h1v-1h-1v-1zM91 232v5h-1v7h1v1h1v-1h1v-11h-1v-1zM350 228v1h-1v1h-1v1h-2v1h-1v2h1v1h11v-1h1v-1h-1v-1h-1v-2h-1v-2zM167 228v5h1v-5zM104 228v6h-1v10h1v1h1v-1h1v-16zM543 227v1h-1v2h-1v3h1v1h7v-1h3v-4h-1v-1h-1v-1zM570 226v1h-4v1h-1v1h-1v2h1v1h1v1h1v1h3v1h2v1h4v-1h1v-1h1v-2h-1v-3h-1v-1h-1v-1h-4v-1zM280 226v1h-3v1h-1v1h-1v1h-2v-1h-1v-1h-1v-1h-2v1h-5v-1h-2v1h-7v3h-1v1h-2v-1h-1v-1h-1v-1h-1v-1h-2v-1h-3v1h-1v1h-2v1h-1v1h-1v1h1v3h1v2h-1v3h-1v6h-1v2h-3v-5h1v-7h1v-5h-1v-1h-2v1h-1v1h-2v-1h-1v-2h-2v1h-3v1h-5v1h-1v1h-2v-1h-1v-2h-1v-2h-2v-1h-2v1h-1v1h-2v1h-1v1h-1v-1h-1v-1h-2v3h1v1h3v2h1v2h1v1h1v-1h1v1h1v3h-2v-1h-2v2h-3v-1h-1v-1h-2v1h-1v-1h-1v2h-1v5h-3v1h-1v9h5v1h3v-1h6v-1h1v1h2v1h7v-1h1v1h4v1h4v-1h1v-1h8v1h2v1h3v-1h5v1h2v-1h7v-1h16v-1h2v1h8v1h2v-1h2v-1h1v-1h-1v-9h1v-8h1v-8h-1v-2h-1v-1h-2v1h-2v-1h-1v-1zM209 252h1v3h-1zM282 231h1v1h1v5h-1v2h-2v-6h1zM157 226v2h-1v5h1v1h1v-2h1v-4h-1v-2zM594 225v1h-2v1h-2v1h-1v1h-1v1h1v2h1v2h1v1h2v1h6v-1h1v-10zM523 225v1h-3v1h-1v1h-1v1h-1v1h-1v1h-1v3h1v1h1v1h3v1h5v-1h2v-1h1v-2h1v-2h-1v-4h-1v-1h-3v-1zM409 224v1h-22v1h-15v1h2v1h5v-1h5v1h4v1h3v1h-11v1h-2v1h6v1h-10v-1h-2v1h-1v1h-1v2h1v2h5v-1h24v1h112v-7h1v-2h-1v-4h-13v-1h-18v1h-18v-1h-9v1h-31v-1zM394 229h6v1h-6zM155 197v20h1v-19h1v-1zM139 197v1h1v-1zM183 191v1h1v-1zM102 188v1h-1v1h2v1h1v-1h1v-1h-1v-1zM177 184v9h-1v6h1v1h2v1h2v-6h-2v-3h-1v-8zM184 183v6h1v-6zM187 172v1h-1v5h1v1h1v-1h1v-5h-1v-1zM101 158v2h-1v6h1v1h1v-9zM157 150v7h1v-7zM91 150v1h-1v5h1v1h1v-1h1v-5h-1v-1zM185 147v3h1v-3zM142 147v4h-2v5h2v-2h1v-7zM140 141v3h1v-3zM101 141v7h1v-7zM172 139v1h-2v12h-1v3h1v9h1v2h1v-5h1v11h-1v1h-1v5h-1v35h1v-1h1v-5h1v2h1v2h1v-72zM177 131v1h1v-1zM144 131v1h1v-1zM180 117v1h-1v5h1v1h1v-1h1v-5h-1v-1zM148 114v1h-1v1h-1v7h1v10h-1v18h1v12h-1v40h1v12h-1v16h1v9h-1v37h1v4h1v1h2v-3h1v-10h-1v-24h2v-1h1v-5h-1v-1h-2v-16h2v-5h-1v-14h-1v-7h4v-2h-4v-3h3v1h2v1h1v-1h4v74h2v1h1v-75h2v1h1v-1h2v-1h1v-2h-1v-1h-1v1h-2v1h-2v-12h2v-5h-2v-58h-3v76h-2v-1h-2v-8h-1v-40h1v-20h1v2h1v-2h1v-4h-1v-2h-1v3h-1v-2h-2v8h1v9h-1v50h-1v4h1v1h-2v-1h-1v-22h-1v-23h1v-7h-1v-9h1v-8h-1v-5zM150 188h1v1h-1zM134 106v2h-1v33h-1v2h-2v6h-1v8h1v3h2v-2h1v20h1v8h-1v34h1v12h-1v24h1v5h-1v13h1v7h-1v42h1v25h-1v35h1v20h-1v3h1v9h-1v15h1v3h3v-30h1v-74h-1v-5h1v-18h-1v-6h1v-9h-1v-28h1v-37h-1v-19h1v-41h-1v-4h1v-9h-1v-13h1v-29h-1v-2h-1v-2h-1v-1zM101 106v1h-1v4h1v1h1v-1h1v-4h-1v-1zM184 105v1h-1v21h4v-21h-2v-1zM173 104v1h-3v11h5v-10h-1v-2zM122 103v1h-1v22h-1v2h-4v7h4v-2h1v60h-1v1h1v80h1v1h2v-1h1v-79h7v-1h-1v-3h-2v1h-1v1h-3v-88h-1v-1h-1v-1zM493 81v1h-1v1h1v1h1v1h6v-2h-1v-1h-2v-1zM88 81v7h2v-7zM428 80v2h3v1h4v-3zM93 80v8h1v-8zM571 79v1h-4v1h-1v2h1v1h1v1h2v1h2v-1h1v-1h1v-2h1v-2h-1v-1zM544 79v1h-1v2h-1v3h1v1h6v-1h2v-1h1v-3h-1v-1h-1v-1zM593 78v1h-1v5h2v1h1v-1h3v-3h-1v-1h-1v-1h-1v-1zM521 78v1h-2v1h-1v1h-1v1h-1v3h4v-1h4v-1h1v-1h1v-2h-1v-2zM445 78v1h-3v1h-1v3h4v1h1v1h1v1h1v-1h2v-1h2v-2h-2v-1h-1v-2h-1v-1zM470 77v1h-2v1h-1v1h-1v2h1v1h1v1h3v1h3v-1h1v-6h-2v-1zM390 75v1h1v2h1v1h1v4h2v1h5v-1h5v1h1v1h3v-1h5v-1h3v2h4v1h3v-1h1v-2h1v-5h-1v-1h-1v-1h-1v-1h-24v1h1v4h-4v-2h1v-3zM300 75v8h2v1h7v-1h14v1h3v-1h4v-1h3v1h3v1h1v1h3v-1h2v-1h4v1h6v-1h3v1h9v-1h3v1h1v1h2v-1h1v-1h5v-1h1v-1h1v-1h2v-1h1v-1h3v2h-3v1h-1v2h1v1h1v1h1v1h3v-1h1v-1h1v-2h-1v-1h1v-4h-1v-1h-2v-1h-61v1h-2v1h-2v1h-2v-2h2v-1h-7v1h-1v-1zM350 79h2v1h-1v1h1v1h-3v-1h1zM131 75v2h-1v8h-1v-2h-2v5h1v3h2v1h1v-2h1v-1h2v-1h6v6h4v1h2v-5h3v3h2v-1h1v-3h-1v-2h1v1h1v1h1v1h4v3h3v1h3v-4h2v1h1v-1h4v-1h2v1h2v-1h9v1h1v4h3v-4h2v-1h10v5h3v-5h1v1h2v1h1v-1h1v1h1v1h1v-1h2v-2h1v1h2v-1h6v5h1v1h4v-1h1v-3h3v-2h6v3h2v-1h1v-1h3v-1h2v-1h1v1h2v1h1v2h1v-1h2v-2h4v-1h1v1h4v1h2v-1h1v3h2v1h1v-4h3v5h1v1h1v-1h1v-4h1v-1h5v5h2v1h1v-4h1v-1h3v-1h2v2h2v1h2v-1h2v-2h1v1h1v-15h-38v8h-1v1h-1v-9h-105v4h-1v-4h-7v1h-1v4h-1v-5zM128 75v5h1v-5zM116 75v13h1v1h2v-1h1v-3h1v-10zM99 75v10h1v3h1v3h1v-1h1v-12h1v-3zM80 75v22h1v8h-1v405h6v-24h1v-5h-1v-71h1v-7h-1v-83h5v-14h-5v-36h-1v-11h1v-47h1v-8h-1v-5h8v-8h1v59h-1v5h1v71h-1v1h-1v5h1v1h1v168h-1v1h-1v8h5v-110h4v-1h1v-8h-5v-8h1v-5h-1v-13h1v-5h-1v-148h2v-7h-1v-1h-1v-6h2v2h1v1h1v-2h1v-1h2v-1h-2v-1h-1v-1h3v1h1v1h2v1h1v1h-1v37h1v13h-2v1h-1v5h1v1h2v4h1v-1h1v-35h-1v-23h1v-8h2v-1h2v-1h2v9h2v-17h-2v1h-1v4h-3v1h-2v-3h-1v-7h1v-7h-1v-25h1v-13h1v-1h1v-4h-1v-1h-1v-40h1v-11h1v-2h-7v1h1v9h-1v4h1v1h1v-1h1v6h-1v26h1v10h-1v7h1v12h-1v1h-1v5h1v10h1v9h-1v9h1v12h-1v-2h-1v-1h-7v-1h-2v-57h1v-1h1v-5h-1v-2h-1v-52h-3v107h-1v1h-1v4h-7v-112zM99 195h2v1h-2z"/>
<path fill="#00ff93" fill-rule="evenodd" d="M107 504v6h2v-6zM109 484v9h1v-9zM88 437v5h1v-5zM88 415v5h1v-5zM109 406v9h1v-9zM162 395v17h1v-17zM124 393v2h-1v1h1v3h1v-3h1v-1h-1v-2zM111 327v13h1v-13zM157 314v1h1v1h4v-1h-2v-1zM149 284v2h-1v24h1v7h-1v130h1v2h1v-1h1v-163h-1v-1zM91 283v5h1v-5zM154 251v3h1v-3zM185 247v1h-1v8h1v1h3v-1h2v-2h1v-4h-1v-2h-1v-1zM170 239v6h1v-3h1v-1h-1v-2zM91 239v3h1v-3zM104 235v9h1v-9zM372 233v1h-1v2h1v1h2v-1h8v-1h-1v-1h-7v-1zM521 231v1h-1v2h2v1h2v-1h1v-2h-1v-1zM567 228v1h-1v2h1v1h5v-1h1v-2h-1v-1zM157 228v4h1v-4zM270 227v1h-2v1h-5v-1h-1v1h-6v1h-1v6h1v2h-1v2h-1v-2h-1v-5h-1v-1h-1v-1h-1v-1h-1v-1h-2v-1h-3v1h-1v1h-1v1h-1v9h-1v4h-1v3h-1v1h-1v1h-2v-1h-1v-5h1v-3h1v-9h-2v1h-1v1h-2v-1h-1v-1h-4v1h-1v3h-1v-1h-1v-2h-3v1h-1v2h-1v8h-1v4h-1v2h-1v-1h-1v-4h1v-2h1v-10h-1v-2h-1v-1h-4v1h-1v1h-1v4h2v1h3v1h1v3h-1v2h-2v1h-2v1h-1v1h-1v-1h-1v-1h-2v-1h-1v1h-2v-1h-1v4h-1v1h-2v6h-1v2h-1v1h1v1h8v-1h4v-8h1v2h1v2h1v3h-1v1h1v1h1v1h4v-1h6v1h3v1h2v-1h2v-1h9v1h5v-1h3v1h4v-1h20v-1h2v-4h1v-7h1v6h1v4h-1v1h1v1h3v-1h3v1h5v-13h1v-7h1v-7h-1v-2h-2v1h-1v10h-1v2h-2v-2h-1v-2h-1v-1h1v-2h1v-2h1v-4h-1v-1h-2v1h-1v1h-2v2h-1v1h-1v-1h-1v-1h-1v-2h-1v-1zM261 245h2v2h-1v1h-1zM220 245h2v3h-2zM227 243h2v2h1v4h-1v-1h-1v-1h-1v-1h-1v-2h1zM595 226v1h-1v1h-1v1h-1v1h1v2h1v1h2v1h2v-1h1v-2h1v-5zM385 226v1h4v1h5v-1h2v-1zM484 224v1h-80v1h-3v2h1v1h1v1h-1v1h-14v2h1v1h-1v1h1v1h11v1h2v1h109v-1h1v-12h-16v-1zM151 195v1h2v-1zM165 190v1h-1v1h3v-1h1v-1zM154 184v4h1v-1h1v-2h-1v-1zM187 173v5h1v-5zM174 164v7h-1v5h-1v4h-1v9h-1v23h1v-16h2v3h-1v3h1v-1h1v6h1v-43zM173 185h1v9h-2v1h-1v-5h1v-4h1zM170 152v3h1v-1h1v-1h-1v-1zM130 150v6h2v-6zM154 143v5h1v-5zM174 142v4h-1v13h1v-8h1v-9zM117 130v3h3v-3zM155 125v7h1v-7zM180 118v5h1v-5zM160 115v151h3v-151h-1v1h-1v-1zM147 115v23h-1v10h1v118h-1v6h1v9h3v-37h2v-5h-2v-23h1v-10h-1v-16h1v1h2v1h5v-1h-1v-1h-3v-1h-4v-8h1v-12h-1v-54zM134 108v38h-1v11h1v36h-1v4h1v40h-1v11h1v177h-1v1h1v6h3v-36h1v-9h-1v-28h1v-17h-1v-103h1v-8h-1v-45h1v-14h-1v-56h1v-3h-1v-3h-2v-2zM184 106v2h-1v15h1v-1h1v4h1v-16h-1v-4zM172 105v1h-2v8h1v1h2v1h1v-2h1v-3h-1v-6zM121 104v169h1v1h2v-1h1v-167h-1v-2zM88 85v3h1v-3zM382 82v1h4v-1zM407 81v1h-2v1h5v-1h-2v-1zM470 80v1h-1v1h2v-1h1v-1zM421 80v1h-4v1h-2v1h6v1h4v-4zM402 75v4h1v1h5v-1h1v-2h2v-1h2v1h1v1h5v-1h1v-1h1v-1zM392 75v2h1v1h2v-3zM356 75v1h-2v6h1v1h14v-1h4v-1h2v-1h1v-1h2v-1h1v-3h-4v4h-4v-1h-1v-2h-2v-1zM325 75v1h-1v1h-2v1h-1v1h1v1h1v2h-1v1h4v-1h2v-1h5v1h2v1h7v-1h3v-1h1v-1h1v-1h2v-1h1v-1h1v-1h-1v-1h-6v1h-4v-1h-1v1h-1v3h-3v-1h-1v-1h-2v-2zM340 79h2v2h-1v-1h-1zM300 75v8h11v-2h1v-1h1v-1h-1v-1h-1v1h-1v1h-3v-1h-1v-2h1v-1h2v-1zM259 75v10h-1v-2h-1v3h-1v2h1v1h1v-1h1v1h1v1h2v-1h1v3h3v-3h3v5h3v-5h6v4h1v1h2v-4h2v-1h3v-1h1v2h1v1h4v-1h1v-2h1v1h1v-14h-4v2h-1v-1h-1v-1zM151 75v6h1v5h1v3h5v3h3v1h1v1h1v-1h1v-3h1v-1h1v1h1v-1h18v5h3v-5h10v-1h2v6h3v-5h3v1h3v1h3v-2h9v5h3v1h1v-1h2v-3h3v-3h2v1h2v-1h1v1h1v2h3v-2h1v1h1v-1h2v-1h1v-3h1v3h1v1h2v2h2v-1h1v-1h3v-1h1v-13h-18v2h-1v-2h-5v12h-1v-12zM159 79h1v4h-1v-1h-1v-2h1zM142 75v4h-1v4h-1v11h5v1h1v-5h2v-1h1v4h1v-10h-1v-8zM131 75v6h-1v6h-2v3h2v2h1v-2h1v-1h1v-1h2v-2h2v2h1v-3h1v-10zM117 75v14h1v-1h1v-1h1v-9h1v-3zM107 75v3h1v1h1v5h-1v-1h-1v4h-1v1h1v1h2v114h-1v14h1v34h-2v3h2v5h1v-2h1v-19h-1v-46h4v-1h2v-2h-4v1h-1v1h-1v-96h1v-9h-1v-2h1v-2h1v-6h1v-1zM99 75v8h1v5h1v2h1v-1h1v-14zM80 75v16h1v17h-1v3h1v3h-1v15h1v3h-1v19h1v11h-1v17h1v8h-1v73h1v27h-1v11h1v9h-1v14h1v16h-1v28h1v13h-1v108h1v24h4v-6h1v-47h-1v-6h1v-32h-1v-10h1v-29h-1v-11h1v-19h-1v-3h1v-11h-1v-6h1v-6h-1v-4h6v-13h-1v-1h-4v-24h-1v-34h1v-38h1v-4h-1v-7h8v-10h1v315h-1v6h4v-111h4v-7h-4v-181h1v-5h-1v-12h3v-1h-3v-59h1v-5h-1v-53h-3v107h-1v5h-1v-1h-8v-5h1v-35h-1v-6h1v-19h-1v-5h1v-19h-1v-13h1v-9h-1v-1z"/>
<path fill="#00ff60" fill-rule="evenodd" d="M149 285v3h-1v18h1v20h-1v25h1v19h-1v36h1v12h-1v18h1v12h1v-2h1v-3h-1v-9h1v-13h-1v-9h1v-17h-1v-11h1v-25h-1v-15h1v-58h-1v-1zM276 255v1h1v-1zM185 247v2h-1v4h1v3h3v-1h1v-3h1v-2h-1v-2h-1v-1zM200 246v1h-1v9h1v1h3v-1h2v-1h1v-2h1v-6h-1v-1h-2v1h-1v1h-1v-1h-1v-1zM394 233v1h-1v1h2v-1h1v-1zM210 230v1h-1v2h1v1h3v-1h1v-2h-1v-1zM278 229v1h-1v1h-1v6h-1v14h1v2h1v-1h2v1h1v3h3v1h1v-1h1v-9h1v-5h1v-7h1v-4h-1v-2h-2v8h-1v4h-1v4h1v2h-3v-5h-1v-2h-1v-2h-1v-4h1v-1h1v-1h1v-3zM269 228v1h-1v1h-1v1h-2v-1h-8v1h-1v9h-1v1h-2v-5h-1v-2h-1v-1h-1v3h-1v-2h-1v-1h1v-1h-1v-1h-1v-2h-3v1h-1v1h-1v13h1v1h-3v2h-1v2h-2v1h-1v2h-1v-2h-1v-3h-1v-4h1v-3h1v-8h-1v2h-1v1h-3v-3h-2v4h-1v1h-2v1h-1v-1h-1v-2h-1v-1h-1v-1h-1v2h-1v5h1v2h1v1h1v1h2v-1h1v-1h2v-1h1v-3h1v4h1v3h1v1h1v3h-1v4h-1v-1h-1v-3h-2v-1h-2v-1h-2v2h-2v1h-1v-1h-1v-2h-1v1h-1v1h-1v1h-2v-2h-1v-4h-2v1h-1v5h1v6h1v1h12v1h4v-1h1v-1h8v1h3v1h2v-1h14v-1h14v-1h1v-2h1v-12h1v-10h-1v-2h-1v-1zM258 253h1v2h-1zM261 243h3v5h-1v2h-2v-1h-1v-4h1zM249 239h2v6h-1v-3h-1zM406 225v1h-2v2h1v2h-1v1h-2v1h-2v1h1v1h2v1h-1v2h3v1h14v-1h10v1h44v-1h20v1h17v-1h1v-1h1v-10h-1v-1h-33v1h-2v-1h-7v1h-4v-1h-14v1h-7v-1zM495 229h3v1h-3zM174 192v3h-1v1h1v7h1v-11zM153 190v1h2v1h2v-1h-2v-1zM112 190v1h2v-1zM109 174v33h-1v3h1v34h1v-70zM174 172v4h1v-4zM160 116v149h2v1h1v-150h-1v1h-1v-1zM148 115v1h-1v164h1v1h2v-166zM134 110v322h2v-1h1v-321zM173 106v1h-1v3h1v5h1v-9zM122 104v1h-1v107h1v8h-1v36h1v11h-1v5h1v2h2v-2h1v-51h-1v-12h1v-53h-1v-11h1v-36h-1v-4h-1v-1zM109 92v71h1v-71zM257 87v1h1v-1zM107 86v3h1v-3zM337 81v1h1v-1zM300 79v3h5v1h3v-1h-2v-1h-1v-1h-1v-1zM363 78v2h-1v1h4v-1h1v-2zM405 77v1h2v-1zM358 76v1h-2v2h4v-3zM326 76v1h-1v1h-1v1h1v1h4v-3h-1v-1zM95 76v434h3v-434zM293 75v2h-1v1h-1v3h-1v-1h-1v-3h-1v5h-1v3h1v5h1v1h2v-1h1v-4h1v2h1v1h1v-14zM260 75v12h-1v1h1v1h2v-1h1v1h1v3h2v-4h3v5h1v1h1v-1h1v-4h1v-1h3v1h2v4h2v1h1v-4h1v-1h3v-1h1v-11h1v-2h-18v5h1v4h-1v3h-2v-12zM279 77h2v4h-1v1h-1zM232 75v13h4v3h2v-1h1v-1h3v-1h1v-5h1v-4h1v5h1v5h2v2h2v-1h1v-2h3v-12h1v-1h-17v7h-1v1h-1v-8zM153 75v2h1v7h-1v4h1v1h4v3h3v1h3v-13h2v2h1v3h-1v5h1v-1h4v-1h2v1h4v-1h4v1h4v4h3v-4h3v-1h2v1h1v-1h4v-2h-1v-1h-1v-5h1v1h1v2h1v1h1v-3h1v-2h1v8h-1v2h-1v4h1v1h1v-1h1v-5h1v1h2v1h3v1h1v-1h1v-5h1v-6h1v8h-1v1h1v1h3v-1h5v6h5v-1h1v-3h2v-13h1v-2h-20v1h-1v-1h-49v1h1v11h-1v1h-1v-1h-1v-11h1v-1zM178 76h1v3h1v7h-2zM143 75v2h-1v6h-1v10h1v1h4v-5h3v-10h-1v-4zM131 75v9h-1v7h1v-2h1v-1h1v-1h1v-1h1v-2h1v-1h1v1h1v-4h1v-5zM117 75v13h1v-1h1v-2h1v-10zM109 75v5h1v2h1v-3h1v-4zM99 75v5h1v5h1v5h1v-4h1v-11zM80 75v15h1v28h-1v5h1v43h-1v8h1v14h-1v11h1v46h-1v6h1v58h-1v10h1v30h-1v7h1v35h-1v21h1v39h-1v5h1v54h4v-24h1v-4h-1v-4h1v-17h-1v-59h1v-14h-1v-25h1v-5h-1v-39h5v-1h1v-10h-1v-1h-5v-9h1v-9h-1v-60h1v-7h-1v-23h8v-1h1v-6h-1v-5h-3v1h-2v-1h-3v-103h1v-3h-1v-6z"/>
<path fill="#00ff2c" fill-rule="evenodd" d="M149 405v43h1v-43zM149 388v13h1v-13zM149 358v15h1v-15zM149 320v35h1v-35zM149 285v9h-1v8h1v3h1v-20zM280 249v2h1v2h1v1h1v-4h-1v-1zM200 249v6h1v1h2v-3h-1v-3h-1v-1zM269 248v3h1v1h1v-4zM204 248v2h-1v2h2v-1h1v-3zM186 247v1h-1v7h1v1h1v-3h1v-5h-1v-1zM211 246v5h1v5h1v1h1v-1h8v1h6v-1h1v-4h-1v-2h-1v-1h-4v1h-1v1h-1v1h-2v-2h-1v-1h-1v2h-1v2h-2v-2h-1v-4h-1v-1zM231 241v1h1v-1zM276 238v6h1v1h2v-4h-1v-2h-1v-1zM221 237v3h1v1h1v-3h-1v-1zM285 230v9h-1v6h2v-7h1v-8zM244 230v1h-1v12h1v4h-3v1h-1v1h-1v1h-1v1h-1v5h1v1h5v-1h4v1h2v-1h7v-3h1v-2h1v-1h1v-8h1v-1h2v-1h1v-1h1v-5h1v-2h-1v-1h-6v1h-1v9h-1v1h-1v1h-1v1h-1v3h-3v-1h-1v-8h-1v-3h-1v-4h-1v-1zM269 229v1h-1v2h-1v1h1v5h-1v2h-1v3h-1v6h-1v5h2v-2h1v-6h1v-2h2v-1h1v-2h1v-11h-1v-1zM109 227v8h1v-8zM454 225v1h-2v1h1v1h4v-1h3v-2zM408 225v1h-2v2h1v1h1v2h-3v1h-2v1h2v1h2v1h-2v1h-1v1h5v1h2v-1h9v-1h-1v-1h3v1h3v1h9v1h4v-1h18v1h12v-1h4v-1h1v-1h10v-1h7v1h2v1h1v1h5v1h9v-1h2v-1h2v-2h-12v-1h-1v-1h13v-4h-3v1h-6v1h-4v2h-15v-1h-1v-1h5v-1h6v-1h10v-2h-2v-1h-20v2h-3v1h-8v-1h-8v1h-2v1h-1v1h-2v1h-9v-1h-7v-1h-1v-1h2v-1h1v-1h-3v-1h-5v1h-12v-1zM412 233h2v1h-2zM426 229h9v1h-1v1h-2v1h-1v2h-9v-1h-1v-1h2v-1h2v-1h1zM416 228h8v1h-2v1h-6zM109 195v18h1v-18zM160 118v147h1v-1h1v1h1v-135h-1v1h-1v-13zM161 196h1v9h-1zM162 117v10h1v-10zM148 116v1h-1v52h1v15h-1v93h1v-11h1v13h1v-18h-1v-12h1v-47h-1v-13h1v-73zM134 111v320h2v-1h1v-319zM135 238h1v11h-1zM122 105v18h-1v3h1v29h-1v24h1v53h-1v3h1v38h2v-32h1v-13h-1v-98h1v-15h-1v-9h-1v-1zM109 98v42h1v-42zM158 90v1h1v-1zM236 87v3h2v-3zM288 84v2h1v4h2v-4h-1v-2zM261 81v1h-1v7h2v-2h1v-3h-1v-3zM170 79v3h-1v2h-1v1h-1v3h3v1h1v-10zM95 77v356h1v9h-1v68h3v-31h-1v-5h1v-397zM96 483h1v6h-1zM96 409h1v3h-1zM294 75v13h1v-13zM270 75v14h-1v4h3v-5h1v-1h1v-2h1v2h1v1h2v4h1v1h2v-4h3v-1h1v-12h1v-1h-3v2h-1v4h-1v4h-1v1h-2v-11zM264 75v6h1v6h1v-12zM246 75v13h2v2h2v-3h1v-1h1v1h1v-3h1v-9zM239 75v13h1v1h1v-1h1v-6h1v-2h1v-5zM232 75v13h1v-4h1v-5h1v-4zM215 75v11h-1v2h3v-6h1v1h1v1h1v-1h1v3h1v2h2v6h1v-1h1v-4h2v-7h1v-7zM205 75v5h-1v8h2v1h3v-14zM198 75v3h1v2h1v-2h1v-3zM180 75v4h1v9h4v5h3v-5h3v-4h1v3h1v1h2v-11h1v-2h-6v2h-1v6h-1v3h-2v-11h-2v3h-1v-3zM172 75v1h1v13h2v-1h3v-2h-1v-11zM170 75v2h1v-2zM166 75v1h2v-1zM161 75v1h1v12h-1v2h-1v1h1v1h1v1h1v-1h1v-9h-1v-1h1v-7zM154 75v13h4v-1h-1v-12zM143 75v9h-1v8h1v1h3v-4h3v-6h-1v-7h-1v-1zM131 75v12h-1v4h1v-2h1v-1h1v-6h1v1h1v-2h1v-1h1v1h1v-5h1v-1zM117 75v13h1v-3h1v-3h1v-7zM110 75v5h1v-3h1v-2zM100 75v8h1v5h1v-8h1v-5zM80 75v15h1v99h-1v2h1v4h-1v3h1v113h-1v4h1v195h4v-37h1v-8h-1v-146h4v-3h1v-7h-1v1h-1v1h-2v-4h-1v-108h6v-1h1v1h1v-1h1v-5h-1v-5h-1v-1h-1v1h-1v1h-1v-1h-4v-113zM88 194h2v2h-2zM85 193h1v2h-1z"/>
<path fill="#0cff00" fill-rule="evenodd" d="M97 489v21h1v-21zM95 487v23h1v-23zM95 461v11h1v6h1v-15h-1v-2zM97 430v8h-1v11h-1v1h1v3h1v-8h1v-15zM149 419v12h1v-12zM95 404v25h1v-25zM97 395v2h-1v1h1v5h1v-8zM149 364v5h1v-5zM149 328v19h1v-19zM135 320v5h-1v6h1v16h-1v46h1v18h-1v19h2v-20h1v-3h-1v-14h-1v-1h1v-6h1v-14h-1v-12h1v-21h-1v-19zM149 286v13h1v-13zM122 262v10h2v-7h-1v-3zM224 250v1h-1v1h-1v2h-1v1h1v1h2v1h3v-1h1v-4h-1v-1h-1v-1zM186 249v1h-1v1h1v2h1v-4zM255 243v2h-1v6h1v1h1v-1h1v-8zM160 243v6h1v-6zM285 239v4h1v-4zM431 236v1h5v-1zM496 235v1h1v1h9v-2zM409 235v1h-1v1h5v-1h-2v-1zM262 235v1h1v-1zM286 231v1h-1v1h1v1h1v-3zM245 231v1h-1v1h1v2h-1v10h1v3h-4v1h-1v1h-1v1h-1v2h-1v2h1v1h3v1h1v-1h1v-1h1v-1h1v-1h1v1h3v-1h3v-3h-1v-1h-1v-1h-1v-3h-1v-9h-1v-2h-1v-3zM269 230v5h1v2h1v-2h1v-4h-1v-1zM162 229v2h-1v10h1v23h1v-35zM480 228v1h-15v1h-4v1h-2v1h-9v1h2v1h1v1h-3v1h5v-1h-1v-1h3v-1h8v1h9v-1h4v-1h-2v-1h2v-1h3v-1h1v-1zM435 226v1h4v-1zM421 226v1h3v1h6v-1h-3v-1zM409 226v2h1v1h2v-1h3v-1h2v-1zM484 225v2h3v1h9v-1h4v-1h-2v-1zM122 212v27h1v3h-1v7h1v8h1v-29h-1v-16zM109 199v11h1v-11zM134 195v12h1v3h-1v95h1v-11h1v25h1v-39h-1v-3h1v-21h-1v-3h-1v-19h1v9h1v-41h-1v-3h-1v-4zM147 188v13h1v16h-1v9h1v15h-1v30h1v-21h1v-6h1v-30h-1v-17h-1v-9zM91 188v2h-3v1h-1v1h1v1h3v4h1v1h1v-6h-1v-4zM148 166v5h1v1h1v-6zM95 153v156h1v16h-1v62h1v-1h2v-24h-1v-10h1v-78h-1v1h-1v-16h1v5h1v-28h-1v4h-1v-11h1v-14h1v-37h-1v-2h-1v-23zM149 147v2h1v-2zM122 147v13h-1v3h1v4h1v30h-1v8h1v-1h1v-55h-1v-2zM160 129v15h1v10h-1v70h1v-5h1v-4h1v-42h-1v-9h-1v-9h1v3h1v-20h-1v1h-1v-10zM161 187h1v27h-1zM161 177h1v4h-1zM97 129v2h-1v16h1v12h1v-30zM148 117v1h-1v28h1v-12h1v-2h1v-14h-1v-1zM134 112v76h1v6h1v-4h1v-78zM135 166h1v10h-1zM109 107v6h1v-6zM122 106v9h1v1h-1v23h1v-15h1v-16h-1v-2zM130 89v1h1v-1zM185 88v4h1v-4zM162 87v4h-1v1h3v-2h-1v-3zM170 86v2h1v-2zM271 85v5h-1v2h2v-7zM261 84v2h-1v2h2v-4zM283 81v1h-1v3h-1v2h-1v1h-1v4h1v1h1v-4h1v-1h2v-7zM294 80v6h1v-6zM95 78v47h1v-1h1v-9h1v-20h-1v-4h1v-13h-1v1h-1v-1zM276 75v11h1v-1h1v-10zM250 75v7h1v1h1v-2h1v-5h1v-1zM247 75v8h1v-7h1v-1zM240 75v13h1v-4h1v-6h1v-1h1v-2zM218 75v2h1v2h2v3h1v2h2v3h1v1h1v-2h1v-2h1v-9zM206 75v1h-1v8h2v-1h1v-8zM199 75v1h1v-1zM181 75v3h1v-3zM173 75v13h2v-2h1v-2h1v-3h-1v-6zM162 75v4h1v-4zM155 75v8h1v-6h1v-2zM143 75v2h1v8h2v3h2v-6h-1v-7zM134 75v3h2v-2h1v2h1v-3zM132 75v3h-1v10h1v-6h1v-7zM118 75v6h1v-6zM110 75v2h1v-2zM100 75v5h1v5h1v-10zM83 75v1h-3v14h1v420h4v-195h3v-1h-3v-116h3v-1h-3v-122z"/>
<path fill="#74ff00" fill-rule="evenodd" d="M81 437v22h1v10h-1v20h1v15h-1v6h2v-3h1v3h1v-67h-1v7h-1v-4h-1v-9zM134 375v12h1v-12zM95 337v18h1v-1h1v-10h-1v-7zM135 328v4h1v-4zM96 282v13h-1v9h2v-1h1v-11h-1v-10zM134 269v9h1v-9zM224 253v3h3v-3zM241 250v2h-1v3h2v-1h1v-4zM247 248v2h1v-2zM134 244v3h1v-3zM97 244v5h1v-5zM95 244v3h1v-3zM245 236v2h-1v4h1v3h1v2h1v-1h1v-8h-1v-2zM123 233v5h1v-5zM270 231v2h1v-2zM488 226v1h8v-1zM149 226v7h1v-7zM135 210v7h-1v14h2v5h1v-23h-1v-3zM95 206v14h1v3h1v-12h-1v-5zM97 198v5h1v-5zM96 184v5h1v-5zM160 182v5h1v-5zM136 179v3h1v-3zM160 162v5h1v-5zM122 156v7h1v-7zM134 133v5h1v2h1v-4h-1v-3zM147 124v6h1v-6zM95 93v6h1v19h1v-21h-1v-4zM280 89v2h-1v1h2v-3zM225 77v4h1v-4zM80 76v12h1v10h1v7h-1v23h1v13h-1v18h1v1h1v11h-1v-2h-1v51h1v9h-1v49h1v22h-1v89h1v7h-1v29h1v10h2v1h1v-10h-1v-7h-1v-4h1v-1h1v-30h-1v-2h-1v-7h1v-3h1v-9h-1v-12h1v-10h-1v-9h1v-47h-1v-16h1v-13h-1v-6h1v-37h-1v-27h1v-87h-2v-1h1v-9h1v-13zM82 344h1v11h-1zM83 220h1v8h-1zM82 90h1v4h-1zM241 75v2h1v-2zM221 75v3h1v2h1v-5zM144 75v4h1v1h1v-5z"/></g>
<rect x="79.5" y="59.5" width="521.0" height="451.0" fill="none" stroke="#333" stroke-width="1"/>
<text x="67.0" y="65.0" font-size="13" text-anchor="end">0.</text>
<text x="67.0" y="125.0" font-size="13" text-anchor="end">1.</text>
<text x="67.0" y="185.0" font-size="13" text-anchor="end">2.</text>
<text x="67.0" y="245.0" font-size="13" text-anchor="end">3.</text>
<text x="67.0" y="305.0" font-size="13" text-anchor="end">4.</text>
<text x="67.0" y="365.0" font-size="13" text-anchor="end">5.</text>
<text x="67.0" y="425.0" font-size="13" text-anchor="end">6.</text>
<text x="67.0" y="485.0" font-size="13" text-anchor="end">7.</text>
<text x="166.8" y="537" font-size="13" text-anchor="middle">1.</text>
<text x="262.8" y="537" font-size="13" text-anchor="middle">2.</text>
<text x="359.8" y="537" font-size="13" text-anchor="middle">3.</text>
<text x="455.8" y="537" font-size="13" text-anchor="middle">4.</text>
<text x="551.8" y="537" font-size="13" text-anchor="middle">5.</text>
<text x="347.5" y="557.6" font-size="14" text-anchor="middle">Frequency (MHz)</text>
<text x="613.5" y="65.0" font-size="13" letter-spacing="0.35">0.</text>
<text x="613.5" y="145.0" font-size="13" letter-spacing="0.35">200.</text>
<text x="613.5" y="225.0" font-size="13" letter-spacing="0.35">400.</text>
<text x="613.5" y="305.0" font-size="13" letter-spacing="0.35">600.</text>
<text x="613.5" y="385.0" font-size="13" letter-spacing="0.35">800.</text>
<text x="613.5" y="465.0" font-size="13" letter-spacing="0.35">1000.</text>
<text transform="translate(39.5,279) rotate(-90)" font-size="14" text-anchor="middle">Time Delay (ms)</text>
<text transform="translate(654.5,284.5) rotate(90)" font-size="14" text-anchor="middle">Apparent Range (km)</text>
<rect x="740" y="60" width="20" height="450" fill="url(#cb)"/>
<rect x="739.5" y="59.5" width="21" height="451" fill="none" stroke="#333"/>
<text x="730.5" y="67.6" font-size="13.5" text-anchor="end">10<tspan dy="-6.85">-9</tspan></text>
<text x="730.5" y="123.8" font-size="13.5" text-anchor="end">10<tspan dy="-6.85">-10</tspan></text>
<text x="730.5" y="180.1" font-size="13.5" text-anchor="end">10<tspan dy="-6.85">-11</tspan></text>
<text x="730.5" y="236.3" font-size="13.5" text-anchor="end">10<tspan dy="-6.85">-12</tspan></text>
<text x="730.5" y="292.6" font-size="13.5" text-anchor="end">10<tspan dy="-6.85">-13</tspan></text>
<text x="730.5" y="348.9" font-size="13.5" text-anchor="end">10<tspan dy="-6.85">-14</tspan></text>
<text x="730.5" y="405.1" font-size="13.5" text-anchor="end">10<tspan dy="-6.85">-15</tspan></text>
<text x="730.5" y="461.4" font-size="13.5" text-anchor="end">10<tspan dy="-6.85">-16</tspan></text>
<text x="730.5" y="517.6" font-size="13.5" text-anchor="end">10<tspan dy="-6.85">-17</tspan></text>
<path d="M70.0 60.5H80.0M75.0 66.5H80.0M75.0 72.5H80.0M75.0 78.5H80.0M75.0 84.5H80.0M75.0 90.5H80.0M75.0 96.5H80.0M75.0 102.5H80.0M75.0 108.5H80.0M75.0 114.5H80.0M70.0 120.5H80.0M75.0 126.5H80.0M75.0 132.5H80.0M75.0 138.5H80.0M75.0 144.5H80.0M75.0 150.5H80.0M75.0 156.5H80.0M75.0 162.5H80.0M75.0 168.5H80.0M75.0 174.5H80.0M70.0 180.5H80.0M75.0 186.5H80.0M75.0 192.5H80.0M75.0 198.5H80.0M75.0 204.5H80.0M75.0 210.5H80.0M75.0 216.5H80.0M75.0 222.5H80.0M75.0 228.5H80.0M75.0 234.5H80.0M70.0 240.5H80.0M75.0 246.5H80.0M75.0 252.5H80.0M75.0 258.5H80.0M75.0 264.5H80.0M75.0 270.5H80.0M75.0 276.5H80.0M75.0 282.5H80.0M75.0 288.5H80.0M75.0 294.5H80.0M70.0 300.5H80.0M75.0 306.5H80.0M75.0 312.5H80.0M75.0 318.5H80.0M75.0 324.5H80.0M75.0 330.5H80.0M75.0 336.5H80.0M75.0 342.5H80.0M75.0 348.5H80.0M75.0 354.5H80.0M70.0 360.5H80.0M75.0 366.5H80.0M75.0 372.5H80.0M75.0 378.5H80.0M75.0 384.5H80.0M75.0 390.5H80.0M75.0 396.5H80.0M75.0 402.5H80.0M75.0 408.5H80.0M75.0 414.5H80.0M70.0 420.5H80.0M75.0 426.5H80.0M75.0 432.5H80.0M75.0 438.5H80.0M75.0 444.5H80.0M75.0 450.5H80.0M75.0 456.5H80.0M75.0 462.5H80.0M75.0 468.5H80.0M75.0 474.5H80.0M70.0 480.5H80.0M75.0 486.5H80.0M75.0 492.5H80.0M75.0 498.5H80.0M75.0 504.5H80.0M75.0 510.5H80.0M80.5 510.0V515.0M89.5 510.0V515.0M99.5 510.0V515.0M108.5 510.0V515.0M118.5 510.0V515.0M128.5 510.0V515.0M137.5 510.0V515.0M147.5 510.0V515.0M157.5 510.0V515.0M166.5 510.0V520.0M176.5 510.0V515.0M185.5 510.0V515.0M195.5 510.0V515.0M205.5 510.0V515.0M214.5 510.0V515.0M224.5 510.0V515.0M234.5 510.0V515.0M243.5 510.0V515.0M253.5 510.0V515.0M262.5 510.0V520.0M272.5 510.0V515.0M282.5 510.0V515.0M291.5 510.0V515.0M301.5 510.0V515.0M311.5 510.0V515.0M320.5 510.0V515.0M330.5 510.0V515.0M340.5 510.0V515.0M349.5 510.0V515.0M359.5 510.0V520.0M368.5 510.0V515.0M378.5 510.0V515.0M388.5 510.0V515.0M397.5 510.0V515.0M407.5 510.0V515.0M417.5 510.0V515.0M426.5 510.0V515.0M436.5 510.0V515.0M445.5 510.0V515.0M455.5 510.0V520.0M465.5 510.0V515.0M474.5 510.0V515.0M484.5 510.0V515.0M494.5 510.0V515.0M503.5 510.0V515.0M513.5 510.0V515.0M522.5 510.0V515.0M532.5 510.0V515.0M542.5 510.0V515.0M551.5 510.0V520.0M561.5 510.0V515.0M571.5 510.0V515.0M580.5 510.0V515.0M590.5 510.0V515.0M600.5 510.0V515.0M600 60.5H610.0M600 100.5H605.0M600 140.5H610.0M600 180.5H605.0M600 220.5H610.0M600 260.5H605.0M600 300.5H610.0M600 340.5H605.0M600 380.5H610.0M600 420.5H605.0M600 460.5H610.0M600 500.5H605.0M730 60.5H739.5M760.5 60.5H770M735 99.5H739.5M760.5 99.5H765M735 89.5H739.5M760.5 89.5H765M735 82.5H739.5M760.5 82.5H765M735 77.5H739.5M760.5 77.5H765M735 72.5H739.5M760.5 72.5H765M735 69.5H739.5M760.5 69.5H765M735 65.5H739.5M760.5 65.5H765M735 63.5H739.5M760.5 63.5H765M730 116.5H739.5M760.5 116.5H770M735 156.5H739.5M760.5 156.5H765M735 146.5H739.5M760.5 146.5H765M735 139.5H739.5M760.5 139.5H765M735 133.5H739.5M760.5 133.5H765M735 129.5H739.5M760.5 129.5H765M735 125.5H739.5M760.5 125.5H765M735 122.5H739.5M760.5 122.5H765M735 119.5H739.5M760.5 119.5H765M730 172.5H739.5M760.5 172.5H770M735 212.5H739.5M760.5 212.5H765M735 202.5H739.5M760.5 202.5H765M735 195.5H739.5M760.5 195.5H765M735 189.5H739.5M760.5 189.5H765M735 185.5H739.5M760.5 185.5H765M735 181.5H739.5M760.5 181.5H765M735 178.5H739.5M760.5 178.5H765M735 175.5H739.5M760.5 175.5H765M730 229.5H739.5M760.5 229.5H770M735 268.5H739.5M760.5 268.5H765M735 258.5H739.5M760.5 258.5H765M735 251.5H739.5M760.5 251.5H765M735 246.5H739.5M760.5 246.5H765M735 241.5H739.5M760.5 241.5H765M735 237.5H739.5M760.5 237.5H765M735 234.5H739.5M760.5 234.5H765M735 231.5H739.5M760.5 231.5H765M730 285.5H739.5M760.5 285.5H770M735 324.5H739.5M760.5 324.5H765M735 314.5H739.5M760.5 314.5H765M735 307.5H739.5M760.5 307.5H765M735 302.5H739.5M760.5 302.5H765M735 297.5H739.5M760.5 297.5H765M735 294.5H739.5M760.5 294.5H765M735 290.5H739.5M760.5 290.5H765M735 288.5H739.5M760.5 288.5H765M730 341.5H739.5M760.5 341.5H770M735 381.5H739.5M760.5 381.5H765M735 371.5H739.5M760.5 371.5H765M735 364.5H739.5M760.5 364.5H765M735 358.5H739.5M760.5 358.5H765M735 354.5H739.5M760.5 354.5H765M735 350.5H739.5M760.5 350.5H765M735 347.5H739.5M760.5 347.5H765M735 344.5H739.5M760.5 344.5H765M730 398.5H739.5M760.5 398.5H770M735 437.5H739.5M760.5 437.5H765M735 427.5H739.5M760.5 427.5H765M735 420.5H739.5M760.5 420.5H765M735 414.5H739.5M760.5 414.5H765M735 410.5H739.5M760.5 410.5H765M735 406.5H739.5M760.5 406.5H765M735 403.5H739.5M760.5 403.5H765M735 400.5H739.5M760.5 400.5H765M730 454.5H739.5M760.5 454.5H770M735 493.5H739.5M760.5 493.5H765M735 483.5H739.5M760.5 483.5H765M735 476.5H739.5M760.5 476.5H765M735 471.5H739.5M760.5 471.5H765M735 466.5H739.5M760.5 466.5H765M735 462.5H739.5M760.5 462.5H765M735 459.5H739.5M760.5 459.5H765M735 456.5H739.5M760.5 456.5H765M730 510.5H770" stroke="#333" stroke-width="1" fill="none"/>
<text x="712.5" y="551.6" font-size="14">V</text><text x="724.8" y="547" font-size="7.5">2</text>
<text x="733.5" y="551.6" font-size="14">m</text><text x="746.6" y="547" font-size="7.5">-2</text>
<text x="758.5" y="551.6" font-size="14">Hz</text><text x="775.6" y="547" font-size="7.5">-1</text>
<text x="724" y="582" font-size="7.5" textLength="57.6">UIOWA 20110406</text>
</svg></body></html>
